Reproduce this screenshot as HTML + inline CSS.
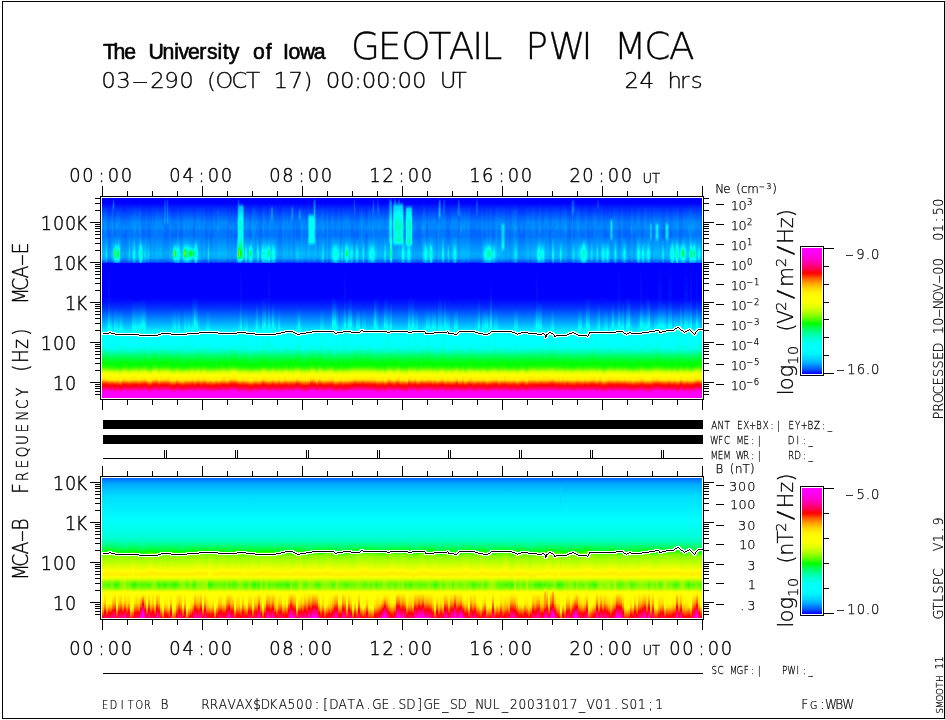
<!DOCTYPE html>
<html lang="en"><head><meta charset="utf-8"><title>GEOTAIL PWI MCA</title>
<style>html,body{margin:0;padding:0;background:#fff;overflow:hidden}#pg{position:relative;width:945px;height:720px;overflow:hidden;background:#fff}#s1a,#s1b,#s2{position:absolute;left:102px;width:600px;overflow:hidden;font-size:0;line-height:0}#s1a{top:198px;height:65px}#s1b{top:263px;height:135px}#s2{top:478px;height:140px}i{display:block;float:left;width:2px;height:100%;background:linear-gradient(var(--g))}#s1a i{width:1px}svg{position:absolute;left:0;top:0;display:block}text{fill:#000}</style>
</head><body><div id="pg">
<div id="s1a"><i style="--g:#00f,#00f 5px,#03f 11px,#08f 24px,#08f 30px,#07f 33px,#07f 38px,#0bf 56px,#0af 60px,#07f 63px,#03f"></i><i style="--g:#00f,#00f 5px,#03f 11px,#08f 24px,#08f 30px,#07f 33px,#07f 38px,#0bf 56px,#0af 60px,#07f 63px,#03f"></i><i style="--g:#00f,#00f 5px,#05f 14px,#08f 24px,#09f 30px,#08f 33px,#07f 38px,#0bf 56px,#0af 60px,#07f 63px,#04f"></i><i style="--g:#00f,#00f 5px,#03f 11px,#08f 24px,#09f 30px,#08f 33px,#07f 38px,#0cf 56px,#0bf 60px,#08f 63px,#04f"></i><i style="--g:#00f,#00f 5px,#03f 11px,#08f 24px,#08f 30px,#07f 33px,#07f 38px,#0ef 56px,#0df 60px,#09f 63px,#05f"></i><i style="--g:#00f,#00f 5px,#03f 11px,#07f 24px,#08f 30px,#07f 33px,#07f 38px,#0bf 56px,#0af 60px,#07f 63px,#03f"></i><i style="--g:#00f,#00f 5px,#01f 7px,#07f 24px,#07f 30px,#06f 33px,#06f 38px,#0af 56px,#09f 60px,#06f 63px,#03f"></i><i style="--g:#00f,#00f 5px,#01f 7px,#07f 24px,#08f 30px,#06f 33px,#06f 38px,#0af 56px,#09f 60px,#06f 63px,#03f"></i><i style="--g:#00f,#00f 5px,#01f 7px,#07f 24px,#08f 30px,#07f 33px,#06f 38px,#0af 56px,#09f 60px,#06f 63px,#03f"></i><i style="--g:#00f,#00f 5px,#03f 11px,#08f 24px,#08f 30px,#07f 33px,#07f 38px,#0bf 56px,#0af 60px,#07f 63px,#03f"></i><i style="--g:#00f,#01f 5px,#04f 9px,#08f 24px,#09f 30px,#08f 33px,#07f 38px,#0cf 56px,#0bf 60px,#08f 63px,#04f"></i><i style="--g:#00f,#05f 4px,#07f 9px,#04f 14px,#07f 24px,#08f 30px,#07f 33px,#07f 38px,#0ef 56px,#0df 60px,#09f 63px,#05f"></i><i style="--g:#00f,#03f 9px,#03f 14px,#07f 24px,#07f 30px,#06f 33px,#06f 38px,#09f 45px,#0cf 49px,#0ff 51px,#0f9 54px,#0f8 56px,#0fe 60px,#0ef 61px,#06f"></i><i style="--g:#00f,#00f 5px,#03f 11px,#07f 24px,#08f 30px,#07f 33px,#07f 38px,#0af 45px,#0ff 49px,#0fd 50px,#0fa 51px,#1f0 53px,#5f0 54px,#8f0 55px,#9f0 56px,#6f0 57px,#1f0 58px,#0f4 59px,#0fd 61px,#0ff 62px,#08f"></i><i style="--g:#00f,#00f 5px,#03f 11px,#08f 24px,#09f 30px,#07f 33px,#07f 38px,#0af 45px,#0ff 50px,#0fa 54px,#0f9 56px,#0fd 60px,#0ff 61px,#0cf 63px,#09f"></i><i style="--g:#00f,#00f 5px,#03f 11px,#08f 24px,#09f 30px,#07f 33px,#07f 38px,#0af 45px,#0ff 51px,#0fc 56px,#0fe 60px,#0ff 61px,#0cf 63px,#08f"></i><i style="--g:#00f,#00f 5px,#03f 11px,#08f 24px,#08f 30px,#07f 33px,#07f 38px,#08f 40px,#0bf 45px,#0ff 49px,#0fb 51px,#0f3 54px,#0f1 55px,#0f1 56px,#0f2 57px,#0ff 62px,#09f"></i><i style="--g:#00f,#00f 5px,#03f 11px,#08f 24px,#08f 30px,#07f 33px,#07f 38px,#0af 45px,#0ff 51px,#0fe 52px,#0fc 54px,#0fb 56px,#0fe 60px,#0bf 63px,#07f"></i><i style="--g:#00f,#00f 5px,#03f 11px,#07f 24px,#08f 30px,#07f 33px,#07f 38px,#0cf 56px,#0bf 60px,#07f 63px,#04f"></i><i style="--g:#00f,#00f 5px,#03f 11px,#07f 24px,#08f 30px,#07f 33px,#07f 38px,#0af 56px,#0af 60px,#06f 63px,#03f"></i><i style="--g:#00f,#00f 5px,#01f 7px,#07f 24px,#08f 30px,#07f 33px,#06f 38px,#0af 56px,#09f 60px,#06f 63px,#03f"></i><i style="--g:#00f,#00f 5px,#01f 7px,#07f 24px,#08f 30px,#07f 33px,#06f 38px,#0af 56px,#09f 60px,#06f 63px,#03f"></i><i style="--g:#00f,#00f 5px,#01f 7px,#07f 24px,#08f 30px,#07f 33px,#06f 38px,#0af 56px,#09f 60px,#06f 63px,#03f"></i><i style="--g:#00f,#00f 5px,#01f 7px,#07f 24px,#08f 30px,#06f 33px,#06f 38px,#0af 56px,#09f 60px,#06f 63px,#03f"></i><i style="--g:#00f,#00f 5px,#01f 7px,#07f 24px,#08f 30px,#06f 33px,#06f 38px,#0af 56px,#09f 60px,#06f 63px,#03f"></i><i style="--g:#00f,#00f 5px,#03f 11px,#07f 24px,#08f 30px,#07f 33px,#07f 38px,#0af 56px,#0af 60px,#06f 63px,#03f"></i><i style="--g:#00f,#00f 5px,#03f 11px,#07f 24px,#08f 30px,#07f 33px,#07f 38px,#0bf 56px,#0af 60px,#07f 63px,#03f"></i><i style="--g:#00f,#00f 5px,#03f 11px,#07f 24px,#08f 30px,#07f 33px,#07f 38px,#0df 56px,#0cf 60px,#09f 63px,#05f"></i><i style="--g:#00f,#00f 5px,#03f 11px,#08f 24px,#08f 30px,#07f 33px,#07f 38px,#0bf 56px,#0af 60px,#07f 63px,#03f"></i><i style="--g:#00f,#00f 5px,#03f 11px,#08f 24px,#08f 30px,#07f 33px,#07f 38px,#0bf 56px,#0af 60px,#07f 63px,#03f"></i><i style="--g:#00f,#00f 5px,#03f 11px,#08f 24px,#08f 30px,#07f 33px,#07f 38px,#0cf 56px,#0cf 60px,#08f 63px,#04f"></i><i style="--g:#00f,#00f 5px,#03f 11px,#08f 24px,#09f 30px,#07f 33px,#07f 38px,#0ff 56px,#0ef 60px,#0af 63px,#06f"></i><i style="--g:#00f,#00f 5px,#05f 14px,#08f 24px,#09f 30px,#08f 33px,#08f 38px,#0af 45px,#0ff 55px,#0ef 60px,#0af 63px,#07f"></i><i style="--g:#00f,#00f 5px,#05f 14px,#08f 24px,#09f 30px,#08f 33px,#07f 38px,#0df 56px,#0cf 60px,#09f 63px,#05f"></i><i style="--g:#00f,#00f 5px,#03f 11px,#08f 24px,#08f 30px,#07f 33px,#07f 38px,#0bf 56px,#0bf 60px,#07f 63px,#04f"></i><i style="--g:#00f,#00f 5px,#03f 11px,#08f 24px,#08f 30px,#07f 33px,#07f 38px,#0bf 56px,#0bf 60px,#07f 63px,#04f"></i><i style="--g:#00f,#00f 5px,#03f 11px,#08f 24px,#08f 30px,#07f 33px,#07f 38px,#0df 56px,#0cf 60px,#08f 63px,#05f"></i><i style="--g:#00f,#00f 5px,#05f 14px,#08f 24px,#09f 30px,#08f 33px,#07f 38px,#0af 45px,#0ff 53px,#0ff 55px,#0ef 60px,#0bf 63px,#07f"></i><i style="--g:#00f,#00f 5px,#05f 14px,#08f 24px,#09f 30px,#08f 33px,#08f 38px,#08f 40px,#0bf 45px,#0ff 49px,#0fc 53px,#0fb 56px,#0fc 60px,#0ff 62px,#0af"></i><i style="--g:#00f,#00f 5px,#03f 11px,#07f 24px,#08f 30px,#07f 33px,#07f 38px,#0af 45px,#0ff 50px,#0fd 53px,#0fc 56px,#0fd 60px,#0ff 61px,#0df 63px,#09f"></i><i style="--g:#00f,#00f 5px,#01f 7px,#07f 24px,#07f 30px,#06f 33px,#06f 38px,#09f 45px,#0df 53px,#0ef 56px,#0df 60px,#09f 63px,#06f"></i><i style="--g:#00f,#00f 5px,#01f 7px,#07f 24px,#07f 30px,#06f 33px,#06f 38px,#0cf 56px,#0bf 60px,#08f 63px,#04f"></i><i style="--g:#00f,#00f 5px,#01f 7px,#07f 24px,#07f 30px,#06f 33px,#06f 38px,#0df 56px,#0cf 60px,#08f 63px,#05f"></i><i style="--g:#00f,#00f 5px,#03f 11px,#07f 24px,#08f 30px,#07f 33px,#07f 38px,#0df 56px,#0cf 60px,#09f 63px,#05f"></i><i style="--g:#00f,#00f 5px,#03f 11px,#08f 24px,#08f 30px,#07f 33px,#07f 38px,#0bf 56px,#0bf 60px,#07f 63px,#04f"></i><i style="--g:#00f,#00f 5px,#01f 7px,#07f 24px,#07f 30px,#06f 33px,#06f 38px,#0cf 56px,#0bf 60px,#07f 63px,#04f"></i><i style="--g:#00f,#00f 5px,#01f 7px,#07f 24px,#07f 30px,#06f 33px,#06f 38px,#0df 56px,#0cf 60px,#08f 63px,#05f"></i><i style="--g:#00f,#00f 5px,#01f 7px,#07f 24px,#07f 30px,#06f 33px,#06f 38px,#0bf 56px,#0af 60px,#07f 63px,#03f"></i><i style="--g:#00f,#00f 5px,#01f 7px,#07f 24px,#07f 30px,#06f 33px,#06f 38px,#0af 56px,#09f 60px,#06f 63px,#02f"></i><i style="--g:#00f,#00f 5px,#01f 7px,#07f 24px,#08f 30px,#07f 33px,#07f 38px,#0af 56px,#0af 60px,#06f 63px,#03f"></i><i style="--g:#00f,#00f 5px,#03f 11px,#08f 24px,#08f 30px,#07f 33px,#07f 38px,#0bf 56px,#0af 60px,#06f 63px,#03f"></i><i style="--g:#00f,#00f 5px,#03f 11px,#07f 24px,#08f 30px,#07f 33px,#07f 38px,#0af 56px,#0af 60px,#06f 63px,#03f"></i><i style="--g:#00f,#00f 5px,#03f 11px,#07f 24px,#08f 30px,#07f 33px,#07f 38px,#0af 56px,#0af 60px,#06f 63px,#03f"></i><i style="--g:#00f,#00f 5px,#03f 11px,#08f 24px,#08f 30px,#07f 33px,#07f 38px,#0bf 56px,#0af 60px,#07f 63px,#04f"></i><i style="--g:#00f,#00f 5px,#05f 14px,#08f 24px,#09f 30px,#08f 33px,#07f 38px,#0bf 56px,#0af 60px,#07f 63px,#04f"></i><i style="--g:#00f,#00f 5px,#03f 11px,#08f 24px,#08f 30px,#07f 33px,#07f 38px,#0bf 56px,#0af 60px,#07f 63px,#03f"></i><i style="--g:#00f,#00f 5px,#03f 11px,#08f 24px,#08f 30px,#07f 33px,#07f 38px,#0bf 56px,#0af 60px,#07f 63px,#03f"></i><i style="--g:#00f,#00f 5px,#03f 11px,#08f 24px,#08f 30px,#07f 33px,#07f 38px,#0bf 56px,#0af 60px,#06f 63px,#03f"></i><i style="--g:#00f,#00f 5px,#03f 11px,#08f 24px,#08f 30px,#07f 33px,#07f 38px,#0bf 56px,#0af 60px,#06f 63px,#03f"></i><i style="--g:#00f,#00f 5px,#03f 11px,#08f 24px,#08f 30px,#07f 33px,#07f 38px,#0bf 56px,#0af 60px,#06f 63px,#03f"></i><i style="--g:#00f,#00f 5px,#03f 11px,#07f 24px,#08f 30px,#07f 33px,#07f 38px,#0af 56px,#0af 60px,#06f 63px,#03f"></i><i style="--g:#00f,#00f 5px,#01f 7px,#07f 24px,#08f 30px,#07f 33px,#06f 38px,#0af 56px,#09f 60px,#06f 63px,#03f"></i><i style="--g:#00f,#04f 7px,#09f 23px,#07f 28px,#06f 38px,#0af 56px,#09f 60px,#06f 63px,#03f"></i><i style="--g:#00f,#04f 7px,#09f 23px,#07f 28px,#06f 38px,#0af 56px,#09f 60px,#06f 63px,#02f"></i><i style="--g:#00f,#07f 23px,#06f 38px,#0af 56px,#09f 60px,#06f 63px,#02f"></i><i style="--g:#00f,#04f 4px,#0af 23px,#07f 28px,#06f 33px,#06f 38px,#0af 56px,#09f 60px,#06f 63px,#02f"></i><i style="--g:#00f,#01f 5px,#02f 7px,#08f 23px,#06f 38px,#0af 56px,#09f 60px,#06f 63px,#03f"></i><i style="--g:#00f,#00f 5px,#03f 11px,#08f 24px,#08f 30px,#07f 33px,#07f 38px,#0bf 56px,#0af 60px,#07f 63px,#03f"></i><i style="--g:#00f,#00f 5px,#03f 11px,#08f 24px,#08f 30px,#07f 33px,#07f 38px,#0bf 56px,#0af 60px,#07f 63px,#03f"></i><i style="--g:#00f,#00f 5px,#01f 7px,#07f 24px,#08f 30px,#07f 33px,#06f 38px,#0bf 56px,#0af 60px,#07f 63px,#03f"></i><i style="--g:#00f,#00f 5px,#01f 7px,#07f 24px,#07f 30px,#06f 33px,#06f 38px,#0cf 56px,#0bf 60px,#07f 63px,#04f"></i><i style="--g:#00f,#00f 5px,#01f 7px,#07f 24px,#08f 30px,#07f 33px,#06f 38px,#0af 48px,#0cf 50px,#0ff 52px,#0fb 54px,#0fa 56px,#0ff 59px,#0ef 60px,#05f"></i><i style="--g:#00f,#00f 5px,#01f 7px,#07f 24px,#08f 30px,#07f 33px,#06f 38px,#09f 45px,#0df 49px,#0fe 50px,#0fb 51px,#1f0 53px,#6f0 54px,#9f0 55px,#af0 56px,#6f0 57px,#1f0 58px,#0f5 59px,#0fe 61px,#0df 62px,#06f"></i><i style="--g:#00f,#00f 5px,#01f 7px,#07f 24px,#07f 30px,#06f 33px,#06f 38px,#09f 45px,#0ef 50px,#0fe 51px,#0f6 54px,#0f4 55px,#0f4 56px,#0f6 57px,#0ff 61px,#07f"></i><i style="--g:#00f,#00f 5px,#01f 7px,#07f 24px,#07f 30px,#06f 33px,#06f 38px,#09f 45px,#0ff 52px,#0fd 56px,#0ff 60px,#0bf 63px,#07f"></i><i style="--g:#00f,#00f 5px,#03f 11px,#08f 24px,#08f 30px,#07f 33px,#07f 38px,#0af 45px,#0ff 51px,#0fd 56px,#0fe 60px,#0ff 61px,#0cf 63px,#08f"></i><i style="--g:#00f,#00f 5px,#03f 11px,#08f 24px,#08f 30px,#07f 33px,#07f 38px,#0af 45px,#0ff 51px,#0ff 52px,#0fd 56px,#0ff 61px,#0cf 63px,#08f"></i><i style="--g:#00f,#00f 5px,#01f 7px,#07f 24px,#08f 30px,#07f 33px,#06f 38px,#09f 45px,#0ef 53px,#0ff 56px,#0ef 60px,#0af 63px,#06f"></i><i style="--g:#00f,#00f 5px,#01f 7px,#07f 24px,#07f 30px,#06f 33px,#06f 38px,#0df 56px,#0cf 60px,#08f 63px,#05f"></i><i style="--g:#00f,#00f 5px,#01f 7px,#07f 24px,#07f 30px,#06f 33px,#06f 38px,#0cf 56px,#0bf 60px,#08f 63px,#04f"></i><i style="--g:#00f,#00f 5px,#01f 7px,#07f 24px,#08f 30px,#07f 33px,#06f 38px,#0df 56px,#0cf 60px,#08f 63px,#04f"></i><i style="--g:#00f,#00f 5px,#03f 11px,#08f 24px,#08f 30px,#07f 33px,#07f 38px,#0bf 47px,#0ef 51px,#0fe 52px,#0fb 54px,#0fa 56px,#0ff 60px,#06f"></i><i style="--g:#00f,#00f 5px,#03f 11px,#08f 24px,#09f 30px,#08f 33px,#07f 38px,#0af 45px,#0ef 49px,#0fe 50px,#0fb 51px,#0f1 53px,#4f0 54px,#7f0 55px,#7f0 56px,#4f0 57px,#0f0 58px,#0f5 59px,#0fe 61px,#0df 62px,#07f"></i><i style="--g:#00f,#00f 5px,#03f 11px,#08f 24px,#08f 30px,#07f 33px,#07f 38px,#0af 45px,#0ef 49px,#0fd 50px,#0fa 51px,#0f0 53px,#5f0 54px,#8f0 55px,#8f0 56px,#5f0 57px,#0f0 58px,#0fd 61px,#0ef 62px,#08f"></i><i style="--g:#00f,#00f 5px,#03f 11px,#08f 24px,#08f 30px,#07f 33px,#07f 38px,#0af 45px,#0ff 50px,#0f8 54px,#0f7 56px,#0fe 61px,#0cf 63px,#08f"></i><i style="--g:#00f,#00f 5px,#03f 11px,#08f 24px,#08f 30px,#07f 33px,#07f 38px,#0af 45px,#0ff 50px,#0fe 51px,#0fc 56px,#0fd 60px,#0ff 61px,#0df 63px,#09f"></i><i style="--g:#00f,#00f 5px,#03f 11px,#08f 24px,#09f 30px,#07f 33px,#07f 38px,#0af 45px,#0ff 51px,#0fc 56px,#0fe 60px,#0ff 61px,#0cf 63px,#08f"></i><i style="--g:#00f,#00f 5px,#03f 11px,#08f 24px,#08f 30px,#07f 33px,#07f 38px,#0af 45px,#0cf 48px,#0ff 50px,#0fd 51px,#0f3 54px,#0f1 55px,#0f1 56px,#0f3 57px,#0ff 61px,#07f"></i><i style="--g:#00f,#00f 5px,#03f 11px,#08f 24px,#08f 30px,#07f 33px,#07f 38px,#0af 46px,#0bf 48px,#0ef 50px,#0fe 51px,#0f4 54px,#0f2 55px,#0f2 56px,#0f4 57px,#0fe 60px,#0df 61px,#05f"></i><i style="--g:#00f,#00f 5px,#03f 11px,#08f 24px,#08f 30px,#07f 33px,#07f 38px,#0af 47px,#0cf 49px,#0df 50px,#0fe 51px,#0f2 54px,#0f0 55px,#0f0 56px,#0f2 57px,#0fe 60px,#0df 61px,#05f"></i><i style="--g:#00f,#00f 5px,#03f 11px,#08f 24px,#08f 30px,#07f 33px,#07f 38px,#0af 48px,#0bf 50px,#0ef 52px,#0fe 53px,#0fb 55px,#0fb 56px,#0ef 59px,#04f"></i><i style="--g:#00f,#00f 5px,#01f 7px,#07f 24px,#07f 30px,#06f 33px,#06f 38px,#0af 48px,#0cf 50px,#0ff 51px,#0f3 54px,#0f0 55px,#0f0 56px,#0f2 57px,#0ff 60px,#09f 62px,#04f"></i><i style="--g:#00f,#00f 5px,#01f 7px,#07f 24px,#07f 30px,#06f 33px,#06f 38px,#09f 45px,#0ff 52px,#0fd 54px,#0fc 56px,#0ff 60px,#0af 63px,#06f"></i><i style="--g:#00f,#00f 5px,#03f 11px,#07f 24px,#08f 30px,#07f 33px,#07f 38px,#07f 40px,#0bf 45px,#0ff 48px,#0fe 49px,#0fd 52px,#0fc 56px,#0fd 60px,#0ff 62px,#0af"></i><i style="--g:#00f,#00f 5px,#03f 11px,#08f 24px,#08f 30px,#07f 33px,#07f 38px,#0af 45px,#0ef 49px,#0ff 51px,#0fd 56px,#0fe 60px,#0ff 61px,#0df 63px,#09f"></i><i style="--g:#00f,#00f 5px,#03f 11px,#08f 24px,#08f 30px,#07f 33px,#07f 38px,#09f 45px,#0ef 53px,#0ff 56px,#0ef 60px,#0af 63px,#06f"></i><i style="--g:#00f,#00f 5px,#03f 11px,#08f 24px,#08f 30px,#07f 33px,#07f 38px,#0cf 56px,#0bf 60px,#08f 63px,#04f"></i><i style="--g:#00f,#00f 5px,#03f 11px,#08f 24px,#09f 30px,#07f 33px,#07f 38px,#0bf 56px,#0bf 60px,#07f 63px,#04f"></i><i style="--g:#00f,#00f 5px,#03f 11px,#08f 24px,#08f 30px,#07f 33px,#07f 38px,#0bf 56px,#0af 60px,#07f 63px,#04f"></i><i style="--g:#00f,#00f 5px,#03f 11px,#07f 24px,#08f 30px,#07f 33px,#07f 38px,#0af 56px,#0af 60px,#06f 63px,#03f"></i><i style="--g:#00f,#00f 5px,#03f 11px,#07f 24px,#08f 30px,#07f 33px,#07f 38px,#0af 56px,#0af 60px,#06f 63px,#03f"></i><i style="--g:#00f,#00f 5px,#03f 11px,#08f 24px,#08f 30px,#07f 33px,#07f 38px,#0bf 56px,#0af 60px,#06f 63px,#03f"></i><i style="--g:#00f,#00f 5px,#03f 11px,#08f 24px,#08f 30px,#07f 33px,#07f 38px,#0bf 56px,#0af 60px,#06f 63px,#03f"></i><i style="--g:#00f,#00f 5px,#01f 7px,#07f 24px,#07f 30px,#06f 33px,#06f 38px,#0af 56px,#09f 60px,#06f 63px,#02f"></i><i style="--g:#00f,#00f 5px,#01f 7px,#07f 24px,#07f 30px,#06f 33px,#06f 38px,#0af 56px,#09f 60px,#06f 63px,#02f"></i><i style="--g:#00f,#00f 5px,#01f 7px,#07f 24px,#08f 30px,#07f 33px,#06f 38px,#0bf 56px,#0bf 60px,#07f 63px,#04f"></i><i style="--g:#00f,#00f 5px,#03f 11px,#07f 24px,#08f 30px,#07f 33px,#07f 38px,#0ef 56px,#0df 60px,#09f 63px,#06f"></i><i style="--g:#00f,#00f 5px,#01f 7px,#07f 24px,#08f 30px,#07f 33px,#06f 38px,#0bf 56px,#0af 60px,#07f 63px,#03f"></i><i style="--g:#00f,#00f 5px,#01f 7px,#07f 24px,#08f 30px,#07f 33px,#06f 38px,#0af 56px,#09f 60px,#06f 63px,#03f"></i><i style="--g:#00f,#00f 5px,#01f 7px,#07f 24px,#07f 30px,#06f 33px,#06f 38px,#0af 56px,#09f 60px,#06f 63px,#02f"></i><i style="--g:#00f,#00f 5px,#01f 7px,#07f 24px,#08f 30px,#06f 33px,#06f 38px,#0af 56px,#09f 60px,#06f 63px,#03f"></i><i style="--g:#00f,#00f 5px,#03f 11px,#08f 24px,#08f 30px,#07f 33px,#07f 38px,#0bf 56px,#0af 60px,#07f 63px,#03f"></i><i style="--g:#00f,#00f 5px,#03f 11px,#08f 24px,#08f 30px,#07f 33px,#07f 38px,#0bf 56px,#0af 60px,#07f 63px,#03f"></i><i style="--g:#00f,#00f 5px,#03f 11px,#07f 24px,#08f 30px,#07f 33px,#07f 38px,#0af 56px,#0af 60px,#06f 63px,#03f"></i><i style="--g:#00f,#00f 5px,#03f 11px,#07f 24px,#08f 30px,#07f 33px,#07f 38px,#0af 56px,#0af 60px,#06f 63px,#03f"></i><i style="--g:#00f,#00f 5px,#05f 14px,#08f 24px,#09f 30px,#08f 33px,#07f 38px,#0bf 56px,#0af 60px,#07f 63px,#04f"></i><i style="--g:#00f,#00f 5px,#05f 14px,#08f 24px,#09f 30px,#08f 33px,#07f 38px,#0bf 56px,#0af 60px,#07f 63px,#04f"></i><i style="--g:#00f,#00f 5px,#03f 11px,#08f 24px,#08f 30px,#07f 33px,#07f 38px,#0bf 56px,#0af 60px,#07f 63px,#03f"></i><i style="--g:#00f,#00f 5px,#03f 11px,#08f 24px,#08f 30px,#07f 33px,#07f 38px,#0bf 56px,#0af 60px,#07f 63px,#03f"></i><i style="--g:#00f,#00f 5px,#03f 11px,#08f 24px,#08f 30px,#07f 33px,#07f 38px,#0bf 56px,#0af 60px,#07f 63px,#03f"></i><i style="--g:#00f,#00f 5px,#03f 11px,#08f 24px,#08f 30px,#07f 33px,#07f 38px,#0bf 56px,#0af 60px,#07f 63px,#03f"></i><i style="--g:#00f,#00f 5px,#03f 11px,#08f 24px,#08f 30px,#07f 33px,#07f 38px,#0bf 56px,#0af 60px,#07f 63px,#03f"></i><i style="--g:#00f,#00f 5px,#03f 11px,#08f 24px,#08f 30px,#07f 33px,#07f 38px,#0bf 56px,#0af 60px,#07f 63px,#03f"></i><i style="--g:#00f,#00f 5px,#03f 11px,#08f 24px,#08f 30px,#07f 33px,#07f 38px,#0bf 56px,#0af 60px,#07f 63px,#03f"></i><i style="--g:#00f,#00f 5px,#03f 11px,#08f 24px,#08f 30px,#07f 33px,#07f 38px,#0bf 56px,#0af 60px,#06f 63px,#03f"></i><i style="--g:#00f,#00f 5px,#01f 7px,#07f 24px,#07f 30px,#06f 33px,#06f 38px,#0af 56px,#09f 60px,#06f 63px,#02f"></i><i style="--g:#00f,#00f 5px,#01f 7px,#07f 24px,#07f 30px,#06f 33px,#06f 38px,#0af 56px,#09f 60px,#06f 63px,#02f"></i><i style="--g:#00f,#00f 5px,#03f 11px,#07f 24px,#08f 30px,#07f 33px,#07f 38px,#0af 56px,#0af 60px,#06f 63px,#03f"></i><i style="--g:#00f,#00f 5px,#03f 11px,#07f 24px,#08f 30px,#07f 33px,#07f 38px,#0af 56px,#0af 60px,#06f 63px,#03f"></i><i style="--g:#00f,#00f 5px,#01f 7px,#07f 24px,#08f 30px,#06f 33px,#06f 38px,#0af 56px,#09f 60px,#06f 63px,#03f"></i><i style="--g:#00f,#00f 5px,#01f 7px,#07f 24px,#08f 30px,#07f 33px,#06f 38px,#0af 56px,#09f 60px,#06f 63px,#03f"></i><i style="--g:#00f,#00f 5px,#03f 11px,#07f 24px,#08f 30px,#07f 33px,#07f 38px,#0af 56px,#0af 60px,#06f 63px,#03f"></i><i style="--g:#00f,#00f 5px,#01f 7px,#07f 24px,#08f 30px,#07f 33px,#06f 38px,#0af 56px,#09f 60px,#06f 63px,#03f"></i><i style="--g:#00f,#00f 5px,#01f 7px,#07f 24px,#07f 30px,#06f 33px,#06f 38px,#0af 56px,#09f 60px,#06f 63px,#02f"></i><i style="--g:#00f,#00f 5px,#01f 7px,#07f 24px,#08f 30px,#07f 33px,#06f 38px,#0bf 56px,#0af 60px,#07f 63px,#03f"></i><i style="--g:#00f,#01f 5px,#06f 14px,#0af 24px,#0af 30px,#09f 33px,#09f 38px,#0ff 54px,#0ff 58px,#0ef 60px,#0af 63px,#06f"></i><i style="--g:#00f,#05f 4px,#07f 8px,#09f 9px,#0cf 14px,#0ff 24px,#0ef 38px,#0ff 40px,#0fd 45px,#0fa 49px,#0f7 51px,#0f1 54px,#0f0 55px,#0f1 57px,#0f4 59px,#0fe 62px,#0df 63px,#09f 64px,#07f"></i><i style="--g:#00f,#01f 5px,#03f 6px,#0bf 9px,#0ff 21px,#0fe 24px,#0fd 30px,#0ff 33px,#0ff 38px,#0fc 45px,#0f9 47px,#0f7 49px,#0f4 50px,#0f1 51px,#4f0 52px,#ef0 54px,#fc0 55px,#fc0 56px,#ff0 57px,#5f0 59px,#0f2 60px,#0f7 61px,#0fc 62px,#0ef 63px,#0af 64px,#08f"></i><i style="--g:#00f,#00f 5px,#0bf 9px,#0ff 20px,#0fe 24px,#0fd 30px,#0fe 33px,#0fe 40px,#0fb 45px,#0f7 50px,#0f1 54px,#0f0 56px,#0f3 59px,#0fd 62px,#0df 63px,#0af 64px,#08f"></i><i style="--g:#00f,#00f 5px,#0bf 9px,#0ff 19px,#0fd 24px,#0fd 30px,#0fe 33px,#0fe 38px,#0fb 45px,#0f7 53px,#0f6 56px,#0f7 59px,#0f9 60px,#0ff 62px,#08f 64px,#06f"></i><i style="--g:#00f,#00f 5px,#0bf 9px,#0ff 20px,#0fd 24px,#0fd 30px,#0fe 33px,#0fe 38px,#0f9 56px,#0f9 59px,#0fe 61px,#0df 62px,#06f 64px,#04f"></i><i style="--g:#00f,#00f 5px,#07f 9px,#0cf 24px,#0cf 30px,#0bf 33px,#0bf 38px,#0ff 53px,#0fe 56px,#0ff 59px,#0ef 60px,#03f"></i><i style="--g:#00f,#00f 5px,#03f 11px,#07f 24px,#08f 30px,#07f 33px,#07f 38px,#0cf 56px,#0bf 60px,#08f 63px,#04f"></i><i style="--g:#00f,#00f 5px,#03f 11px,#08f 24px,#09f 30px,#08f 33px,#07f 38px,#0af 45px,#0ff 53px,#0fe 56px,#0ff 60px,#0bf 63px,#07f"></i><i style="--g:#00f,#00f 5px,#03f 11px,#08f 24px,#09f 30px,#07f 33px,#07f 38px,#0af 45px,#0ff 53px,#0fe 56px,#0ff 60px,#0bf 63px,#07f"></i><i style="--g:#00f,#00f 5px,#03f 11px,#08f 24px,#08f 30px,#07f 33px,#07f 38px,#0df 56px,#0cf 60px,#09f 63px,#05f"></i><i style="--g:#00f,#00f 5px,#03f 11px,#08f 24px,#08f 30px,#07f 33px,#07f 38px,#0df 56px,#0cf 60px,#09f 63px,#05f"></i><i style="--g:#00f,#00f 5px,#01f 7px,#07f 24px,#07f 30px,#06f 33px,#06f 38px,#09f 45px,#0ff 51px,#0fe 52px,#0fb 54px,#0fa 56px,#0fe 60px,#0bf 63px,#07f"></i><i style="--g:#00f,#00f 5px,#01f 7px,#07f 24px,#08f 30px,#07f 33px,#06f 38px,#0af 45px,#0ef 49px,#0fe 50px,#0fc 51px,#0f3 54px,#0f2 55px,#0f1 56px,#0f3 57px,#0fe 61px,#0ef 62px,#08f"></i><i style="--g:#00f,#00f 5px,#03f 11px,#08f 24px,#09f 30px,#07f 33px,#07f 38px,#0af 45px,#0ff 51px,#0fc 56px,#0fe 60px,#0ef 61px,#0cf 63px,#08f"></i><i style="--g:#00f,#00f 5px,#05f 14px,#08f 24px,#09f 30px,#08f 33px,#07f 38px,#0ef 56px,#0df 60px,#09f 63px,#06f"></i><i style="--g:#00f,#00f 5px,#05f 14px,#08f 24px,#09f 30px,#08f 33px,#08f 38px,#0cf 56px,#0bf 60px,#08f 63px,#04f"></i><i style="--g:#00f,#00f 5px,#05f 14px,#08f 24px,#09f 30px,#08f 33px,#08f 38px,#0bf 56px,#0bf 60px,#07f 63px,#04f"></i><i style="--g:#00f,#00f 5px,#05f 14px,#08f 24px,#09f 30px,#08f 33px,#07f 38px,#0bf 56px,#0bf 60px,#07f 63px,#04f"></i><i style="--g:#00f,#00f 5px,#03f 11px,#08f 24px,#08f 30px,#07f 33px,#07f 38px,#0cf 56px,#0bf 60px,#08f 63px,#04f"></i><i style="--g:#00f,#00f 5px,#03f 11px,#08f 24px,#08f 30px,#07f 33px,#07f 38px,#0af 45px,#0ff 53px,#0ff 55px,#0ef 60px,#0af 63px,#07f"></i><i style="--g:#00f,#00f 5px,#03f 11px,#07f 24px,#08f 30px,#07f 33px,#07f 38px,#09f 45px,#0ef 53px,#0ff 56px,#0ef 60px,#0af 63px,#06f"></i><i style="--g:#00f,#00f 5px,#01f 7px,#07f 24px,#07f 30px,#06f 33px,#06f 38px,#0bf 56px,#0af 60px,#07f 63px,#03f"></i><i style="--g:#00f,#00f 5px,#01f 7px,#07f 24px,#07f 30px,#06f 33px,#06f 38px,#0bf 56px,#0af 60px,#07f 63px,#03f"></i><i style="--g:#00f,#00f 5px,#01f 7px,#07f 24px,#07f 30px,#06f 33px,#06f 38px,#0ef 56px,#0df 60px,#09f 63px,#05f"></i><i style="--g:#00f,#00f 5px,#03f 11px,#07f 24px,#08f 30px,#07f 33px,#07f 38px,#0af 45px,#0ff 52px,#0fe 56px,#0ff 60px,#0bf 63px,#08f"></i><i style="--g:#00f,#00f 5px,#05f 14px,#08f 24px,#09f 30px,#08f 33px,#07f 38px,#0af 45px,#0ff 52px,#0fd 56px,#0fe 60px,#0cf 63px,#08f"></i><i style="--g:#00f,#00f 5px,#03f 11px,#08f 24px,#08f 30px,#07f 33px,#07f 38px,#0af 45px,#0ff 54px,#0fe 56px,#0ff 60px,#0bf 63px,#07f"></i><i style="--g:#00f,#00f 5px,#03f 11px,#08f 24px,#08f 30px,#07f 33px,#07f 38px,#0af 45px,#0ff 52px,#0fe 56px,#0ff 60px,#0cf 63px,#08f"></i><i style="--g:#00f,#00f 5px,#03f 11px,#07f 24px,#08f 30px,#07f 33px,#07f 38px,#0af 45px,#0ff 52px,#0fd 56px,#0fe 60px,#0cf 63px,#08f"></i><i style="--g:#00f,#00f 5px,#01f 7px,#07f 24px,#07f 30px,#06f 33px,#06f 38px,#09f 45px,#0ff 52px,#0fd 56px,#0ff 60px,#0bf 63px,#07f"></i><i style="--g:#00f,#00f 5px,#03f 11px,#07f 24px,#08f 30px,#07f 33px,#07f 38px,#0af 45px,#0ef 49px,#0fe 50px,#0fd 51px,#0f6 54px,#0f4 55px,#0f4 56px,#0f6 57px,#0fe 61px,#0cf 63px,#08f"></i><i style="--g:#00f,#00f 5px,#05f 14px,#08f 24px,#09f 30px,#08f 33px,#07f 38px,#0af 45px,#0fe 51px,#0fb 54px,#0fb 56px,#0fd 60px,#0ff 61px,#08f"></i><i style="--g:#00f,#00f 5px,#03f 11px,#08f 24px,#08f 30px,#07f 33px,#07f 38px,#0ef 56px,#0df 60px,#0af 63px,#06f"></i><i style="--g:#00f,#00f 5px,#01f 7px,#07f 11px,#09f 19px,#08f 24px,#08f 30px,#07f 33px,#07f 38px,#0ef 56px,#0df 60px,#09f 63px,#06f"></i><i style="--g:#00f,#00f 5px,#01f 7px,#07f 11px,#09f 19px,#08f 24px,#08f 30px,#07f 33px,#07f 38px,#0af 45px,#0ff 53px,#0fe 56px,#0ff 60px,#0bf 63px,#07f"></i><i style="--g:#00f,#00f 5px,#03f 11px,#08f 24px,#08f 30px,#07f 33px,#07f 38px,#0af 45px,#0ff 52px,#0fd 56px,#0fe 60px,#0cf 63px,#08f"></i><i style="--g:#00f,#00f 5px,#03f 11px,#07f 24px,#08f 30px,#07f 33px,#07f 38px,#09f 45px,#0ff 54px,#0fe 56px,#0ff 60px,#0bf 63px,#07f"></i><i style="--g:#00f,#00f 5px,#03f 11px,#07f 24px,#08f 30px,#07f 33px,#07f 38px,#0df 56px,#0cf 60px,#09f 63px,#05f"></i><i style="--g:#00f,#00f 5px,#03f 11px,#07f 24px,#08f 30px,#07f 33px,#07f 38px,#0bf 56px,#0af 60px,#07f 63px,#04f"></i><i style="--g:#00f,#00f 5px,#03f 11px,#07f 24px,#08f 30px,#07f 33px,#07f 38px,#0bf 56px,#0af 60px,#06f 63px,#03f"></i><i style="--g:#00f,#00f 5px,#01f 7px,#07f 24px,#08f 30px,#07f 33px,#06f 38px,#0af 56px,#09f 60px,#06f 63px,#03f"></i><i style="--g:#00f,#00f 5px,#01f 7px,#07f 24px,#07f 30px,#06f 33px,#06f 38px,#0af 56px,#09f 60px,#06f 63px,#03f"></i><i style="--g:#00f,#00f 5px,#01f 7px,#07f 24px,#07f 30px,#06f 33px,#06f 38px,#0af 56px,#09f 60px,#06f 63px,#02f"></i><i style="--g:#00f,#00f 5px,#01f 7px,#07f 24px,#07f 30px,#06f 33px,#06f 38px,#0af 56px,#09f 60px,#06f 63px,#02f"></i><i style="--g:#00f,#00f 5px,#03f 11px,#07f 24px,#08f 30px,#07f 33px,#07f 38px,#0af 56px,#0af 60px,#06f 63px,#03f"></i><i style="--g:#00f,#00f 5px,#05f 14px,#08f 24px,#09f 30px,#08f 33px,#07f 38px,#0bf 56px,#0af 60px,#07f 63px,#04f"></i><i style="--g:#00f,#00f 5px,#03f 11px,#08f 24px,#08f 30px,#07f 33px,#07f 38px,#0bf 56px,#0af 60px,#07f 63px,#03f"></i><i style="--g:#00f,#00f 5px,#03f 11px,#07f 24px,#08f 30px,#07f 33px,#07f 38px,#0af 56px,#0af 60px,#06f 63px,#03f"></i><i style="--g:#00f,#00f 5px,#03f 11px,#08f 24px,#08f 30px,#07f 33px,#07f 38px,#0bf 56px,#0af 60px,#06f 63px,#03f"></i><i style="--g:#00f,#00f 5px,#03f 11px,#08f 24px,#08f 30px,#07f 33px,#07f 38px,#0bf 56px,#0af 60px,#06f 63px,#03f"></i><i style="--g:#00f,#00f 5px,#03f 11px,#07f 24px,#08f 30px,#07f 33px,#07f 38px,#0af 56px,#0af 60px,#06f 63px,#03f"></i><i style="--g:#00f,#00f 5px,#01f 7px,#07f 24px,#08f 30px,#07f 33px,#06f 38px,#0af 56px,#09f 60px,#06f 63px,#03f"></i><i style="--g:#00f,#00f 5px,#03f 11px,#08f 24px,#08f 30px,#07f 33px,#07f 38px,#0bf 56px,#0af 60px,#06f 63px,#03f"></i><i style="--g:#00f,#00f 5px,#05f 11px,#08f 19px,#08f 30px,#07f 33px,#07f 38px,#0bf 56px,#0af 60px,#07f 63px,#03f"></i><i style="--g:#00f,#00f 5px,#01f 7px,#07f 11px,#09f 19px,#07f 24px,#08f 30px,#07f 33px,#07f 38px,#0af 56px,#0af 60px,#06f 63px,#03f"></i><i style="--g:#00f,#00f 5px,#04f 11px,#06f 19px,#07f 30px,#06f 33px,#06f 38px,#0af 56px,#09f 60px,#06f 63px,#02f"></i><i style="--g:#00f,#00f 5px,#01f 7px,#07f 24px,#07f 30px,#06f 33px,#06f 38px,#0af 56px,#09f 60px,#06f 63px,#02f"></i><i style="--g:#00f,#00f 5px,#03f 11px,#07f 24px,#08f 30px,#07f 33px,#07f 38px,#0bf 56px,#0af 60px,#07f 63px,#03f"></i><i style="--g:#00f,#00f 5px,#01f 7px,#07f 24px,#07f 30px,#06f 33px,#06f 38px,#0cf 56px,#0bf 60px,#07f 63px,#04f"></i><i style="--g:#00f,#00f 5px,#01f 7px,#07f 24px,#07f 30px,#06f 33px,#06f 38px,#0df 56px,#0cf 60px,#08f 63px,#04f"></i><i style="--g:#00f,#00f 5px,#02f 10px,#05f 14px,#07f 19px,#07f 30px,#06f 33px,#06f 38px,#0cf 56px,#0bf 60px,#07f 63px,#04f"></i><i style="--g:#00f,#00f 5px,#02f 10px,#08f 14px,#0af 19px,#07f 24px,#07f 30px,#06f 33px,#06f 38px,#0bf 56px,#0af 60px,#06f 63px,#03f"></i><i style="--g:#00f,#00f 5px,#03f 10px,#06f 14px,#08f 19px,#08f 30px,#07f 33px,#07f 38px,#0bf 56px,#0af 60px,#07f 63px,#03f"></i><i style="--g:#00f,#00f 5px,#05f 14px,#08f 24px,#09f 30px,#08f 33px,#08f 38px,#0bf 56px,#0bf 60px,#07f 63px,#04f"></i><i style="--g:#00f,#00f 5px,#03f 11px,#08f 24px,#09f 30px,#07f 33px,#07f 38px,#0bf 56px,#0af 60px,#07f 63px,#04f"></i><i style="--g:#00f,#00f 5px,#03f 11px,#08f 24px,#08f 30px,#07f 33px,#07f 38px,#0bf 56px,#0af 60px,#07f 63px,#03f"></i><i style="--g:#00f,#00f 5px,#03f 11px,#08f 24px,#08f 30px,#07f 33px,#07f 38px,#0bf 56px,#0af 60px,#06f 63px,#03f"></i><i style="--g:#00f,#00f 5px,#03f 11px,#07f 24px,#08f 30px,#07f 33px,#07f 38px,#0af 56px,#0af 60px,#06f 63px,#03f"></i><i style="--g:#00f,#00f 5px,#03f 11px,#07f 24px,#08f 30px,#07f 33px,#07f 38px,#0af 56px,#0af 60px,#06f 63px,#03f"></i><i style="--g:#00f,#00f 5px,#03f 11px,#08f 24px,#08f 30px,#07f 33px,#07f 38px,#0bf 56px,#0af 60px,#06f 63px,#03f"></i><i style="--g:#00f,#00f 5px,#05f 15px,#0af 19px,#0cf 24px,#0cf 30px,#0bf 33px,#0bf 38px,#0df 43px,#0af 48px,#0bf 56px,#0af 60px,#07f 63px,#03f"></i><i style="--g:#00f,#00f 5px,#05f 15px,#0ff 19px,#0ff 20px,#0fe 24px,#0fd 30px,#0fe 33px,#0fe 38px,#0fd 43px,#0fe 44px,#0af 48px,#0bf 56px,#0af 60px,#07f 63px,#04f"></i><i style="--g:#00f,#00f 5px,#05f 15px,#0ef 19px,#0ff 22px,#0fe 30px,#0ff 33px,#0ff 38px,#0fd 43px,#0ff 44px,#09f 48px,#0bf 56px,#0af 60px,#07f 63px,#03f"></i><i style="--g:#00f,#00f 5px,#04f 15px,#0ef 19px,#0ff 23px,#0fe 30px,#0ff 33px,#0ff 39px,#0fe 43px,#0ff 44px,#09f 48px,#0af 56px,#09f 60px,#06f 63px,#03f"></i><i style="--g:#00f,#00f 5px,#04f 15px,#0ef 19px,#0ff 22px,#0fe 30px,#0ff 33px,#0ff 38px,#0fe 43px,#0ff 44px,#09f 48px,#0af 56px,#0af 60px,#06f 63px,#03f"></i><i style="--g:#00f,#03f 4px,#08f 16px,#09f 17px,#0ef 19px,#0ff 22px,#0fe 30px,#0ff 33px,#0ff 38px,#0fd 43px,#0ff 44px,#09f 48px,#0bf 56px,#0af 60px,#07f 63px,#03f"></i><i style="--g:#00f,#06f 4px,#0ef 24px,#0ef 30px,#0df 33px,#0df 38px,#0ef 43px,#09f 48px,#0bf 56px,#0af 60px,#07f 63px,#03f"></i><i style="--g:#00f,#03f 4px,#07f 14px,#0bf 24px,#0bf 30px,#0af 33px,#0af 38px,#0bf 43px,#0af 48px,#0bf 56px,#0af 60px,#07f 63px,#03f"></i><i style="--g:#00f,#00f 5px,#03f 11px,#08f 24px,#08f 30px,#07f 33px,#07f 38px,#0bf 56px,#0af 60px,#06f 63px,#03f"></i><i style="--g:#00f,#00f 5px,#01f 7px,#07f 24px,#08f 30px,#07f 33px,#06f 38px,#0af 56px,#09f 60px,#06f 63px,#03f"></i><i style="--g:#00f,#00f 5px,#03f 11px,#07f 24px,#08f 30px,#07f 33px,#07f 38px,#0af 56px,#0af 60px,#06f 63px,#03f"></i><i style="--g:#00f,#00f 5px,#03f 11px,#08f 24px,#08f 30px,#07f 33px,#07f 38px,#0bf 56px,#0af 60px,#06f 63px,#03f"></i><i style="--g:#00f,#00f 5px,#03f 11px,#08f 24px,#08f 30px,#07f 33px,#07f 38px,#0bf 56px,#0af 60px,#07f 63px,#03f"></i><i style="--g:#00f,#00f 5px,#03f 11px,#08f 24px,#08f 30px,#07f 33px,#07f 38px,#0bf 56px,#0bf 60px,#07f 63px,#04f"></i><i style="--g:#00f,#00f 5px,#05f 14px,#08f 24px,#09f 30px,#08f 33px,#07f 38px,#0df 56px,#0df 60px,#09f 63px,#05f"></i><i style="--g:#00f,#00f 5px,#05f 14px,#08f 24px,#09f 30px,#08f 33px,#07f 38px,#0ef 56px,#0df 60px,#09f 63px,#05f"></i><i style="--g:#00f,#00f 5px,#03f 11px,#07f 24px,#08f 30px,#07f 33px,#07f 38px,#0bf 56px,#0af 60px,#07f 63px,#03f"></i><i style="--g:#00f,#00f 5px,#01f 7px,#07f 24px,#07f 30px,#06f 33px,#06f 38px,#0af 56px,#09f 60px,#06f 63px,#02f"></i><i style="--g:#00f,#00f 5px,#03f 11px,#08f 24px,#08f 30px,#07f 33px,#07f 38px,#0bf 56px,#0af 60px,#07f 63px,#03f"></i><i style="--g:#00f,#00f 5px,#05f 14px,#08f 24px,#09f 30px,#08f 33px,#08f 38px,#0bf 56px,#0bf 60px,#07f 63px,#04f"></i><i style="--g:#00f,#00f 5px,#03f 11px,#07f 24px,#08f 30px,#07f 33px,#07f 38px,#0af 56px,#0af 60px,#06f 63px,#03f"></i><i style="--g:#00f,#00f 5px,#01f 7px,#07f 24px,#07f 30px,#06f 33px,#06f 38px,#0af 56px,#09f 60px,#06f 63px,#02f"></i><i style="--g:#00f,#00f 5px,#03f 11px,#07f 24px,#08f 30px,#07f 33px,#07f 38px,#0bf 56px,#0af 60px,#07f 63px,#03f"></i><i style="--g:#00f,#00f 5px,#03f 11px,#08f 24px,#08f 30px,#07f 33px,#07f 38px,#0df 56px,#0cf 60px,#08f 63px,#05f"></i><i style="--g:#00f,#00f 5px,#03f 11px,#08f 24px,#08f 30px,#07f 33px,#07f 38px,#0ef 56px,#0df 60px,#09f 63px,#06f"></i><i style="--g:#00f,#00f 5px,#03f 11px,#08f 24px,#08f 30px,#07f 33px,#07f 38px,#0af 45px,#0ff 53px,#0fe 56px,#0ff 60px,#0bf 63px,#07f"></i><i style="--g:#00f,#00f 5px,#03f 11px,#07f 24px,#08f 30px,#07f 33px,#07f 38px,#0af 45px,#0ef 50px,#0ff 52px,#0fd 56px,#0ff 61px,#0cf 63px,#08f"></i><i style="--g:#00f,#00f 5px,#01f 7px,#07f 24px,#07f 30px,#06f 33px,#06f 38px,#0af 45px,#0ff 50px,#0fd 56px,#0fe 60px,#0ff 61px,#0df 63px,#09f"></i><i style="--g:#00f,#00f 5px,#01f 7px,#07f 24px,#08f 30px,#07f 33px,#06f 38px,#0af 45px,#0ff 51px,#0fd 56px,#0fe 60px,#0ff 61px,#0cf 63px,#09f"></i><i style="--g:#00f,#00f 5px,#03f 11px,#07f 24px,#08f 30px,#07f 33px,#07f 38px,#09f 45px,#0ff 53px,#0fe 56px,#0ff 60px,#0bf 63px,#07f"></i><i style="--g:#00f,#00f 5px,#03f 11px,#08f 24px,#08f 30px,#07f 33px,#07f 38px,#0ff 56px,#0ef 60px,#0af 63px,#06f"></i><i style="--g:#00f,#00f 5px,#03f 11px,#08f 24px,#08f 30px,#07f 33px,#07f 38px,#0df 56px,#0cf 60px,#09f 63px,#05f"></i><i style="--g:#00f,#00f 5px,#01f 7px,#07f 24px,#08f 30px,#07f 33px,#06f 38px,#0cf 56px,#0bf 60px,#07f 63px,#04f"></i><i style="--g:#00f,#00f 5px,#01f 7px,#07f 24px,#07f 30px,#06f 33px,#06f 38px,#08f 45px,#0df 53px,#0ef 56px,#0df 60px,#09f 63px,#05f"></i><i style="--g:#00f,#00f 5px,#03f 11px,#07f 24px,#08f 30px,#07f 33px,#07f 38px,#0ef 56px,#0df 60px,#09f 63px,#06f"></i><i style="--g:#00f,#00f 5px,#03f 11px,#08f 24px,#08f 30px,#07f 33px,#07f 38px,#0cf 56px,#0bf 60px,#08f 63px,#04f"></i><i style="--g:#00f,#00f 5px,#03f 11px,#08f 24px,#08f 30px,#07f 33px,#07f 38px,#0df 56px,#0cf 60px,#08f 63px,#05f"></i><i style="--g:#00f,#00f 5px,#03f 11px,#08f 24px,#08f 30px,#07f 33px,#07f 38px,#0af 45px,#0ff 52px,#0fe 53px,#0fd 56px,#0ff 60px,#0bf 63px,#07f"></i><i style="--g:#00f,#00f 5px,#03f 11px,#08f 24px,#08f 30px,#07f 33px,#07f 38px,#0af 45px,#0ef 49px,#0fe 50px,#0fc 51px,#0f3 54px,#0f1 55px,#0f1 56px,#0f3 57px,#0fe 61px,#0ef 62px,#08f"></i><i style="--g:#00f,#00f 5px,#03f 11px,#08f 24px,#08f 30px,#07f 33px,#07f 38px,#0af 45px,#0ff 50px,#0fe 51px,#0f8 54px,#0f7 56px,#0ff 61px,#08f"></i><i style="--g:#00f,#00f 5px,#03f 11px,#08f 24px,#08f 30px,#07f 33px,#07f 38px,#0ff 56px,#0ef 60px,#0af 63px,#06f"></i><i style="--g:#00f,#00f 5px,#03f 11px,#08f 24px,#08f 30px,#07f 33px,#07f 38px,#0df 56px,#0cf 60px,#09f 63px,#05f"></i><i style="--g:#00f,#00f 5px,#03f 11px,#07f 24px,#08f 30px,#07f 33px,#07f 38px,#0ef 56px,#0df 60px,#09f 63px,#06f"></i><i style="--g:#00f,#00f 5px,#01f 7px,#07f 24px,#07f 30px,#06f 33px,#06f 38px,#09f 45px,#0ff 54px,#0fe 56px,#0ef 60px,#0bf 63px,#07f"></i><i style="--g:#00f,#00f 5px,#01f 7px,#07f 24px,#07f 30px,#06f 33px,#06f 38px,#09f 45px,#0ef 53px,#0ef 56px,#0df 60px,#0af 63px,#06f"></i><i style="--g:#00f,#07f 24px,#07f 30px,#06f 33px,#06f 38px,#0cf 56px,#0bf 60px,#07f 63px,#04f"></i><i style="--g:#00f,#03f 4px,#06f 12px,#05f 17px,#07f 24px,#08f 30px,#07f 33px,#06f 38px,#0bf 56px,#0af 60px,#07f 63px,#03f"></i><i style="--g:#00f,#01f 5px,#04f 11px,#05f 17px,#07f 24px,#08f 30px,#07f 33px,#06f 38px,#0df 56px,#0cf 60px,#08f 63px,#05f"></i><i style="--g:#00f,#00f 5px,#01f 7px,#07f 24px,#07f 30px,#06f 33px,#06f 38px,#09f 45px,#0ef 52px,#0ff 55px,#0ef 60px,#0af 63px,#06f"></i><i style="--g:#00f,#00f 5px,#01f 7px,#07f 24px,#07f 30px,#06f 33px,#06f 38px,#09f 45px,#0ef 53px,#0ff 56px,#0ef 60px,#0af 63px,#06f"></i><i style="--g:#00f,#00f 5px,#01f 7px,#07f 24px,#08f 30px,#07f 33px,#06f 38px,#0df 56px,#0cf 60px,#08f 63px,#05f"></i><i style="--g:#00f,#00f 5px,#03f 11px,#07f 24px,#08f 30px,#07f 33px,#07f 38px,#0bf 56px,#0af 60px,#07f 63px,#03f"></i><i style="--g:#00f,#00f 5px,#03f 11px,#08f 24px,#08f 30px,#07f 33px,#07f 38px,#0bf 56px,#0af 60px,#07f 63px,#04f"></i><i style="--g:#00f,#00f 5px,#05f 14px,#08f 24px,#09f 30px,#08f 33px,#08f 38px,#0bf 56px,#0bf 60px,#07f 63px,#04f"></i><i style="--g:#00f,#00f 5px,#03f 11px,#08f 24px,#08f 30px,#07f 33px,#07f 38px,#0df 56px,#0cf 60px,#08f 63px,#05f"></i><i style="--g:#00f,#00f 5px,#03f 11px,#08f 24px,#08f 30px,#07f 33px,#07f 38px,#09f 45px,#0ef 53px,#0ff 56px,#0ef 60px,#0af 63px,#06f"></i><i style="--g:#00f,#00f 5px,#03f 11px,#07f 24px,#08f 30px,#07f 33px,#07f 38px,#0cf 56px,#0bf 60px,#08f 63px,#04f"></i><i style="--g:#00f,#00f 5px,#01f 7px,#07f 24px,#08f 30px,#07f 33px,#06f 38px,#0af 56px,#0af 60px,#06f 63px,#03f"></i><i style="--g:#00f,#00f 5px,#01f 7px,#07f 24px,#08f 30px,#07f 33px,#06f 38px,#0bf 56px,#0af 60px,#06f 63px,#03f"></i><i style="--g:#00f,#00f 5px,#01f 7px,#07f 24px,#08f 30px,#07f 33px,#06f 38px,#0bf 56px,#0af 60px,#07f 63px,#03f"></i><i style="--g:#00f,#00f 5px,#03f 11px,#08f 24px,#08f 30px,#07f 33px,#07f 38px,#0df 56px,#0cf 60px,#09f 63px,#05f"></i><i style="--g:#00f,#00f 5px,#05f 14px,#08f 24px,#09f 30px,#08f 33px,#07f 38px,#0ff 56px,#0ef 60px,#0af 63px,#06f"></i><i style="--g:#00f,#00f 5px,#03f 11px,#08f 24px,#08f 30px,#07f 33px,#07f 38px,#0af 45px,#0ff 53px,#0fe 56px,#0ff 60px,#0bf 63px,#07f"></i><i style="--g:#00f,#00f 5px,#03f 11px,#07f 24px,#08f 30px,#07f 33px,#07f 38px,#0af 45px,#0ff 52px,#0fe 56px,#0ff 60px,#0bf 63px,#08f"></i><i style="--g:#00f,#01f 5px,#05f 12px,#08f 24px,#09f 30px,#08f 33px,#07f 38px,#0af 45px,#0ff 51px,#0fd 56px,#0ff 61px,#0cf 63px,#08f"></i><i style="--g:#00f,#03f 4px,#07f 12px,#06f 17px,#08f 24px,#09f 30px,#08f 33px,#08f 38px,#0af 45px,#0ff 52px,#0fe 56px,#0ff 60px,#0bf 63px,#08f"></i><i style="--g:#00f,#01f 5px,#04f 12px,#08f 24px,#08f 30px,#07f 33px,#07f 38px,#0ef 56px,#0df 60px,#0af 63px,#06f"></i><i style="--g:#00f,#00f 5px,#03f 11px,#08f 24px,#08f 30px,#07f 33px,#07f 38px,#0df 56px,#0cf 60px,#08f 63px,#05f"></i><i style="--g:#00f,#00f 5px,#03f 11px,#08f 24px,#08f 30px,#07f 33px,#07f 38px,#0cf 56px,#0bf 60px,#07f 63px,#04f"></i><i style="--g:#00f,#06f 12px,#05f 17px,#08f 24px,#08f 30px,#07f 33px,#07f 38px,#0bf 56px,#0af 60px,#07f 63px,#03f"></i><i style="--g:#00f,#06f 12px,#06f 17px,#08f 24px,#09f 30px,#07f 33px,#07f 38px,#0bf 56px,#0af 60px,#07f 63px,#04f"></i><i style="--g:#00f,#00f 5px,#05f 14px,#08f 24px,#09f 30px,#08f 33px,#07f 38px,#0bf 56px,#0af 60px,#07f 63px,#04f"></i><i style="--g:#00f,#00f 5px,#03f 11px,#08f 24px,#08f 30px,#07f 33px,#07f 38px,#0bf 56px,#0af 60px,#07f 63px,#04f"></i><i style="--g:#00f,#00f 5px,#03f 11px,#08f 24px,#08f 30px,#07f 33px,#07f 38px,#0bf 56px,#0af 60px,#07f 63px,#03f"></i><i style="--g:#00f,#00f 5px,#03f 11px,#08f 24px,#08f 30px,#07f 33px,#07f 38px,#0bf 56px,#0af 60px,#07f 63px,#03f"></i><i style="--g:#00f,#00f 5px,#03f 11px,#08f 24px,#08f 30px,#07f 33px,#07f 38px,#0bf 56px,#0bf 60px,#07f 63px,#04f"></i><i style="--g:#00f,#00f 5px,#03f 11px,#07f 24px,#08f 30px,#07f 33px,#07f 38px,#0ef 56px,#0df 60px,#09f 63px,#06f"></i><i style="--g:#00f,#00f 5px,#03f 11px,#07f 24px,#08f 30px,#07f 33px,#07f 38px,#0ef 56px,#0df 60px,#0af 63px,#06f"></i><i style="--g:#00f,#00f 5px,#03f 11px,#08f 24px,#08f 30px,#07f 33px,#07f 38px,#0cf 56px,#0bf 60px,#07f 63px,#04f"></i><i style="--g:#00f,#00f 5px,#03f 11px,#08f 24px,#09f 30px,#07f 33px,#07f 38px,#0bf 56px,#0af 60px,#07f 63px,#04f"></i><i style="--g:#00f,#01f 5px,#04f 11px,#08f 24px,#09f 30px,#08f 33px,#08f 38px,#09f 43px,#0bf 56px,#0af 60px,#06f 63px,#03f"></i><i style="--g:#00f,#05f 4px,#06f 7px,#0df 24px,#0df 30px,#0cf 33px,#0cf 38px,#0df 43px,#0af 47px,#0cf 56px,#0bf 59px,#0bf 60px,#07f 63px,#03f"></i><i style="--g:#00f,#07f 4px,#0bf 14px,#0ff 24px,#0ef 38px,#0ff 41px,#0f9 56px,#0f9 59px,#0fe 61px,#0ef 62px,#08f 64px,#06f"></i><i style="--g:#00f,#06f 4px,#0bf 14px,#0ef 24px,#0ef 30px,#0df 33px,#0df 38px,#0ff 42px,#0ff 45px,#0fa 53px,#0f9 56px,#0fa 59px,#0fd 61px,#0ff 62px,#08f"></i><i style="--g:#00f,#09f 24px,#09f 30px,#08f 33px,#08f 38px,#0af 43px,#0af 48px,#0cf 56px,#0bf 60px,#07f 63px,#04f"></i><i style="--g:#00f,#00f 4px,#02f 5px,#09f 8px,#0ef 24px,#0ef 30px,#0df 33px,#0df 38px,#0ef 43px,#09f 48px,#0af 56px,#09f 60px,#06f 63px,#02f"></i><i style="--g:#00f,#06f 4px,#07f 6px,#09f 7px,#0cf 8px,#0ff 17px,#0fd 24px,#0fc 30px,#0fd 33px,#0fd 38px,#0fc 43px,#0fe 44px,#0ef 45px,#09f 48px,#0af 56px,#0af 60px,#06f 63px,#03f"></i><i style="--g:#00f,#06f 4px,#07f 6px,#09f 7px,#0cf 8px,#0ff 17px,#0fc 24px,#0fc 30px,#0fd 33px,#0fd 38px,#0fc 43px,#0fe 44px,#0ff 45px,#09f 48px,#0af 56px,#0af 60px,#06f 63px,#03f"></i><i style="--g:#00f,#00f 4px,#03f 5px,#0cf 8px,#0ff 17px,#0fc 24px,#0fc 30px,#0fd 33px,#0fd 38px,#0fc 43px,#0fe 44px,#0ff 45px,#09f 48px,#0bf 56px,#0af 60px,#06f 63px,#03f"></i><i style="--g:#00f,#00f 4px,#03f 5px,#0cf 8px,#0ff 16px,#0fc 24px,#0fc 30px,#0fd 33px,#0fd 38px,#0fc 43px,#0ff 45px,#09f 48px,#0bf 56px,#0af 60px,#07f 63px,#03f"></i><i style="--g:#00f,#05f 4px,#06f 6px,#0cf 8px,#0ff 15px,#0fc 24px,#0fb 30px,#0fc 33px,#0fc 38px,#0fb 43px,#0ff 45px,#0af 48px,#0bf 56px,#0af 60px,#07f 63px,#04f"></i><i style="--g:#00f,#05f 4px,#06f 6px,#0cf 8px,#0ff 15px,#0fc 24px,#0fb 30px,#0fc 33px,#0fd 38px,#0fb 43px,#0ff 45px,#0af 48px,#0bf 56px,#0af 60px,#07f 63px,#04f"></i><i style="--g:#00f,#00f 4px,#03f 5px,#0cf 8px,#0ff 17px,#0fd 24px,#0fc 30px,#0fd 33px,#0fd 38px,#0fc 43px,#0fe 44px,#0ff 45px,#09f 48px,#0bf 56px,#0af 60px,#07f 63px,#03f"></i><i style="--g:#00f,#00f 4px,#0cf 8px,#0ff 17px,#0fd 24px,#0fc 30px,#0fd 33px,#0fd 38px,#0fc 43px,#0ff 45px,#0af 48px,#0df 56px,#0cf 60px,#08f 63px,#05f"></i><i style="--g:#00f,#00f 4px,#0bf 8px,#0ff 17px,#0fd 24px,#0fc 30px,#0fd 33px,#0fd 38px,#0fb 43px,#0fe 45px,#0ef 46px,#0cf 48px,#0ff 53px,#0fe 56px,#0ff 60px,#0bf 63px,#07f"></i><i style="--g:#00f,#00f 4px,#05f 8px,#0bf 24px,#0cf 30px,#0bf 33px,#0af 38px,#0cf 43px,#0cf 48px,#0ff 53px,#0fe 56px,#0ff 60px,#0bf 63px,#07f"></i><i style="--g:#00f,#00f 5px,#03f 11px,#08f 24px,#08f 30px,#07f 33px,#07f 38px,#0ef 56px,#0df 60px,#09f 63px,#05f"></i><i style="--g:#00f,#00f 5px,#05f 11px,#0af 24px,#0af 30px,#09f 33px,#09f 38px,#0bf 44px,#0af 49px,#0cf 56px,#0bf 60px,#07f 63px,#04f"></i><i style="--g:#00f,#00f 5px,#01f 7px,#0bf 11px,#0ff 22px,#0fe 30px,#0ff 33px,#0ff 38px,#0fd 44px,#0ff 45px,#0af 49px,#0cf 56px,#0bf 60px,#08f 63px,#04f"></i><i style="--g:#00f,#00f 5px,#01f 7px,#0df 11px,#0ff 17px,#0fc 24px,#0fc 30px,#0fd 33px,#0fd 38px,#0fb 44px,#0ff 47px,#0cf 49px,#0ef 56px,#0df 60px,#0af 63px,#06f"></i><i style="--g:#00f,#00f 5px,#01f 7px,#0df 11px,#0ff 17px,#0fc 24px,#0fc 30px,#0fd 33px,#0fd 38px,#0fb 44px,#0ff 47px,#0ef 48px,#0df 49px,#0ff 52px,#0fe 56px,#0ff 60px,#0bf 63px,#07f"></i><i style="--g:#00f,#00f 5px,#01f 7px,#0df 11px,#0ff 17px,#0fc 24px,#0fc 30px,#0fd 33px,#0fd 38px,#0fb 44px,#0ff 47px,#0cf 49px,#0ff 53px,#0ff 58px,#0ef 60px,#0bf 63px,#07f"></i><i style="--g:#00f,#00f 5px,#01f 7px,#0df 11px,#0ff 16px,#0fc 24px,#0fc 30px,#0fd 33px,#0fd 38px,#0fb 44px,#0ef 47px,#0bf 49px,#0df 56px,#0cf 60px,#09f 63px,#05f"></i><i style="--g:#00f,#00f 5px,#01f 6px,#01f 7px,#0bf 11px,#0ff 21px,#0fe 24px,#0fd 30px,#0ff 33px,#0ff 38px,#0fd 44px,#0fe 45px,#0af 49px,#0bf 56px,#0bf 60px,#07f 63px,#04f"></i><i style="--g:#00f,#00f 5px,#05f 11px,#09f 24px,#0af 30px,#09f 33px,#08f 38px,#0af 44px,#09f 49px,#0af 56px,#0af 60px,#06f 63px,#03f"></i><i style="--g:#00f,#00f 5px,#01f 7px,#07f 24px,#08f 30px,#07f 33px,#06f 38px,#0af 56px,#09f 60px,#06f 63px,#03f"></i><i style="--g:#00f,#00f 5px,#03f 11px,#07f 24px,#08f 30px,#07f 33px,#07f 38px,#0af 56px,#0af 60px,#06f 63px,#03f"></i><i style="--g:#00f,#00f 5px,#01f 7px,#07f 24px,#08f 30px,#07f 33px,#06f 38px,#0af 56px,#09f 60px,#06f 63px,#03f"></i><i style="--g:#00f,#00f 5px,#01f 7px,#07f 24px,#07f 30px,#06f 33px,#06f 38px,#0af 56px,#09f 60px,#06f 63px,#03f"></i><i style="--g:#00f,#00f 5px,#01f 7px,#07f 24px,#07f 30px,#06f 33px,#06f 38px,#0af 56px,#09f 60px,#06f 63px,#02f"></i><i style="--g:#00f,#00f 5px,#01f 7px,#07f 24px,#07f 30px,#06f 33px,#06f 38px,#0af 56px,#09f 60px,#06f 63px,#02f"></i><i style="--g:#00f,#00f 5px,#01f 7px,#07f 24px,#07f 30px,#06f 33px,#06f 38px,#0af 56px,#09f 60px,#06f 63px,#02f"></i><i style="--g:#00f,#00f 5px,#01f 7px,#07f 24px,#07f 30px,#06f 33px,#06f 38px,#0af 56px,#09f 60px,#06f 63px,#02f"></i><i style="--g:#00f,#00f 5px,#01f 7px,#07f 24px,#08f 30px,#07f 33px,#07f 38px,#0af 56px,#0af 60px,#06f 63px,#03f"></i><i style="--g:#00f,#00f 5px,#03f 11px,#08f 24px,#09f 30px,#08f 33px,#07f 38px,#0cf 56px,#0bf 60px,#07f 63px,#04f"></i><i style="--g:#00f,#00f 5px,#05f 14px,#08f 24px,#09f 30px,#08f 33px,#07f 38px,#0df 56px,#0cf 60px,#09f 63px,#05f"></i><i style="--g:#00f,#00f 5px,#05f 14px,#08f 24px,#09f 30px,#08f 33px,#07f 38px,#0af 45px,#0ff 55px,#0ef 60px,#0af 63px,#07f"></i><i style="--g:#00f,#00f 5px,#03f 11px,#08f 24px,#08f 30px,#07f 33px,#07f 38px,#0af 45px,#0ff 52px,#0fd 56px,#0ff 60px,#0cf 63px,#08f"></i><i style="--g:#00f,#00f 5px,#01f 7px,#07f 24px,#07f 30px,#06f 33px,#06f 38px,#09f 45px,#0ef 51px,#0ff 54px,#0fe 56px,#0ff 60px,#0bf 63px,#07f"></i><i style="--g:#00f,#00f 5px,#01f 7px,#07f 24px,#07f 30px,#06f 33px,#06f 38px,#09f 45px,#0df 53px,#0ef 56px,#0df 60px,#09f 63px,#06f"></i><i style="--g:#00f,#00f 5px,#03f 11px,#08f 24px,#08f 30px,#07f 33px,#07f 38px,#0df 56px,#0cf 60px,#08f 63px,#05f"></i><i style="--g:#00f,#00f 5px,#03f 11px,#08f 24px,#08f 30px,#07f 33px,#07f 38px,#0ef 56px,#0df 60px,#09f 63px,#06f"></i><i style="--g:#00f,#00f 5px,#03f 11px,#07f 24px,#08f 30px,#07f 33px,#07f 38px,#0af 45px,#0ff 50px,#0fe 51px,#0fc 56px,#0fd 60px,#0ff 61px,#0df 63px,#09f"></i><i style="--g:#00f,#00f 5px,#03f 11px,#08f 24px,#08f 30px,#07f 33px,#07f 38px,#0af 45px,#0ff 50px,#0fc 56px,#0fd 60px,#0ff 61px,#0df 63px,#09f"></i><i style="--g:#00f,#00f 5px,#03f 11px,#08f 24px,#08f 30px,#07f 33px,#07f 38px,#0ef 56px,#0df 60px,#09f 63px,#05f"></i><i style="--g:#00f,#00f 5px,#03f 11px,#08f 24px,#08f 30px,#07f 33px,#07f 38px,#0bf 56px,#0bf 60px,#07f 63px,#04f"></i><i style="--g:#00f,#00f 5px,#03f 11px,#08f 24px,#08f 30px,#07f 33px,#07f 38px,#0bf 56px,#0af 60px,#07f 63px,#03f"></i><i style="--g:#00f,#00f 5px,#03f 11px,#08f 24px,#08f 30px,#07f 33px,#07f 38px,#0bf 56px,#0af 60px,#06f 63px,#03f"></i><i style="--g:#00f,#00f 5px,#01f 7px,#07f 24px,#08f 30px,#07f 33px,#06f 38px,#0af 56px,#09f 60px,#06f 63px,#03f"></i><i style="--g:#00f,#00f 5px,#03f 11px,#07f 24px,#08f 30px,#07f 33px,#07f 38px,#0af 56px,#0af 60px,#06f 63px,#03f"></i><i style="--g:#00f,#02f 5px,#05f 11px,#07f 17px,#09f 30px,#08f 33px,#08f 38px,#0bf 56px,#0bf 60px,#07f 63px,#04f"></i><i style="--g:#00f,#06f 4px,#0cf 17px,#07f 22px,#09f 30px,#07f 33px,#07f 38px,#0bf 56px,#0af 60px,#07f 63px,#04f"></i><i style="--g:#00f,#04f 4px,#09f 17px,#07f 22px,#08f 30px,#07f 33px,#07f 38px,#0bf 56px,#0af 60px,#06f 63px,#03f"></i><i style="--g:#00f,#00f 5px,#03f 11px,#08f 24px,#08f 30px,#07f 33px,#07f 38px,#0bf 56px,#0af 60px,#07f 63px,#04f"></i><i style="--g:#00f,#00f 5px,#03f 11px,#08f 24px,#08f 30px,#07f 33px,#07f 38px,#0ff 56px,#0ef 60px,#0af 63px,#06f"></i><i style="--g:#00f,#03f 4px,#06f 13px,#06f 18px,#08f 24px,#08f 30px,#07f 33px,#07f 38px,#0ff 56px,#0ef 60px,#0af 63px,#06f"></i><i style="--g:#00f,#03f 4px,#06f 13px,#06f 18px,#08f 24px,#08f 30px,#07f 33px,#07f 38px,#0bf 56px,#0bf 60px,#07f 63px,#04f"></i><i style="--g:#00f,#00f 5px,#03f 11px,#08f 24px,#08f 30px,#07f 33px,#07f 38px,#0bf 56px,#0af 60px,#06f 63px,#03f"></i><i style="--g:#00f,#00f 5px,#01f 7px,#07f 24px,#07f 30px,#06f 33px,#06f 38px,#0af 56px,#09f 60px,#06f 63px,#03f"></i><i style="--g:#00f,#00f 5px,#01f 7px,#07f 24px,#07f 30px,#06f 33px,#06f 38px,#0cf 56px,#0bf 60px,#07f 63px,#04f"></i><i style="--g:#00f,#00f 5px,#01f 7px,#07f 24px,#07f 30px,#06f 33px,#06f 38px,#08f 45px,#0df 53px,#0ef 56px,#0df 60px,#09f 63px,#05f"></i><i style="--g:#00f,#00f 5px,#01f 7px,#07f 24px,#07f 30px,#06f 33px,#06f 38px,#0bf 56px,#0bf 60px,#07f 63px,#03f"></i><i style="--g:#00f,#00f 5px,#03f 11px,#07f 24px,#08f 30px,#07f 33px,#07f 38px,#0af 56px,#0af 60px,#06f 63px,#03f"></i><i style="--g:#00f,#00f 5px,#03f 11px,#08f 24px,#08f 30px,#07f 33px,#07f 38px,#0bf 56px,#0af 60px,#06f 63px,#03f"></i><i style="--g:#00f,#00f 5px,#03f 11px,#08f 24px,#08f 30px,#07f 33px,#07f 38px,#0cf 56px,#0bf 60px,#07f 63px,#04f"></i><i style="--g:#00f,#00f 5px,#03f 11px,#08f 24px,#08f 30px,#07f 33px,#07f 38px,#0ef 56px,#0df 60px,#09f 63px,#06f"></i><i style="--g:#00f,#00f 5px,#03f 11px,#08f 24px,#09f 30px,#07f 33px,#07f 38px,#0af 45px,#0ff 53px,#0fe 56px,#0ff 60px,#0bf 63px,#07f"></i><i style="--g:#00f,#00f 5px,#03f 11px,#08f 24px,#08f 30px,#07f 33px,#07f 38px,#0af 45px,#0ff 54px,#0ef 60px,#0bf 63px,#07f"></i><i style="--g:#00f,#00f 5px,#03f 11px,#08f 24px,#08f 30px,#07f 33px,#07f 38px,#0df 56px,#0cf 60px,#08f 63px,#05f"></i><i style="--g:#00f,#01f 5px,#06f 15px,#08f 24px,#08f 30px,#07f 33px,#07f 38px,#0bf 56px,#0af 60px,#07f 63px,#03f"></i><i style="--g:#00f,#04f 4px,#08f 15px,#05f 20px,#07f 24px,#07f 30px,#06f 33px,#06f 38px,#0af 56px,#09f 60px,#06f 63px,#02f"></i><i style="--g:#00f,#02f 4px,#07f 15px,#06f 20px,#07f 24px,#08f 30px,#07f 33px,#07f 38px,#0af 56px,#0af 60px,#06f 63px,#03f"></i><i style="--g:#00f,#00f 5px,#05f 14px,#08f 24px,#09f 30px,#08f 33px,#07f 38px,#0bf 56px,#0af 60px,#07f 63px,#04f"></i><i style="--g:#00f,#00f 5px,#05f 14px,#08f 24px,#09f 30px,#08f 33px,#07f 38px,#0bf 56px,#0af 60px,#07f 63px,#04f"></i><i style="--g:#00f,#00f 5px,#03f 11px,#08f 24px,#08f 30px,#07f 33px,#07f 38px,#0bf 56px,#0af 60px,#07f 63px,#04f"></i><i style="--g:#00f,#00f 5px,#03f 11px,#08f 24px,#09f 30px,#07f 33px,#07f 38px,#0bf 56px,#0af 60px,#07f 63px,#04f"></i><i style="--g:#00f,#00f 5px,#05f 14px,#08f 24px,#09f 30px,#08f 33px,#07f 38px,#0bf 56px,#0af 60px,#07f 63px,#04f"></i><i style="--g:#00f,#00f 5px,#03f 11px,#08f 24px,#08f 30px,#07f 33px,#07f 38px,#0bf 56px,#0af 60px,#07f 63px,#03f"></i><i style="--g:#00f,#00f 5px,#03f 11px,#08f 24px,#08f 30px,#07f 33px,#07f 38px,#0bf 56px,#0af 60px,#06f 63px,#03f"></i><i style="--g:#00f,#00f 5px,#03f 11px,#08f 24px,#08f 30px,#07f 33px,#07f 38px,#0bf 56px,#0af 60px,#07f 63px,#03f"></i><i style="--g:#00f,#00f 5px,#05f 14px,#08f 24px,#09f 30px,#08f 33px,#07f 38px,#0bf 56px,#0af 60px,#07f 63px,#04f"></i><i style="--g:#00f,#00f 5px,#03f 11px,#08f 24px,#08f 30px,#07f 33px,#07f 38px,#0bf 56px,#0af 60px,#07f 63px,#03f"></i><i style="--g:#00f,#00f 5px,#01f 7px,#07f 24px,#07f 30px,#06f 33px,#06f 38px,#0af 56px,#09f 60px,#06f 63px,#02f"></i><i style="--g:#00f,#00f 5px,#01f 7px,#07f 24px,#07f 30px,#06f 33px,#06f 38px,#0af 56px,#09f 60px,#06f 63px,#02f"></i><i style="--g:#00f,#00f 5px,#01f 7px,#07f 24px,#07f 30px,#06f 33px,#06f 38px,#0af 56px,#09f 60px,#06f 63px,#02f"></i><i style="--g:#00f,#00f 5px,#01f 7px,#07f 24px,#07f 30px,#06f 33px,#06f 38px,#0af 56px,#09f 60px,#06f 63px,#02f"></i><i style="--g:#00f,#00f 5px,#01f 7px,#07f 24px,#07f 30px,#06f 33px,#06f 38px,#0af 56px,#09f 60px,#06f 63px,#02f"></i><i style="--g:#00f,#00f 5px,#01f 7px,#07f 24px,#07f 30px,#06f 33px,#06f 38px,#0af 56px,#09f 60px,#06f 63px,#02f"></i><i style="--g:#00f,#03f 4px,#06f 13px,#05f 18px,#07f 24px,#08f 30px,#06f 33px,#06f 38px,#0af 56px,#09f 60px,#06f 63px,#03f"></i><i style="--g:#00f,#03f 4px,#06f 13px,#05f 18px,#07f 24px,#08f 30px,#06f 33px,#06f 38px,#0af 56px,#09f 60px,#06f 63px,#03f"></i><i style="--g:#00f,#00f 5px,#01f 7px,#07f 24px,#07f 30px,#06f 33px,#06f 38px,#0af 56px,#09f 60px,#06f 63px,#03f"></i><i style="--g:#00f,#00f 5px,#01f 7px,#07f 24px,#07f 30px,#06f 33px,#06f 38px,#0af 56px,#09f 60px,#06f 63px,#03f"></i><i style="--g:#00f,#00f 5px,#01f 7px,#07f 24px,#07f 30px,#06f 33px,#06f 38px,#0af 56px,#09f 60px,#06f 63px,#02f"></i><i style="--g:#00f,#00f 5px,#01f 7px,#07f 24px,#08f 30px,#07f 33px,#06f 38px,#0af 56px,#0af 60px,#06f 63px,#03f"></i><i style="--g:#00f,#00f 5px,#03f 11px,#08f 24px,#08f 30px,#07f 33px,#07f 38px,#0bf 56px,#0af 60px,#07f 63px,#04f"></i><i style="--g:#00f,#00f 5px,#01f 7px,#07f 24px,#08f 30px,#07f 33px,#06f 38px,#0df 56px,#0cf 60px,#08f 63px,#05f"></i><i style="--g:#00f,#00f 5px,#01f 7px,#07f 24px,#07f 30px,#06f 33px,#06f 38px,#09f 45px,#0ef 53px,#0ff 56px,#0ef 60px,#0af 63px,#06f"></i><i style="--g:#00f,#00f 5px,#01f 7px,#07f 24px,#08f 30px,#07f 33px,#06f 38px,#09f 45px,#0ff 53px,#0fe 56px,#0ff 60px,#0bf 63px,#07f"></i><i style="--g:#00f,#00f 5px,#03f 11px,#08f 24px,#08f 30px,#07f 33px,#07f 38px,#0af 45px,#0ff 52px,#0fe 56px,#0ff 60px,#0bf 63px,#08f"></i><i style="--g:#00f,#00f 5px,#03f 11px,#07f 24px,#08f 30px,#07f 33px,#07f 38px,#0af 45px,#0ff 52px,#0fc 56px,#0fe 60px,#0bf 63px,#08f"></i><i style="--g:#00f,#00f 5px,#01f 7px,#07f 24px,#07f 30px,#06f 33px,#06f 38px,#09f 45px,#0ff 50px,#0fe 51px,#0f8 54px,#0f7 56px,#0f8 57px,#0ff 61px,#08f"></i><i style="--g:#00f,#00f 5px,#03f 11px,#07f 24px,#08f 30px,#07f 33px,#07f 38px,#0af 45px,#0ff 50px,#0f8 54px,#0f6 56px,#0f7 57px,#0ff 61px,#08f"></i><i style="--g:#00f,#00f 5px,#03f 11px,#08f 24px,#08f 30px,#07f 33px,#07f 38px,#0af 45px,#0ff 51px,#0fc 56px,#0fe 60px,#0ef 61px,#0cf 63px,#08f"></i><i style="--g:#00f,#00f 5px,#03f 11px,#07f 24px,#08f 30px,#07f 33px,#07f 38px,#09f 45px,#0ef 53px,#0ff 56px,#0ef 60px,#0af 63px,#06f"></i><i style="--g:#00f,#00f 5px,#01f 7px,#07f 24px,#07f 30px,#06f 33px,#06f 38px,#08f 45px,#0df 53px,#0ef 56px,#0df 60px,#09f 63px,#05f"></i><i style="--g:#00f,#00f 5px,#01f 7px,#07f 24px,#07f 30px,#06f 33px,#06f 38px,#09f 45px,#0ef 53px,#0ff 56px,#0ef 60px,#0af 63px,#06f"></i><i style="--g:#00f,#00f 5px,#01f 7px,#07f 24px,#08f 30px,#07f 33px,#06f 38px,#09f 45px,#0ef 53px,#0ff 56px,#0ef 60px,#0af 63px,#06f"></i><i style="--g:#00f,#00f 5px,#03f 11px,#08f 24px,#08f 30px,#07f 33px,#07f 38px,#0df 56px,#0cf 60px,#08f 63px,#05f"></i><i style="--g:#00f,#00f 5px,#05f 14px,#08f 24px,#09f 30px,#08f 33px,#08f 38px,#0cf 56px,#0bf 60px,#08f 63px,#04f"></i><i style="--g:#00f,#00f 5px,#03f 11px,#08f 24px,#08f 30px,#07f 33px,#07f 38px,#0bf 56px,#0af 60px,#07f 63px,#03f"></i><i style="--g:#00f,#00f 5px,#03f 11px,#08f 24px,#08f 30px,#07f 33px,#07f 38px,#0bf 56px,#0af 60px,#06f 63px,#03f"></i><i style="--g:#00f,#00f 5px,#03f 11px,#08f 24px,#08f 30px,#07f 33px,#07f 38px,#0bf 56px,#0af 60px,#07f 63px,#03f"></i><i style="--g:#00f,#00f 5px,#03f 11px,#08f 24px,#09f 30px,#07f 33px,#07f 38px,#0bf 56px,#0af 60px,#07f 63px,#04f"></i><i style="--g:#00f,#00f 5px,#03f 11px,#08f 24px,#0bf 28px,#0af 38px,#0cf 49px,#0bf 54px,#0af 60px,#07f 63px,#03f"></i><i style="--g:#00f,#00f 5px,#03f 11px,#08f 24px,#0df 28px,#0cf 38px,#0ff 49px,#0af 54px,#0af 60px,#07f 63px,#03f"></i><i style="--g:#00f,#00f 5px,#03f 11px,#08f 24px,#0df 28px,#0cf 38px,#0ff 49px,#0af 54px,#0af 60px,#07f 63px,#03f"></i><i style="--g:#00f,#00f 5px,#03f 11px,#08f 24px,#0bf 28px,#0af 38px,#0cf 49px,#0af 54px,#0af 60px,#07f 63px,#03f"></i><i style="--g:#00f,#00f 5px,#03f 11px,#07f 24px,#08f 30px,#07f 33px,#07f 38px,#0af 56px,#0af 60px,#06f 63px,#03f"></i><i style="--g:#00f,#00f 5px,#01f 7px,#07f 24px,#07f 30px,#06f 33px,#06f 38px,#0af 56px,#09f 60px,#06f 63px,#02f"></i><i style="--g:#00f,#00f 5px,#03f 11px,#07f 24px,#08f 30px,#07f 33px,#07f 38px,#0af 56px,#0af 60px,#06f 63px,#03f"></i><i style="--g:#00f,#00f 5px,#03f 11px,#08f 24px,#08f 30px,#07f 33px,#07f 38px,#0bf 56px,#0af 60px,#07f 63px,#03f"></i><i style="--g:#00f,#00f 5px,#01f 7px,#07f 24px,#08f 30px,#07f 33px,#06f 38px,#0af 56px,#09f 60px,#06f 63px,#03f"></i><i style="--g:#00f,#00f 5px,#01f 7px,#07f 24px,#07f 30px,#06f 33px,#06f 38px,#0af 56px,#09f 60px,#06f 63px,#02f"></i><i style="--g:#00f,#00f 5px,#03f 11px,#07f 24px,#08f 30px,#07f 33px,#07f 38px,#0af 56px,#0af 60px,#06f 63px,#03f"></i><i style="--g:#00f,#00f 5px,#03f 11px,#08f 24px,#08f 30px,#07f 33px,#07f 38px,#0bf 56px,#0af 60px,#07f 63px,#04f"></i><i style="--g:#00f,#00f 5px,#05f 14px,#08f 24px,#09f 30px,#08f 33px,#07f 38px,#0bf 56px,#0bf 60px,#07f 63px,#04f"></i><i style="--g:#00f,#00f 5px,#05f 14px,#08f 24px,#09f 30px,#08f 33px,#08f 38px,#0df 56px,#0cf 60px,#08f 63px,#05f"></i><i style="--g:#00f,#00f 5px,#05f 14px,#08f 24px,#09f 30px,#08f 33px,#07f 38px,#0ef 56px,#0df 60px,#09f 63px,#06f"></i><i style="--g:#00f,#00f 5px,#05f 14px,#08f 24px,#09f 30px,#08f 33px,#07f 38px,#0ef 56px,#0df 60px,#09f 63px,#06f"></i><i style="--g:#00f,#00f 5px,#03f 11px,#07f 24px,#08f 30px,#07f 33px,#07f 38px,#0cf 56px,#0bf 60px,#07f 63px,#04f"></i><i style="--g:#00f,#00f 5px,#01f 7px,#07f 24px,#07f 30px,#06f 33px,#06f 38px,#0af 56px,#09f 60px,#06f 63px,#02f"></i><i style="--g:#00f,#00f 5px,#01f 7px,#07f 24px,#07f 30px,#06f 33px,#06f 38px,#0af 56px,#09f 60px,#06f 63px,#03f"></i><i style="--g:#00f,#00f 5px,#01f 7px,#07f 24px,#08f 30px,#07f 33px,#06f 38px,#0af 56px,#09f 60px,#06f 63px,#03f"></i><i style="--g:#00f,#00f 5px,#01f 7px,#07f 24px,#08f 30px,#07f 33px,#06f 38px,#0af 56px,#09f 60px,#06f 63px,#03f"></i><i style="--g:#00f,#00f 5px,#01f 7px,#07f 24px,#08f 30px,#07f 33px,#06f 38px,#0af 56px,#09f 60px,#06f 63px,#03f"></i><i style="--g:#00f,#00f 5px,#01f 7px,#07f 24px,#07f 30px,#06f 33px,#06f 38px,#0af 56px,#09f 60px,#06f 63px,#02f"></i><i style="--g:#00f,#00f 5px,#01f 7px,#07f 24px,#07f 30px,#06f 33px,#06f 38px,#0af 56px,#09f 60px,#06f 63px,#02f"></i><i style="--g:#00f,#00f 5px,#03f 11px,#07f 24px,#08f 30px,#07f 33px,#07f 38px,#0af 56px,#0af 60px,#06f 63px,#03f"></i><i style="--g:#00f,#00f 5px,#03f 11px,#08f 24px,#08f 30px,#07f 33px,#07f 38px,#0bf 56px,#0af 60px,#07f 63px,#03f"></i><i style="--g:#00f,#00f 5px,#03f 11px,#08f 24px,#08f 30px,#07f 33px,#07f 38px,#0bf 56px,#0af 60px,#07f 63px,#03f"></i><i style="--g:#00f,#00f 5px,#03f 11px,#08f 24px,#08f 30px,#07f 33px,#07f 38px,#0bf 56px,#0af 60px,#07f 63px,#04f"></i><i style="--g:#00f,#00f 5px,#03f 11px,#08f 24px,#08f 30px,#07f 33px,#07f 38px,#0bf 56px,#0af 60px,#06f 63px,#03f"></i><i style="--g:#00f,#00f 5px,#01f 7px,#07f 24px,#08f 30px,#07f 33px,#06f 38px,#0af 56px,#09f 60px,#06f 63px,#03f"></i><i style="--g:#00f,#00f 5px,#03f 11px,#08f 24px,#08f 30px,#07f 33px,#07f 38px,#0bf 56px,#0af 60px,#07f 63px,#03f"></i><i style="--g:#00f,#00f 5px,#05f 14px,#08f 24px,#09f 30px,#08f 33px,#07f 38px,#0bf 56px,#0af 60px,#07f 63px,#04f"></i><i style="--g:#00f,#00f 5px,#03f 11px,#08f 24px,#09f 30px,#07f 33px,#07f 38px,#0bf 56px,#0af 60px,#07f 63px,#04f"></i><i style="--g:#00f,#00f 5px,#03f 11px,#08f 24px,#08f 30px,#07f 33px,#07f 38px,#0bf 56px,#0af 60px,#07f 63px,#04f"></i><i style="--g:#00f,#00f 5px,#03f 11px,#07f 24px,#08f 30px,#07f 33px,#07f 38px,#0bf 56px,#0af 60px,#07f 63px,#03f"></i><i style="--g:#00f,#00f 5px,#01f 7px,#07f 24px,#07f 30px,#06f 33px,#06f 38px,#0cf 56px,#0bf 60px,#07f 63px,#04f"></i><i style="--g:#00f,#00f 5px,#03f 11px,#08f 24px,#08f 30px,#07f 33px,#07f 38px,#09f 45px,#0ef 53px,#0ff 56px,#0ef 60px,#0af 63px,#06f"></i><i style="--g:#00f,#00f 5px,#03f 11px,#08f 24px,#08f 30px,#07f 33px,#07f 38px,#0af 45px,#0ff 52px,#0fd 56px,#0fe 60px,#0cf 63px,#08f"></i><i style="--g:#00f,#00f 5px,#03f 11px,#08f 24px,#09f 30px,#08f 33px,#07f 38px,#0af 45px,#0ff 52px,#0fd 56px,#0ff 61px,#0cf 63px,#08f"></i><i style="--g:#00f,#00f 5px,#05f 14px,#08f 24px,#09f 30px,#08f 33px,#07f 38px,#0af 45px,#0ff 54px,#0fe 56px,#0ff 60px,#0bf 63px,#07f"></i><i style="--g:#00f,#00f 5px,#03f 11px,#07f 24px,#08f 30px,#07f 33px,#07f 38px,#09f 45px,#0ef 53px,#0ff 56px,#0ef 60px,#0af 63px,#06f"></i><i style="--g:#00f,#00f 5px,#01f 7px,#07f 24px,#07f 30px,#06f 33px,#06f 38px,#09f 45px,#0ff 54px,#0ef 60px,#0bf 63px,#07f"></i><i style="--g:#00f,#00f 5px,#03f 11px,#07f 24px,#08f 30px,#07f 33px,#07f 38px,#09f 45px,#0ff 54px,#0fe 56px,#0ff 60px,#0bf 63px,#07f"></i><i style="--g:#00f,#00f 5px,#03f 11px,#08f 24px,#08f 30px,#07f 33px,#07f 38px,#0df 56px,#0cf 60px,#09f 63px,#05f"></i><i style="--g:#00f,#00f 5px,#03f 11px,#08f 24px,#08f 30px,#07f 33px,#07f 38px,#0bf 56px,#0af 60px,#07f 63px,#04f"></i><i style="--g:#00f,#00f 5px,#03f 11px,#08f 24px,#08f 30px,#07f 33px,#07f 38px,#0bf 56px,#0af 60px,#07f 63px,#03f"></i><i style="--g:#00f,#00f 5px,#03f 11px,#08f 24px,#08f 30px,#07f 33px,#07f 38px,#0bf 56px,#0af 60px,#07f 63px,#03f"></i><i style="--g:#00f,#00f 5px,#03f 11px,#08f 24px,#08f 30px,#07f 33px,#07f 38px,#0bf 56px,#0af 60px,#07f 63px,#03f"></i><i style="--g:#00f,#00f 5px,#01f 7px,#07f 24px,#08f 30px,#06f 33px,#06f 38px,#0af 56px,#09f 60px,#06f 63px,#03f"></i><i style="--g:#00f,#00f 5px,#01f 7px,#07f 24px,#07f 30px,#06f 33px,#06f 38px,#0af 56px,#09f 60px,#06f 63px,#02f"></i><i style="--g:#00f,#00f 5px,#03f 11px,#07f 24px,#08f 30px,#07f 33px,#07f 38px,#0bf 56px,#0af 60px,#07f 63px,#03f"></i><i style="--g:#00f,#00f 5px,#03f 11px,#08f 24px,#08f 30px,#07f 33px,#07f 38px,#0ff 56px,#0ef 60px,#0af 63px,#06f"></i><i style="--g:#00f,#00f 5px,#03f 11px,#08f 24px,#08f 30px,#07f 33px,#07f 38px,#0ff 56px,#0ef 60px,#0af 63px,#06f"></i><i style="--g:#00f,#00f 5px,#03f 11px,#08f 24px,#08f 30px,#07f 33px,#07f 38px,#0bf 56px,#0bf 60px,#07f 63px,#04f"></i><i style="--g:#00f,#00f 5px,#03f 11px,#08f 24px,#08f 30px,#07f 33px,#07f 38px,#0bf 56px,#0af 60px,#07f 63px,#03f"></i><i style="--g:#00f,#00f 5px,#03f 11px,#08f 24px,#09f 30px,#07f 33px,#07f 38px,#0bf 56px,#0af 60px,#07f 63px,#04f"></i><i style="--g:#00f,#00f 5px,#03f 11px,#08f 24px,#09f 30px,#07f 33px,#07f 38px,#0bf 56px,#0af 60px,#07f 63px,#04f"></i><i style="--g:#00f,#00f 5px,#03f 11px,#08f 24px,#08f 30px,#07f 33px,#07f 38px,#0bf 56px,#0af 60px,#07f 63px,#04f"></i><i style="--g:#00f,#00f 5px,#03f 11px,#07f 24px,#08f 30px,#07f 33px,#07f 38px,#0cf 56px,#0bf 60px,#07f 63px,#04f"></i><i style="--g:#00f,#00f 5px,#01f 7px,#07f 24px,#08f 30px,#07f 33px,#06f 38px,#09f 45px,#0ef 53px,#0ff 56px,#0ef 60px,#0af 63px,#06f"></i><i style="--g:#00f,#00f 5px,#03f 11px,#08f 24px,#08f 30px,#07f 33px,#07f 38px,#0ef 56px,#0df 60px,#09f 63px,#05f"></i><i style="--g:#00f,#00f 5px,#03f 11px,#08f 24px,#08f 30px,#07f 33px,#07f 38px,#0bf 56px,#0af 60px,#07f 63px,#04f"></i><i style="--g:#00f,#00f 5px,#03f 11px,#08f 24px,#09f 30px,#07f 33px,#07f 38px,#0bf 56px,#0af 60px,#07f 63px,#04f"></i><i style="--g:#00f,#00f 5px,#05f 14px,#08f 24px,#09f 30px,#08f 33px,#07f 38px,#0bf 56px,#0af 60px,#07f 63px,#04f"></i><i style="--g:#00f,#00f 5px,#05f 14px,#08f 24px,#09f 30px,#08f 33px,#07f 38px,#0bf 56px,#0af 60px,#07f 63px,#04f"></i><i style="--g:#00f,#00f 5px,#03f 11px,#08f 24px,#09f 30px,#08f 33px,#07f 38px,#0bf 56px,#0af 60px,#07f 63px,#04f"></i><i style="--g:#00f,#00f 5px,#01f 7px,#07f 24px,#08f 30px,#07f 33px,#06f 38px,#0af 56px,#09f 60px,#06f 63px,#03f"></i><i style="--g:#00f,#00f 5px,#01f 7px,#07f 24px,#07f 30px,#06f 33px,#06f 38px,#0af 56px,#09f 60px,#06f 63px,#02f"></i><i style="--g:#00f,#00f 5px,#01f 7px,#07f 24px,#07f 30px,#06f 33px,#06f 38px,#0af 56px,#09f 60px,#06f 63px,#02f"></i><i style="--g:#00f,#00f 5px,#01f 7px,#07f 24px,#07f 30px,#06f 33px,#06f 38px,#0af 56px,#09f 60px,#06f 63px,#02f"></i><i style="--g:#00f,#05f 13px,#05f 18px,#07f 24px,#08f 30px,#07f 33px,#07f 38px,#0bf 56px,#0af 60px,#06f 63px,#03f"></i><i style="--g:#00f,#04f 4px,#08f 13px,#06f 18px,#08f 24px,#08f 30px,#07f 33px,#07f 38px,#0cf 56px,#0bf 60px,#07f 63px,#04f"></i><i style="--g:#00f,#04f 4px,#08f 13px,#05f 18px,#07f 24px,#08f 30px,#07f 33px,#06f 38px,#0ef 56px,#0df 60px,#09f 63px,#05f"></i><i style="--g:#00f,#04f 11px,#05f 18px,#07f 24px,#07f 30px,#06f 33px,#06f 38px,#0df 56px,#0cf 60px,#08f 63px,#05f"></i><i style="--g:#00f,#00f 5px,#03f 11px,#07f 24px,#08f 30px,#07f 33px,#07f 38px,#0bf 56px,#0af 60px,#07f 63px,#03f"></i><i style="--g:#00f,#00f 5px,#03f 11px,#08f 24px,#08f 30px,#07f 33px,#07f 38px,#0bf 56px,#0af 60px,#07f 63px,#03f"></i><i style="--g:#00f,#00f 5px,#05f 14px,#08f 24px,#09f 30px,#08f 33px,#07f 38px,#0cf 56px,#0bf 60px,#08f 63px,#04f"></i><i style="--g:#00f,#00f 5px,#05f 14px,#08f 24px,#09f 30px,#08f 33px,#07f 38px,#0df 56px,#0cf 60px,#08f 63px,#05f"></i><i style="--g:#00f,#00f 5px,#03f 11px,#08f 24px,#08f 30px,#07f 33px,#07f 38px,#0df 56px,#0cf 60px,#08f 63px,#05f"></i><i style="--g:#00f,#00f 5px,#03f 11px,#07f 24px,#08f 30px,#07f 33px,#07f 38px,#09f 45px,#0ef 53px,#0ef 56px,#0df 60px,#0af 63px,#06f"></i><i style="--g:#00f,#00f 5px,#01f 7px,#07f 24px,#08f 30px,#07f 33px,#06f 38px,#09f 45px,#0ff 53px,#0fe 56px,#0ff 60px,#0bf 63px,#07f"></i><i style="--g:#00f,#00f 5px,#01f 7px,#07f 24px,#08f 30px,#06f 33px,#06f 38px,#0af 45px,#0ff 50px,#0fc 56px,#0fd 60px,#0ff 61px,#0df 63px,#09f"></i><i style="--g:#00f,#00f 5px,#03f 11px,#07f 24px,#08f 30px,#07f 33px,#07f 38px,#07f 40px,#0bf 45px,#0ff 48px,#0fd 51px,#0fc 56px,#0fc 60px,#0ff 62px,#0af"></i><i style="--g:#00f,#00f 5px,#03f 11px,#07f 24px,#08f 30px,#07f 33px,#07f 38px,#07f 40px,#0bf 45px,#0ff 49px,#0fd 52px,#0fc 56px,#0fd 60px,#0ff 62px,#0af"></i><i style="--g:#00f,#00f 5px,#03f 11px,#08f 24px,#08f 30px,#07f 33px,#07f 38px,#0af 45px,#0ef 50px,#0fe 52px,#0fd 56px,#0ff 61px,#0cf 63px,#08f"></i><i style="--g:#00f,#00f 5px,#03f 11px,#08f 24px,#08f 30px,#07f 33px,#07f 38px,#0af 45px,#0ef 53px,#0ff 56px,#0ef 60px,#0af 63px,#06f"></i><i style="--g:#00f,#00f 5px,#01f 7px,#07f 24px,#07f 30px,#06f 33px,#06f 38px,#0df 56px,#0cf 60px,#08f 63px,#05f"></i><i style="--g:#00f,#00f 5px,#01f 7px,#07f 24px,#07f 30px,#06f 33px,#06f 38px,#0bf 56px,#0bf 60px,#07f 63px,#03f"></i><i style="--g:#00f,#00f 5px,#01f 7px,#07f 24px,#08f 30px,#07f 33px,#06f 38px,#0bf 56px,#0af 60px,#07f 63px,#03f"></i><i style="--g:#00f,#00f 5px,#01f 7px,#07f 24px,#08f 30px,#07f 33px,#06f 38px,#0cf 56px,#0bf 60px,#07f 63px,#04f"></i><i style="--g:#00f,#00f 5px,#01f 7px,#07f 24px,#07f 30px,#06f 33px,#06f 38px,#0ef 56px,#0df 60px,#09f 63px,#05f"></i><i style="--g:#00f,#00f 5px,#01f 7px,#07f 24px,#07f 30px,#06f 33px,#06f 38px,#0df 56px,#0cf 60px,#08f 63px,#04f"></i><i style="--g:#00f,#00f 5px,#03f 11px,#08f 24px,#08f 30px,#07f 33px,#07f 38px,#0bf 56px,#0af 60px,#07f 63px,#03f"></i><i style="--g:#00f,#00f 5px,#03f 11px,#08f 24px,#08f 30px,#07f 33px,#07f 38px,#0bf 56px,#0af 60px,#07f 63px,#03f"></i><i style="--g:#00f,#00f 5px,#03f 11px,#08f 24px,#08f 30px,#07f 33px,#07f 38px,#0bf 56px,#0af 60px,#07f 63px,#04f"></i><i style="--g:#00f,#00f 5px,#03f 11px,#08f 24px,#08f 30px,#07f 33px,#07f 38px,#0cf 56px,#0cf 60px,#08f 63px,#05f"></i><i style="--g:#00f,#04f 7px,#03f 12px,#07f 24px,#08f 30px,#07f 33px,#07f 38px,#09f 45px,#0ef 53px,#0ef 56px,#0df 60px,#0af 63px,#06f"></i><i style="--g:#00f,#04f 7px,#03f 12px,#07f 24px,#08f 30px,#07f 33px,#07f 38px,#0cf 56px,#0bf 60px,#08f 63px,#04f"></i><i style="--g:#00f,#00f 5px,#03f 11px,#07f 24px,#08f 30px,#07f 33px,#07f 38px,#0af 56px,#0af 60px,#06f 63px,#03f"></i><i style="--g:#00f,#00f 5px,#03f 11px,#07f 24px,#08f 30px,#07f 33px,#07f 38px,#0bf 56px,#0af 60px,#06f 63px,#03f"></i><i style="--g:#00f,#00f 5px,#03f 11px,#08f 24px,#08f 30px,#07f 33px,#07f 38px,#0df 56px,#0cf 60px,#08f 63px,#04f"></i><i style="--g:#00f,#00f 5px,#03f 11px,#07f 24px,#08f 30px,#07f 33px,#07f 38px,#09f 45px,#0ff 54px,#0ef 60px,#0bf 63px,#07f"></i><i style="--g:#00f,#00f 5px,#01f 7px,#07f 24px,#08f 30px,#06f 33px,#06f 38px,#09f 45px,#0ff 53px,#0fe 56px,#0ff 60px,#0bf 63px,#07f"></i><i style="--g:#00f,#00f 5px,#01f 7px,#07f 24px,#07f 30px,#06f 33px,#06f 38px,#09f 45px,#0df 53px,#0ef 56px,#0df 60px,#09f 63px,#06f"></i><i style="--g:#00f,#00f 5px,#01f 7px,#07f 24px,#07f 30px,#06f 33px,#06f 38px,#0df 56px,#0cf 60px,#08f 63px,#05f"></i><i style="--g:#00f,#00f 5px,#01f 7px,#07f 24px,#08f 30px,#06f 33px,#06f 38px,#09f 45px,#0ef 53px,#0ff 56px,#0ef 60px,#0af 63px,#06f"></i><i style="--g:#00f,#00f 5px,#01f 7px,#07f 24px,#08f 30px,#07f 33px,#06f 38px,#09f 45px,#0ff 53px,#0fe 56px,#0ff 60px,#0bf 63px,#07f"></i><i style="--g:#00f,#00f 5px,#01f 7px,#07f 24px,#08f 30px,#07f 33px,#06f 38px,#09f 45px,#0ef 53px,#0ef 56px,#0df 60px,#0af 63px,#06f"></i><i style="--g:#00f,#00f 5px,#03f 11px,#07f 24px,#08f 30px,#07f 33px,#07f 38px,#0cf 56px,#0bf 60px,#07f 63px,#04f"></i><i style="--g:#00f,#00f 5px,#01f 7px,#06f 20px,#0bf 24px,#0bf 30px,#0af 33px,#0af 39px,#08f 44px,#0af 56px,#0af 60px,#06f 63px,#03f"></i><i style="--g:#00f,#00f 5px,#01f 7px,#05f 20px,#0ef 24px,#0ef 30px,#0df 33px,#0df 39px,#08f 44px,#0af 56px,#09f 60px,#06f 63px,#02f"></i><i style="--g:#00f,#00f 5px,#01f 7px,#06f 20px,#0af 24px,#0bf 30px,#0af 33px,#0af 39px,#08f 44px,#0af 56px,#09f 60px,#06f 63px,#02f"></i><i style="--g:#00f,#00f 5px,#03f 11px,#08f 24px,#08f 30px,#07f 33px,#07f 38px,#0bf 56px,#0af 60px,#07f 63px,#03f"></i><i style="--g:#00f,#00f 5px,#03f 11px,#08f 24px,#08f 30px,#07f 33px,#07f 38px,#0df 56px,#0cf 60px,#08f 63px,#05f"></i><i style="--g:#00f,#00f 5px,#03f 11px,#08f 24px,#08f 30px,#07f 33px,#07f 38px,#0af 45px,#0ef 53px,#0ff 55px,#0ef 60px,#0af 63px,#07f"></i><i style="--g:#00f,#00f 5px,#03f 11px,#08f 24px,#08f 30px,#07f 33px,#07f 38px,#0df 56px,#0cf 60px,#08f 63px,#05f"></i><i style="--g:#00f,#00f 5px,#01f 7px,#07f 24px,#08f 30px,#07f 33px,#06f 38px,#0af 56px,#0af 60px,#06f 63px,#03f"></i><i style="--g:#00f,#00f 5px,#01f 7px,#07f 24px,#08f 30px,#06f 33px,#06f 38px,#0af 56px,#09f 60px,#06f 63px,#03f"></i><i style="--g:#00f,#00f 5px,#01f 7px,#07f 24px,#07f 30px,#06f 33px,#06f 38px,#0af 56px,#09f 60px,#06f 63px,#02f"></i><i style="--g:#00f,#00f 5px,#01f 7px,#07f 24px,#07f 30px,#06f 33px,#06f 38px,#0af 56px,#09f 60px,#06f 63px,#03f"></i><i style="--g:#00f,#00f 5px,#03f 11px,#08f 24px,#08f 30px,#07f 33px,#07f 38px,#0bf 56px,#0af 60px,#07f 63px,#03f"></i><i style="--g:#00f,#00f 5px,#03f 11px,#08f 24px,#08f 30px,#07f 33px,#07f 38px,#0cf 56px,#0bf 60px,#08f 63px,#04f"></i><i style="--g:#00f,#00f 5px,#01f 7px,#07f 24px,#07f 30px,#06f 33px,#06f 38px,#0ef 56px,#0df 60px,#09f 63px,#05f"></i><i style="--g:#00f,#00f 5px,#01f 7px,#07f 24px,#07f 30px,#06f 33px,#06f 38px,#09f 45px,#0ef 52px,#0ff 55px,#0ef 60px,#0af 63px,#07f"></i><i style="--g:#00f,#00f 5px,#01f 7px,#07f 24px,#07f 30px,#06f 33px,#06f 38px,#09f 45px,#0df 53px,#0ef 56px,#0df 60px,#09f 63px,#06f"></i><i style="--g:#00f,#00f 5px,#01f 7px,#07f 24px,#07f 30px,#06f 33px,#06f 38px,#0bf 56px,#0bf 60px,#07f 63px,#03f"></i><i style="--g:#00f,#00f 5px,#01f 7px,#07f 24px,#07f 30px,#06f 33px,#06f 38px,#0af 56px,#09f 60px,#06f 63px,#03f"></i><i style="--g:#00f,#00f 5px,#01f 7px,#07f 24px,#07f 30px,#06f 33px,#06f 38px,#0af 56px,#09f 60px,#06f 63px,#02f"></i><i style="--g:#00f,#00f 5px,#01f 7px,#07f 24px,#07f 30px,#06f 33px,#06f 38px,#0af 56px,#09f 60px,#06f 63px,#02f"></i><i style="--g:#00f,#00f 5px,#01f 7px,#07f 24px,#08f 30px,#07f 33px,#06f 38px,#0af 56px,#09f 60px,#06f 63px,#03f"></i><i style="--g:#00f,#00f 5px,#03f 11px,#08f 24px,#09f 30px,#08f 33px,#07f 38px,#0bf 56px,#0af 60px,#07f 63px,#04f"></i><i style="--g:#00f,#00f 5px,#03f 11px,#08f 24px,#08f 30px,#07f 33px,#07f 38px,#0bf 56px,#0af 60px,#07f 63px,#03f"></i><i style="--g:#00f,#00f 5px,#01f 7px,#07f 24px,#08f 30px,#07f 33px,#06f 38px,#0af 56px,#09f 60px,#06f 63px,#03f"></i><i style="--g:#00f,#00f 5px,#01f 7px,#07f 24px,#08f 30px,#07f 33px,#06f 38px,#0af 56px,#09f 60px,#06f 63px,#03f"></i><i style="--g:#00f,#00f 5px,#01f 7px,#07f 24px,#08f 30px,#07f 33px,#06f 38px,#0af 56px,#0af 60px,#06f 63px,#03f"></i><i style="--g:#00f,#00f 5px,#03f 11px,#07f 24px,#08f 30px,#07f 33px,#07f 38px,#0cf 56px,#0bf 60px,#07f 63px,#04f"></i><i style="--g:#00f,#00f 5px,#03f 11px,#08f 24px,#08f 30px,#07f 33px,#07f 38px,#0ff 56px,#0ef 60px,#0af 63px,#06f"></i><i style="--g:#00f,#00f 5px,#03f 11px,#08f 24px,#08f 30px,#07f 33px,#07f 38px,#0af 45px,#0ff 52px,#0fd 56px,#0ff 60px,#0cf 63px,#08f"></i><i style="--g:#00f,#00f 5px,#03f 11px,#08f 24px,#08f 30px,#07f 33px,#07f 38px,#0af 45px,#0ff 55px,#0ef 60px,#0af 63px,#07f"></i><i style="--g:#00f,#00f 5px,#03f 11px,#07f 24px,#08f 30px,#07f 33px,#07f 38px,#0df 56px,#0cf 60px,#08f 63px,#05f"></i><i style="--g:#00f,#00f 5px,#01f 7px,#07f 24px,#07f 30px,#06f 33px,#06f 38px,#0df 56px,#0cf 60px,#08f 63px,#05f"></i><i style="--g:#00f,#00f 5px,#01f 7px,#07f 24px,#08f 30px,#06f 33px,#06f 38px,#09f 45px,#0ef 52px,#0ff 55px,#0ef 60px,#0af 63px,#07f"></i><i style="--g:#00f,#00f 5px,#03f 11px,#07f 24px,#08f 30px,#07f 33px,#07f 38px,#09f 45px,#0ff 54px,#0fe 56px,#0ef 60px,#0bf 63px,#07f"></i><i style="--g:#00f,#00f 5px,#03f 11px,#08f 24px,#08f 30px,#07f 33px,#07f 38px,#0df 56px,#0cf 60px,#09f 63px,#05f"></i><i style="--g:#00f,#00f 5px,#05f 14px,#08f 24px,#09f 30px,#08f 33px,#07f 38px,#0cf 56px,#0bf 60px,#08f 63px,#04f"></i><i style="--g:#00f,#00f 5px,#03f 11px,#08f 24px,#08f 30px,#07f 33px,#07f 38px,#0df 56px,#0cf 60px,#08f 63px,#05f"></i><i style="--g:#00f,#00f 5px,#03f 11px,#07f 24px,#08f 30px,#07f 33px,#07f 38px,#09f 45px,#0ef 53px,#0ff 56px,#0ef 60px,#0af 63px,#06f"></i><i style="--g:#00f,#00f 5px,#03f 11px,#07f 24px,#08f 30px,#07f 33px,#07f 38px,#0af 45px,#0ff 53px,#0fe 56px,#0ff 60px,#0bf 63px,#07f"></i><i style="--g:#00f,#00f 5px,#03f 11px,#09f 28px,#08f 38px,#09f 44px,#0ef 53px,#0ff 56px,#0ef 60px,#0af 63px,#06f"></i><i style="--g:#00f,#00f 5px,#03f 11px,#08f 24px,#0cf 28px,#0cf 30px,#0bf 33px,#0bf 39px,#09f 44px,#0cf 56px,#0bf 60px,#07f 63px,#04f"></i><i style="--g:#00f,#00f 5px,#01f 7px,#07f 24px,#0bf 28px,#0cf 30px,#0af 33px,#0bf 39px,#08f 44px,#0af 56px,#09f 60px,#06f 63px,#02f"></i><i style="--g:#00f,#00f 5px,#03f 11px,#08f 28px,#07f 38px,#0af 56px,#09f 60px,#06f 63px,#03f"></i><i style="--g:#00f,#00f 5px,#03f 11px,#08f 24px,#08f 30px,#07f 33px,#07f 38px,#0bf 56px,#0af 60px,#07f 63px,#03f"></i><i style="--g:#00f,#00f 5px,#03f 11px,#08f 24px,#08f 30px,#07f 33px,#07f 38px,#0bf 56px,#0af 60px,#07f 63px,#03f"></i><i style="--g:#00f,#00f 5px,#03f 11px,#08f 24px,#0bf 28px,#0bf 30px,#0af 33px,#0bf 39px,#09f 44px,#0bf 56px,#0af 60px,#07f 63px,#03f"></i><i style="--g:#00f,#00f 5px,#03f 11px,#08f 24px,#0ef 28px,#0ef 30px,#0df 33px,#0ef 39px,#09f 44px,#0bf 56px,#0af 60px,#07f 63px,#04f"></i><i style="--g:#00f,#00f 5px,#03f 11px,#08f 24px,#0ef 28px,#0ff 30px,#0df 33px,#0ef 39px,#09f 44px,#0bf 56px,#0af 60px,#07f 63px,#04f"></i><i style="--g:#00f,#00f 5px,#03f 11px,#08f 24px,#0bf 28px,#0bf 30px,#0af 33px,#0bf 39px,#09f 44px,#0bf 56px,#0af 60px,#07f 63px,#03f"></i><i style="--g:#00f,#00f 5px,#03f 11px,#08f 24px,#08f 30px,#07f 33px,#07f 38px,#0bf 56px,#0af 60px,#07f 63px,#03f"></i><i style="--g:#00f,#00f 5px,#03f 11px,#08f 24px,#08f 30px,#07f 33px,#07f 38px,#0bf 56px,#0af 60px,#07f 63px,#03f"></i><i style="--g:#00f,#00f 5px,#03f 11px,#07f 24px,#08f 30px,#07f 33px,#07f 38px,#0bf 56px,#0af 60px,#07f 63px,#03f"></i><i style="--g:#00f,#00f 5px,#01f 7px,#07f 24px,#08f 30px,#06f 33px,#06f 38px,#0ef 56px,#0df 60px,#09f 63px,#05f"></i><i style="--g:#00f,#00f 5px,#01f 7px,#07f 24px,#07f 30px,#06f 33px,#06f 38px,#0ef 56px,#0df 60px,#09f 63px,#05f"></i><i style="--g:#00f,#00f 5px,#01f 7px,#07f 24px,#07f 30px,#06f 33px,#06f 38px,#0bf 56px,#0af 60px,#06f 63px,#03f"></i><i style="--g:#00f,#00f 5px,#03f 11px,#08f 24px,#0bf 28px,#0bf 30px,#0af 33px,#0af 39px,#08f 44px,#0bf 56px,#0af 60px,#06f 63px,#03f"></i><i style="--g:#00f,#00f 5px,#03f 11px,#08f 24px,#0ef 28px,#0ef 30px,#0df 33px,#0df 39px,#09f 44px,#0bf 56px,#0af 60px,#07f 63px,#03f"></i><i style="--g:#00f,#00f 5px,#03f 11px,#08f 24px,#0ef 28px,#0ef 30px,#0df 33px,#0ef 39px,#09f 44px,#0bf 56px,#0af 60px,#07f 63px,#04f"></i><i style="--g:#00f,#00f 5px,#03f 11px,#08f 24px,#0bf 28px,#0bf 30px,#0af 33px,#0af 39px,#09f 44px,#0bf 56px,#0af 60px,#07f 63px,#03f"></i><i style="--g:#00f,#00f 5px,#01f 7px,#07f 24px,#07f 30px,#06f 33px,#06f 38px,#0cf 56px,#0bf 60px,#08f 63px,#04f"></i><i style="--g:#00f,#00f 5px,#01f 7px,#07f 24px,#07f 30px,#06f 33px,#06f 38px,#09f 45px,#0ef 53px,#0ff 56px,#0ef 60px,#0af 63px,#06f"></i><i style="--g:#00f,#00f 5px,#01f 7px,#07f 24px,#08f 30px,#06f 33px,#06f 38px,#0af 45px,#0ff 51px,#0fd 56px,#0fe 60px,#0ff 61px,#0cf 63px,#08f"></i><i style="--g:#00f,#00f 5px,#03f 11px,#07f 24px,#08f 30px,#07f 33px,#07f 38px,#07f 40px,#0bf 45px,#0ef 48px,#0ff 49px,#0fd 52px,#0fc 56px,#0fd 60px,#0ff 62px,#0af"></i><i style="--g:#00f,#00f 5px,#03f 11px,#08f 24px,#08f 30px,#07f 33px,#07f 38px,#0af 45px,#0ef 51px,#0ff 53px,#0fe 56px,#0ff 60px,#0bf 63px,#07f"></i><i style="--g:#00f,#00f 5px,#03f 11px,#08f 24px,#08f 30px,#07f 33px,#07f 38px,#0ef 56px,#0df 60px,#09f 63px,#05f"></i><i style="--g:#00f,#00f 5px,#03f 11px,#08f 24px,#08f 30px,#07f 33px,#07f 38px,#0ff 56px,#0ef 60px,#0af 63px,#06f"></i><i style="--g:#00f,#00f 5px,#03f 11px,#08f 24px,#09f 30px,#07f 33px,#07f 38px,#08f 40px,#0bf 45px,#0ff 49px,#0fc 53px,#0fb 56px,#0fc 60px,#0ff 62px,#0ef 63px,#0af"></i><i style="--g:#00f,#00f 5px,#05f 14px,#08f 24px,#09f 30px,#08f 33px,#07f 38px,#08f 40px,#0bf 45px,#0ff 48px,#0fe 49px,#0fc 53px,#0fb 56px,#0fc 60px,#0ff 62px,#0ef 63px,#0af"></i><i style="--g:#00f,#00f 5px,#03f 11px,#08f 24px,#08f 30px,#07f 33px,#07f 38px,#0af 45px,#0ef 52px,#0ff 55px,#0ef 60px,#0af 63px,#07f"></i><i style="--g:#00f,#00f 5px,#01f 7px,#07f 24px,#07f 30px,#06f 33px,#06f 38px,#0df 56px,#0cf 60px,#09f 63px,#05f"></i><i style="--g:#00f,#00f 5px,#01f 7px,#07f 24px,#07f 30px,#06f 33px,#06f 38px,#09f 45px,#0ef 53px,#0ff 56px,#0ef 60px,#0af 63px,#06f"></i><i style="--g:#00f,#00f 5px,#01f 7px,#07f 24px,#07f 30px,#06f 33px,#06f 38px,#09f 45px,#0ff 51px,#0fb 54px,#0fa 56px,#0fe 60px,#0ef 61px,#0bf 63px,#07f"></i><i style="--g:#00f,#00f 5px,#03f 11px,#07f 24px,#08f 30px,#07f 33px,#07f 38px,#0af 45px,#0ef 49px,#0fe 50px,#0fc 51px,#0f5 54px,#0f3 55px,#0f3 56px,#0f5 57px,#0fe 61px,#0ef 62px,#08f"></i><i style="--g:#00f,#00f 5px,#03f 11px,#08f 24px,#08f 30px,#07f 33px,#07f 38px,#08f 40px,#0bf 45px,#0ff 49px,#0fc 51px,#0f5 54px,#0f4 55px,#0f4 56px,#0f5 57px,#0ff 62px,#09f"></i><i style="--g:#00f,#00f 5px,#03f 11px,#08f 24px,#08f 30px,#07f 33px,#07f 38px,#0af 45px,#0ff 51px,#0fb 54px,#0fb 56px,#0fe 60px,#0ff 61px,#08f"></i><i style="--g:#00f,#00f 5px,#03f 11px,#08f 24px,#08f 30px,#07f 33px,#07f 38px,#0af 45px,#0ff 53px,#0ff 55px,#0ef 60px,#0af 63px,#07f"></i><i style="--g:#00f,#00f 5px,#03f 11px,#08f 24px,#08f 30px,#07f 33px,#07f 38px,#0df 56px,#0cf 60px,#09f 63px,#05f"></i><i style="--g:#00f,#00f 5px,#03f 11px,#08f 24px,#08f 30px,#07f 33px,#07f 38px,#0cf 56px,#0bf 60px,#08f 63px,#04f"></i><i style="--g:#00f,#00f 5px,#05f 14px,#08f 24px,#09f 30px,#08f 33px,#07f 38px,#0cf 56px,#0bf 60px,#08f 63px,#04f"></i><i style="--g:#00f,#00f 5px,#05f 14px,#08f 24px,#09f 30px,#08f 33px,#08f 38px,#0af 45px,#0ff 55px,#0ef 60px,#0af 63px,#06f"></i><i style="--g:#00f,#00f 5px,#05f 14px,#08f 24px,#09f 30px,#08f 33px,#08f 38px,#0bf 45px,#0ef 49px,#0fe 50px,#0f8 54px,#0f6 56px,#0fe 61px,#0ef 62px,#09f"></i><i style="--g:#00f,#00f 5px,#05f 14px,#08f 24px,#09f 30px,#08f 33px,#08f 38px,#0bf 45px,#0ff 49px,#0fd 51px,#0f8 54px,#0f6 56px,#0ef 62px,#09f"></i><i style="--g:#00f,#00f 5px,#05f 14px,#08f 24px,#09f 30px,#08f 33px,#07f 38px,#0af 45px,#0ff 52px,#0fd 56px,#0ff 60px,#0cf 63px,#08f"></i><i style="--g:#00f,#00f 5px,#03f 11px,#08f 24px,#09f 30px,#08f 33px,#07f 38px,#0af 45px,#0ff 50px,#0fe 51px,#0fb 54px,#0fa 56px,#0fd 60px,#0ff 61px,#0cf 63px,#08f"></i><i style="--g:#00f,#00f 5px,#03f 11px,#08f 24px,#09f 30px,#07f 33px,#07f 38px,#0af 45px,#0ff 49px,#0fc 51px,#0f6 54px,#0f4 55px,#0f4 56px,#0ff 62px,#09f"></i><i style="--g:#00f,#00f 5px,#03f 11px,#08f 24px,#08f 30px,#07f 33px,#07f 38px,#0af 45px,#0fe 53px,#0fd 56px,#0ff 60px,#0bf 63px,#07f"></i><i style="--g:#00f,#00f 5px,#03f 11px,#08f 24px,#08f 30px,#07f 33px,#07f 38px,#0df 56px,#0cf 60px,#09f 63px,#05f"></i><i style="--g:#00f,#00f 5px,#03f 11px,#07f 24px,#08f 30px,#07f 33px,#07f 38px,#0df 56px,#0cf 60px,#09f 63px,#05f"></i><i style="--g:#00f,#00f 5px,#03f 11px,#08f 24px,#08f 30px,#07f 33px,#07f 38px,#09f 45px,#0ef 53px,#0ff 56px,#0ef 60px,#0af 63px,#06f"></i><i style="--g:#00f,#00f 5px,#03f 11px,#08f 24px,#08f 30px,#07f 33px,#07f 38px,#0af 45px,#0ff 55px,#0ef 60px,#0af 63px,#07f"></i><i style="--g:#00f,#00f 5px,#03f 11px,#07f 24px,#08f 30px,#07f 33px,#07f 38px,#0df 56px,#0cf 60px,#09f 63px,#05f"></i><i style="--g:#00f,#00f 5px,#01f 7px,#07f 24px,#07f 30px,#06f 33px,#06f 38px,#0bf 56px,#0af 60px,#07f 63px,#03f"></i></div><div id="s1b"><i style="--g:#00f,#00f 34px,#01f 39px,#03f 45px,#0ef 68px,#0ff 73px,#0ff 82px,#0fd 86px,#0f3 95px,#0f0 100px,#1f0 102px,#2f0 104px,#df0 109px,#ff0 111px,#fe0 116px,#fc0 117px,#f40 120px,#f00 122px,#f04 124px,#f0e 128px,#f0f 129px,#f0f"></i><i style="--g:#00f,#00f 34px,#01f 39px,#03f 45px,#0ef 68px,#0ff 73px,#0ff 83px,#0fd 86px,#0f4 95px,#0f0 100px,#1f0 102px,#2f0 104px,#df0 109px,#ff0 112px,#fe0 116px,#fd0 117px,#f40 120px,#f00 122px,#f03 124px,#f0b 127px,#f0f 129px,#f0f"></i><i style="--g:#00f,#00f 34px,#01f 39px,#03f 45px,#0ff 68px,#0ff 70px,#0ff 83px,#0fc 87px,#0f4 95px,#0f0 101px,#2f0 104px,#df0 109px,#ff0 112px,#fe0 116px,#fd0 117px,#f40 120px,#f00 122px,#f03 124px,#f0b 127px,#f0f 129px,#f0f"></i><i style="--g:#00f,#01f 37px,#04f 45px,#0ff 63px,#0fe 66px,#0fe 72px,#0ff 73px,#0ff 83px,#0fd 87px,#0f4 95px,#0f0 101px,#2f0 104px,#8f0 107px,#df0 109px,#ff0 112px,#fe0 116px,#fe0 117px,#f20 121px,#f10 122px,#f01 123px,#f05 125px,#f0b 127px,#f0f 129px,#f0f"></i><i style="--g:#00f,#00f 34px,#01f 39px,#03f 45px,#0ff 66px,#0fe 72px,#0ff 73px,#0ff 83px,#0fd 87px,#0f4 95px,#0f0 101px,#2f0 104px,#8f0 107px,#df0 109px,#ff0 112px,#fe0 116px,#fe0 117px,#f20 121px,#f10 122px,#f01 123px,#f05 125px,#f0b 127px,#f0f 129px,#f0f"></i><i style="--g:#00f,#00f 34px,#01f 39px,#03f 45px,#0ef 68px,#0ff 73px,#0ff 83px,#0fd 87px,#0f4 95px,#0f0 100px,#1f0 102px,#2f0 104px,#7f0 107px,#df0 109px,#ff0 112px,#fe0 117px,#f20 121px,#f01 123px,#f05 125px,#f0a 127px,#f0f 129px,#f0f"></i><i style="--g:#00f,#00f 34px,#01f 39px,#03f 45px,#0ef 63px,#0ff 67px,#0fe 84px,#0fd 87px,#0f4 95px,#0f0 101px,#1f0 104px,#7f0 107px,#cf0 109px,#df0 110px,#ff0 112px,#fe0 117px,#fc0 118px,#f30 121px,#f10 122px,#f00 123px,#f04 125px,#f0e 129px,#f0f 130px,#f0f"></i><i style="--g:#00f,#00f 34px,#01f 39px,#03f 45px,#0ff 66px,#0fe 72px,#0ff 73px,#0ff 83px,#0fd 87px,#0f4 95px,#0f0 101px,#2f0 104px,#8f0 107px,#df0 109px,#ff0 112px,#fe0 116px,#fe0 117px,#f20 121px,#f10 122px,#f01 123px,#f05 125px,#f0b 127px,#f0f 129px,#f0f"></i><i style="--g:#00f,#00f 34px,#01f 39px,#03f 45px,#0ff 67px,#0fe 72px,#0ff 73px,#0fe 84px,#0fc 88px,#0f4 95px,#0f0 101px,#1f0 104px,#3f0 105px,#df0 110px,#ff0 113px,#fe0 117px,#fc0 118px,#f10 122px,#f00 123px,#f04 125px,#f0e 129px,#f0f 130px,#f0f"></i><i style="--g:#00f,#00f 34px,#01f 39px,#03f 45px,#0ff 65px,#0fe 67px,#0fe 72px,#0ff 73px,#0fe 84px,#0fc 88px,#0f3 96px,#0f0 102px,#2f0 105px,#df0 110px,#ff0 113px,#fe0 117px,#fd0 118px,#f40 121px,#f00 123px,#f03 125px,#f0b 128px,#f0f 130px,#f0f"></i><i style="--g:#00f,#00f 34px,#01f 39px,#03f 45px,#0ff 68px,#0ff 70px,#0ff 82px,#0fd 86px,#0f4 95px,#0f0 101px,#2f0 104px,#df0 109px,#ff0 112px,#fe0 116px,#fd0 117px,#f40 120px,#f00 122px,#f03 124px,#f0b 127px,#f0f 129px,#f0f"></i><i style="--g:#00f,#00f 34px,#01f 39px,#03f 45px,#0ef 68px,#0ff 73px,#0ff 83px,#0fd 86px,#0f4 95px,#0f0 100px,#1f0 102px,#2f0 104px,#df0 109px,#ff0 112px,#fe0 116px,#fd0 117px,#f20 121px,#f00 122px,#f03 124px,#f0b 127px,#f0f 129px,#f0f"></i><i style="--g:#00f,#00f 34px,#01f 39px,#03f 45px,#0ef 68px,#0ff 73px,#0ff 83px,#0fd 87px,#0f4 95px,#0f0 100px,#1f0 102px,#2f0 104px,#8f0 107px,#df0 109px,#ff0 112px,#fe0 117px,#f20 121px,#f01 123px,#f05 125px,#f0b 127px,#f0f 129px,#f0f"></i><i style="--g:#00f,#00f 34px,#01f 39px,#03f 45px,#0ef 68px,#0ff 73px,#0ff 83px,#0fd 87px,#0f4 95px,#0f1 100px,#0f0 102px,#1f0 104px,#7f0 107px,#cf0 109px,#ff0 112px,#fe0 117px,#f30 121px,#f00 123px,#f04 125px,#f0a 127px,#f0e 129px,#f0f"></i><i style="--g:#00f,#00f 34px,#01f 39px,#03f 45px,#0ef 68px,#0ff 72px,#0ff 83px,#0fd 87px,#0f4 95px,#0f0 101px,#1f0 104px,#7f0 107px,#df0 109px,#ff0 112px,#fe0 117px,#f20 121px,#f10 122px,#f01 123px,#f04 125px,#f0a 127px,#f0f 129px,#f0f"></i><i style="--g:#00f,#00f 36px,#04f 45px,#0ff 64px,#0fe 68px,#0fe 72px,#0ff 73px,#0ff 83px,#0fd 87px,#0f4 95px,#0f0 101px,#2f0 104px,#df0 109px,#ff0 112px,#fe0 116px,#fd0 117px,#f20 121px,#f00 122px,#f01 123px,#f05 125px,#f0b 127px,#f0f 129px,#f0f"></i><i style="--g:#00f,#00f 36px,#04f 45px,#0ff 64px,#0fe 68px,#0fe 72px,#0ff 73px,#0ff 83px,#0fd 87px,#0f4 95px,#0f0 101px,#2f0 104px,#df0 109px,#ff0 112px,#fe0 116px,#fd0 117px,#f20 121px,#f00 122px,#f01 123px,#f05 125px,#f0b 127px,#f0f 129px,#f0f"></i><i style="--g:#00f,#00f 36px,#04f 45px,#0ff 65px,#0fe 72px,#0ff 73px,#0ff 83px,#0fc 87px,#0f4 95px,#0f0 101px,#2f0 104px,#df0 109px,#ff0 112px,#fe0 116px,#fd0 117px,#f20 121px,#f00 122px,#f01 123px,#f05 125px,#f0b 127px,#f0f 129px,#f0f"></i><i style="--g:#00f,#00f 36px,#04f 45px,#0ff 65px,#0fe 71px,#0fe 72px,#0ff 73px,#0fe 84px,#0fd 87px,#0f4 95px,#0f0 101px,#1f0 104px,#7f0 107px,#cf0 109px,#df0 110px,#ff0 112px,#fe0 117px,#f30 121px,#f10 122px,#f00 123px,#f04 125px,#f0a 127px,#f0f 129px,#f0f"></i><i style="--g:#00f,#00f 35px,#04f 45px,#0ff 63px,#0fe 67px,#0fe 72px,#0ff 73px,#0ff 83px,#0fc 87px,#0f4 95px,#0f0 101px,#2f0 104px,#df0 109px,#ff0 112px,#fe0 116px,#fd0 117px,#f20 121px,#f00 122px,#f03 124px,#f0b 127px,#f0f 129px,#f0f"></i><i style="--g:#00f,#00f 35px,#04f 45px,#0ff 61px,#0fe 63px,#0fe 72px,#0ff 73px,#0ff 83px,#0fc 87px,#0f4 95px,#0f0 101px,#2f0 104px,#df0 109px,#ff0 112px,#fe0 116px,#fd0 117px,#f40 120px,#f00 122px,#f03 124px,#f0b 127px,#f0f 129px,#f0f"></i><i style="--g:#00f,#00f 35px,#04f 45px,#0ef 61px,#0ff 64px,#0fe 68px,#0fe 72px,#0ff 73px,#0fe 83px,#0fc 87px,#0f4 94px,#0f0 100px,#1f0 103px,#3f0 104px,#df0 109px,#ff0 112px,#fe0 116px,#fc0 117px,#f10 121px,#f00 122px,#f04 124px,#f0c 127px,#f0e 128px,#f0f 129px,#f0f"></i><i style="--g:#00f,#00f 34px,#01f 39px,#03f 45px,#0ef 68px,#0ff 73px,#0ff 83px,#0fd 87px,#0f4 95px,#0f0 100px,#1f0 102px,#2f0 104px,#8f0 107px,#df0 109px,#ff0 112px,#fe0 117px,#f20 121px,#f01 123px,#f05 125px,#f0b 127px,#f0f 129px,#f0f"></i><i style="--g:#00f,#00f 34px,#01f 39px,#03f 45px,#0ef 68px,#0ff 73px,#0ff 83px,#0fd 87px,#0f3 96px,#0f0 102px,#2f0 105px,#df0 110px,#ff0 113px,#fe0 117px,#fd0 118px,#f40 121px,#f00 123px,#f03 125px,#f0b 128px,#f0f 130px,#f0f"></i><i style="--g:#00f,#00f 34px,#01f 39px,#03f 45px,#0ef 68px,#0ff 73px,#0ff 83px,#0fd 87px,#0f3 96px,#0f0 102px,#2f0 105px,#df0 110px,#ff0 112px,#fe0 117px,#fd0 118px,#f40 121px,#f00 123px,#f04 125px,#f0e 129px,#f0f 130px,#f0f"></i><i style="--g:#00f,#00f 34px,#01f 39px,#03f 45px,#0ef 68px,#0ff 73px,#0ff 82px,#0fd 86px,#0f3 95px,#0f0 100px,#1f0 102px,#2f0 104px,#df0 109px,#ff0 111px,#fe0 116px,#fd0 117px,#f40 120px,#f00 122px,#f03 124px,#f0e 128px,#f0f 129px,#f0f"></i><i style="--g:#00f,#00f 34px,#01f 39px,#03f 45px,#0ef 68px,#0ff 73px,#0ff 82px,#0fd 86px,#0f3 95px,#0f0 100px,#1f0 102px,#3f0 104px,#cf0 108px,#ff0 111px,#fe0 116px,#fc0 117px,#f30 120px,#f00 122px,#f04 124px,#f0e 128px,#f0f 129px,#f0f"></i><i style="--g:#00f,#00f 34px,#01f 39px,#03f 45px,#0ef 68px,#0ff 73px,#0ff 82px,#0fd 86px,#0f3 95px,#0f0 100px,#1f0 102px,#3f0 104px,#cf0 108px,#ff0 111px,#fe0 116px,#fc0 117px,#f30 120px,#f00 122px,#f04 124px,#f0e 128px,#f0f 129px,#f0f"></i><i style="--g:#00f,#00f 34px,#01f 39px,#03f 45px,#0ef 68px,#0ff 73px,#0ff 83px,#0fd 87px,#0f4 95px,#0f1 100px,#0f0 102px,#1f0 104px,#7f0 107px,#cf0 109px,#ff0 112px,#fe0 117px,#fc0 118px,#f30 121px,#f00 123px,#f04 125px,#f0e 129px,#f0f 130px,#f0f"></i><i style="--g:#00f,#00f 34px,#01f 39px,#03f 45px,#0ef 68px,#0ff 73px,#0ff 83px,#0fd 86px,#0f4 95px,#0f0 100px,#1f0 102px,#2f0 104px,#df0 109px,#ff0 112px,#fd0 117px,#f20 121px,#f00 122px,#f01 123px,#f05 125px,#f0b 127px,#f0f 129px,#f0f"></i><i style="--g:#00f,#00f 34px,#01f 39px,#03f 45px,#0ef 68px,#0ff 73px,#0ff 82px,#0fd 86px,#0f3 95px,#0f0 100px,#1f0 102px,#2f0 104px,#df0 109px,#ff0 112px,#fe0 116px,#fd0 117px,#f40 120px,#f00 122px,#f03 124px,#f0b 127px,#f0f 129px,#f0f"></i><i style="--g:#00f,#00f 34px,#01f 39px,#03f 45px,#0ef 68px,#0ff 73px,#0ff 83px,#0fd 86px,#0f4 95px,#0f0 100px,#1f0 102px,#2f0 104px,#df0 109px,#ff0 112px,#fe0 116px,#fd0 117px,#f40 120px,#f00 122px,#f03 124px,#f0b 127px,#f0f 129px,#f0f"></i><i style="--g:#00f,#00f 34px,#01f 39px,#03f 45px,#0ef 68px,#0ff 73px,#0ff 82px,#0fd 86px,#0f3 95px,#0f0 100px,#1f0 102px,#3f0 104px,#df0 109px,#ff0 111px,#fe0 116px,#fc0 117px,#f40 120px,#f00 122px,#f04 124px,#f0e 128px,#f0f 129px,#f0f"></i><i style="--g:#00f,#00f 34px,#01f 39px,#03f 45px,#0ef 68px,#0ff 73px,#0ff 83px,#0fd 86px,#0f4 95px,#0f0 100px,#1f0 102px,#2f0 104px,#df0 109px,#ff0 112px,#fd0 117px,#f20 121px,#f10 122px,#f03 124px,#f0b 127px,#f0f 129px,#f0f"></i><i style="--g:#00f,#00f 34px,#01f 39px,#03f 45px,#0ef 68px,#0ff 73px,#0ff 83px,#0fd 87px,#0f3 96px,#0f0 102px,#2f0 105px,#df0 110px,#ff0 112px,#fe0 117px,#fd0 118px,#f40 121px,#f00 123px,#f03 125px,#f0b 128px,#f0f 130px,#f0f"></i><i style="--g:#00f,#00f 34px,#01f 39px,#03f 45px,#0df 63px,#0ff 69px,#0ff 83px,#0fd 87px,#0f3 96px,#0f0 102px,#2f0 105px,#df0 110px,#ff0 113px,#fe0 117px,#fd0 118px,#f40 121px,#f00 123px,#f03 125px,#f0b 128px,#f0f 130px,#f0f"></i><i style="--g:#00f,#00f 34px,#01f 39px,#03f 45px,#0ff 65px,#0fe 68px,#0fe 72px,#0ff 73px,#0fe 84px,#0fc 88px,#0f4 95px,#0f0 101px,#1f0 104px,#3f0 105px,#df0 110px,#ff0 113px,#fe0 117px,#fc0 118px,#f10 122px,#f00 123px,#f04 125px,#f0e 129px,#f0f 130px,#f0f"></i><i style="--g:#00f,#00f 34px,#01f 39px,#03f 45px,#0ff 68px,#0ff 83px,#0fc 87px,#0f3 95px,#0f0 101px,#2f0 104px,#df0 109px,#ff0 112px,#fe0 116px,#fd0 117px,#f40 120px,#f00 122px,#f03 124px,#f0b 127px,#f0f 129px,#f0f"></i><i style="--g:#00f,#00f 34px,#01f 39px,#03f 45px,#0ff 65px,#0fe 68px,#0fe 72px,#0ff 73px,#0fe 84px,#0fd 87px,#0f4 95px,#0f0 101px,#1f0 104px,#7f0 107px,#cf0 109px,#df0 110px,#ff0 112px,#fe0 117px,#f30 121px,#f10 122px,#f00 123px,#f04 125px,#f0a 127px,#f0f 129px,#f0f"></i><i style="--g:#00f,#00f 34px,#01f 39px,#03f 45px,#0ef 68px,#0ff 73px,#0ff 83px,#0fd 87px,#0f3 96px,#0f0 102px,#2f0 105px,#df0 110px,#ff0 112px,#fe0 117px,#fd0 118px,#f40 121px,#f00 123px,#f03 125px,#f0e 129px,#f0f 130px,#f0f"></i><i style="--g:#00f,#00f 34px,#01f 39px,#03f 45px,#0ef 68px,#0ff 73px,#0ff 83px,#0fd 87px,#0f4 96px,#0f0 102px,#2f0 105px,#df0 110px,#ff0 113px,#fe0 117px,#fd0 118px,#f20 122px,#f00 123px,#f03 125px,#f0b 128px,#f0f 130px,#f0f"></i><i style="--g:#00f,#00f 34px,#01f 39px,#03f 45px,#0ff 65px,#0fe 71px,#0fe 72px,#0ff 73px,#0fe 84px,#0fd 87px,#0f4 95px,#0f0 101px,#1f0 104px,#7f0 107px,#cf0 109px,#df0 110px,#ff0 112px,#fe0 117px,#f30 121px,#f10 122px,#f00 123px,#f04 125px,#f0a 127px,#f0e 129px,#f0f"></i><i style="--g:#00f,#00f 34px,#01f 39px,#03f 45px,#0ff 67px,#0fe 84px,#0fd 87px,#0f4 95px,#0f0 101px,#1f0 104px,#7f0 107px,#cf0 109px,#df0 110px,#ff0 112px,#fe0 116px,#fe0 117px,#f30 121px,#f10 122px,#f01 123px,#f04 125px,#f0a 127px,#f0f 129px,#f0f"></i><i style="--g:#00f,#00f 34px,#01f 39px,#03f 45px,#0ff 65px,#0fe 72px,#0ff 73px,#0fe 84px,#0fd 87px,#0f4 95px,#0f0 101px,#1f0 104px,#7f0 107px,#cf0 109px,#df0 110px,#ff0 112px,#fe0 117px,#f30 121px,#f10 122px,#f01 123px,#f04 125px,#f0a 127px,#f0f 129px,#f0f"></i><i style="--g:#00f,#00f 34px,#01f 39px,#03f 45px,#0ff 67px,#0fe 72px,#0ff 73px,#0ff 83px,#0fd 87px,#0f4 95px,#0f0 101px,#2f0 104px,#8f0 107px,#df0 109px,#ff0 112px,#fe0 116px,#fe0 117px,#f20 121px,#f10 122px,#f01 123px,#f05 125px,#f0b 127px,#f0f 129px,#f0f"></i><i style="--g:#00f,#00f 34px,#04f 45px,#0ff 65px,#0fe 70px,#0fe 72px,#0ff 73px,#0ff 83px,#0fd 87px,#0f4 95px,#0f0 101px,#2f0 104px,#8f0 107px,#df0 109px,#ff0 112px,#fe0 116px,#fd0 117px,#f20 121px,#f10 122px,#f01 123px,#f05 125px,#f0b 127px,#f0f 129px,#f0f"></i><i style="--g:#00f,#00f 34px,#02f 39px,#05f 45px,#0ff 59px,#0fe 61px,#0fe 72px,#0ff 73px,#0fe 84px,#0fc 88px,#0f4 95px,#0f0 101px,#1f0 104px,#3f0 105px,#df0 110px,#ff0 113px,#fe0 117px,#fc0 118px,#f40 121px,#f00 123px,#f04 125px,#f0e 129px,#f0f 130px,#f0f"></i><i style="--g:#00f,#00f 34px,#04f 45px,#0ff 63px,#0fe 67px,#0fe 72px,#0ff 73px,#0ff 83px,#0fc 87px,#0f3 95px,#0f0 101px,#2f0 104px,#df0 109px,#ff0 112px,#fe0 116px,#fd0 117px,#f40 120px,#f00 122px,#f03 124px,#f0b 127px,#f0f 129px,#f0f"></i><i style="--g:#00f,#00f 34px,#01f 39px,#03f 45px,#0ff 68px,#0ff 71px,#0ff 83px,#0fd 86px,#0f4 95px,#0f0 101px,#2f0 104px,#df0 109px,#ff0 112px,#fe0 116px,#fd0 117px,#f20 121px,#f00 122px,#f01 123px,#f05 125px,#f0b 127px,#f0f 129px,#f0f"></i><i style="--g:#00f,#00f 34px,#01f 39px,#03f 45px,#0ef 68px,#0ff 73px,#0ff 83px,#0fd 87px,#0f4 95px,#0f1 100px,#0f0 102px,#1f0 104px,#7f0 107px,#cf0 109px,#ff0 112px,#fe0 117px,#f30 121px,#f00 123px,#f04 125px,#f0a 127px,#f0f 129px,#f0f"></i><i style="--g:#00f,#00f 34px,#01f 39px,#03f 45px,#0ef 68px,#0ff 73px,#0ff 83px,#0fd 86px,#0f4 95px,#0f0 100px,#1f0 102px,#2f0 104px,#df0 109px,#ff0 112px,#fd0 117px,#f20 121px,#f10 122px,#f03 124px,#f0b 127px,#f0f 129px,#f0f"></i><i style="--g:#00f,#00f 34px,#01f 39px,#03f 45px,#0ef 68px,#0ff 73px,#0ff 83px,#0fd 86px,#0f4 95px,#0f0 100px,#1f0 102px,#2f0 104px,#df0 109px,#ff0 112px,#fe0 116px,#fd0 117px,#f40 120px,#f00 122px,#f03 124px,#f0b 127px,#f0f 129px,#f0f"></i><i style="--g:#00f,#00f 34px,#01f 39px,#03f 45px,#0ff 67px,#0fe 84px,#0fc 88px,#0f4 95px,#0f0 101px,#1f0 104px,#3f0 105px,#df0 110px,#ff0 113px,#fe0 117px,#fc0 118px,#f10 122px,#f00 123px,#f04 125px,#f0e 129px,#f0f 130px,#f0f"></i><i style="--g:#00f,#00f 34px,#01f 39px,#03f 45px,#0ff 67px,#0fe 84px,#0fd 87px,#0f4 95px,#0f0 101px,#1f0 104px,#7f0 107px,#cf0 109px,#df0 110px,#ff0 113px,#fe0 117px,#fc0 118px,#f30 121px,#f10 122px,#f00 123px,#f04 125px,#f0e 129px,#f0f 130px,#f0f"></i><i style="--g:#00f,#00f 34px,#01f 39px,#03f 45px,#0ef 68px,#0ff 73px,#0ff 83px,#0fd 87px,#0f4 95px,#0f1 100px,#0f0 102px,#1f0 104px,#7f0 107px,#cf0 109px,#ff0 112px,#fe0 117px,#f30 121px,#f00 123px,#f04 125px,#f0a 127px,#f0f 129px,#f0f"></i><i style="--g:#00f,#00f 34px,#01f 39px,#03f 45px,#0ef 68px,#0ff 73px,#0ff 83px,#0fd 87px,#0f3 96px,#0f0 102px,#2f0 105px,#bf0 109px,#df0 110px,#ff0 112px,#fe0 117px,#fd0 118px,#f40 121px,#f00 123px,#f04 125px,#f0e 129px,#f0f 130px,#f0f"></i><i style="--g:#00f,#00f 34px,#01f 39px,#03f 45px,#0ef 68px,#0ff 73px,#0ff 83px,#0fd 87px,#0f4 95px,#0f1 100px,#0f0 102px,#1f0 104px,#3f0 105px,#cf0 109px,#ff0 112px,#fe0 117px,#fc0 118px,#f30 121px,#f00 123px,#f04 125px,#f0e 129px,#f0f 130px,#f0f"></i><i style="--g:#00f,#00f 34px,#01f 39px,#03f 45px,#0ef 68px,#0ff 73px,#0ff 83px,#0fd 87px,#0f4 95px,#0f0 100px,#1f0 102px,#2f0 104px,#8f0 107px,#df0 109px,#ff0 112px,#fe0 117px,#f20 121px,#f01 123px,#f05 125px,#f0b 127px,#f0f 129px,#f0f"></i><i style="--g:#00f,#00f 34px,#01f 39px,#03f 45px,#0ef 68px,#0ff 73px,#0ff 83px,#0fd 87px,#0f4 95px,#0f1 100px,#0f0 102px,#1f0 104px,#3f0 105px,#cf0 109px,#ff0 112px,#fe0 117px,#fc0 118px,#f30 121px,#f00 123px,#f04 125px,#f0e 129px,#f0f 130px,#f0f"></i><i style="--g:#00f,#00f 34px,#01f 39px,#03f 45px,#0ef 68px,#0ff 73px,#0ff 83px,#0fd 87px,#0f4 95px,#0f0 100px,#1f0 102px,#2f0 104px,#8f0 107px,#df0 109px,#ff0 112px,#fe0 117px,#f20 121px,#f01 123px,#f05 125px,#f0a 127px,#f0f 129px,#f0f"></i><i style="--g:#00f,#00f 34px,#01f 39px,#03f 45px,#0ef 68px,#0ff 73px,#0ff 83px,#0fd 86px,#0f4 95px,#0f0 100px,#1f0 102px,#2f0 104px,#df0 109px,#ff0 112px,#fd0 117px,#f20 121px,#f00 122px,#f01 123px,#f05 125px,#f0b 127px,#f0f 129px,#f0f"></i><i style="--g:#00f,#00f 34px,#01f 39px,#03f 45px,#0ef 68px,#0ff 73px,#0ff 83px,#0fd 86px,#0f4 95px,#0f0 100px,#1f0 102px,#2f0 104px,#df0 109px,#ff0 112px,#fd0 117px,#f20 121px,#f00 122px,#f01 123px,#f05 125px,#f0b 127px,#f0f 129px,#f0f"></i><i style="--g:#00f,#00f 34px,#01f 39px,#03f 45px,#0ef 68px,#0ff 73px,#0ff 83px,#0fd 87px,#0f4 95px,#0f1 100px,#0f0 102px,#1f0 104px,#7f0 107px,#cf0 109px,#ff0 112px,#fe0 117px,#fc0 118px,#f30 121px,#f00 123px,#f04 125px,#f0e 129px,#f0f 130px,#f0f"></i><i style="--g:#00f,#00f 34px,#01f 39px,#03f 45px,#0ef 68px,#0ff 73px,#0ff 83px,#0fd 86px,#0f4 95px,#0f0 100px,#1f0 102px,#2f0 104px,#df0 109px,#ff0 112px,#fd0 117px,#f20 121px,#f01 123px,#f05 125px,#f0b 127px,#f0f 129px,#f0f"></i><i style="--g:#00f,#00f 34px,#01f 39px,#03f 45px,#0ef 68px,#0ff 73px,#0ff 82px,#0fd 86px,#0f4 94px,#0f0 100px,#1f0 103px,#7f0 106px,#cf0 108px,#ff0 111px,#fe0 116px,#f30 120px,#f00 122px,#f04 124px,#f0a 126px,#f0f 128px,#f0f"></i><i style="--g:#00f,#00f 34px,#01f 39px,#03f 45px,#0ef 68px,#0ff 73px,#0ff 82px,#0fd 86px,#0f4 94px,#0f0 100px,#1f0 102px,#1f0 103px,#3f0 104px,#7f0 106px,#cf0 108px,#ff0 111px,#fe0 116px,#fc0 117px,#f30 120px,#f00 122px,#f04 124px,#f0e 128px,#f0f"></i><i style="--g:#00f,#00f 34px,#01f 39px,#03f 45px,#0ef 68px,#0ff 73px,#0ff 82px,#0fd 86px,#0f4 94px,#0f0 100px,#1f0 102px,#1f0 103px,#3f0 104px,#7f0 106px,#cf0 108px,#ff0 111px,#fe0 116px,#fc0 117px,#f30 120px,#f00 122px,#f04 124px,#f0e 128px,#f0f"></i><i style="--g:#00f,#00f 34px,#01f 39px,#03f 45px,#0ef 68px,#0ff 73px,#0ff 82px,#0fd 86px,#0f3 95px,#0f0 100px,#1f0 102px,#2f0 104px,#df0 109px,#ff0 111px,#fe0 116px,#fd0 117px,#f40 120px,#f00 122px,#f03 124px,#f0b 127px,#f0f 129px,#f0f"></i><i style="--g:#00f,#00f 34px,#01f 39px,#03f 45px,#0ff 68px,#0fe 84px,#0fd 87px,#0f4 95px,#0f0 101px,#1f0 104px,#3f0 105px,#cf0 109px,#df0 110px,#ff0 113px,#fe0 117px,#fc0 118px,#f30 121px,#f10 122px,#f00 123px,#f04 125px,#f0e 129px,#f0f 130px,#f0f"></i><i style="--g:#00f,#01f 37px,#04f 45px,#0ff 64px,#0fe 68px,#0fe 72px,#0ff 73px,#0fe 84px,#0fd 87px,#0f4 95px,#0f0 101px,#1f0 104px,#7f0 107px,#cf0 109px,#df0 110px,#ff0 112px,#fe0 117px,#fc0 118px,#f30 121px,#f10 122px,#f00 123px,#f04 125px,#f0e 129px,#f0f"></i><i style="--g:#00f,#00f 34px,#01f 39px,#03f 45px,#0ef 68px,#0ff 73px,#0ff 83px,#0fd 87px,#0f4 95px,#0f0 100px,#1f0 102px,#1f0 104px,#7f0 107px,#df0 109px,#ff0 112px,#fe0 117px,#f20 121px,#f01 123px,#f04 125px,#f0a 127px,#f0f 129px,#f0f"></i><i style="--g:#00f,#00f 34px,#01f 39px,#03f 45px,#0ff 67px,#0fe 84px,#0fd 87px,#0f4 95px,#0f0 101px,#1f0 104px,#7f0 107px,#cf0 109px,#df0 110px,#ff0 112px,#fe0 117px,#fc0 118px,#f30 121px,#f10 122px,#f00 123px,#f04 125px,#f0e 129px,#f0f 130px,#f0f"></i><i style="--g:#00f,#00f 34px,#01f 39px,#03f 45px,#0ff 67px,#0fe 84px,#0fd 87px,#0f4 95px,#0f0 101px,#1f0 104px,#7f0 107px,#cf0 109px,#df0 110px,#ff0 112px,#fe0 117px,#fc0 118px,#f30 121px,#f10 122px,#f00 123px,#f04 125px,#f0e 129px,#f0f"></i><i style="--g:#00f,#00f 34px,#01f 39px,#03f 45px,#0ef 68px,#0ff 73px,#0ff 83px,#0fd 87px,#0f4 96px,#0f0 102px,#2f0 105px,#df0 110px,#ff0 113px,#fe0 117px,#fd0 118px,#f40 121px,#f00 123px,#f03 125px,#f0b 128px,#f0f 130px,#f0f"></i><i style="--g:#00f,#00f 34px,#01f 39px,#03f 45px,#0ef 68px,#0ff 73px,#0ff 83px,#0fd 88px,#0f4 96px,#0f0 102px,#2f0 105px,#8f0 108px,#df0 110px,#ff0 113px,#fe0 118px,#f20 122px,#f01 124px,#f05 126px,#f0b 128px,#f0f 130px,#f0f"></i><i style="--g:#00f,#00f 34px,#01f 39px,#03f 45px,#0ef 68px,#0ff 73px,#0ff 83px,#0fd 87px,#0f3 96px,#0f0 102px,#2f0 105px,#df0 110px,#ff0 112px,#fe0 117px,#fd0 118px,#f40 121px,#f00 123px,#f03 125px,#f0b 128px,#f0f 130px,#f0f"></i><i style="--g:#00f,#00f 34px,#01f 39px,#03f 45px,#0ff 68px,#0ff 71px,#0ff 83px,#0fd 87px,#0f4 95px,#0f0 101px,#1f0 104px,#7f0 107px,#cf0 109px,#df0 110px,#ff0 112px,#fe0 117px,#f30 121px,#f10 122px,#f00 123px,#f04 125px,#f0a 127px,#f0f 129px,#f0f"></i><i style="--g:#00f,#00f 34px,#01f 39px,#04f 45px,#0ff 64px,#0fe 66px,#0fe 72px,#0ff 73px,#0fe 84px,#0fd 87px,#0f4 95px,#0f0 101px,#1f0 104px,#3f0 105px,#cf0 109px,#df0 110px,#ff0 113px,#fe0 117px,#fc0 118px,#f30 121px,#f10 122px,#f00 123px,#f04 125px,#f0e 129px,#f0f 130px,#f0f"></i><i style="--g:#00f,#00f 34px,#01f 39px,#03f 45px,#0ff 68px,#0ff 71px,#0ff 83px,#0fd 87px,#0f3 96px,#0f0 102px,#2f0 105px,#df0 110px,#ff0 113px,#fe0 117px,#fd0 118px,#f40 121px,#f00 123px,#f04 125px,#f0e 129px,#f0f 130px,#f0f"></i><i style="--g:#00f,#00f 34px,#01f 39px,#03f 45px,#0ef 68px,#0ff 72px,#0ff 83px,#0fd 87px,#0f4 95px,#0f0 101px,#1f0 104px,#7f0 107px,#cf0 109px,#df0 110px,#ff0 112px,#fe0 117px,#f30 121px,#f10 122px,#f01 123px,#f04 125px,#f0a 127px,#f0f 129px,#f0f"></i><i style="--g:#00f,#00f 34px,#04f 45px,#0ff 64px,#0fe 69px,#0fe 72px,#0ff 73px,#0fe 83px,#0fd 86px,#0f4 94px,#0f0 100px,#1f0 103px,#3f0 104px,#cf0 108px,#df0 109px,#ff0 112px,#fe0 116px,#fc0 117px,#f30 120px,#f10 121px,#f00 122px,#f04 124px,#f0e 128px,#f0f 129px,#f0f"></i><i style="--g:#00f,#00f 34px,#04f 45px,#0ff 62px,#0fe 65px,#0fe 72px,#0ff 73px,#0ff 83px,#0fc 87px,#0f4 95px,#0f0 101px,#2f0 104px,#df0 109px,#ff0 112px,#fe0 116px,#fd0 117px,#f20 121px,#f00 122px,#f03 124px,#f0b 127px,#f0f 129px,#f0f"></i><i style="--g:#00f,#00f 34px,#01f 39px,#03f 45px,#0ff 68px,#0fe 84px,#0fd 87px,#0f4 95px,#0f0 101px,#1f0 104px,#7f0 107px,#cf0 109px,#df0 110px,#ff0 112px,#fe0 117px,#fc0 118px,#f30 121px,#f10 122px,#f00 123px,#f04 125px,#f0e 129px,#f0f 130px,#f0f"></i><i style="--g:#00f,#01f 37px,#04f 45px,#0ff 63px,#0fe 65px,#0fe 72px,#0ff 73px,#0fe 84px,#0fd 87px,#0f4 95px,#0f0 101px,#1f0 104px,#3f0 105px,#cf0 109px,#df0 110px,#ff0 113px,#fe0 117px,#fc0 118px,#f30 121px,#f10 122px,#f00 123px,#f04 125px,#f0e 129px,#f0f 130px,#f0f"></i><i style="--g:#00f,#00f 34px,#01f 39px,#03f 45px,#0ff 67px,#0fe 72px,#0ff 73px,#0fe 84px,#0fd 87px,#0f4 95px,#0f0 101px,#1f0 104px,#7f0 107px,#cf0 109px,#df0 110px,#ff0 112px,#fe0 117px,#fc0 118px,#f30 121px,#f10 122px,#f00 123px,#f04 125px,#f0e 129px,#f0f 130px,#f0f"></i><i style="--g:#00f,#00f 34px,#01f 39px,#04f 45px,#0ff 62px,#0fe 64px,#0fe 72px,#0ff 73px,#0ff 83px,#0fc 87px,#0f4 95px,#0f0 101px,#2f0 104px,#df0 109px,#ff0 112px,#fe0 116px,#fd0 117px,#f40 120px,#f00 122px,#f03 124px,#f0b 127px,#f0f 129px,#f0f"></i><i style="--g:#00f,#00f 34px,#01f 39px,#03f 45px,#0ff 67px,#0fe 84px,#0fd 87px,#0f4 95px,#0f0 101px,#1f0 104px,#7f0 107px,#cf0 109px,#df0 110px,#ff0 112px,#fe0 117px,#fc0 118px,#f30 121px,#f10 122px,#f00 123px,#f04 125px,#f0e 129px,#f0f 130px,#f0f"></i><i style="--g:#00f,#00f 34px,#01f 39px,#03f 45px,#0ef 68px,#0ff 73px,#0ff 83px,#0fd 87px,#0f4 95px,#0f1 100px,#0f0 102px,#1f0 104px,#7f0 107px,#cf0 109px,#ff0 112px,#fe0 117px,#fc0 118px,#f30 121px,#f00 123px,#f04 125px,#f0e 129px,#f0f 130px,#f0f"></i><i style="--g:#00f,#00f 34px,#01f 39px,#03f 45px,#0ff 65px,#0fe 69px,#0fe 72px,#0ff 73px,#0ff 83px,#0fd 87px,#0f4 95px,#0f0 101px,#2f0 104px,#8f0 107px,#df0 109px,#ff0 112px,#fe0 116px,#fd0 117px,#f20 121px,#f10 122px,#f01 123px,#f05 125px,#f0b 127px,#f0f 129px,#f0f"></i><i style="--g:#00f,#00f 34px,#01f 39px,#03f 45px,#0ff 69px,#0ff 83px,#0fd 87px,#0f4 95px,#0f0 101px,#1f0 104px,#7f0 107px,#cf0 109px,#df0 110px,#ff0 112px,#fe0 117px,#fc0 118px,#f30 121px,#f10 122px,#f00 123px,#f04 125px,#f0e 129px,#f0f 130px,#f0f"></i><i style="--g:#00f,#00f 34px,#01f 39px,#03f 45px,#0ef 68px,#0ff 73px,#0ff 83px,#0fd 87px,#0f4 95px,#0f1 100px,#0f0 102px,#1f0 104px,#7f0 107px,#cf0 109px,#ff0 112px,#fe0 117px,#fc0 118px,#f30 121px,#f00 123px,#f04 125px,#f0e 129px,#f0f"></i><i style="--g:#00f,#00f 34px,#01f 39px,#03f 45px,#0ef 68px,#0ff 73px,#0ff 83px,#0fd 86px,#0f4 95px,#0f0 100px,#1f0 102px,#2f0 104px,#8f0 107px,#df0 109px,#ff0 112px,#fd0 117px,#f20 121px,#f10 122px,#f01 123px,#f05 125px,#f0b 127px,#f0f 129px,#f0f"></i><i style="--g:#00f,#00f 34px,#01f 39px,#03f 45px,#0ef 68px,#0ff 73px,#0ff 83px,#0fd 86px,#0f4 95px,#0f0 100px,#1f0 102px,#2f0 104px,#8f0 107px,#df0 109px,#ff0 112px,#fe0 117px,#f20 121px,#f01 123px,#f05 125px,#f0b 127px,#f0f 129px,#f0f"></i><i style="--g:#00f,#00f 34px,#01f 39px,#03f 45px,#0ef 68px,#0ff 73px,#0ff 83px,#0fd 87px,#0f4 95px,#0f0 100px,#0f0 102px,#1f0 104px,#7f0 107px,#cf0 109px,#ff0 112px,#fe0 117px,#f30 121px,#f01 123px,#f04 125px,#f0a 127px,#f0f 129px,#f0f"></i><i style="--g:#00f,#00f 34px,#01f 39px,#03f 45px,#0ef 68px,#0ff 73px,#0ff 83px,#0fd 86px,#0f4 95px,#0f0 100px,#1f0 102px,#2f0 104px,#8f0 107px,#df0 109px,#ff0 112px,#fe0 117px,#f20 121px,#f10 122px,#f01 123px,#f05 125px,#f0b 127px,#f0f 129px,#f0f"></i><i style="--g:#00f,#00f 34px,#01f 39px,#03f 45px,#0ef 68px,#0ff 73px,#0ff 83px,#0fd 87px,#0f4 95px,#0f0 100px,#0f0 102px,#1f0 104px,#7f0 107px,#cf0 109px,#ff0 112px,#fe0 117px,#f30 121px,#f01 123px,#f04 125px,#f0a 127px,#f0f 129px,#f0f"></i><i style="--g:#00f,#00f 34px,#01f 39px,#03f 45px,#0ef 68px,#0ff 73px,#0ff 83px,#0fd 86px,#0f4 95px,#0f0 100px,#1f0 102px,#2f0 104px,#8f0 107px,#df0 109px,#ff0 112px,#fe0 117px,#f20 121px,#f01 123px,#f05 125px,#f0b 127px,#f0f 129px,#f0f"></i><i style="--g:#00f,#00f 34px,#01f 39px,#03f 45px,#0ff 68px,#0fe 83px,#0fd 86px,#0f4 94px,#0f0 100px,#1f0 103px,#3f0 104px,#cf0 108px,#df0 109px,#ff0 112px,#fe0 116px,#fc0 117px,#f30 120px,#f10 121px,#f00 122px,#f04 124px,#f0e 128px,#f0f 129px,#f0f"></i><i style="--g:#00f,#00f 34px,#01f 39px,#03f 45px,#0ff 63px,#0fe 64px,#0fe 72px,#0ff 73px,#0fe 83px,#0fc 87px,#0f4 94px,#0f0 100px,#1f0 103px,#2f0 104px,#df0 109px,#ff0 112px,#fe0 116px,#fd0 117px,#f40 120px,#f00 122px,#f04 124px,#f0e 128px,#f0f 129px,#f0f"></i><i style="--g:#00f,#00f 34px,#01f 39px,#03f 45px,#0ff 68px,#0fe 84px,#0fd 87px,#0f4 95px,#0f0 101px,#2f0 104px,#7f0 107px,#cf0 109px,#ff0 112px,#fe0 116px,#fe0 117px,#f30 121px,#f10 122px,#f01 123px,#f04 125px,#f0a 127px,#f0f 129px,#f0f"></i><i style="--g:#00f,#00f 34px,#01f 39px,#03f 45px,#0ef 68px,#0ff 73px,#0ff 83px,#0fd 87px,#0f3 96px,#0f0 102px,#1f0 104px,#3f0 105px,#cf0 109px,#df0 110px,#ff0 112px,#fe0 117px,#fc0 118px,#f40 121px,#f00 123px,#f04 125px,#f0e 129px,#f0f 130px,#f0f"></i><i style="--g:#00f,#00f 34px,#01f 39px,#03f 45px,#0ef 68px,#0ff 73px,#0ff 83px,#0fd 87px,#0f3 96px,#0f0 102px,#3f0 105px,#bf0 109px,#df0 110px,#ff0 112px,#fe0 117px,#fc0 118px,#f40 121px,#f00 123px,#f04 125px,#f0e 129px,#f0f 130px,#f0f"></i><i style="--g:#00f,#00f 34px,#01f 39px,#03f 45px,#0ef 68px,#0ff 73px,#0ff 83px,#0fd 87px,#0f3 96px,#0f0 102px,#1f0 104px,#3f0 105px,#cf0 109px,#df0 110px,#ff0 112px,#fe0 117px,#fc0 118px,#f40 121px,#f00 123px,#f04 125px,#f0e 129px,#f0f 130px,#f0f"></i><i style="--g:#00f,#00f 34px,#01f 39px,#03f 45px,#0ef 68px,#0ff 73px,#0ff 83px,#0fd 87px,#0f4 95px,#0f0 100px,#0f0 102px,#2f0 104px,#7f0 107px,#cf0 109px,#ff0 112px,#fe0 117px,#f30 121px,#f01 123px,#f04 125px,#f0a 127px,#f0f 129px,#f0f"></i><i style="--g:#00f,#00f 34px,#01f 39px,#03f 45px,#0ef 68px,#0ff 73px,#0ff 82px,#0fd 86px,#0f3 95px,#0f0 100px,#1f0 102px,#3f0 104px,#cf0 108px,#ff0 111px,#fe0 116px,#fc0 117px,#f30 120px,#f00 122px,#f04 124px,#f0e 128px,#f0f 129px,#f0f"></i><i style="--g:#00f,#00f 34px,#01f 39px,#03f 45px,#0ef 68px,#0ff 73px,#0ff 82px,#0fd 86px,#0f4 94px,#0f0 100px,#1f0 102px,#1f0 103px,#3f0 104px,#7f0 106px,#cf0 108px,#ff0 111px,#fe0 116px,#f30 120px,#f00 122px,#f04 124px,#f0a 126px,#f0f 128px,#f0f"></i><i style="--g:#00f,#00f 34px,#01f 39px,#03f 45px,#0ef 68px,#0ff 73px,#0ff 82px,#0fd 86px,#0f3 95px,#0f0 100px,#1f0 102px,#2f0 104px,#df0 109px,#ff0 111px,#fe0 116px,#fd0 117px,#f40 120px,#f00 122px,#f03 124px,#f0e 128px,#f0f 129px,#f0f"></i><i style="--g:#00f,#00f 34px,#01f 39px,#03f 45px,#0ef 68px,#0ff 73px,#0ff 83px,#0fd 87px,#0f3 96px,#0f0 102px,#2f0 105px,#df0 110px,#ff0 112px,#fe0 117px,#fd0 118px,#f40 121px,#f00 123px,#f03 125px,#f0e 129px,#f0f 130px,#f0f"></i><i style="--g:#00f,#00f 34px,#01f 39px,#03f 45px,#0ef 68px,#0ff 73px,#0ff 82px,#0fd 86px,#0f3 95px,#0f0 100px,#1f0 102px,#3f0 104px,#cf0 108px,#df0 109px,#ff0 111px,#fe0 116px,#fc0 117px,#f40 120px,#f00 122px,#f04 124px,#f0e 128px,#f0f 129px,#f0f"></i><i style="--g:#00f,#00f 34px,#01f 39px,#03f 45px,#0df 63px,#0ff 67px,#0fe 83px,#0fc 87px,#0f3 95px,#0f0 101px,#2f0 104px,#df0 109px,#ff0 112px,#fe0 116px,#fd0 117px,#f40 120px,#f00 122px,#f03 124px,#f0b 127px,#f0f 129px,#f0f"></i><i style="--g:#00f,#00f 34px,#01f 39px,#03f 45px,#0df 63px,#0ff 67px,#0fe 84px,#0fd 87px,#0f4 95px,#0f0 101px,#1f0 104px,#3f0 105px,#cf0 109px,#df0 110px,#ff0 113px,#fe0 117px,#fc0 118px,#f30 121px,#f10 122px,#f00 123px,#f04 125px,#f0e 129px,#f0f 130px,#f0f"></i><i style="--g:#00f,#00f 34px,#01f 39px,#03f 45px,#0ef 68px,#0ff 73px,#0ff 83px,#0fd 87px,#0f4 95px,#0f1 100px,#0f0 102px,#1f0 104px,#7f0 107px,#cf0 109px,#ff0 112px,#fe0 117px,#f30 121px,#f00 123px,#f04 125px,#f0a 127px,#f0f 129px,#f0f"></i><i style="--g:#00f,#00f 34px,#01f 39px,#03f 45px,#0ef 68px,#0ff 73px,#0ff 83px,#0fd 86px,#0f4 95px,#0f0 100px,#1f0 102px,#2f0 104px,#8f0 107px,#df0 109px,#ff0 112px,#fe0 117px,#f20 121px,#f10 122px,#f01 123px,#f05 125px,#f0b 127px,#f0f 129px,#f0f"></i><i style="--g:#00f,#00f 34px,#01f 39px,#03f 45px,#0ef 68px,#0ff 73px,#0ff 83px,#0fd 86px,#0f4 95px,#0f0 100px,#1f0 102px,#2f0 104px,#8f0 107px,#df0 109px,#ff0 112px,#fe0 117px,#f20 121px,#f10 122px,#f01 123px,#f05 125px,#f0b 127px,#f0f 129px,#f0f"></i><i style="--g:#00f,#00f 34px,#01f 39px,#03f 45px,#0ff 68px,#0ff 83px,#0fc 87px,#0f4 95px,#0f0 101px,#2f0 104px,#df0 109px,#ff0 112px,#fe0 116px,#fd0 117px,#f20 121px,#f00 122px,#f03 124px,#f0b 127px,#f0f 129px,#f0f"></i><i style="--g:#00f,#00f 34px,#05f 45px,#0ff 60px,#0fe 63px,#0fe 72px,#0ff 73px,#0ff 83px,#0fd 87px,#0f4 95px,#0f0 101px,#2f0 104px,#8f0 107px,#cf0 109px,#ef0 110px,#ff0 112px,#fe0 116px,#fd0 117px,#f20 121px,#f10 122px,#f01 123px,#f05 125px,#f0a 127px,#f0f 129px,#f0f"></i><i style="--g:#00f,#00f 34px,#02f 39px,#05f 45px,#0ff 60px,#0fe 62px,#0fe 72px,#0ff 73px,#0fe 84px,#0fd 88px,#0f4 96px,#0f0 102px,#2f0 105px,#8f0 108px,#df0 110px,#ff0 113px,#fe0 117px,#fd0 118px,#f20 122px,#f10 123px,#f01 124px,#f05 126px,#f0b 128px,#f0f 130px,#f0f"></i><i style="--g:#00f,#00f 36px,#04f 45px,#0ef 63px,#0ff 67px,#0fe 84px,#0fc 88px,#0f4 95px,#0f0 101px,#1f0 104px,#2f0 105px,#df0 110px,#ff0 113px,#fe0 117px,#fd0 118px,#f40 121px,#f00 123px,#f03 125px,#f0e 129px,#f0f 130px,#f0f"></i><i style="--g:#00f,#00f 34px,#01f 39px,#03f 45px,#0ef 68px,#0ff 73px,#0ff 83px,#0fd 87px,#0f4 95px,#0f1 100px,#0f0 102px,#1f0 104px,#3f0 105px,#cf0 109px,#ff0 112px,#fe0 117px,#fc0 118px,#f30 121px,#f00 123px,#f04 125px,#f0e 129px,#f0f 130px,#f0f"></i><i style="--g:#00f,#00f 34px,#01f 39px,#03f 45px,#0ef 68px,#0ff 73px,#0ff 83px,#0fd 87px,#0f4 95px,#0f0 100px,#1f0 102px,#2f0 104px,#7f0 107px,#df0 109px,#ff0 112px,#fe0 117px,#f20 121px,#f01 123px,#f04 125px,#f0a 127px,#f0f 129px,#f0f"></i><i style="--g:#00f,#00f 34px,#01f 39px,#03f 45px,#0ff 67px,#0fe 84px,#0fc 88px,#0f3 96px,#0f0 102px,#2f0 105px,#df0 110px,#ff0 113px,#fe0 117px,#fd0 118px,#f40 121px,#f00 123px,#f03 125px,#f0b 128px,#f0f 130px,#f0f"></i><i style="--g:#00f,#01f 37px,#04f 45px,#0ff 62px,#0fe 64px,#0fe 72px,#0ff 73px,#0fe 84px,#0fd 87px,#0f4 95px,#0f0 101px,#1f0 104px,#7f0 107px,#cf0 109px,#df0 110px,#ff0 112px,#fe0 117px,#fc0 118px,#f30 121px,#f10 122px,#f00 123px,#f04 125px,#f0e 129px,#f0f 130px,#f0f"></i><i style="--g:#00f,#00f 34px,#01f 39px,#03f 45px,#0ff 67px,#0fe 72px,#0ff 73px,#0fe 84px,#0fd 87px,#0f4 95px,#0f0 101px,#1f0 104px,#3f0 105px,#cf0 109px,#df0 110px,#ff0 113px,#fe0 117px,#fc0 118px,#f30 121px,#f10 122px,#f00 123px,#f04 125px,#f0e 129px,#f0f 130px,#f0f"></i><i style="--g:#00f,#00f 34px,#04f 45px,#0ff 61px,#0ff 63px,#0fe 67px,#0fe 72px,#0ff 73px,#0ff 83px,#0fd 87px,#0f4 95px,#0f0 101px,#1f0 104px,#7f0 107px,#cf0 109px,#df0 110px,#ff0 112px,#fe0 117px,#f30 121px,#f10 122px,#f01 123px,#f04 125px,#f0a 127px,#f0f 129px,#f0f"></i><i style="--g:#00f,#00f 34px,#04f 45px,#0ff 61px,#0ff 63px,#0fe 67px,#0fe 72px,#0ff 73px,#0ff 83px,#0fd 87px,#0f4 95px,#0f0 101px,#2f0 104px,#8f0 107px,#df0 109px,#ff0 112px,#fe0 116px,#fe0 117px,#f20 121px,#f10 122px,#f01 123px,#f05 125px,#f0b 127px,#f0f 129px,#f0f"></i><i style="--g:#00f,#00f 34px,#01f 39px,#03f 45px,#0ff 68px,#0ff 71px,#0ff 83px,#0fd 86px,#0f4 95px,#0f0 101px,#2f0 104px,#df0 109px,#ff0 112px,#fe0 116px,#fd0 117px,#f20 121px,#f00 122px,#f03 124px,#f0b 127px,#f0f 129px,#f0f"></i><i style="--g:#00f,#00f 34px,#01f 39px,#03f 45px,#0ef 68px,#0ff 72px,#0ff 82px,#0fd 86px,#0f4 94px,#0f0 100px,#1f0 103px,#3f0 104px,#cf0 108px,#df0 109px,#ff0 112px,#fe0 116px,#fc0 117px,#f30 120px,#f10 121px,#f00 122px,#f04 124px,#f0e 128px,#f0f 129px,#f0f"></i><i style="--g:#00f,#00f 34px,#01f 39px,#03f 45px,#0ff 64px,#0fe 68px,#0fe 72px,#0ff 73px,#0fe 83px,#0fc 87px,#0f4 94px,#0f0 100px,#1f0 103px,#2f0 104px,#df0 109px,#ff0 112px,#fe0 116px,#fc0 117px,#f40 120px,#f00 122px,#f04 124px,#f0e 128px,#f0f 129px,#f0f"></i><i style="--g:#00f,#00f 34px,#01f 39px,#03f 45px,#0ff 64px,#0fe 68px,#0fe 72px,#0ff 73px,#0ff 83px,#0fc 87px,#0f4 95px,#0f0 101px,#2f0 104px,#df0 109px,#ff0 112px,#fe0 116px,#fd0 117px,#f40 120px,#f00 122px,#f03 124px,#f0b 127px,#f0f 129px,#f0f"></i><i style="--g:#00f,#00f 34px,#01f 39px,#03f 45px,#0ef 68px,#0ff 72px,#0ff 82px,#0fd 86px,#0f3 95px,#0f0 101px,#2f0 104px,#df0 109px,#ff0 112px,#fe0 116px,#fd0 117px,#f40 120px,#f00 122px,#f04 124px,#f0e 128px,#f0f 129px,#f0f"></i><i style="--g:#00f,#00f 34px,#01f 39px,#03f 45px,#0ff 67px,#0fe 83px,#0fd 86px,#0f4 94px,#0f0 100px,#1f0 103px,#3f0 104px,#cf0 108px,#df0 109px,#ff0 112px,#fe0 116px,#fc0 117px,#f30 120px,#f10 121px,#f00 122px,#f04 124px,#f0e 128px,#f0f 129px,#f0f"></i><i style="--g:#00f,#00f 34px,#01f 39px,#03f 45px,#0ff 67px,#0ff 83px,#0fd 87px,#0f4 95px,#0f0 101px,#2f0 104px,#df0 109px,#ff0 112px,#fe0 116px,#fd0 117px,#f20 121px,#f00 122px,#f01 123px,#f05 125px,#f0b 127px,#f0f 129px,#f0f"></i><i style="--g:#00f,#00f 34px,#01f 39px,#03f 45px,#0ef 68px,#0ff 73px,#0ff 82px,#0fd 86px,#0f3 95px,#0f0 100px,#1f0 102px,#2f0 104px,#df0 109px,#ff0 111px,#fe0 116px,#fd0 117px,#f40 120px,#f00 122px,#f03 124px,#f0e 128px,#f0f 129px,#f0f"></i><i style="--g:#00f,#00f 34px,#01f 39px,#03f 45px,#0ef 68px,#0ff 73px,#0ff 82px,#0fd 86px,#0f3 95px,#0f0 100px,#1f0 102px,#2f0 104px,#df0 109px,#ff0 111px,#fe0 116px,#fd0 117px,#f40 120px,#f00 122px,#f03 124px,#f0e 128px,#f0f 129px,#f0f"></i><i style="--g:#00f,#00f 34px,#01f 39px,#03f 45px,#0ef 68px,#0ff 73px,#0ff 83px,#0fd 86px,#0f4 95px,#0f0 100px,#1f0 102px,#2f0 104px,#8f0 107px,#df0 109px,#ff0 112px,#fd0 117px,#f20 121px,#f10 122px,#f01 123px,#f05 125px,#f0b 127px,#f0f 129px,#f0f"></i><i style="--g:#00f,#00f 34px,#01f 39px,#03f 45px,#0ff 68px,#0ff 83px,#0fc 87px,#0f4 95px,#0f0 101px,#2f0 104px,#df0 109px,#ff0 112px,#fe0 116px,#fd0 117px,#f20 121px,#f00 122px,#f01 123px,#f05 125px,#f0b 127px,#f0f 129px,#f0f"></i><i style="--g:#00f,#00f 34px,#02f 39px,#05f 45px,#0ff 60px,#0fe 61px,#0fe 72px,#0ff 73px,#0ff 83px,#0fd 87px,#0f4 95px,#0f0 101px,#2f0 104px,#df0 109px,#ff0 112px,#fe0 116px,#fd0 117px,#f20 121px,#f00 122px,#f01 123px,#f05 125px,#f0b 127px,#f0f 129px,#f0f"></i><i style="--g:#00f,#00f 34px,#04f 45px,#0ff 65px,#0fe 72px,#0ff 73px,#0fe 84px,#0fd 87px,#0f4 95px,#0f0 101px,#1f0 104px,#7f0 107px,#cf0 109px,#df0 110px,#ff0 112px,#fe0 117px,#fc0 118px,#f30 121px,#f10 122px,#f00 123px,#f04 125px,#f0e 129px,#f0f 130px,#f0f"></i><i style="--g:#00f,#00f 34px,#01f 39px,#03f 45px,#0ef 68px,#0ff 73px,#0ff 83px,#0fd 87px,#0f4 95px,#0f1 100px,#0f0 102px,#1f0 104px,#7f0 107px,#cf0 109px,#ff0 112px,#fe0 117px,#fc0 118px,#f30 121px,#f00 123px,#f04 125px,#f0a 127px,#f0e 129px,#f0f"></i><i style="--g:#00f,#00f 34px,#01f 39px,#03f 45px,#0ef 68px,#0ff 73px,#0ff 83px,#0fd 87px,#0f4 95px,#0f1 100px,#0f0 102px,#1f0 104px,#7f0 107px,#cf0 109px,#ff0 112px,#fe0 117px,#fc0 118px,#f30 121px,#f00 123px,#f04 125px,#f0e 129px,#f0f 130px,#f0f"></i><i style="--g:#00f,#00f 34px,#01f 39px,#03f 45px,#0ff 68px,#0ff 70px,#0ff 83px,#0fd 86px,#0f4 95px,#0f0 101px,#2f0 104px,#8f0 107px,#df0 109px,#ff0 112px,#fe0 116px,#fe0 117px,#f20 121px,#f10 122px,#f01 123px,#f05 125px,#f0b 127px,#f0f 129px,#f0f"></i><i style="--g:#00f,#00f 34px,#04f 45px,#0ff 62px,#0fe 65px,#0fe 72px,#0ff 73px,#0fe 84px,#0fc 88px,#0f3 96px,#0f0 101px,#2f0 105px,#df0 110px,#ff0 113px,#fe0 117px,#fd0 118px,#f40 121px,#f00 123px,#f03 125px,#f0b 128px,#f0f 130px,#f0f"></i><i style="--g:#00f,#00f 34px,#04f 45px,#0ff 64px,#0fe 69px,#0fe 72px,#0ff 73px,#0fe 84px,#0fd 87px,#0f4 95px,#0f0 101px,#2f0 104px,#7f0 107px,#cf0 109px,#df0 110px,#ff0 112px,#fe0 116px,#fe0 117px,#fb0 118px,#f30 121px,#f10 122px,#f01 123px,#f04 125px,#f0a 127px,#f0e 129px,#f0f"></i><i style="--g:#00f,#00f 34px,#01f 39px,#03f 45px,#0df 63px,#0ff 68px,#0fe 83px,#0fd 86px,#0f4 94px,#0f0 100px,#1f0 103px,#7f0 106px,#cf0 108px,#df0 109px,#ff0 111px,#fe0 116px,#f30 120px,#f10 121px,#f00 122px,#f04 124px,#f0a 126px,#f0f 128px,#f0f"></i><i style="--g:#00f,#00f 34px,#01f 39px,#04f 45px,#0ff 64px,#0fe 68px,#0fe 72px,#0ff 73px,#0ff 83px,#0fc 87px,#0f4 95px,#0f0 101px,#2f0 104px,#df0 109px,#ff0 112px,#fe0 116px,#fd0 117px,#f20 121px,#f00 122px,#f03 124px,#f0b 127px,#f0f 129px,#f0f"></i><i style="--g:#00f,#00f 34px,#01f 39px,#03f 45px,#0ef 68px,#0ff 73px,#0ff 83px,#0fd 87px,#0f4 95px,#0f0 100px,#1f0 102px,#2f0 104px,#7f0 107px,#cf0 109px,#ff0 112px,#fe0 117px,#f30 121px,#f01 123px,#f04 125px,#f0a 127px,#f0f 129px,#f0f"></i><i style="--g:#00f,#00f 34px,#01f 39px,#03f 45px,#0ef 68px,#0ff 73px,#0ff 83px,#0fd 87px,#0f4 95px,#0f0 100px,#0f0 102px,#1f0 104px,#7f0 107px,#cf0 109px,#ff0 112px,#fe0 117px,#f30 121px,#f01 123px,#f04 125px,#f0a 127px,#f0f 129px,#f0f"></i><i style="--g:#00f,#00f 34px,#01f 39px,#03f 45px,#0ef 68px,#0ff 73px,#0ff 82px,#0fd 86px,#0f3 95px,#0f0 100px,#1f0 102px,#3f0 104px,#cf0 108px,#ff0 111px,#fe0 116px,#fc0 117px,#f30 120px,#f00 122px,#f04 124px,#f0e 128px,#f0f 129px,#f0f"></i><i style="--g:#00f,#00f 34px,#01f 39px,#03f 45px,#0ef 68px,#0ff 73px,#0ff 83px,#0fd 86px,#0f4 95px,#0f0 100px,#1f0 102px,#2f0 104px,#df0 109px,#ff0 112px,#fd0 117px,#f20 121px,#f00 122px,#f01 123px,#f05 125px,#f0b 127px,#f0f 129px,#f0f"></i><i style="--g:#00f,#00f 34px,#01f 39px,#03f 45px,#0ef 68px,#0ff 73px,#0ff 83px,#0fd 87px,#0f4 95px,#0f1 100px,#0f0 102px,#1f0 104px,#7f0 107px,#cf0 109px,#ff0 112px,#fe0 117px,#fc0 118px,#f30 121px,#f00 123px,#f04 125px,#f0e 129px,#f0f 130px,#f0f"></i><i style="--g:#00f,#00f 34px,#01f 39px,#03f 45px,#0ef 68px,#0ff 73px,#0ff 83px,#0fd 87px,#0f4 95px,#0f1 100px,#0f0 102px,#1f0 104px,#7f0 107px,#cf0 109px,#ff0 112px,#fe0 117px,#f30 121px,#f00 123px,#f04 125px,#f0a 127px,#f0f 129px,#f0f"></i><i style="--g:#00f,#00f 34px,#01f 39px,#03f 45px,#0ef 68px,#0ff 73px,#0ff 83px,#0fd 87px,#0f4 95px,#0f1 100px,#0f0 102px,#1f0 104px,#7f0 107px,#cf0 109px,#ff0 112px,#fe0 117px,#fc0 118px,#f30 121px,#f00 123px,#f04 125px,#f0e 129px,#f0f"></i><i style="--g:#00f,#00f 34px,#01f 39px,#03f 45px,#0ef 68px,#0ff 73px,#0ff 83px,#0fd 87px,#0f3 96px,#0f0 102px,#2f0 105px,#df0 110px,#ff0 113px,#fe0 117px,#fd0 118px,#f40 121px,#f00 123px,#f03 125px,#f0b 128px,#f0f 130px,#f0f"></i><i style="--g:#00f,#00f 34px,#04f 45px,#0ff 63px,#0fe 68px,#0fe 72px,#0ff 73px,#0fe 83px,#0fd 86px,#0f4 94px,#0f0 100px,#1f0 103px,#3f0 104px,#cf0 108px,#df0 109px,#ff0 112px,#fe0 116px,#fc0 117px,#f30 120px,#f10 121px,#f00 122px,#f04 124px,#f0e 128px,#f0f 129px,#f0f"></i><i style="--g:#00f,#00f 33px,#01f 38px,#04f 45px,#0ff 66px,#0fe 69px,#0fe 72px,#0ff 73px,#0ff 83px,#0fc 87px,#0f4 95px,#0f0 101px,#2f0 104px,#df0 109px,#ff0 112px,#fe0 116px,#fd0 117px,#f40 120px,#f00 122px,#f03 124px,#f0b 127px,#f0f 129px,#f0f"></i><i style="--g:#00f,#00f 34px,#04f 45px,#0ff 62px,#0ff 63px,#0fe 66px,#0fe 72px,#0ff 73px,#0ff 83px,#0fd 87px,#0f4 95px,#0f0 101px,#2f0 104px,#8f0 107px,#df0 109px,#ff0 112px,#fe0 116px,#fe0 117px,#f20 121px,#f10 122px,#f01 123px,#f05 125px,#f0b 127px,#f0f 129px,#f0f"></i><i style="--g:#00f,#00f 34px,#01f 39px,#03f 45px,#0ff 66px,#0fe 72px,#0ff 73px,#0fe 83px,#0fc 87px,#0f4 94px,#0f0 100px,#1f0 103px,#3f0 104px,#df0 109px,#ff0 112px,#fe0 116px,#fc0 117px,#f10 121px,#f00 122px,#f04 124px,#f0c 127px,#f0e 128px,#f0f 129px,#f0f"></i><i style="--g:#00f,#00f 34px,#01f 39px,#03f 45px,#0ef 63px,#0ff 67px,#0fe 84px,#0fd 87px,#0f4 95px,#0f0 101px,#2f0 104px,#7f0 107px,#cf0 109px,#df0 110px,#ff0 112px,#fe0 116px,#fe0 117px,#f30 121px,#f10 122px,#f01 123px,#f04 125px,#f0a 127px,#f0f 129px,#f0f"></i><i style="--g:#00f,#00f 34px,#01f 39px,#03f 45px,#0ef 68px,#0ff 73px,#0ff 83px,#0fd 87px,#0f4 95px,#0f1 100px,#0f0 102px,#1f0 104px,#7f0 107px,#cf0 109px,#ff0 112px,#fe0 117px,#fc0 118px,#f30 121px,#f00 123px,#f04 125px,#f0e 129px,#f0f 130px,#f0f"></i><i style="--g:#00f,#00f 34px,#01f 39px,#03f 45px,#0ef 68px,#0ff 73px,#0ff 82px,#0fd 86px,#0f3 95px,#0f0 100px,#1f0 102px,#2f0 104px,#df0 109px,#ff0 112px,#fe0 116px,#fd0 117px,#f40 120px,#f00 122px,#f03 124px,#f0b 127px,#f0f 129px,#f0f"></i><i style="--g:#00f,#00f 34px,#01f 39px,#03f 45px,#0ef 68px,#0ff 72px,#0ff 82px,#0fd 86px,#0f3 95px,#0f0 101px,#2f0 104px,#df0 109px,#ff0 112px,#fe0 116px,#fd0 117px,#f40 120px,#f00 122px,#f03 124px,#f0e 128px,#f0f 129px,#f0f"></i><i style="--g:#00f,#00f 34px,#01f 39px,#03f 45px,#0ff 68px,#0ff 83px,#0fd 87px,#0f4 95px,#0f0 101px,#2f0 104px,#8f0 107px,#df0 109px,#ff0 112px,#fe0 116px,#fe0 117px,#f20 121px,#f10 122px,#f01 123px,#f05 125px,#f0b 127px,#f0f 129px,#f0f"></i><i style="--g:#00f,#00f 34px,#01f 39px,#03f 45px,#0ff 64px,#0fe 67px,#0fe 72px,#0ff 73px,#0fe 83px,#0fc 87px,#0f4 94px,#0f0 100px,#1f0 103px,#2f0 104px,#df0 109px,#ff0 112px,#fe0 116px,#fd0 117px,#f40 120px,#f00 122px,#f04 124px,#f0e 128px,#f0f 129px,#f0f"></i><i style="--g:#00f,#00f 34px,#01f 39px,#03f 45px,#0ff 64px,#0fe 67px,#0fe 72px,#0ff 73px,#0fe 83px,#0fc 87px,#0f4 94px,#0f0 100px,#1f0 103px,#2f0 104px,#df0 109px,#ff0 112px,#fe0 116px,#fd0 117px,#f40 120px,#f00 122px,#f03 124px,#f0e 128px,#f0f 129px,#f0f"></i><i style="--g:#00f,#00f 34px,#01f 39px,#03f 45px,#0ff 67px,#0fe 72px,#0ff 73px,#0ff 83px,#0fc 87px,#0f4 95px,#0f0 101px,#2f0 104px,#df0 109px,#ff0 112px,#fe0 116px,#fd0 117px,#f40 120px,#f00 122px,#f03 124px,#f0b 127px,#f0f 129px,#f0f"></i><i style="--g:#00f,#00f 34px,#01f 39px,#03f 45px,#0ff 64px,#0fe 68px,#0fe 72px,#0ff 73px,#0ff 83px,#0fd 87px,#0f4 95px,#0f0 101px,#1f0 104px,#7f0 107px,#cf0 109px,#df0 110px,#ff0 112px,#fe0 117px,#f30 121px,#f10 122px,#f01 123px,#f04 125px,#f0a 127px,#f0f 129px,#f0f"></i><i style="--g:#00f,#00f 34px,#01f 39px,#03f 45px,#0ff 64px,#0fe 68px,#0fe 72px,#0ff 73px,#0ff 83px,#0fd 87px,#0f4 95px,#0f0 101px,#2f0 104px,#df0 109px,#ff0 112px,#fe0 116px,#fd0 117px,#f20 121px,#f00 122px,#f01 123px,#f05 125px,#f0b 127px,#f0f 129px,#f0f"></i><i style="--g:#00f,#00f 34px,#01f 39px,#03f 45px,#0ef 68px,#0ff 72px,#0ff 83px,#0fd 87px,#0f4 95px,#0f0 101px,#1f0 104px,#7f0 107px,#cf0 109px,#df0 110px,#ff0 112px,#fe0 117px,#fc0 118px,#f30 121px,#f10 122px,#f00 123px,#f04 125px,#f0e 129px,#f0f"></i><i style="--g:#00f,#00f 34px,#04f 45px,#0ef 63px,#0ff 66px,#0fe 72px,#0ff 73px,#0ff 83px,#0fd 87px,#0f4 95px,#0f0 101px,#2f0 104px,#8f0 107px,#df0 109px,#ff0 112px,#fe0 116px,#fe0 117px,#f20 121px,#f10 122px,#f01 123px,#f05 125px,#f0b 127px,#f0f 129px,#f0f"></i><i style="--g:#00f,#00f 34px,#04f 45px,#0ef 63px,#0ff 66px,#0fe 72px,#0ff 73px,#0ff 83px,#0fc 87px,#0f4 95px,#0f0 101px,#2f0 104px,#df0 109px,#ff0 112px,#fe0 116px,#fd0 117px,#f40 120px,#f00 122px,#f03 124px,#f0b 127px,#f0f 129px,#f0f"></i><i style="--g:#00f,#00f 34px,#01f 39px,#03f 45px,#0ff 67px,#0fe 83px,#0fc 87px,#0f4 94px,#0f0 100px,#1f0 103px,#3f0 104px,#df0 109px,#ff0 112px,#fe0 116px,#fc0 117px,#f40 120px,#f10 121px,#f00 122px,#f04 124px,#f0e 128px,#f0f 129px,#f0f"></i><i style="--g:#00f,#00f 34px,#04f 45px,#0ef 61px,#0ff 64px,#0fe 68px,#0fe 72px,#0ff 73px,#0fe 84px,#0fc 88px,#0f4 95px,#0f0 101px,#1f0 104px,#3f0 105px,#df0 110px,#ff0 113px,#fe0 117px,#fc0 118px,#f10 122px,#f00 123px,#f04 125px,#f0e 129px,#f0f 130px,#f0f"></i><i style="--g:#00f,#00f 34px,#01f 38px,#03f 45px,#0ef 63px,#0ff 66px,#0fe 72px,#0ff 73px,#0ff 83px,#0fd 87px,#0f4 95px,#0f0 101px,#2f0 104px,#7f0 107px,#cf0 109px,#ff0 112px,#fe0 116px,#fe0 117px,#f20 121px,#f10 122px,#f01 123px,#f05 125px,#f0a 127px,#f0f 129px,#f0f"></i><i style="--g:#00f,#00f 34px,#01f 38px,#03f 45px,#0ff 66px,#0fe 72px,#0ff 73px,#0ff 83px,#0fd 87px,#0f4 95px,#0f0 101px,#2f0 104px,#8f0 107px,#df0 109px,#ff0 112px,#fe0 116px,#fe0 117px,#f20 121px,#f10 122px,#f01 123px,#f05 125px,#f0b 127px,#f0f 129px,#f0f"></i><i style="--g:#00f,#00f 34px,#01f 39px,#03f 45px,#0ef 68px,#0ff 73px,#0ff 83px,#0fd 87px,#0f4 95px,#0f1 100px,#0f0 102px,#1f0 104px,#7f0 107px,#cf0 109px,#ff0 112px,#fe0 117px,#fc0 118px,#f30 121px,#f00 123px,#f04 125px,#f0e 129px,#f0f"></i><i style="--g:#00f,#00f 34px,#01f 39px,#03f 45px,#0ef 68px,#0ff 73px,#0ff 83px,#0fd 87px,#0f4 95px,#0f1 100px,#0f0 102px,#1f0 104px,#7f0 107px,#cf0 109px,#ff0 112px,#fe0 117px,#fc0 118px,#f30 121px,#f00 123px,#f04 125px,#f0e 129px,#f0f"></i><i style="--g:#00f,#00f 34px,#01f 39px,#03f 45px,#0ff 64px,#0ff 66px,#0fe 72px,#0ff 73px,#0ff 83px,#0fd 87px,#0f4 95px,#0f0 101px,#2f0 104px,#8f0 107px,#df0 109px,#ff0 112px,#fe0 116px,#fe0 117px,#f20 121px,#f10 122px,#f01 123px,#f05 125px,#f0b 127px,#f0f 129px,#f0f"></i><i style="--g:#00f,#00f 34px,#01f 39px,#03f 45px,#0ff 64px,#0ff 66px,#0fe 72px,#0ff 73px,#0fe 83px,#0fd 86px,#0f4 94px,#0f0 100px,#1f0 103px,#3f0 104px,#cf0 108px,#df0 109px,#ff0 112px,#fe0 116px,#fc0 117px,#f30 120px,#f10 121px,#f00 122px,#f04 124px,#f0e 128px,#f0f 129px,#f0f"></i><i style="--g:#00f,#00f 34px,#01f 39px,#03f 45px,#0ef 68px,#0ff 73px,#0ff 83px,#0fd 87px,#0f4 95px,#0f1 100px,#0f0 102px,#1f0 104px,#3f0 105px,#cf0 109px,#ff0 112px,#fe0 117px,#fc0 118px,#f30 121px,#f00 123px,#f04 125px,#f0e 129px,#f0f 130px,#f0f"></i><i style="--g:#00f,#00f 34px,#01f 39px,#03f 45px,#0ef 68px,#0ff 73px,#0ff 83px,#0fd 87px,#0f4 95px,#0f1 100px,#0f0 102px,#1f0 104px,#7f0 107px,#cf0 109px,#ff0 112px,#fe0 117px,#fc0 118px,#f30 121px,#f00 123px,#f04 125px,#f0e 129px,#f0f 130px,#f0f"></i><i style="--g:#00f,#00f 34px,#01f 39px,#03f 45px,#0ef 68px,#0ff 73px,#0ff 83px,#0fd 86px,#0f4 95px,#0f0 100px,#1f0 102px,#2f0 104px,#df0 109px,#ff0 112px,#fd0 117px,#f20 121px,#f00 122px,#f03 124px,#f0b 127px,#f0f 129px,#f0f"></i><i style="--g:#00f,#00f 34px,#01f 39px,#03f 45px,#0ef 68px,#0ff 73px,#0ff 83px,#0fd 87px,#0f3 96px,#0f0 102px,#2f0 105px,#df0 110px,#ff0 112px,#fe0 117px,#fd0 118px,#f40 121px,#f00 123px,#f04 125px,#f0e 129px,#f0f 130px,#f0f"></i><i style="--g:#00f,#00f 34px,#01f 39px,#03f 45px,#0ef 68px,#0ff 73px,#0ff 83px,#0fd 87px,#0f4 95px,#0f1 100px,#0f0 102px,#1f0 104px,#7f0 107px,#cf0 109px,#ff0 112px,#fe0 117px,#fc0 118px,#f30 121px,#f00 123px,#f04 125px,#f0a 127px,#f0e 129px,#f0f"></i><i style="--g:#00f,#00f 34px,#01f 39px,#03f 45px,#0ef 68px,#0ff 73px,#0ff 82px,#0fd 86px,#0f3 95px,#0f0 100px,#1f0 102px,#2f0 104px,#df0 109px,#ff0 112px,#fe0 116px,#fd0 117px,#f40 120px,#f00 122px,#f03 124px,#f0b 127px,#f0f 129px,#f0f"></i><i style="--g:#00f,#00f 34px,#01f 39px,#03f 45px,#0ef 68px,#0ff 73px,#0ff 83px,#0fd 86px,#0f4 95px,#0f0 100px,#1f0 102px,#2f0 104px,#df0 109px,#ff0 112px,#fd0 117px,#f20 121px,#f00 122px,#f01 123px,#f05 125px,#f0b 127px,#f0f 129px,#f0f"></i><i style="--g:#00f,#00f 34px,#01f 39px,#03f 45px,#0ef 68px,#0ff 73px,#0ff 83px,#0fd 87px,#0f4 95px,#0f0 100px,#1f0 102px,#1f0 104px,#7f0 107px,#df0 109px,#ff0 112px,#fe0 117px,#f30 121px,#f01 123px,#f04 125px,#f0a 127px,#f0f 129px,#f0f"></i><i style="--g:#00f,#00f 34px,#01f 39px,#03f 45px,#0ef 68px,#0ff 73px,#0ff 83px,#0fd 87px,#0f4 95px,#0f1 100px,#0f0 102px,#1f0 104px,#7f0 107px,#cf0 109px,#ff0 112px,#fe0 117px,#fc0 118px,#f30 121px,#f00 123px,#f04 125px,#f0e 129px,#f0f 130px,#f0f"></i><i style="--g:#00f,#00f 34px,#01f 39px,#03f 45px,#0ff 68px,#0ff 83px,#0fd 87px,#0f4 95px,#0f0 101px,#2f0 104px,#8f0 107px,#df0 109px,#ff0 112px,#fe0 116px,#fe0 117px,#f20 121px,#f10 122px,#f01 123px,#f05 125px,#f0a 127px,#f0f 129px,#f0f"></i><i style="--g:#00f,#00f 34px,#04f 45px,#0ff 63px,#0fe 67px,#0fe 72px,#0ff 73px,#0ff 83px,#0fd 87px,#0f4 95px,#0f0 101px,#1f0 104px,#7f0 107px,#df0 109px,#ff0 112px,#fe0 117px,#f20 121px,#f10 122px,#f01 123px,#f04 125px,#f0a 127px,#f0f 129px,#f0f"></i><i style="--g:#00f,#00f 34px,#01f 39px,#03f 45px,#0ef 68px,#0ff 73px,#0ff 83px,#0fd 87px,#0f4 95px,#0f0 100px,#0f0 102px,#1f0 104px,#7f0 107px,#cf0 109px,#ff0 112px,#fe0 117px,#f30 121px,#f00 123px,#f04 125px,#f0a 127px,#f0f 129px,#f0f"></i><i style="--g:#00f,#00f 34px,#01f 39px,#03f 45px,#0ef 63px,#0ff 67px,#0ff 83px,#0fd 87px,#0f4 95px,#0f0 101px,#2f0 104px,#8f0 107px,#df0 109px,#ff0 112px,#fe0 116px,#fd0 117px,#f20 121px,#f10 122px,#f01 123px,#f05 125px,#f0b 127px,#f0f 129px,#f0f"></i><i style="--g:#00f,#00f 34px,#01f 39px,#03f 45px,#0ff 64px,#0fe 67px,#0fe 72px,#0ff 73px,#0ff 83px,#0fd 87px,#0f4 95px,#0f0 101px,#2f0 104px,#8f0 107px,#df0 109px,#ff0 112px,#fe0 116px,#fe0 117px,#f20 121px,#f10 122px,#f01 123px,#f05 125px,#f0a 127px,#f0f 129px,#f0f"></i><i style="--g:#00f,#00f 34px,#01f 39px,#03f 45px,#0ff 63px,#0fe 65px,#0fe 72px,#0ff 73px,#0fe 84px,#0fc 88px,#0f3 96px,#0f0 101px,#2f0 105px,#df0 110px,#ff0 113px,#fe0 117px,#fd0 118px,#f40 121px,#f00 123px,#f03 125px,#f0b 128px,#f0f 130px,#f0f"></i><i style="--g:#00f,#00f 34px,#01f 39px,#03f 45px,#0df 63px,#0ff 68px,#0fe 84px,#0fd 87px,#0f4 95px,#0f0 101px,#1f0 104px,#3f0 105px,#cf0 109px,#df0 110px,#ff0 113px,#fe0 117px,#fc0 118px,#f30 121px,#f10 122px,#f00 123px,#f04 125px,#f0e 129px,#f0f 130px,#f0f"></i><i style="--g:#00f,#00f 14px,#01f 34px,#05f 45px,#0ef 59px,#0ff 63px,#0fe 67px,#0fe 72px,#0ff 73px,#0ff 83px,#0fd 87px,#0f4 95px,#0f0 101px,#2f0 104px,#8f0 107px,#df0 109px,#ff0 112px,#fe0 116px,#fe0 117px,#f20 121px,#f10 122px,#f01 123px,#f05 125px,#f0a 127px,#f0f 129px,#f0f"></i><i style="--g:#00f,#00f 34px,#01f 39px,#03f 45px,#0ff 69px,#0ff 83px,#0fd 87px,#0f4 95px,#0f0 101px,#2f0 104px,#8f0 107px,#df0 109px,#ff0 112px,#fe0 116px,#fd0 117px,#f20 121px,#f10 122px,#f01 123px,#f05 125px,#f0b 127px,#f0f 129px,#f0f"></i><i style="--g:#00f,#00f 34px,#01f 39px,#03f 45px,#0ff 66px,#0fe 72px,#0ff 73px,#0fe 83px,#0fc 87px,#0f3 95px,#0f0 101px,#2f0 104px,#df0 109px,#ff0 112px,#fe0 116px,#fd0 117px,#f40 120px,#f00 122px,#f03 124px,#f0b 127px,#f0f 129px,#f0f"></i><i style="--g:#00f,#00f 34px,#01f 39px,#03f 45px,#0ff 66px,#0fe 72px,#0ff 73px,#0ff 83px,#0fc 87px,#0f4 95px,#0f0 101px,#2f0 104px,#df0 109px,#ff0 112px,#fe0 116px,#fd0 117px,#f40 120px,#f00 122px,#f03 124px,#f0b 127px,#f0f 129px,#f0f"></i><i style="--g:#00f,#00f 34px,#01f 39px,#03f 45px,#0ef 68px,#0ff 73px,#0ff 83px,#0fd 87px,#0f3 96px,#0f0 102px,#2f0 105px,#bf0 109px,#df0 110px,#ff0 112px,#fe0 117px,#fd0 118px,#f40 121px,#f00 123px,#f04 125px,#f0e 129px,#f0f 130px,#f0f"></i><i style="--g:#00f,#00f 34px,#01f 39px,#03f 45px,#0ef 68px,#0ff 73px,#0ff 83px,#0fd 86px,#0f4 95px,#0f0 100px,#1f0 102px,#2f0 104px,#8f0 107px,#df0 109px,#ff0 112px,#fe0 117px,#f20 121px,#f10 122px,#f01 123px,#f05 125px,#f0b 127px,#f0f 129px,#f0f"></i><i style="--g:#00f,#00f 34px,#01f 39px,#03f 45px,#0ef 68px,#0ff 73px,#0ff 83px,#0fd 87px,#0f4 95px,#0f0 100px,#1f0 102px,#2f0 104px,#7f0 107px,#df0 109px,#ff0 112px,#fe0 117px,#f20 121px,#f01 123px,#f05 125px,#f0a 127px,#f0f 129px,#f0f"></i><i style="--g:#00f,#00f 34px,#01f 39px,#03f 45px,#0ef 68px,#0ff 73px,#0ff 83px,#0fd 86px,#0f4 95px,#0f0 100px,#1f0 102px,#2f0 104px,#df0 109px,#ff0 112px,#fd0 117px,#f20 121px,#f00 122px,#f01 123px,#f05 125px,#f0b 127px,#f0f 129px,#f0f"></i><i style="--g:#00f,#00f 34px,#01f 39px,#03f 45px,#0ef 68px,#0ff 73px,#0ff 83px,#0fd 87px,#0f4 95px,#0f0 100px,#0f0 102px,#1f0 104px,#7f0 107px,#cf0 109px,#ff0 112px,#fe0 117px,#f30 121px,#f01 123px,#f04 125px,#f0a 127px,#f0f 129px,#f0f"></i><i style="--g:#00f,#00f 34px,#01f 39px,#03f 45px,#0ef 68px,#0ff 73px,#0ff 83px,#0fd 87px,#0f4 95px,#0f1 100px,#0f0 102px,#1f0 104px,#7f0 107px,#cf0 109px,#ff0 112px,#fe0 117px,#f30 121px,#f00 123px,#f04 125px,#f0a 127px,#f0f 129px,#f0f"></i><i style="--g:#00f,#00f 34px,#01f 39px,#03f 45px,#0ef 68px,#0ff 73px,#0ff 83px,#0fd 87px,#0f4 95px,#0f1 100px,#0f0 102px,#1f0 104px,#7f0 107px,#cf0 109px,#ff0 112px,#fe0 117px,#fc0 118px,#f30 121px,#f00 123px,#f04 125px,#f0e 129px,#f0f 130px,#f0f"></i><i style="--g:#00f,#00f 34px,#01f 39px,#03f 45px,#0ef 68px,#0ff 73px,#0ff 83px,#0fd 87px,#0f4 95px,#0f0 100px,#1f0 102px,#1f0 104px,#7f0 107px,#cf0 109px,#ff0 112px,#fe0 117px,#f30 121px,#f01 123px,#f04 125px,#f0a 127px,#f0f 129px,#f0f"></i><i style="--g:#00f,#00f 34px,#01f 39px,#03f 45px,#0ef 63px,#0ff 67px,#0ff 83px,#0fd 87px,#0f4 95px,#0f0 101px,#2f0 104px,#8f0 107px,#df0 109px,#ff0 112px,#fe0 116px,#fe0 117px,#f20 121px,#f10 122px,#f01 123px,#f05 125px,#f0a 127px,#f0f 129px,#f0f"></i><i style="--g:#00f,#00f 34px,#01f 39px,#03f 45px,#0ef 63px,#0ff 67px,#0fe 84px,#0fc 88px,#0f4 95px,#0f0 101px,#1f0 104px,#2f0 105px,#df0 110px,#ff0 113px,#fe0 117px,#fd0 118px,#f40 121px,#f00 123px,#f03 125px,#f0e 129px,#f0f 130px,#f0f"></i><i style="--g:#00f,#00f 34px,#01f 39px,#03f 45px,#0ef 68px,#0ff 73px,#0ff 83px,#0fd 87px,#0f4 95px,#0f1 100px,#0f0 102px,#1f0 104px,#7f0 107px,#cf0 109px,#ff0 112px,#fe0 117px,#fc0 118px,#f30 121px,#f00 123px,#f04 125px,#f0e 129px,#f0f"></i><i style="--g:#00f,#00f 34px,#01f 39px,#03f 45px,#0ef 68px,#0ff 73px,#0ff 83px,#0fd 87px,#0f4 95px,#0f0 100px,#1f0 102px,#2f0 104px,#8f0 107px,#df0 109px,#ff0 112px,#fe0 117px,#f20 121px,#f01 123px,#f05 125px,#f0a 127px,#f0f 129px,#f0f"></i><i style="--g:#00f,#00f 34px,#01f 39px,#03f 45px,#0ef 68px,#0ff 73px,#0ff 82px,#0fd 86px,#0f3 95px,#0f0 100px,#1f0 102px,#2f0 104px,#df0 109px,#ff0 111px,#fe0 116px,#fd0 117px,#f40 120px,#f00 122px,#f04 124px,#f0e 128px,#f0f 129px,#f0f"></i><i style="--g:#00f,#00f 34px,#01f 39px,#03f 45px,#0ef 68px,#0ff 73px,#0ff 83px,#0fd 87px,#0f4 95px,#0f1 100px,#0f0 102px,#1f0 104px,#3f0 105px,#cf0 109px,#ff0 112px,#fe0 117px,#fc0 118px,#f30 121px,#f00 123px,#f04 125px,#f0e 129px,#f0f 130px,#f0f"></i><i style="--g:#00f,#00f 34px,#01f 39px,#03f 45px,#0ef 68px,#0ff 73px,#0ff 83px,#0fd 87px,#0f3 96px,#0f0 102px,#2f0 105px,#df0 110px,#ff0 112px,#fe0 117px,#fd0 118px,#f40 121px,#f00 123px,#f03 125px,#f0e 129px,#f0f 130px,#f0f"></i><i style="--g:#00f,#00f 34px,#01f 39px,#03f 45px,#0ef 68px,#0ff 73px,#0ff 83px,#0fd 86px,#0f4 95px,#0f0 100px,#1f0 102px,#2f0 104px,#8f0 107px,#df0 109px,#ff0 112px,#fd0 117px,#f20 121px,#f10 122px,#f01 123px,#f05 125px,#f0b 127px,#f0f 129px,#f0f"></i><i style="--g:#00f,#00f 34px,#01f 39px,#03f 45px,#0ef 68px,#0ff 73px,#0ff 83px,#0fd 86px,#0f4 95px,#0f0 100px,#1f0 102px,#2f0 104px,#8f0 107px,#df0 109px,#ff0 112px,#fd0 117px,#f20 121px,#f10 122px,#f01 123px,#f05 125px,#f0b 127px,#f0f 129px,#f0f"></i><i style="--g:#00f,#00f 34px,#01f 39px,#03f 45px,#0ef 68px,#0ff 73px,#0ff 82px,#0fd 86px,#0f3 95px,#0f0 100px,#1f0 102px,#3f0 104px,#cf0 108px,#df0 109px,#ff0 111px,#fe0 116px,#fc0 117px,#f40 120px,#f00 122px,#f04 124px,#f0e 128px,#f0f 129px,#f0f"></i><i style="--g:#00f,#00f 34px,#01f 39px,#03f 45px,#0df 63px,#0ff 69px,#0ff 83px,#0fd 87px,#0f4 95px,#0f0 101px,#2f0 104px,#df0 109px,#ff0 112px,#fe0 116px,#fd0 117px,#f20 121px,#f10 122px,#f01 123px,#f05 125px,#f0b 127px,#f0f 129px,#f0f"></i><i style="--g:#00f,#01f 37px,#04f 45px,#0ff 62px,#0fe 72px,#0ff 73px,#0ff 83px,#0fd 87px,#0f4 95px,#0f0 101px,#2f0 104px,#8f0 107px,#df0 109px,#ff0 112px,#fe0 116px,#fe0 117px,#f20 121px,#f10 122px,#f01 123px,#f05 125px,#f0b 127px,#f0f 129px,#f0f"></i><i style="--g:#00f,#00f 34px,#01f 39px,#04f 45px,#0ff 63px,#0fe 66px,#0fe 72px,#0ff 73px,#0ff 83px,#0fc 87px,#0f4 95px,#0f0 101px,#2f0 104px,#df0 109px,#ff0 112px,#fe0 116px,#fd0 117px,#f20 121px,#f00 122px,#f03 124px,#f0b 127px,#f0f 129px,#f0f"></i><i style="--g:#00f,#00f 34px,#01f 39px,#04f 45px,#0ff 64px,#0fe 68px,#0fe 72px,#0ff 73px,#0fe 83px,#0fc 87px,#0f4 94px,#0f0 100px,#1f0 103px,#3f0 104px,#df0 109px,#ff0 112px,#fe0 116px,#fc0 117px,#f10 121px,#f00 122px,#f02 123px,#f04 124px,#f0e 128px,#f0f 129px,#f0f"></i><i style="--g:#00f,#00f 34px,#01f 39px,#03f 45px,#0ef 68px,#0ff 73px,#0ff 83px,#0fd 86px,#0f4 95px,#0f0 100px,#1f0 102px,#2f0 104px,#df0 109px,#ff0 112px,#fd0 117px,#f20 121px,#f00 122px,#f01 123px,#f05 125px,#f0b 127px,#f0f 129px,#f0f"></i><i style="--g:#00f,#00f 34px,#01f 39px,#03f 45px,#0ef 68px,#0ff 73px,#0ff 83px,#0fd 86px,#0f4 95px,#0f0 100px,#1f0 102px,#2f0 104px,#df0 109px,#ff0 112px,#fd0 117px,#f20 121px,#f00 122px,#f01 123px,#f05 125px,#f0b 127px,#f0f 129px,#f0f"></i><i style="--g:#00f,#00f 34px,#01f 39px,#03f 45px,#0ef 68px,#0ff 73px,#0ff 83px,#0fd 86px,#0f4 95px,#0f0 100px,#1f0 102px,#2f0 104px,#df0 109px,#ff0 112px,#fd0 117px,#f20 121px,#f00 122px,#f01 123px,#f05 125px,#f0b 127px,#f0f 129px,#f0f"></i><i style="--g:#00f,#00f 34px,#01f 39px,#03f 45px,#0ef 68px,#0ff 73px,#0ff 82px,#0fd 86px,#0f3 95px,#0f0 100px,#1f0 102px,#2f0 104px,#df0 109px,#ff0 111px,#fe0 116px,#fd0 117px,#f40 120px,#f00 122px,#f03 124px,#f0e 128px,#f0f 129px,#f0f"></i><i style="--g:#00f,#00f 34px,#01f 39px,#03f 45px,#0ff 68px,#0fe 83px,#0fd 86px,#0f4 94px,#0f0 100px,#1f0 103px,#3f0 104px,#cf0 108px,#df0 109px,#ff0 112px,#fe0 116px,#fc0 117px,#f30 120px,#f10 121px,#f00 122px,#f04 124px,#f0e 128px,#f0f 129px,#f0f"></i><i style="--g:#00f,#00f 34px,#01f 39px,#03f 45px,#0ef 63px,#0ff 66px,#0fe 71px,#0fe 72px,#0ff 73px,#0fe 83px,#0fd 86px,#0f4 94px,#0f0 100px,#1f0 103px,#3f0 104px,#cf0 108px,#df0 109px,#ff0 112px,#fe0 116px,#fc0 117px,#f30 120px,#f10 121px,#f00 122px,#f04 124px,#f0e 128px,#f0f 129px,#f0f"></i><i style="--g:#00f,#00f 34px,#01f 39px,#03f 45px,#0ef 68px,#0ff 73px,#0ff 83px,#0fd 86px,#0f4 95px,#0f0 100px,#1f0 102px,#2f0 104px,#8f0 107px,#df0 109px,#ff0 112px,#fd0 117px,#f20 121px,#f10 122px,#f01 123px,#f05 125px,#f0b 127px,#f0f 129px,#f0f"></i><i style="--g:#00f,#00f 34px,#01f 39px,#03f 45px,#0ef 68px,#0ff 73px,#0ff 83px,#0fd 86px,#0f4 95px,#0f0 100px,#1f0 102px,#2f0 104px,#8f0 107px,#df0 109px,#ff0 112px,#fe0 117px,#f20 121px,#f10 122px,#f01 123px,#f05 125px,#f0b 127px,#f0f 129px,#f0f"></i><i style="--g:#00f,#00f 34px,#01f 39px,#03f 45px,#0ef 68px,#0ff 73px,#0ff 83px,#0fd 86px,#0f4 95px,#0f0 100px,#1f0 102px,#2f0 104px,#df0 109px,#ff0 112px,#fd0 117px,#f20 121px,#f00 122px,#f01 123px,#f05 125px,#f0b 127px,#f0f 129px,#f0f"></i><i style="--g:#00f,#00f 34px,#01f 39px,#03f 45px,#0ef 68px,#0ff 73px,#0ff 83px,#0fd 86px,#0fd 87px,#0f4 95px,#0f0 100px,#1f0 102px,#2f0 104px,#8f0 107px,#df0 109px,#ff0 112px,#fe0 117px,#f20 121px,#f10 122px,#f01 123px,#f05 125px,#f0b 127px,#f0f 129px,#f0f"></i><i style="--g:#00f,#00f 34px,#01f 39px,#03f 45px,#0ef 68px,#0ff 73px,#0ff 83px,#0fd 86px,#0f4 95px,#0f0 100px,#1f0 102px,#2f0 104px,#df0 109px,#ff0 112px,#fd0 117px,#f20 121px,#f10 122px,#f01 123px,#f05 125px,#f0b 127px,#f0f 129px,#f0f"></i><i style="--g:#00f,#00f 34px,#01f 39px,#03f 45px,#0ef 68px,#0ff 73px,#0ff 83px,#0fd 87px,#0f4 95px,#0f0 100px,#0f0 102px,#1f0 104px,#7f0 107px,#cf0 109px,#ff0 112px,#fe0 117px,#f30 121px,#f01 123px,#f04 125px,#f0a 127px,#f0f 129px,#f0f"></i><i style="--g:#00f,#00f 34px,#01f 39px,#03f 45px,#0ef 68px,#0ff 73px,#0ff 82px,#0fd 86px,#0f3 95px,#0f0 100px,#1f0 102px,#2f0 104px,#df0 109px,#ff0 112px,#fe0 116px,#fd0 117px,#f40 120px,#f00 122px,#f03 124px,#f0b 127px,#f0f 129px,#f0f"></i><i style="--g:#00f,#00f 34px,#01f 39px,#03f 45px,#0ef 68px,#0ff 73px,#0ff 83px,#0fd 86px,#0f4 95px,#0f0 100px,#1f0 102px,#2f0 104px,#8f0 107px,#df0 109px,#ff0 112px,#fe0 117px,#f20 121px,#f01 123px,#f05 125px,#f0b 127px,#f0f 129px,#f0f"></i><i style="--g:#00f,#00f 34px,#01f 39px,#03f 45px,#0ef 68px,#0ff 73px,#0ff 83px,#0fd 87px,#0f4 95px,#0f1 100px,#0f0 102px,#1f0 104px,#7f0 107px,#cf0 109px,#ff0 112px,#fe0 117px,#f30 121px,#f00 123px,#f04 125px,#f0a 127px,#f0f 129px,#f0f"></i><i style="--g:#00f,#00f 34px,#01f 39px,#03f 45px,#0ef 68px,#0ff 73px,#0ff 83px,#0fd 87px,#0f4 95px,#0f0 100px,#0f0 102px,#1f0 104px,#7f0 107px,#cf0 109px,#ff0 112px,#fe0 117px,#f30 121px,#f01 123px,#f04 125px,#f0a 127px,#f0f 129px,#f0f"></i><i style="--g:#00f,#00f 34px,#01f 39px,#03f 45px,#0ef 68px,#0ff 73px,#0ff 83px,#0fd 87px,#0f4 95px,#0f0 100px,#1f0 102px,#1f0 104px,#7f0 107px,#df0 109px,#ff0 112px,#fe0 117px,#f30 121px,#f01 123px,#f04 125px,#f0a 127px,#f0f 129px,#f0f"></i><i style="--g:#00f,#00f 34px,#01f 39px,#03f 45px,#0ef 68px,#0ff 72px,#0ff 83px,#0fd 86px,#0f4 95px,#0f0 101px,#2f0 104px,#df0 109px,#ff0 112px,#fe0 116px,#fd0 117px,#f40 120px,#f00 122px,#f03 124px,#f0b 127px,#f0f 129px,#f0f"></i><i style="--g:#00f,#00f 34px,#01f 39px,#03f 45px,#0ff 64px,#0fe 68px,#0fe 72px,#0ff 73px,#0ff 83px,#0fd 87px,#0f4 95px,#0f0 101px,#2f0 104px,#8f0 107px,#df0 109px,#ff0 112px,#fe0 116px,#fe0 117px,#f20 121px,#f10 122px,#f01 123px,#f05 125px,#f0b 127px,#f0f 129px,#f0f"></i><i style="--g:#00f,#00f 34px,#01f 39px,#03f 45px,#0ff 64px,#0fe 68px,#0fe 72px,#0ff 73px,#0ff 83px,#0fd 87px,#0f4 95px,#0f0 101px,#2f0 104px,#8f0 107px,#df0 109px,#ff0 112px,#fe0 116px,#fe0 117px,#f20 121px,#f10 122px,#f01 123px,#f05 125px,#f0b 127px,#f0f 129px,#f0f"></i><i style="--g:#00f,#00f 34px,#01f 39px,#03f 45px,#0ef 68px,#0ff 72px,#0ff 83px,#0fd 87px,#0f4 95px,#0f0 101px,#1f0 104px,#7f0 107px,#cf0 109px,#df0 110px,#ff0 112px,#fe0 117px,#f30 121px,#f10 122px,#f01 123px,#f04 125px,#f0a 127px,#f0f 129px,#f0f"></i><i style="--g:#00f,#00f 34px,#01f 39px,#03f 45px,#0ff 68px,#0ff 70px,#0ff 83px,#0fd 86px,#0f4 95px,#0f0 101px,#2f0 104px,#df0 109px,#ff0 112px,#fe0 116px,#fd0 117px,#f20 121px,#f00 122px,#f01 123px,#f05 125px,#f0b 127px,#f0f 129px,#f0f"></i><i style="--g:#00f,#00f 34px,#04f 45px,#0ff 62px,#0fe 66px,#0fe 72px,#0ff 73px,#0ff 83px,#0fd 87px,#0f4 95px,#0f0 101px,#2f0 104px,#7f0 107px,#cf0 109px,#ff0 112px,#fe0 116px,#fe0 117px,#f30 121px,#f10 122px,#f01 123px,#f04 125px,#f0a 127px,#f0f 129px,#f0f"></i><i style="--g:#00f,#00f 34px,#04f 45px,#0ff 64px,#0fe 69px,#0fe 72px,#0ff 73px,#0ff 83px,#0fd 87px,#0f4 95px,#0f0 101px,#2f0 104px,#8f0 107px,#df0 109px,#ff0 112px,#fe0 116px,#fe0 117px,#f20 121px,#f10 122px,#f01 123px,#f05 125px,#f0a 127px,#f0f 129px,#f0f"></i><i style="--g:#00f,#00f 34px,#01f 39px,#03f 45px,#0ef 68px,#0ff 72px,#0ff 82px,#0fd 86px,#0f3 95px,#0f0 101px,#2f0 104px,#df0 109px,#ff0 112px,#fe0 116px,#fd0 117px,#f40 120px,#f00 122px,#f03 124px,#f0b 127px,#f0f 129px,#f0f"></i><i style="--g:#00f,#00f 34px,#01f 39px,#03f 45px,#0ef 68px,#0ff 73px,#0ff 82px,#0fd 86px,#0f3 95px,#0f0 100px,#1f0 102px,#2f0 104px,#df0 109px,#ff0 112px,#fe0 116px,#fd0 117px,#f40 120px,#f00 122px,#f03 124px,#f0b 127px,#f0f 129px,#f0f"></i><i style="--g:#00f,#00f 34px,#01f 39px,#03f 45px,#0ef 68px,#0ff 73px,#0ff 83px,#0fd 86px,#0f4 95px,#0f0 100px,#1f0 102px,#2f0 104px,#df0 109px,#ff0 112px,#fd0 117px,#f20 121px,#f00 122px,#f01 123px,#f05 125px,#f0b 127px,#f0f 129px,#f0f"></i><i style="--g:#00f,#00f 34px,#01f 39px,#03f 45px,#0ff 68px,#0fe 84px,#0fd 87px,#0f4 95px,#0f0 101px,#1f0 104px,#7f0 107px,#cf0 109px,#df0 110px,#ff0 112px,#fe0 117px,#fc0 118px,#f30 121px,#f10 122px,#f00 123px,#f04 125px,#f0e 129px,#f0f"></i><i style="--g:#00f,#00f 34px,#01f 39px,#04f 45px,#0ff 64px,#0fe 68px,#0fe 72px,#0ff 73px,#0ff 83px,#0fc 87px,#0f4 95px,#0f0 101px,#2f0 104px,#df0 109px,#ff0 112px,#fe0 116px,#fd0 117px,#f40 120px,#f00 122px,#f03 124px,#f0b 127px,#f0f 129px,#f0f"></i><i style="--g:#00f,#00f 34px,#01f 39px,#03f 45px,#0ef 68px,#0ff 73px,#0ff 83px,#0fd 86px,#0f4 95px,#0f0 100px,#1f0 102px,#2f0 104px,#8f0 107px,#df0 109px,#ff0 112px,#fd0 117px,#f20 121px,#f01 123px,#f05 125px,#f0b 127px,#f0f 129px,#f0f"></i><i style="--g:#00f,#00f 34px,#01f 39px,#03f 45px,#0ef 68px,#0ff 73px,#0ff 83px,#0fd 87px,#0f3 96px,#0f0 102px,#2f0 105px,#df0 110px,#ff0 113px,#fe0 117px,#fd0 118px,#f40 121px,#f00 123px,#f03 125px,#f0b 128px,#f0f 130px,#f0f"></i><i style="--g:#00f,#00f 34px,#01f 38px,#03f 45px,#0ff 66px,#0fe 72px,#0ff 73px,#0fe 84px,#0fc 88px,#0f3 96px,#0f0 101px,#1f0 104px,#2f0 105px,#df0 110px,#ff0 113px,#fe0 117px,#fd0 118px,#f40 121px,#f00 123px,#f03 125px,#f0e 129px,#f0f 130px,#f0f"></i><i style="--g:#00f,#00f 34px,#01f 38px,#03f 45px,#0ff 66px,#0fe 72px,#0ff 73px,#0ff 83px,#0fd 87px,#0f4 95px,#0f0 101px,#2f0 104px,#8f0 107px,#df0 109px,#ff0 112px,#fe0 116px,#fe0 117px,#f20 121px,#f10 122px,#f01 123px,#f05 125px,#f0a 127px,#f0f 129px,#f0f"></i><i style="--g:#00f,#00f 34px,#01f 39px,#03f 45px,#0ef 68px,#0ff 73px,#0ff 83px,#0fd 86px,#0f4 95px,#0f0 100px,#1f0 102px,#2f0 104px,#df0 109px,#ff0 112px,#fe0 116px,#fd0 117px,#f40 120px,#f00 122px,#f03 124px,#f0b 127px,#f0f 129px,#f0f"></i><i style="--g:#00f,#00f 34px,#01f 39px,#03f 45px,#0ff 67px,#0ff 83px,#0fc 87px,#0f4 95px,#0f0 101px,#2f0 104px,#df0 109px,#ff0 112px,#fe0 116px,#fd0 117px,#f20 121px,#f00 122px,#f01 123px,#f05 125px,#f0b 127px,#f0f 129px,#f0f"></i><i style="--g:#00f,#00f 34px,#01f 39px,#04f 45px,#0ff 62px,#0fe 64px,#0fe 72px,#0ff 73px,#0ff 83px,#0fd 87px,#0f4 95px,#0f0 101px,#2f0 104px,#df0 109px,#ff0 112px,#fe0 116px,#fd0 117px,#f20 121px,#f00 122px,#f01 123px,#f05 125px,#f0b 127px,#f0f 129px,#f0f"></i><i style="--g:#00f,#00f 34px,#01f 39px,#03f 45px,#0ff 67px,#0fe 72px,#0ff 73px,#0ff 83px,#0fd 87px,#0f4 95px,#0f0 101px,#1f0 104px,#7f0 107px,#df0 109px,#ff0 112px,#fe0 117px,#f20 121px,#f10 122px,#f01 123px,#f04 125px,#f0a 127px,#f0f 129px,#f0f"></i><i style="--g:#00f,#00f 34px,#01f 39px,#03f 45px,#0ff 67px,#0fe 72px,#0ff 73px,#0ff 83px,#0fd 87px,#0f4 95px,#0f0 101px,#2f0 104px,#8f0 107px,#df0 109px,#ff0 112px,#fe0 116px,#fd0 117px,#f20 121px,#f10 122px,#f01 123px,#f05 125px,#f0b 127px,#f0f 129px,#f0f"></i><i style="--g:#00f,#01f 37px,#04f 45px,#0ff 62px,#0fe 64px,#0fe 72px,#0ff 73px,#0ff 83px,#0fc 87px,#0f3 95px,#0f0 101px,#2f0 104px,#df0 109px,#ff0 112px,#fe0 116px,#fd0 117px,#f40 120px,#f00 122px,#f03 124px,#f0b 127px,#f0f 129px,#f0f"></i><i style="--g:#00f,#00f 34px,#01f 39px,#03f 45px,#0ff 65px,#0fe 67px,#0fe 72px,#0ff 73px,#0ff 83px,#0fd 87px,#0f4 95px,#0f0 101px,#2f0 104px,#8f0 107px,#df0 109px,#ff0 112px,#fe0 116px,#fe0 117px,#f20 121px,#f10 122px,#f01 123px,#f05 125px,#f0b 127px,#f0f 129px,#f0f"></i><i style="--g:#00f,#00f 34px,#01f 39px,#04f 45px,#0ff 64px,#0fe 68px,#0fe 72px,#0ff 73px,#0ff 83px,#0fd 87px,#0f4 95px,#0f0 101px,#1f0 104px,#7f0 107px,#df0 109px,#ff0 112px,#fe0 117px,#f20 121px,#f10 122px,#f01 123px,#f04 125px,#f0a 127px,#f0f 129px,#f0f"></i><i style="--g:#00f,#00f 34px,#01f 39px,#03f 45px,#0ef 68px,#0ff 72px,#0ff 83px,#0fd 86px,#0f4 95px,#0f0 101px,#2f0 104px,#df0 109px,#ff0 112px,#fe0 116px,#fd0 117px,#f20 121px,#f00 122px,#f03 124px,#f0b 127px,#f0f 129px,#f0f"></i><i style="--g:#00f,#00f 34px,#04f 45px,#0ff 63px,#0ff 65px,#0fe 70px,#0fe 72px,#0ff 73px,#0fe 84px,#0fd 87px,#0f4 95px,#0f0 101px,#1f0 104px,#7f0 107px,#cf0 109px,#df0 110px,#ff0 112px,#fe0 117px,#f30 121px,#f10 122px,#f00 123px,#f04 125px,#f0a 127px,#f0f 129px,#f0f"></i><i style="--g:#00f,#00f 34px,#02f 39px,#05f 45px,#0ff 61px,#0fe 64px,#0fe 72px,#0ff 73px,#0ff 83px,#0fd 87px,#0f4 95px,#0f0 101px,#1f0 104px,#7f0 107px,#cf0 109px,#df0 110px,#ff0 112px,#fe0 117px,#f30 121px,#f10 122px,#f01 123px,#f04 125px,#f0a 127px,#f0f 129px,#f0f"></i><i style="--g:#00f,#00f 34px,#01f 39px,#03f 45px,#0ff 68px,#0fe 84px,#0fd 87px,#0f4 95px,#0f0 101px,#1f0 104px,#7f0 107px,#cf0 109px,#ff0 112px,#fe0 117px,#f30 121px,#f10 122px,#f01 123px,#f04 125px,#f0a 127px,#f0f 129px,#f0f"></i><i style="--g:#00f,#00f 34px,#01f 39px,#03f 45px,#0ef 68px,#0ff 73px,#0ff 83px,#0fd 87px,#0f3 96px,#0f0 102px,#2f0 105px,#df0 110px,#ff0 112px,#fe0 117px,#fd0 118px,#f40 121px,#f00 123px,#f04 125px,#f0e 129px,#f0f 130px,#f0f"></i><i style="--g:#00f,#00f 34px,#01f 39px,#03f 45px,#0ef 68px,#0ff 73px,#0ff 83px,#0fd 87px,#0f4 95px,#0f1 100px,#0f0 102px,#1f0 104px,#7f0 107px,#cf0 109px,#ff0 112px,#fe0 117px,#fc0 118px,#f30 121px,#f00 123px,#f04 125px,#f0e 129px,#f0f"></i><i style="--g:#00f,#00f 34px,#01f 39px,#03f 45px,#0ef 68px,#0ff 73px,#0ff 83px,#0fd 87px,#0f4 95px,#0f0 100px,#1f0 102px,#1f0 104px,#7f0 107px,#cf0 109px,#ff0 112px,#fe0 117px,#f30 121px,#f01 123px,#f04 125px,#f0a 127px,#f0f 129px,#f0f"></i><i style="--g:#00f,#00f 34px,#01f 39px,#03f 45px,#0ff 67px,#0fe 84px,#0fd 87px,#0f4 95px,#0f0 101px,#1f0 104px,#7f0 107px,#cf0 109px,#df0 110px,#ff0 112px,#fe0 117px,#f30 121px,#f10 122px,#f00 123px,#f04 125px,#f0a 127px,#f0f 129px,#f0f"></i><i style="--g:#00f,#01f 37px,#04f 45px,#0ff 61px,#0fe 63px,#0fe 72px,#0ff 73px,#0ff 83px,#0fc 87px,#0f4 95px,#0f0 101px,#2f0 104px,#df0 109px,#ff0 112px,#fe0 116px,#fd0 117px,#f20 121px,#f00 122px,#f03 124px,#f0b 127px,#f0f 129px,#f0f"></i><i style="--g:#00f,#00f 34px,#01f 39px,#04f 45px,#0ff 63px,#0fe 66px,#0fe 72px,#0ff 73px,#0ff 83px,#0fd 87px,#0f4 95px,#0f0 101px,#2f0 104px,#8f0 107px,#df0 109px,#ff0 112px,#fe0 116px,#fd0 117px,#f20 121px,#f10 122px,#f01 123px,#f05 125px,#f0b 127px,#f0f 129px,#f0f"></i><i style="--g:#00f,#00f 34px,#01f 39px,#03f 45px,#0ef 63px,#0ff 66px,#0fe 72px,#0ff 73px,#0fe 84px,#0fd 87px,#0f4 95px,#0f0 101px,#1f0 104px,#7f0 107px,#cf0 109px,#df0 110px,#ff0 112px,#fe0 117px,#fc0 118px,#f30 121px,#f10 122px,#f00 123px,#f04 125px,#f0e 129px,#f0f"></i><i style="--g:#00f,#00f 34px,#04f 45px,#0ff 63px,#0ff 65px,#0fe 70px,#0fe 72px,#0ff 73px,#0fe 84px,#0fd 87px,#0f4 95px,#0f0 101px,#1f0 104px,#3f0 105px,#cf0 109px,#df0 110px,#ff0 113px,#fe0 117px,#fc0 118px,#f30 121px,#f10 122px,#f00 123px,#f04 125px,#f0e 129px,#f0f 130px,#f0f"></i><i style="--g:#00f,#00f 34px,#02f 39px,#05f 45px,#0ff 61px,#0fe 64px,#0fe 72px,#0ff 73px,#0ff 83px,#0fd 87px,#0f4 95px,#0f0 101px,#1f0 104px,#7f0 107px,#cf0 109px,#df0 110px,#ff0 112px,#fe0 117px,#fc0 118px,#f30 121px,#f10 122px,#f00 123px,#f04 125px,#f0e 129px,#f0f"></i><i style="--g:#00f,#00f 34px,#01f 39px,#03f 45px,#0ff 68px,#0fe 84px,#0fc 88px,#0f4 95px,#0f0 101px,#1f0 104px,#3f0 105px,#df0 110px,#ff0 113px,#fe0 117px,#fc0 118px,#f10 122px,#f00 123px,#f04 125px,#f0e 129px,#f0f 130px,#f0f"></i><i style="--g:#00f,#00f 34px,#01f 39px,#03f 45px,#0ef 68px,#0ff 73px,#0ff 83px,#0fd 86px,#0f4 95px,#0f0 100px,#1f0 102px,#2f0 104px,#df0 109px,#ff0 112px,#fd0 117px,#f20 121px,#f01 123px,#f05 125px,#f0b 127px,#f0f 129px,#f0f"></i><i style="--g:#00f,#00f 34px,#01f 39px,#03f 45px,#0ff 66px,#0fe 72px,#0ff 73px,#0ff 83px,#0fc 87px,#0f4 95px,#0f0 101px,#2f0 104px,#df0 109px,#ff0 112px,#fe0 116px,#fd0 117px,#f40 120px,#f00 122px,#f03 124px,#f0b 127px,#f0f 129px,#f0f"></i><i style="--g:#00f,#00f 34px,#01f 39px,#03f 45px,#0ff 65px,#0fe 72px,#0ff 73px,#0fe 83px,#0fc 87px,#0f4 94px,#0f0 100px,#1f0 103px,#3f0 104px,#df0 109px,#ff0 112px,#fe0 116px,#fc0 117px,#f40 120px,#f10 121px,#f00 122px,#f04 124px,#f0e 128px,#f0f 129px,#f0f"></i><i style="--g:#00f,#01f 37px,#04f 45px,#0ff 63px,#0ff 64px,#0fe 68px,#0fe 72px,#0ff 73px,#0fe 83px,#0fc 87px,#0f4 94px,#0f0 100px,#1f0 103px,#2f0 104px,#df0 109px,#ff0 112px,#fe0 116px,#fd0 117px,#f40 120px,#f00 122px,#f03 124px,#f0e 128px,#f0f 129px,#f0f"></i><i style="--g:#00f,#01f 37px,#04f 45px,#0ff 63px,#0fe 67px,#0fe 72px,#0ff 73px,#0ff 83px,#0fd 87px,#0f4 95px,#0f0 101px,#2f0 104px,#8f0 107px,#df0 109px,#ff0 112px,#fe0 116px,#fe0 117px,#f20 121px,#f10 122px,#f01 123px,#f05 125px,#f0b 127px,#f0f 129px,#f0f"></i><i style="--g:#00f,#00f 34px,#01f 39px,#04f 45px,#0ff 63px,#0fe 67px,#0fe 72px,#0ff 73px,#0ff 83px,#0fd 87px,#0f4 95px,#0f0 101px,#2f0 104px,#8f0 107px,#df0 109px,#ff0 112px,#fe0 116px,#fe0 117px,#f20 121px,#f10 122px,#f01 123px,#f05 125px,#f0b 127px,#f0f 129px,#f0f"></i><i style="--g:#00f,#00f 34px,#01f 39px,#04f 45px,#0ff 64px,#0fe 68px,#0fe 72px,#0ff 73px,#0ff 83px,#0fd 87px,#0f4 95px,#0f0 101px,#1f0 104px,#7f0 107px,#cf0 109px,#df0 110px,#ff0 112px,#fe0 117px,#f30 121px,#f10 122px,#f01 123px,#f04 125px,#f0a 127px,#f0f 129px,#f0f"></i><i style="--g:#00f,#00f 34px,#01f 39px,#03f 45px,#0ff 68px,#0ff 70px,#0ff 83px,#0fd 87px,#0f4 95px,#0f0 101px,#1f0 104px,#7f0 107px,#cf0 109px,#df0 110px,#ff0 112px,#fe0 117px,#f30 121px,#f10 122px,#f00 123px,#f04 125px,#f0a 127px,#f0f 129px,#f0f"></i><i style="--g:#00f,#01f 37px,#04f 45px,#0ff 63px,#0ff 64px,#0fe 68px,#0fe 72px,#0ff 73px,#0ff 83px,#0fc 87px,#0f4 95px,#0f0 101px,#2f0 104px,#df0 109px,#ff0 112px,#fe0 116px,#fd0 117px,#f40 120px,#f00 122px,#f03 124px,#f0b 127px,#f0f 129px,#f0f"></i><i style="--g:#00f,#01f 37px,#04f 45px,#0ff 63px,#0ff 64px,#0fe 68px,#0fe 72px,#0ff 73px,#0ff 83px,#0fd 87px,#0f4 95px,#0f0 101px,#1f0 104px,#7f0 107px,#cf0 109px,#df0 110px,#ff0 112px,#fe0 117px,#f30 121px,#f10 122px,#f00 123px,#f04 125px,#f0a 127px,#f0f 129px,#f0f"></i><i style="--g:#00f,#00f 34px,#01f 39px,#03f 45px,#0ff 68px,#0ff 72px,#0ff 83px,#0fd 87px,#0f4 95px,#0f0 101px,#1f0 104px,#7f0 107px,#cf0 109px,#df0 110px,#ff0 112px,#fe0 117px,#f30 121px,#f10 122px,#f00 123px,#f04 125px,#f0a 127px,#f0f 129px,#f0f"></i><i style="--g:#00f,#00f 34px,#01f 39px,#03f 45px,#0ff 66px,#0fe 72px,#0ff 73px,#0ff 83px,#0fd 87px,#0f4 95px,#0f0 101px,#2f0 104px,#8f0 107px,#df0 109px,#ff0 112px,#fe0 116px,#fe0 117px,#f20 121px,#f10 122px,#f01 123px,#f05 125px,#f0b 127px,#f0f 129px,#f0f"></i><i style="--g:#00f,#00f 34px,#01f 39px,#03f 45px,#0ff 66px,#0fe 72px,#0ff 73px,#0fe 84px,#0fc 88px,#0f3 96px,#0f0 102px,#2f0 105px,#df0 110px,#ff0 113px,#fe0 117px,#fd0 118px,#f40 121px,#f00 123px,#f03 125px,#f0b 128px,#f0f 130px,#f0f"></i><i style="--g:#00f,#00f 34px,#01f 39px,#03f 45px,#0df 63px,#0ff 68px,#0fe 84px,#0fd 87px,#0f4 95px,#0f0 101px,#1f0 104px,#7f0 107px,#cf0 109px,#df0 110px,#ff0 112px,#fe0 117px,#fc0 118px,#f30 121px,#f10 122px,#f00 123px,#f04 125px,#f0e 129px,#f0f 130px,#f0f"></i><i style="--g:#00f,#00f 34px,#01f 39px,#04f 45px,#0ff 63px,#0fe 64px,#0fe 72px,#0ff 73px,#0fe 83px,#0fd 86px,#0f4 94px,#0f0 100px,#1f0 103px,#3f0 104px,#cf0 108px,#df0 109px,#ff0 112px,#fe0 116px,#fc0 117px,#f30 120px,#f10 121px,#f00 122px,#f04 124px,#f0e 128px,#f0f 129px,#f0f"></i><i style="--g:#00f,#00f 34px,#01f 39px,#03f 45px,#0ff 67px,#0fe 72px,#0ff 73px,#0fe 84px,#0fd 87px,#0f4 95px,#0f0 101px,#1f0 104px,#7f0 107px,#cf0 109px,#df0 110px,#ff0 112px,#fe0 117px,#fc0 118px,#f30 121px,#f10 122px,#f00 123px,#f04 125px,#f0e 129px,#f0f"></i><i style="--g:#00f,#01f 37px,#04f 45px,#0ff 63px,#0ff 64px,#0fe 68px,#0fe 72px,#0ff 73px,#0fe 84px,#0fd 87px,#0f4 95px,#0f0 101px,#1f0 104px,#3f0 105px,#cf0 109px,#df0 110px,#ff0 113px,#fe0 117px,#fc0 118px,#f30 121px,#f10 122px,#f00 123px,#f04 125px,#f0e 129px,#f0f 130px,#f0f"></i><i style="--g:#00f,#01f 37px,#04f 45px,#0ff 63px,#0fe 67px,#0fe 72px,#0ff 73px,#0ff 83px,#0fd 87px,#0f4 95px,#0f0 101px,#2f0 104px,#8f0 107px,#df0 109px,#ff0 112px,#fe0 116px,#fe0 117px,#f20 121px,#f10 122px,#f01 123px,#f05 125px,#f0b 127px,#f0f 129px,#f0f"></i><i style="--g:#00f,#00f 34px,#01f 38px,#04f 45px,#0ff 65px,#0fe 69px,#0fe 72px,#0ff 73px,#0fe 84px,#0fd 87px,#0f4 95px,#0f0 101px,#1f0 104px,#7f0 107px,#cf0 109px,#df0 110px,#ff0 112px,#fe0 117px,#fc0 118px,#f30 121px,#f10 122px,#f00 123px,#f04 125px,#f0e 129px,#f0f 130px,#f0f"></i><i style="--g:#00f,#01f 37px,#04f 45px,#0ff 62px,#0fe 65px,#0fe 72px,#0ff 73px,#0ff 83px,#0fd 87px,#0f4 95px,#0f0 101px,#1f0 104px,#7f0 107px,#cf0 109px,#df0 110px,#ff0 112px,#fe0 117px,#fc0 118px,#f30 121px,#f10 122px,#f00 123px,#f04 125px,#f0e 129px,#f0f"></i><i style="--g:#00f,#00f 34px,#01f 39px,#03f 45px,#0ff 69px,#0ff 83px,#0fd 87px,#0f4 95px,#0f0 101px,#1f0 104px,#7f0 107px,#cf0 109px,#df0 110px,#ff0 112px,#fe0 117px,#fc0 118px,#f30 121px,#f10 122px,#f00 123px,#f04 125px,#f0e 129px,#f0f 130px,#f0f"></i><i style="--g:#00f,#00f 34px,#01f 39px,#03f 45px,#0df 63px,#0ff 68px,#0ff 83px,#0fc 87px,#0f4 95px,#0f0 101px,#2f0 104px,#df0 109px,#ff0 112px,#fe0 116px,#fd0 117px,#f40 120px,#f00 122px,#f03 124px,#f0b 127px,#f0f 129px,#f0f"></i><i style="--g:#00f,#01f 37px,#04f 45px,#0ff 62px,#0fe 63px,#0fe 72px,#0ff 73px,#0fe 83px,#0fd 86px,#0f4 94px,#0f0 100px,#1f0 103px,#7f0 106px,#cf0 108px,#df0 109px,#ff0 111px,#fe0 116px,#fc0 117px,#f30 120px,#f10 121px,#f00 122px,#f04 124px,#f0e 128px,#f0f"></i><i style="--g:#00f,#00f 34px,#01f 39px,#03f 45px,#0df 63px,#0ff 68px,#0fe 83px,#0fd 86px,#0f4 94px,#0f0 100px,#1f0 103px,#3f0 104px,#cf0 108px,#df0 109px,#ff0 112px,#fe0 116px,#fc0 117px,#f30 120px,#f10 121px,#f00 122px,#f04 124px,#f0e 128px,#f0f 129px,#f0f"></i><i style="--g:#00f,#00f 34px,#01f 39px,#03f 45px,#0ef 68px,#0ff 73px,#0ff 83px,#0fd 86px,#0f4 95px,#0f0 100px,#1f0 102px,#2f0 104px,#8f0 107px,#df0 109px,#ff0 112px,#fe0 117px,#f20 121px,#f10 122px,#f01 123px,#f05 125px,#f0b 127px,#f0f 129px,#f0f"></i></div>
<div id="s2"><i style="--g:#06f,#0af 6px,#0df 18px,#0ff 42px,#0fd 58px,#0fb 63px,#0f8 67px,#0f4 71px,#0f0 74px,#7f0 77px,#8f0 78px,#ff0 93px,#fe0 96px,#ff0 99px,#df0 101px,#8f0 104px,#6f0 107px,#8f0 110px,#ff0 114px,#ff0 120px,#fe0 125px,#fc0 129px,#fa0 132px,#f40 136px,#f00 139px,#f01"></i><i style="--g:#06f,#0af 6px,#0df 18px,#0ff 42px,#0fd 58px,#0fb 63px,#0f8 67px,#0f2 73px,#1f0 74px,#7f0 77px,#ff0 93px,#fe0 96px,#ff0 99px,#df0 101px,#8f0 104px,#6f0 107px,#8f0 110px,#ff0 114px,#ff0 116px,#fc0 125px,#f80 129px,#f00 134px,#f08"></i><i style="--g:#06f,#0af 6px,#0df 18px,#0ff 42px,#0fd 58px,#0fb 63px,#0f8 67px,#0f1 73px,#1f0 74px,#8f0 77px,#ff0 93px,#fe0 96px,#ff0 99px,#df0 101px,#8f0 104px,#6f0 107px,#8f0 110px,#ff0 114px,#ff0 126px,#fd0 130px,#f10 137px,#f01 138px,#f03"></i><i style="--g:#06f,#0af 6px,#0df 18px,#0ff 42px,#0fd 58px,#0fb 63px,#0f8 67px,#0f1 73px,#1f0 74px,#8f0 77px,#ff0 93px,#fe0 96px,#ff0 99px,#df0 101px,#7f0 104px,#4f0 107px,#7f0 110px,#ff0 114px,#ff0 125px,#fb0 129px,#f00 135px,#f08"></i><i style="--g:#06f,#0af 6px,#0df 18px,#0ff 42px,#0fd 58px,#0fb 63px,#0f8 67px,#0f2 73px,#0f0 74px,#7f0 77px,#8f0 78px,#ff0 93px,#fe0 96px,#ff0 99px,#df0 101px,#8f0 104px,#6f0 107px,#8f0 110px,#ff0 114px,#ff0 124px,#ff0 125px,#fb0 129px,#f00 135px,#f07"></i><i style="--g:#06f,#0af 6px,#0df 18px,#0ff 42px,#0fd 58px,#0fb 63px,#0f8 67px,#0f2 73px,#1f0 74px,#7f0 77px,#ff0 93px,#fe0 96px,#ff0 99px,#df0 101px,#8f0 104px,#6f0 107px,#8f0 110px,#ff0 114px,#ff0 115px,#fe0 120px,#fb0 125px,#f70 129px,#f00 133px,#f09"></i><i style="--g:#06f,#0af 6px,#0df 18px,#0ff 42px,#0fd 58px,#0fb 63px,#0f8 67px,#0f1 73px,#1f0 74px,#7f0 77px,#ff0 93px,#fe0 96px,#ff0 99px,#df0 101px,#6f0 104px,#3f0 107px,#6f0 110px,#ff0 114px,#ff0 115px,#fd0 120px,#fa0 125px,#f00 132px,#f06 136px,#f0a"></i><i style="--g:#06f,#0af 6px,#0df 18px,#0ff 42px,#0fd 58px,#0fb 63px,#0f8 67px,#0f5 71px,#0f0 74px,#6f0 77px,#8f0 78px,#df0 88px,#ff0 94px,#fe0 96px,#ff0 99px,#ef0 100px,#df0 101px,#6f0 104px,#2f0 107px,#6f0 110px,#ff0 114px,#ff0 129px,#f50 136px,#f00"></i><i style="--g:#06f,#0af 6px,#0df 18px,#0ff 42px,#0fd 58px,#0fb 63px,#0f8 67px,#0f5 71px,#0f0 74px,#8f0 78px,#ff0 93px,#fe0 96px,#ff0 99px,#df0 101px,#7f0 104px,#5f0 107px,#7f0 110px,#ff0 114px,#ff0 115px,#fe0 120px,#fc0 125px,#f70 129px,#f00 134px,#f08"></i><i style="--g:#06f,#0af 6px,#0df 18px,#0ff 42px,#0fd 58px,#0fb 63px,#0f8 67px,#0f5 71px,#0f0 74px,#6f0 77px,#8f0 78px,#ff0 93px,#fe0 96px,#ff0 99px,#df0 101px,#9f0 104px,#8f0 107px,#9f0 110px,#ff0 114px,#ff0 115px,#fd0 120px,#fb0 125px,#f10 132px,#f00 133px,#f05 136px,#f09"></i><i style="--g:#06f,#0af 6px,#0df 18px,#0ff 42px,#0fd 58px,#0fb 63px,#0f9 67px,#0f5 71px,#0f1 74px,#1f0 75px,#8f0 78px,#ff0 93px,#fe0 97px,#ff0 99px,#df0 101px,#9f0 104px,#8f0 107px,#9f0 110px,#ff0 114px,#ff0 118px,#ff0 122px,#fd0 126px,#fa0 129px,#f10 134px,#f01 135px,#f08"></i><i style="--g:#06f,#0af 6px,#0df 18px,#0ff 42px,#0fd 58px,#0fb 63px,#0f9 67px,#0f5 71px,#0f1 74px,#1f0 75px,#8f0 78px,#ff0 93px,#fe0 97px,#ff0 99px,#ef0 101px,#af0 104px,#af0 107px,#af0 110px,#ff0 114px,#ff0 116px,#fd0 122px,#fb0 125px,#f60 129px,#f00 132px,#f07 136px,#f0c"></i><i style="--g:#06f,#0af 6px,#0df 18px,#0ff 42px,#0fd 58px,#0fb 63px,#0f9 67px,#0f5 71px,#0f1 74px,#1f0 75px,#8f0 78px,#ff0 93px,#fe0 97px,#ff0 99px,#df0 101px,#8f0 104px,#6f0 107px,#8f0 110px,#ff0 114px,#ff0 116px,#fd0 125px,#fc0 127px,#fa0 129px,#f10 135px,#f01 136px,#f05"></i><i style="--g:#06f,#0af 6px,#0df 18px,#0ff 42px,#0fd 58px,#0fb 63px,#0f8 67px,#0f2 73px,#0f0 74px,#7f0 77px,#8f0 78px,#ff0 93px,#fe0 96px,#ff0 99px,#df0 101px,#8f0 104px,#7f0 107px,#8f0 110px,#ff0 114px,#ff0 115px,#fe0 120px,#fc0 125px,#f70 129px,#f10 133px,#f00 134px,#f08"></i><i style="--g:#06f,#0af 6px,#0df 18px,#0ff 42px,#0fd 58px,#0fb 63px,#0f8 67px,#0f1 73px,#1f0 74px,#8f0 77px,#df0 88px,#ff0 93px,#fe0 96px,#ff0 99px,#df0 101px,#8f0 104px,#5f0 107px,#8f0 110px,#ff0 114px,#ff0 130px,#fd0 133px,#f80 136px,#f40"></i><i style="--g:#06f,#0af 6px,#0df 18px,#0ff 42px,#0fd 58px,#0fb 63px,#0f8 67px,#0f1 73px,#8f0 77px,#df0 87px,#ff0 93px,#ff0 98px,#ef0 100px,#df0 101px,#6f0 104px,#2f0 107px,#6f0 110px,#ff0 114px,#ff0 126px,#fe0 129px,#fd0 131px,#f50 136px,#f10"></i><i style="--g:#06f,#0af 6px,#0df 18px,#0ff 42px,#0fd 58px,#0fb 63px,#0f8 67px,#0f1 73px,#1f0 74px,#8f0 77px,#ff0 93px,#fe0 96px,#ff0 98px,#ef0 100px,#df0 101px,#6f0 104px,#2f0 107px,#6f0 110px,#ff0 114px,#ff0 116px,#fd0 125px,#f90 129px,#f00 135px,#f06"></i><i style="--g:#06f,#0af 6px,#0df 18px,#0ff 42px,#0fd 58px,#0fb 63px,#0f8 67px,#0f4 71px,#0f0 74px,#7f0 77px,#8f0 78px,#ff0 93px,#fe0 96px,#ff0 99px,#df0 101px,#7f0 104px,#5f0 107px,#7f0 110px,#ff0 114px,#ff0 116px,#fc0 125px,#f80 129px,#f10 134px,#f01 135px,#f07"></i><i style="--g:#06f,#0af 6px,#0df 18px,#0ff 42px,#0fd 58px,#0fb 63px,#0f8 67px,#0f5 71px,#0f1 74px,#8f0 78px,#ff0 93px,#fe0 97px,#ff0 99px,#df0 101px,#8f0 104px,#5f0 107px,#8f0 110px,#ff0 114px,#ff0 118px,#fd0 125px,#fa0 129px,#f00 135px,#f06"></i><i style="--g:#06f,#0af 6px,#0df 18px,#0ff 42px,#0fd 58px,#0fb 63px,#0f9 67px,#0f5 71px,#0f1 74px,#1f0 75px,#8f0 78px,#ff0 94px,#fe0 97px,#ef0 100px,#df0 101px,#7f0 104px,#5f0 107px,#7f0 110px,#ff0 114px,#ff0 118px,#f90 125px,#f40 129px,#f00 131px,#f09 136px,#f0e"></i><i style="--g:#06f,#0af 6px,#0df 18px,#0ff 42px,#0fd 58px,#0fb 63px,#0f9 67px,#0f5 71px,#0f1 74px,#1f0 75px,#8f0 78px,#df0 89px,#ff0 94px,#fe0 97px,#ff0 99px,#ef0 100px,#df0 101px,#7f0 104px,#4f0 107px,#7f0 110px,#ff0 114px,#ff0 115px,#fd0 118px,#f00 126px,#f0e 133px,#f0f 134px,#f0f"></i><i style="--g:#06f,#0af 6px,#0df 18px,#0ff 42px,#0fd 58px,#0fb 63px,#0f8 67px,#0f5 71px,#0f0 74px,#8f0 78px,#df0 88px,#ff0 94px,#fe0 97px,#ff0 99px,#ef0 100px,#df0 101px,#7f0 104px,#4f0 107px,#7f0 110px,#ff0 114px,#ff0 115px,#fe0 118px,#fa0 125px,#f50 129px,#f00 132px,#f06 136px,#f0b"></i><i style="--g:#06f,#0af 6px,#0df 18px,#0ff 42px,#0fd 58px,#0fb 63px,#0f8 67px,#0f2 73px,#0f0 74px,#7f0 77px,#8f0 78px,#ff0 93px,#fe0 96px,#ff0 99px,#df0 101px,#8f0 104px,#5f0 107px,#8f0 110px,#ff0 114px,#ff0 125px,#fd0 129px,#f20 136px,#f00 138px,#f02"></i><i style="--g:#06f,#0af 6px,#0df 18px,#0ff 42px,#0fd 58px,#0fb 63px,#0f9 66px,#0f5 70px,#0f0 73px,#6f0 76px,#8f0 77px,#df0 87px,#ff0 93px,#fe0 96px,#ff0 99px,#df0 101px,#7f0 104px,#3f0 107px,#7f0 110px,#ff0 114px,#ff0 115px,#fd0 120px,#fa0 125px,#f00 132px,#f06 136px,#f0b"></i><i style="--g:#06f,#0af 6px,#0df 18px,#0ff 42px,#0fd 58px,#0fb 63px,#0f9 66px,#0f5 70px,#0f0 73px,#7f0 76px,#8f0 77px,#ff0 92px,#fe0 95px,#ff0 99px,#df0 101px,#8f0 104px,#5f0 107px,#8f0 110px,#ff0 114px,#ff0 117px,#fe0 125px,#fa0 129px,#f10 135px,#f01 136px,#f05"></i><i style="--g:#06f,#0af 6px,#0df 18px,#0ff 42px,#0fd 58px,#0fb 63px,#0f8 67px,#0f1 73px,#1f0 74px,#8f0 77px,#ff0 92px,#fe0 96px,#ff0 99px,#df0 101px,#9f0 104px,#7f0 107px,#9f0 110px,#ff0 114px,#ff0 115px,#fc0 125px,#f80 129px,#f00 134px,#f07"></i><i style="--g:#06f,#0af 6px,#0df 18px,#0ff 42px,#0fd 58px,#0fb 63px,#0f8 67px,#0f2 73px,#1f0 74px,#7f0 77px,#ff0 93px,#fe0 96px,#ff0 99px,#df0 101px,#9f0 104px,#8f0 107px,#9f0 110px,#ff0 114px,#ff0 121px,#ff0 125px,#fc0 129px,#f00 137px,#f03"></i><i style="--g:#06f,#0af 6px,#0df 18px,#0ff 42px,#0fd 58px,#0fb 63px,#0f8 67px,#0f2 73px,#0f0 74px,#7f0 77px,#8f0 78px,#ff0 93px,#fe0 96px,#ff0 99px,#df0 101px,#7f0 104px,#5f0 107px,#7f0 110px,#ff0 114px,#ff0 115px,#fc0 120px,#f90 125px,#f00 131px,#f07 136px,#f0c"></i><i style="--g:#06f,#0af 6px,#0df 18px,#0ff 42px,#0fd 58px,#0fb 63px,#0f8 67px,#0f4 71px,#0f0 74px,#7f0 77px,#8f0 78px,#df0 88px,#ff0 94px,#fe0 96px,#ff0 99px,#ef0 100px,#df0 101px,#6f0 104px,#3f0 107px,#6f0 110px,#ff0 114px,#ff0 115px,#fd0 120px,#fb0 125px,#f60 129px,#f00 133px,#f05 136px,#f09"></i><i style="--g:#06f,#0af 6px,#0df 18px,#0ff 42px,#0fd 58px,#0fb 63px,#0f8 67px,#0f2 73px,#0f0 74px,#7f0 77px,#8f0 78px,#df0 88px,#ff0 94px,#fe0 96px,#ff0 99px,#df0 101px,#7f0 104px,#4f0 107px,#7f0 110px,#ff0 114px,#ff0 123px,#ff0 125px,#fc0 130px,#f40 136px,#f01"></i><i style="--g:#06f,#0af 6px,#0df 18px,#0ff 42px,#0fd 58px,#0fb 63px,#0f8 67px,#0f2 73px,#0f0 74px,#7f0 77px,#ff0 93px,#fe0 96px,#ff0 99px,#df0 101px,#7f0 104px,#4f0 107px,#7f0 110px,#ff0 114px,#ff0 130px,#fd0 133px,#f90 136px,#f40"></i><i style="--g:#06f,#0af 6px,#0df 18px,#0ff 42px,#0fd 58px,#0fb 63px,#0f8 67px,#0f1 73px,#1f0 74px,#8f0 77px,#ff0 93px,#fe0 96px,#ff0 99px,#df0 101px,#6f0 104px,#2f0 107px,#6f0 110px,#ff0 114px,#ff0 118px,#fe0 125px,#fb0 129px,#f00 136px,#f04"></i><i style="--g:#06f,#0af 6px,#0df 18px,#0ff 42px,#0fd 58px,#0fb 63px,#0f8 67px,#0f2 73px,#1f0 74px,#7f0 77px,#ff0 93px,#fe0 96px,#ff0 99px,#df0 101px,#7f0 104px,#4f0 107px,#7f0 110px,#ff0 114px,#ff0 117px,#fe0 125px,#fc0 129px,#fa0 131px,#f20 136px,#f00 138px,#f02"></i><i style="--g:#06f,#0af 6px,#0df 18px,#0ff 42px,#0fd 58px,#0fb 63px,#0f8 67px,#0f2 73px,#1f0 74px,#7f0 77px,#ff0 93px,#fe0 96px,#ff0 99px,#df0 101px,#8f0 104px,#5f0 107px,#8f0 110px,#ff0 114px,#ff0 128px,#ff0 129px,#f40 136px,#f00"></i><i style="--g:#06f,#0af 6px,#0df 18px,#0ff 42px,#0fd 58px,#0fb 63px,#0f8 67px,#0f1 73px,#1f0 74px,#8f0 77px,#ff0 93px,#fe0 96px,#ff0 99px,#df0 101px,#7f0 104px,#4f0 107px,#7f0 110px,#ff0 114px,#ff0 115px,#fe0 120px,#fc0 125px,#f70 129px,#f10 133px,#f00 134px,#f08"></i><i style="--g:#06f,#0af 6px,#0df 18px,#0ff 42px,#0fd 58px,#0fb 63px,#0f8 67px,#0f1 73px,#1f0 74px,#8f0 77px,#ff0 93px,#fe0 96px,#ff0 99px,#df0 101px,#6f0 104px,#3f0 107px,#6f0 110px,#ff0 114px,#ff0 132px,#ff0 133px,#fa0 136px,#f60"></i><i style="--g:#06f,#0af 6px,#0df 18px,#0ff 42px,#0fd 58px,#0fb 63px,#0f8 67px,#0f1 73px,#1f0 74px,#7f0 77px,#ff0 93px,#fe0 96px,#ff0 99px,#df0 101px,#6f0 104px,#2f0 107px,#6f0 110px,#ff0 114px,#ff0 129px,#fd0 132px,#f80 136px,#f30"></i><i style="--g:#06f,#0af 6px,#0df 18px,#0ff 42px,#0fd 58px,#0fb 63px,#0f8 67px,#0f4 71px,#0f0 74px,#7f0 77px,#8f0 78px,#ff0 93px,#fe0 96px,#ff0 99px,#df0 101px,#7f0 104px,#4f0 107px,#7f0 110px,#ff0 114px,#ff0 116px,#fd0 125px,#fa0 129px,#f80 131px,#f10 136px,#f00 137px,#f04"></i><i style="--g:#06f,#0af 6px,#0df 18px,#0ff 42px,#0fd 58px,#0fb 63px,#0f8 67px,#0f5 71px,#0f0 74px,#8f0 78px,#ff0 93px,#fe0 96px,#ff0 99px,#df0 101px,#8f0 104px,#5f0 107px,#8f0 110px,#ff0 114px,#ff0 115px,#fd0 120px,#fb0 125px,#f00 133px,#f05 136px,#f09"></i><i style="--g:#06f,#0af 6px,#0df 18px,#0ff 42px,#0fd 58px,#0fb 63px,#0f8 67px,#0f5 71px,#0f0 74px,#8f0 78px,#ff0 93px,#fe0 96px,#ff0 99px,#df0 101px,#9f0 104px,#7f0 107px,#9f0 110px,#ff0 114px,#ff0 115px,#fc0 125px,#f80 129px,#f10 134px,#f07"></i><i style="--g:#06f,#0af 6px,#0df 18px,#0ff 42px,#0fd 58px,#0fb 63px,#0f8 67px,#0f5 71px,#0f1 74px,#8f0 78px,#ff0 93px,#fe0 96px,#ff0 99px,#df0 101px,#9f0 104px,#8f0 107px,#9f0 110px,#ff0 114px,#ff0 129px,#f50 136px,#f00"></i><i style="--g:#06f,#0af 6px,#0df 18px,#0ff 42px,#0fd 58px,#0fb 63px,#0f8 67px,#0f4 71px,#0f0 74px,#7f0 77px,#8f0 78px,#ff0 93px,#fe0 96px,#ff0 99px,#df0 101px,#9f0 104px,#7f0 107px,#9f0 110px,#ff0 114px,#ff0 116px,#fc0 125px,#f80 129px,#f00 134px,#f07"></i><i style="--g:#06f,#0af 6px,#0df 18px,#0ff 42px,#0fd 58px,#0fb 63px,#0f8 67px,#0f2 73px,#0f0 74px,#7f0 77px,#8f0 78px,#ff0 93px,#fe0 96px,#ff0 99px,#df0 101px,#7f0 104px,#4f0 107px,#7f0 110px,#ff0 114px,#ff0 131px,#fd0 134px,#f60"></i><i style="--g:#06f,#0af 6px,#0df 18px,#0ff 42px,#0fd 58px,#0fb 63px,#0f8 67px,#0f2 73px,#0f0 74px,#7f0 77px,#8f0 78px,#ff0 93px,#fe0 96px,#ff0 99px,#df0 101px,#8f0 104px,#6f0 107px,#8f0 110px,#ff0 114px,#ff0 127px,#fe0 130px,#f50 136px,#f00"></i><i style="--g:#06f,#0af 6px,#0df 18px,#0ff 42px,#0fd 58px,#0fb 63px,#0f8 67px,#0f1 73px,#1f0 74px,#8f0 77px,#ff0 93px,#fe0 96px,#ff0 99px,#df0 101px,#9f0 104px,#7f0 107px,#9f0 110px,#ff0 114px,#ff0 120px,#fe0 125px,#fd0 129px,#f30 136px,#f00 138px,#f02"></i><i style="--g:#06f,#0af 6px,#0df 18px,#0ff 42px,#0fd 58px,#0fb 63px,#0f8 67px,#0f1 73px,#1f0 74px,#8f0 77px,#ff0 93px,#fe0 96px,#ff0 99px,#df0 101px,#7f0 104px,#4f0 107px,#7f0 110px,#ff0 114px,#ff0 117px,#fe0 125px,#fa0 129px,#f10 135px,#f01 136px,#f05"></i><i style="--g:#06f,#0af 6px,#0df 18px,#0ff 42px,#0fd 58px,#0fb 63px,#0f8 67px,#0f1 73px,#8f0 77px,#df0 87px,#ff0 93px,#fe0 96px,#ff0 99px,#df0 101px,#6f0 104px,#3f0 107px,#6f0 110px,#ff0 114px,#ff0 115px,#fc0 120px,#f90 125px,#f00 131px,#f08 136px,#f0c"></i><i style="--g:#06f,#0af 6px,#0df 18px,#0ff 42px,#0fd 58px,#0fb 63px,#0f9 66px,#0f5 70px,#0f0 73px,#7f0 76px,#8f0 77px,#ff0 92px,#fe0 95px,#ff0 99px,#df0 101px,#9f0 104px,#8f0 107px,#9f0 110px,#ff0 114px,#ff0 115px,#fd0 120px,#fb0 125px,#f00 133px,#f05 136px,#f09"></i><i style="--g:#06f,#0af 6px,#0df 18px,#0ff 42px,#0fd 58px,#0fb 63px,#0f9 66px,#0f5 70px,#0f0 73px,#7f0 76px,#8f0 77px,#ff0 92px,#fe0 95px,#ff0 99px,#df0 101px,#9f0 104px,#8f0 107px,#9f0 110px,#ff0 114px,#ff0 115px,#fe0 120px,#fb0 125px,#f70 129px,#f10 133px,#f08"></i><i style="--g:#06f,#0af 6px,#0df 18px,#0ff 42px,#0fd 58px,#0fb 63px,#0f8 67px,#0f5 70px,#0f1 73px,#8f0 77px,#ff0 92px,#fe0 96px,#ff0 99px,#df0 101px,#9f0 104px,#7f0 107px,#9f0 110px,#ff0 114px,#ff0 115px,#fc0 120px,#f90 125px,#f00 131px,#f07 136px,#f0c"></i><i style="--g:#06f,#0af 6px,#0df 18px,#0ff 42px,#0fd 58px,#0fb 63px,#0f8 67px,#0f1 73px,#1f0 74px,#8f0 77px,#ff0 93px,#fe0 96px,#ff0 99px,#df0 101px,#9f0 104px,#9f0 107px,#9f0 110px,#ff0 114px,#ff0 126px,#fe0 129px,#f40 136px,#f00 139px,#f01"></i><i style="--g:#06f,#0af 6px,#0df 18px,#0ff 42px,#0fd 58px,#0fb 63px,#0f8 67px,#0f1 73px,#1f0 74px,#8f0 77px,#ff0 92px,#fe0 96px,#ff0 99px,#df0 101px,#9f0 104px,#8f0 107px,#9f0 110px,#ff0 114px,#ff0 115px,#fd0 120px,#fa0 125px,#f00 132px,#f06 136px,#f0a"></i><i style="--g:#06f,#0af 6px,#0df 18px,#0ff 42px,#0fd 58px,#0fb 63px,#0f8 67px,#0f1 73px,#1f0 74px,#7f0 77px,#ff0 93px,#fe0 96px,#ff0 99px,#af0 104px,#9f0 107px,#af0 110px,#ff0 114px,#ff0 116px,#fd0 125px,#fa0 129px,#fa0 130px,#f10 136px,#f04"></i><i style="--g:#06f,#0af 6px,#0df 18px,#0ff 42px,#0fd 58px,#0fb 63px,#0f9 66px,#0f5 70px,#0f0 73px,#7f0 76px,#8f0 77px,#df0 87px,#ff0 93px,#ff0 98px,#ef0 100px,#df0 101px,#6f0 104px,#2f0 107px,#6f0 110px,#ff0 114px,#ff0 120px,#fd0 127px,#fc0 129px,#f00 137px,#f03"></i><i style="--g:#06f,#0af 6px,#0df 18px,#0ff 42px,#0fd 58px,#0fb 63px,#0f9 66px,#0f5 70px,#0f0 73px,#7f0 76px,#8f0 77px,#df0 87px,#ff0 93px,#ff0 98px,#ef0 100px,#df0 101px,#6f0 104px,#2f0 107px,#6f0 110px,#ff0 114px,#ff0 123px,#fe0 126px,#fd0 129px,#f20 136px,#f00 138px,#f02"></i><i style="--g:#06f,#0af 6px,#0df 18px,#0ff 42px,#0fd 58px,#0fb 63px,#0f8 67px,#0f1 73px,#1f0 74px,#8f0 77px,#df0 88px,#ff0 93px,#fe0 96px,#ff0 99px,#df0 101px,#7f0 104px,#4f0 107px,#7f0 110px,#ff0 114px,#ff0 117px,#fe0 125px,#fc0 128px,#fb0 129px,#f10 136px,#f00 137px,#f04"></i><i style="--g:#06f,#0af 6px,#0df 18px,#0ff 42px,#0fd 58px,#0fb 63px,#0f8 67px,#0f2 73px,#1f0 74px,#7f0 77px,#ff0 93px,#fe0 96px,#ff0 99px,#df0 101px,#8f0 104px,#5f0 107px,#8f0 110px,#ff0 114px,#ff0 130px,#fd0 133px,#f80 136px,#f40"></i><i style="--g:#06f,#0af 6px,#0df 18px,#0ff 42px,#0fd 58px,#0fb 63px,#0f8 67px,#0f1 73px,#1f0 74px,#7f0 77px,#ff0 93px,#fe0 96px,#ff0 99px,#df0 101px,#8f0 104px,#6f0 107px,#8f0 110px,#ff0 114px,#ff0 121px,#ff0 125px,#fd0 129px,#f20 136px,#f00 138px,#f02"></i><i style="--g:#06f,#0af 6px,#0df 18px,#0ff 42px,#0fd 58px,#0fb 63px,#0f9 66px,#0f5 70px,#0f0 73px,#6f0 76px,#8f0 77px,#ff0 92px,#fe0 95px,#ff0 99px,#df0 101px,#8f0 104px,#6f0 107px,#8f0 110px,#ff0 114px,#ff0 116px,#fc0 125px,#f80 129px,#f10 134px,#f01 135px,#f07"></i><i style="--g:#06f,#0af 6px,#0df 18px,#0ff 42px,#0fd 58px,#0fb 63px,#0f8 67px,#0f5 70px,#0f0 73px,#8f0 77px,#ff0 92px,#fe0 96px,#ff0 99px,#df0 101px,#8f0 104px,#6f0 107px,#8f0 110px,#ff0 114px,#ff0 116px,#fc0 125px,#f80 129px,#f00 134px,#f07"></i><i style="--g:#06f,#0af 6px,#0df 18px,#0ff 42px,#0fd 58px,#0fb 63px,#0f8 67px,#0f1 73px,#2f0 74px,#8f0 77px,#ff0 92px,#fe0 96px,#ff0 99px,#df0 101px,#8f0 104px,#5f0 107px,#8f0 110px,#ff0 114px,#ff0 116px,#fe0 125px,#fa0 129px,#f10 135px,#f01 136px,#f05"></i><i style="--g:#06f,#0af 6px,#0df 18px,#0ff 42px,#0fd 58px,#0fb 63px,#0f8 67px,#0f1 73px,#1f0 74px,#8f0 77px,#ff0 93px,#fe0 96px,#ff0 99px,#df0 101px,#7f0 104px,#5f0 107px,#7f0 110px,#ff0 114px,#ff0 119px,#fe0 125px,#fb0 129px,#f00 136px,#f04"></i><i style="--g:#06f,#0af 6px,#0df 18px,#0ff 42px,#0fd 58px,#0fb 63px,#0f8 67px,#0f2 73px,#0f0 74px,#7f0 77px,#8f0 78px,#ff0 93px,#fe0 96px,#ff0 99px,#df0 101px,#9f0 104px,#8f0 107px,#9f0 110px,#ff0 114px,#ff0 115px,#fd0 120px,#fa0 125px,#f10 132px,#f00 133px,#f05 136px,#f09"></i><i style="--g:#06f,#0af 6px,#0df 18px,#0ff 42px,#0fd 58px,#0fb 63px,#0f8 67px,#0f5 70px,#0f0 74px,#7f0 77px,#ff0 93px,#fe0 96px,#ff0 99px,#df0 101px,#7f0 104px,#4f0 107px,#7f0 110px,#ff0 114px,#ff0 115px,#fc0 120px,#f80 125px,#f00 130px,#f09 136px,#f0d"></i><i style="--g:#06f,#0af 6px,#0df 18px,#0ff 42px,#0fd 58px,#0fb 63px,#0f8 67px,#0f1 73px,#1f0 74px,#8f0 77px,#ff0 92px,#fe0 96px,#ff0 99px,#df0 101px,#8f0 104px,#5f0 107px,#8f0 110px,#ff0 114px,#ff0 115px,#fb0 125px,#f70 129px,#f10 133px,#f01 134px,#f08"></i><i style="--g:#06f,#0af 6px,#0df 18px,#0ff 42px,#0fd 58px,#0fb 63px,#0f8 67px,#0f1 73px,#1f0 74px,#8f0 77px,#df0 88px,#ff0 93px,#fe0 96px,#ff0 99px,#df0 101px,#7f0 104px,#4f0 107px,#7f0 110px,#ff0 114px,#ff0 115px,#fe0 120px,#fb0 125px,#f70 129px,#f10 133px,#f01 134px,#f08"></i><i style="--g:#06f,#0af 6px,#0df 18px,#0ff 42px,#0fd 58px,#0fb 63px,#0f8 67px,#0f1 73px,#1f0 74px,#8f0 77px,#ff0 93px,#fe0 96px,#ff0 99px,#df0 101px,#7f0 104px,#4f0 107px,#7f0 110px,#ff0 114px,#ff0 129px,#ff0 130px,#f60 136px,#f10"></i><i style="--g:#06f,#0af 6px,#0df 18px,#0ff 42px,#0fd 58px,#0fb 63px,#0f8 67px,#0f2 73px,#0f0 74px,#7f0 77px,#8f0 78px,#ff0 93px,#fe0 96px,#ff0 99px,#df0 101px,#8f0 104px,#5f0 107px,#8f0 110px,#ff0 114px,#ff0 116px,#fd0 125px,#fb0 129px,#f00 137px,#f03"></i><i style="--g:#06f,#0af 6px,#0df 18px,#0ff 42px,#0fd 58px,#0fb 63px,#0f8 67px,#0f1 73px,#1f0 74px,#8f0 77px,#ff0 92px,#fe0 96px,#ff0 99px,#df0 101px,#9f0 104px,#7f0 107px,#9f0 110px,#ff0 114px,#ff0 116px,#fd0 125px,#fb0 129px,#f00 137px,#f03"></i><i style="--g:#06f,#0af 6px,#0df 18px,#0ff 42px,#0fd 58px,#0fb 63px,#0f8 67px,#0f2 73px,#1f0 74px,#7f0 77px,#ff0 93px,#fe0 96px,#ff0 99px,#df0 101px,#9f0 104px,#7f0 107px,#9f0 110px,#ff0 114px,#ff0 126px,#fe0 129px,#f30 136px,#f00 139px,#f01"></i><i style="--g:#06f,#0af 6px,#0df 18px,#0ff 42px,#0fd 58px,#0fb 63px,#0f8 67px,#0f4 71px,#0f0 74px,#7f0 77px,#8f0 78px,#ff0 93px,#fe0 96px,#ff0 99px,#df0 101px,#8f0 104px,#6f0 107px,#8f0 110px,#ff0 114px,#ff0 115px,#fe0 120px,#fc0 125px,#f80 129px,#f00 134px,#f07"></i><i style="--g:#06f,#0af 6px,#0df 18px,#0ff 42px,#0fd 58px,#0fb 63px,#0f8 67px,#0f5 71px,#0f0 74px,#6f0 77px,#8f0 78px,#df0 88px,#ff0 94px,#ff0 99px,#ef0 100px,#df0 101px,#7f0 104px,#4f0 107px,#7f0 110px,#ff0 114px,#ff0 121px,#ff0 125px,#fc0 129px,#f10 137px,#f03"></i><i style="--g:#06f,#0af 6px,#0df 18px,#0ff 42px,#0fd 58px,#0fb 63px,#0f8 67px,#0f4 71px,#0f0 74px,#7f0 77px,#8f0 78px,#ff0 93px,#fe0 96px,#ff0 99px,#df0 101px,#7f0 104px,#5f0 107px,#7f0 110px,#ff0 114px,#ff0 125px,#fe0 129px,#f30 136px,#f00 139px,#f01"></i><i style="--g:#06f,#0af 6px,#0df 18px,#0ff 42px,#0fd 58px,#0fb 63px,#0f8 67px,#0f2 73px,#1f0 74px,#7f0 77px,#ff0 93px,#fe0 96px,#ff0 99px,#df0 101px,#9f0 104px,#7f0 107px,#9f0 110px,#ff0 114px,#ff0 115px,#fe0 120px,#fc0 125px,#f70 129px,#f10 133px,#f00 134px,#f08"></i><i style="--g:#06f,#0af 6px,#0df 18px,#0ff 42px,#0fd 58px,#0fb 63px,#0f8 67px,#0f1 73px,#1f0 74px,#8f0 77px,#ff0 92px,#fe0 96px,#ff0 99px,#df0 101px,#8f0 104px,#5f0 107px,#8f0 110px,#ff0 114px,#ff0 115px,#fc0 125px,#f80 129px,#f00 134px,#f07"></i><i style="--g:#06f,#0af 6px,#0df 18px,#0ff 42px,#0fd 58px,#0fb 63px,#0f8 67px,#0f2 73px,#0f0 74px,#7f0 77px,#8f0 78px,#df0 88px,#ff0 94px,#fe0 96px,#ff0 99px,#df0 101px,#6f0 104px,#3f0 107px,#6f0 110px,#ff0 114px,#ff0 129px,#fe0 130px,#f50 136px,#f10"></i><i style="--g:#06f,#0af 6px,#0df 18px,#0ff 42px,#0fd 58px,#0fb 63px,#0f8 67px,#0f4 71px,#0f0 74px,#7f0 77px,#8f0 78px,#df0 88px,#ff0 94px,#fe0 96px,#ff0 99px,#ef0 100px,#df0 101px,#6f0 104px,#2f0 107px,#6f0 110px,#ff0 114px,#ff0 116px,#fc0 125px,#f80 129px,#f10 134px,#f07"></i><i style="--g:#06f,#0af 6px,#0df 18px,#0ff 42px,#0fd 58px,#0fb 63px,#0f8 67px,#0f4 71px,#0f0 74px,#7f0 77px,#8f0 78px,#ff0 93px,#fe0 96px,#ff0 99px,#df0 101px,#7f0 104px,#5f0 107px,#7f0 110px,#ff0 114px,#ff0 116px,#fc0 125px,#f80 129px,#f00 134px,#f07"></i><i style="--g:#06f,#0af 6px,#0df 18px,#0ff 42px,#0fd 58px,#0fb 63px,#0f8 67px,#0f2 73px,#1f0 74px,#7f0 77px,#ff0 93px,#fe0 96px,#ff0 99px,#df0 101px,#6f0 104px,#3f0 107px,#6f0 110px,#ff0 114px,#ff0 115px,#fc0 120px,#f70 125px,#f10 129px,#f01 130px,#f0a 136px,#f0e"></i><i style="--g:#06f,#0af 6px,#0df 18px,#0ff 42px,#0fd 58px,#0fb 63px,#0f8 67px,#0f1 73px,#2f0 74px,#8f0 77px,#ff0 92px,#fe0 96px,#ff0 99px,#df0 101px,#9f0 104px,#8f0 107px,#9f0 110px,#ff0 114px,#ff0 115px,#fd0 125px,#f90 130px,#f00 136px,#f04"></i><i style="--g:#06f,#0af 6px,#0df 18px,#0ff 42px,#0fd 58px,#0fb 63px,#0f8 67px,#0f1 73px,#1f0 74px,#8f0 77px,#ff0 92px,#fe0 96px,#ff0 99px,#df0 101px,#7f0 104px,#5f0 107px,#7f0 110px,#ff0 114px,#ff0 129px,#fd0 132px,#f70 136px,#f30"></i><i style="--g:#06f,#0af 6px,#0df 18px,#0ff 42px,#0fd 58px,#0fb 63px,#0f8 67px,#0f5 70px,#0f0 73px,#8f0 77px,#ff0 92px,#fe0 96px,#ff0 99px,#df0 101px,#8f0 104px,#5f0 107px,#8f0 110px,#ff0 114px,#ff0 119px,#fe0 125px,#fa0 129px,#f00 136px,#f05"></i><i style="--g:#06f,#0af 6px,#0df 18px,#0ff 42px,#0fd 58px,#0fb 63px,#0f9 66px,#0f5 70px,#0f0 73px,#7f0 76px,#8f0 77px,#ff0 92px,#fe0 95px,#ff0 99px,#df0 101px,#9f0 104px,#8f0 107px,#9f0 110px,#ff0 114px,#ff0 115px,#fc0 120px,#f80 125px,#f00 131px,#f08 136px,#f0c"></i><i style="--g:#06f,#0af 6px,#0df 18px,#0ff 42px,#0fd 58px,#0fb 63px,#0f8 67px,#0f5 70px,#0f0 73px,#8f0 77px,#df0 87px,#ff0 93px,#fe0 96px,#ff0 99px,#df0 101px,#7f0 104px,#4f0 107px,#7f0 110px,#ff0 114px,#ff0 115px,#fc0 120px,#f90 125px,#f00 131px,#f07 136px,#f0c"></i><i style="--g:#06f,#0af 6px,#0df 18px,#0ff 42px,#0fd 58px,#0fb 63px,#0f8 67px,#0f1 73px,#1f0 74px,#8f0 77px,#ff0 92px,#fe0 96px,#ff0 99px,#df0 101px,#8f0 104px,#5f0 107px,#8f0 110px,#ff0 114px,#ff0 115px,#fd0 120px,#fb0 125px,#f00 133px,#f05 136px,#f09"></i><i style="--g:#06f,#0af 6px,#0df 18px,#0ff 42px,#0fd 58px,#0fb 63px,#0f8 67px,#0f2 73px,#0f0 74px,#7f0 77px,#8f0 78px,#ff0 93px,#fe0 96px,#ff0 99px,#df0 101px,#8f0 104px,#5f0 107px,#8f0 110px,#ff0 114px,#ff0 115px,#fc0 120px,#f80 125px,#f10 130px,#f01 131px,#f08 136px,#f0d"></i><i style="--g:#06f,#0af 6px,#0df 18px,#0ff 42px,#0fd 58px,#0fb 63px,#0f9 67px,#0f5 71px,#0f1 74px,#1f0 75px,#8f0 78px,#ff0 93px,#fe0 97px,#ff0 99px,#df0 101px,#8f0 104px,#6f0 107px,#8f0 110px,#ff0 114px,#ff0 115px,#fc0 125px,#fa0 129px,#f10 135px,#f00 136px,#f05"></i><i style="--g:#06f,#0af 6px,#0df 18px,#0ff 42px,#0fd 58px,#0fb 63px,#0f8 67px,#0f4 71px,#0f0 74px,#7f0 77px,#8f0 78px,#df0 88px,#ff0 94px,#fe0 96px,#ff0 99px,#ef0 100px,#df0 101px,#7f0 104px,#3f0 107px,#7f0 110px,#ff0 114px,#ff0 120px,#fe0 125px,#fc0 129px,#fc0 130px,#f30 136px,#f00 138px,#f02"></i><i style="--g:#06f,#0af 6px,#0df 18px,#0ff 42px,#0fd 58px,#0fb 63px,#0f8 67px,#0f1 73px,#1f0 74px,#8f0 77px,#ff0 93px,#fe0 96px,#ff0 99px,#df0 101px,#7f0 104px,#4f0 107px,#7f0 110px,#ff0 114px,#ff0 116px,#fc0 125px,#f80 129px,#f10 134px,#f07"></i><i style="--g:#06f,#0af 6px,#0df 18px,#0ff 42px,#0fd 58px,#0fb 63px,#0f8 67px,#0f2 73px,#1f0 74px,#7f0 77px,#df0 88px,#ff0 94px,#fe0 96px,#ff0 99px,#df0 101px,#7f0 104px,#3f0 107px,#7f0 110px,#ff0 114px,#ff0 115px,#fe0 120px,#fc0 125px,#f70 129px,#f00 134px,#f08"></i><i style="--g:#06f,#0af 6px,#0df 18px,#0ff 42px,#0fd 58px,#0fb 63px,#0f8 67px,#0f2 73px,#0f0 74px,#7f0 77px,#8f0 78px,#ff0 93px,#fe0 96px,#ff0 99px,#df0 101px,#7f0 104px,#5f0 107px,#7f0 110px,#ff0 114px,#ff0 122px,#ff0 125px,#fd0 129px,#f20 136px,#f00 138px,#f02"></i><i style="--g:#06f,#0af 6px,#0df 18px,#0ff 42px,#0fd 58px,#0fb 63px,#0f8 67px,#0f2 73px,#0f0 74px,#7f0 77px,#8f0 78px,#df0 88px,#ff0 94px,#fe0 96px,#ff0 99px,#df0 101px,#7f0 104px,#4f0 107px,#7f0 110px,#ff0 114px,#ff0 116px,#fe0 125px,#fc0 128px,#fb0 129px,#f10 136px,#f04"></i><i style="--g:#06f,#0af 6px,#0df 18px,#0ff 42px,#0fd 58px,#0fb 63px,#0f8 67px,#0f2 73px,#0f0 74px,#7f0 77px,#8f0 78px,#df0 88px,#ff0 94px,#fe0 96px,#ff0 99px,#ef0 100px,#df0 101px,#6f0 104px,#2f0 107px,#6f0 110px,#ff0 114px,#ff0 124px,#ff0 125px,#fc0 129px,#f00 137px,#f03"></i><i style="--g:#06f,#0af 6px,#0df 18px,#0ff 42px,#0fd 58px,#0fb 63px,#0f8 67px,#0f4 71px,#0f0 74px,#7f0 77px,#8f0 78px,#df0 88px,#ff0 94px,#fe0 96px,#ff0 99px,#ef0 100px,#df0 101px,#6f0 104px,#3f0 107px,#6f0 110px,#ff0 114px,#ff0 115px,#fd0 120px,#fa0 125px,#f00 132px,#f06 136px,#f0b"></i><i style="--g:#06f,#0af 6px,#0df 18px,#0ff 42px,#0fd 58px,#0fb 63px,#0f8 67px,#0f5 71px,#0f1 74px,#2f0 75px,#8f0 78px,#ff0 93px,#fe0 97px,#ff0 99px,#df0 101px,#9f0 104px,#8f0 107px,#9f0 110px,#ff0 114px,#ff0 115px,#fb0 120px,#f50 125px,#f00 128px,#f0c 136px,#f0e 138px,#f0f"></i><i style="--g:#06f,#0af 6px,#0df 18px,#0ff 42px,#0fd 58px,#0fb 63px,#0f9 67px,#0f5 71px,#0f1 74px,#1f0 75px,#8f0 78px,#ff0 93px,#fe0 97px,#ff0 99px,#df0 101px,#8f0 104px,#5f0 107px,#8f0 110px,#ff0 114px,#ff0 115px,#fc0 120px,#f80 125px,#f10 130px,#f01 131px,#f08 136px,#f0d"></i><i style="--g:#06f,#0af 6px,#0df 18px,#0ff 42px,#0fd 58px,#0fb 63px,#0f8 67px,#0f1 73px,#1f0 74px,#7f0 77px,#ff0 92px,#fe0 96px,#ff0 99px,#df0 101px,#7f0 104px,#5f0 107px,#7f0 110px,#ff0 114px,#ff0 115px,#fd0 120px,#fa0 125px,#f00 132px,#f06 136px,#f0a"></i><i style="--g:#06f,#0af 6px,#0df 18px,#0ff 42px,#0fd 58px,#0fb 63px,#0f9 66px,#0f5 70px,#0f0 73px,#7f0 76px,#8f0 77px,#ff0 92px,#fe0 95px,#ff0 99px,#df0 101px,#7f0 104px,#5f0 107px,#7f0 110px,#ff0 114px,#ff0 129px,#fd0 131px,#f50 136px,#f01"></i><i style="--g:#06f,#0af 6px,#0df 18px,#0ff 42px,#0fd 58px,#0fb 63px,#0f8 67px,#0f1 73px,#1f0 74px,#8f0 77px,#ff0 92px,#fe0 96px,#ff0 99px,#df0 101px,#9f0 104px,#8f0 107px,#9f0 110px,#ff0 114px,#ff0 120px,#fd0 125px,#fa0 129px,#f00 134px,#f0a"></i><i style="--g:#06f,#0af 6px,#0df 18px,#0ff 42px,#0fd 58px,#0fb 63px,#0f8 67px,#0f1 73px,#1f0 74px,#8f0 77px,#ff0 92px,#fe0 96px,#ff0 99px,#df0 101px,#af0 104px,#9f0 107px,#af0 110px,#ff0 114px,#ff0 116px,#fe0 120px,#fc0 125px,#f80 129px,#f10 133px,#f01 134px,#f09"></i><i style="--g:#06f,#0af 6px,#0df 18px,#0ff 42px,#0fd 58px,#0fb 63px,#0f8 67px,#0f2 73px,#0f0 74px,#7f0 77px,#ff0 93px,#fe0 96px,#ff0 99px,#df0 101px,#8f0 104px,#7f0 107px,#8f0 110px,#ff0 114px,#ff0 116px,#fd0 125px,#f80 129px,#f10 134px,#f01 135px,#f07"></i><i style="--g:#06f,#0af 6px,#0df 18px,#0ff 42px,#0fd 58px,#0fb 63px,#0f8 67px,#0f2 73px,#0f0 74px,#7f0 77px,#ff0 93px,#fe0 96px,#ff0 99px,#df0 101px,#7f0 104px,#5f0 107px,#7f0 110px,#ff0 114px,#ff0 115px,#fd0 120px,#fa0 125px,#f00 132px,#f0a"></i><i style="--g:#06f,#0af 6px,#0df 18px,#0ff 42px,#0fd 58px,#0fb 63px,#0f8 67px,#0f5 71px,#0f1 74px,#8f0 78px,#ff0 93px,#fe0 96px,#ff0 99px,#df0 101px,#8f0 104px,#5f0 107px,#8f0 110px,#ff0 114px,#ff0 115px,#fe0 120px,#fb0 125px,#f70 129px,#f10 133px,#f01 134px,#f08"></i><i style="--g:#06f,#0af 6px,#0df 18px,#0ff 42px,#0fd 58px,#0fb 63px,#0f9 67px,#0f5 71px,#0f1 74px,#1f0 75px,#8f0 78px,#ff0 93px,#fe0 97px,#ff0 99px,#ef0 101px,#9f0 104px,#9f0 107px,#9f0 110px,#ff0 114px,#ff0 115px,#fc0 120px,#f80 125px,#f00 130px,#f09 136px,#f0d"></i><i style="--g:#06f,#0af 6px,#0df 18px,#0ff 42px,#0fd 58px,#0fb 63px,#0f9 67px,#0f5 71px,#0f1 74px,#1f0 75px,#8f0 78px,#ff0 93px,#fe0 97px,#ff0 99px,#df0 101px,#9f0 104px,#8f0 107px,#9f0 110px,#ff0 114px,#ff0 115px,#fd0 120px,#f90 125px,#f00 132px,#f06 136px,#f0b"></i><i style="--g:#06f,#0af 6px,#0df 18px,#0ff 42px,#0fd 58px,#0fb 63px,#0f8 67px,#0f5 70px,#1f0 74px,#7f0 77px,#8f0 78px,#ff0 93px,#fe0 96px,#ff0 99px,#df0 101px,#9f0 104px,#7f0 107px,#9f0 110px,#ff0 114px,#ff0 115px,#fb0 120px,#f60 125px,#f00 129px,#f0a 136px,#f0f"></i><i style="--g:#06f,#0af 6px,#0df 18px,#0ff 42px,#0fd 58px,#0fb 63px,#0f9 66px,#0f5 70px,#0f1 73px,#2f0 74px,#8f0 77px,#ff0 92px,#fe0 96px,#ff0 99px,#df0 101px,#8f0 104px,#5f0 107px,#8f0 110px,#ff0 114px,#ff0 115px,#fb0 120px,#f60 125px,#f10 128px,#f01 129px,#f0b 136px,#f0f 139px,#f0f"></i><i style="--g:#06f,#0af 6px,#0df 18px,#0ff 42px,#0fd 58px,#0fb 63px,#0f9 66px,#0f5 70px,#0f1 73px,#2f0 74px,#8f0 77px,#df0 87px,#ff0 93px,#fe0 96px,#ff0 99px,#df0 101px,#7f0 104px,#4f0 107px,#7f0 110px,#ff0 114px,#ff0 115px,#fc0 120px,#f70 125px,#f10 129px,#f01 130px,#f0a 136px,#f0e"></i><i style="--g:#06f,#0af 6px,#0df 18px,#0ff 42px,#0fd 58px,#0fb 63px,#0f8 67px,#0f1 73px,#1f0 74px,#7f0 77px,#ff0 93px,#fe0 96px,#ff0 99px,#df0 101px,#7f0 104px,#3f0 107px,#7f0 110px,#ff0 114px,#ff0 116px,#fd0 125px,#f90 129px,#f00 135px,#f06"></i><i style="--g:#06f,#0af 6px,#0df 18px,#0ff 42px,#0fd 58px,#0fb 63px,#0f8 67px,#0f2 73px,#0f0 74px,#7f0 77px,#8f0 78px,#ff0 93px,#fe0 96px,#ff0 99px,#df0 101px,#8f0 104px,#6f0 107px,#8f0 110px,#ff0 114px,#ff0 122px,#ff0 125px,#fd0 129px,#f30 136px,#f10 138px,#f02"></i><i style="--g:#06f,#0af 6px,#0df 18px,#0ff 42px,#0fd 58px,#0fb 63px,#0f8 67px,#0f2 73px,#1f0 74px,#7f0 77px,#ff0 93px,#fe0 96px,#ff0 99px,#df0 101px,#9f0 104px,#8f0 107px,#9f0 110px,#ff0 114px,#ff0 115px,#fd0 125px,#fb0 128px,#f10 135px,#f01 136px,#f05"></i><i style="--g:#06f,#0af 6px,#0df 18px,#0ff 42px,#0fd 58px,#0fb 63px,#0f8 67px,#0f1 73px,#2f0 74px,#8f0 77px,#ff0 92px,#fe0 96px,#ff0 99px,#df0 101px,#9f0 104px,#7f0 107px,#9f0 110px,#ff0 114px,#ff0 129px,#fe0 130px,#f50 136px,#f10"></i><i style="--g:#06f,#0af 6px,#0df 18px,#0ff 42px,#0fd 58px,#0fb 63px,#0f9 66px,#0f5 70px,#0f0 73px,#7f0 76px,#8f0 77px,#ff0 92px,#fe0 95px,#ff0 99px,#df0 101px,#9f0 104px,#8f0 107px,#9f0 110px,#ff0 114px,#ff0 125px,#fd0 129px,#f20 136px,#f00 138px,#f02"></i><i style="--g:#06f,#0af 6px,#0df 18px,#0ff 42px,#0fd 58px,#0fb 63px,#0f8 67px,#0f1 73px,#8f0 77px,#ff0 92px,#fe0 96px,#ff0 99px,#df0 101px,#9f0 104px,#7f0 107px,#9f0 110px,#ff0 114px,#ff0 118px,#fe0 125px,#fb0 129px,#f00 136px,#f04"></i><i style="--g:#06f,#0af 6px,#0df 18px,#0ff 42px,#0fd 58px,#0fb 63px,#0f8 67px,#0f1 73px,#1f0 74px,#8f0 77px,#ff0 92px,#fe0 96px,#ff0 99px,#df0 101px,#8f0 104px,#6f0 107px,#8f0 110px,#ff0 114px,#ff0 116px,#fd0 125px,#fb0 129px,#f10 136px,#f00 137px,#f04"></i><i style="--g:#06f,#0af 6px,#0df 18px,#0ff 42px,#0fd 58px,#0fb 63px,#0f8 67px,#0f4 71px,#0f0 74px,#7f0 77px,#8f0 78px,#df0 88px,#ff0 94px,#fe0 96px,#ff0 99px,#ef0 100px,#df0 101px,#7f0 104px,#3f0 107px,#7f0 110px,#ff0 114px,#ff0 115px,#fe0 120px,#fc0 125px,#f80 129px,#f00 134px,#f07"></i><i style="--g:#06f,#0af 6px,#0df 18px,#0ff 42px,#0fd 58px,#0fb 63px,#0f8 67px,#0f5 71px,#0f1 74px,#8f0 78px,#ff0 93px,#fe0 97px,#ff0 99px,#df0 101px,#8f0 104px,#6f0 107px,#8f0 110px,#ff0 114px,#ff0 115px,#fc0 120px,#f90 125px,#f00 131px,#f07 136px,#f0c"></i><i style="--g:#06f,#0af 6px,#0df 18px,#0ff 42px,#0fd 58px,#0fb 63px,#0f8 67px,#0f5 71px,#0f0 74px,#6f0 77px,#8f0 78px,#ff0 93px,#fe0 96px,#ff0 99px,#df0 101px,#af0 104px,#9f0 107px,#af0 110px,#ff0 114px,#ff0 115px,#fc0 120px,#f80 125px,#f10 130px,#f01 131px,#f08 136px,#f0d"></i><i style="--g:#06f,#0af 6px,#0df 18px,#0ff 42px,#0fd 58px,#0fb 63px,#0f8 67px,#0f5 71px,#0f1 74px,#8f0 78px,#ff0 93px,#fe0 97px,#ff0 99px,#df0 101px,#8f0 104px,#7f0 107px,#8f0 110px,#ff0 114px,#ff0 121px,#ff0 125px,#fb0 129px,#f10 136px,#f00 137px,#f04"></i><i style="--g:#06f,#0af 6px,#0df 18px,#0ff 42px,#0fd 58px,#0fb 63px,#0f9 67px,#0f5 71px,#0f1 74px,#1f0 75px,#8f0 78px,#ff0 93px,#fe0 97px,#ff0 99px,#df0 101px,#8f0 104px,#6f0 107px,#8f0 110px,#ff0 114px,#ff0 122px,#ff0 125px,#fb0 129px,#f10 136px,#f00 137px,#f04"></i><i style="--g:#06f,#0af 6px,#0df 18px,#0ff 42px,#0fd 58px,#0fb 63px,#0f9 67px,#0f5 71px,#0f1 74px,#1f0 75px,#8f0 78px,#ff0 93px,#fe0 97px,#ff0 99px,#df0 101px,#8f0 104px,#6f0 107px,#8f0 110px,#ff0 114px,#ff0 115px,#fc0 120px,#f90 125px,#f00 131px,#f07 136px,#f0c"></i><i style="--g:#06f,#0af 6px,#0df 18px,#0ff 42px,#0fd 58px,#0fb 63px,#0f8 67px,#0f5 71px,#0f1 74px,#8f0 78px,#df0 88px,#ff0 94px,#fe0 97px,#ff0 99px,#ef0 100px,#df0 101px,#7f0 104px,#4f0 107px,#7f0 110px,#ff0 114px,#ff0 115px,#fd0 120px,#fa0 125px,#f10 132px,#f0a"></i><i style="--g:#06f,#0af 6px,#0df 18px,#0ff 42px,#0fd 58px,#0fb 63px,#0f8 67px,#0f2 73px,#0f0 74px,#7f0 77px,#8f0 78px,#df0 88px,#ff0 94px,#fe0 96px,#ff0 99px,#df0 101px,#7f0 104px,#4f0 107px,#7f0 110px,#ff0 114px,#ff0 125px,#fc0 131px,#f50 136px,#f00"></i><i style="--g:#06f,#0af 6px,#0df 18px,#0ff 42px,#0fd 58px,#0fb 63px,#0f8 67px,#0f2 73px,#0f0 74px,#7f0 77px,#8f0 78px,#ff0 93px,#fe0 96px,#ff0 99px,#df0 101px,#8f0 104px,#5f0 107px,#8f0 110px,#ff0 114px,#ff0 115px,#fd0 120px,#fa0 125px,#f00 132px,#f06 136px,#f0b"></i><i style="--g:#06f,#0af 6px,#0df 18px,#0ff 42px,#0fd 58px,#0fb 63px,#0f8 67px,#0f2 73px,#1f0 74px,#7f0 77px,#ff0 93px,#fe0 96px,#ff0 99px,#df0 101px,#8f0 104px,#6f0 107px,#8f0 110px,#ff0 114px,#ff0 117px,#fd0 125px,#f90 129px,#f00 135px,#f06"></i><i style="--g:#06f,#0af 6px,#0df 18px,#0ff 42px,#0fd 58px,#0fb 63px,#0f8 67px,#0f2 73px,#1f0 74px,#7f0 77px,#ff0 93px,#fe0 96px,#ff0 99px,#df0 101px,#8f0 104px,#6f0 107px,#8f0 110px,#ff0 114px,#ff0 130px,#fe0 132px,#f80 136px,#f30"></i><i style="--g:#06f,#0af 6px,#0df 18px,#0ff 42px,#0fd 58px,#0fb 63px,#0f8 67px,#0f2 73px,#1f0 74px,#7f0 77px,#ff0 93px,#fe0 96px,#ff0 99px,#df0 101px,#8f0 104px,#6f0 107px,#8f0 110px,#ff0 114px,#ff0 120px,#fe0 125px,#fb0 129px,#f00 136px,#f04"></i><i style="--g:#06f,#0af 6px,#0df 18px,#0ff 42px,#0fd 58px,#0fb 63px,#0f8 67px,#0f1 73px,#1f0 74px,#8f0 77px,#ff0 93px,#fe0 96px,#ff0 99px,#df0 101px,#9f0 104px,#7f0 107px,#9f0 110px,#ff0 114px,#ff0 128px,#fe0 130px,#f50 136px,#f10"></i><i style="--g:#06f,#0af 6px,#0df 18px,#0ff 42px,#0fd 58px,#0fb 63px,#0f8 67px,#0f1 73px,#1f0 74px,#8f0 77px,#ff0 92px,#fe0 96px,#ff0 99px,#df0 101px,#9f0 104px,#8f0 107px,#9f0 110px,#ff0 114px,#ff0 115px,#fd0 120px,#fa0 125px,#f10 132px,#f01 133px,#f05 136px,#f0a"></i><i style="--g:#06f,#0af 6px,#0df 18px,#0ff 42px,#0fd 58px,#0fb 63px,#0f8 67px,#0f1 73px,#8f0 77px,#ff0 92px,#fe0 96px,#ff0 99px,#df0 101px,#8f0 104px,#7f0 107px,#8f0 110px,#ff0 114px,#ff0 127px,#fe0 129px,#f30 136px,#f00 139px,#f01"></i><i style="--g:#06f,#0af 6px,#0df 18px,#0ff 42px,#0fd 58px,#0fb 63px,#0f9 66px,#0f5 70px,#0f0 73px,#7f0 76px,#8f0 77px,#ff0 92px,#fe0 95px,#ff0 99px,#df0 101px,#8f0 104px,#5f0 107px,#8f0 110px,#ff0 114px,#ff0 129px,#ff0 130px,#f60 136px,#f10"></i><i style="--g:#06f,#0af 6px,#0df 18px,#0ff 42px,#0fd 58px,#0fb 63px,#0f9 66px,#0f5 70px,#0f0 73px,#7f0 76px,#8f0 77px,#ff0 92px,#fe0 95px,#ff0 99px,#df0 101px,#7f0 104px,#5f0 107px,#7f0 110px,#ff0 114px,#ff0 127px,#fe0 129px,#f40 136px,#f00"></i><i style="--g:#06f,#0af 6px,#0df 18px,#0ff 42px,#0fd 58px,#0fb 63px,#0f8 67px,#0f1 73px,#1f0 74px,#8f0 77px,#ff0 92px,#fe0 96px,#ff0 99px,#df0 101px,#8f0 104px,#6f0 107px,#8f0 110px,#ff0 114px,#ff0 116px,#fd0 125px,#f90 129px,#f00 135px,#f06"></i><i style="--g:#06f,#0af 6px,#0df 18px,#0ff 42px,#0fd 58px,#0fb 63px,#0f8 67px,#0f1 73px,#1f0 74px,#8f0 77px,#ff0 93px,#fe0 96px,#ff0 99px,#df0 101px,#9f0 104px,#7f0 107px,#9f0 110px,#ff0 114px,#ff0 128px,#ff0 129px,#fc0 132px,#f60 136px,#f20"></i><i style="--g:#06f,#0af 6px,#0df 18px,#0ff 42px,#0fd 58px,#0fb 63px,#0f8 67px,#0f1 73px,#1f0 74px,#8f0 77px,#ff0 93px,#fe0 96px,#ff0 99px,#df0 101px,#7f0 104px,#4f0 107px,#7f0 110px,#ff0 114px,#ff0 130px,#fe0 131px,#f70 136px,#f20"></i><i style="--g:#06f,#0af 6px,#0df 18px,#0ff 42px,#0fd 58px,#0fb 63px,#0f8 67px,#0f1 73px,#1f0 74px,#8f0 77px,#ff0 93px,#fe0 96px,#ff0 99px,#df0 101px,#9f0 104px,#7f0 107px,#9f0 110px,#ff0 114px,#ff0 130px,#fe0 132px,#f80 136px,#f30"></i><i style="--g:#06f,#0af 6px,#0df 18px,#0ff 42px,#0fd 58px,#0fb 63px,#0f8 67px,#0f2 73px,#1f0 74px,#7f0 77px,#ff0 93px,#fe0 96px,#ff0 99px,#df0 101px,#8f0 104px,#5f0 107px,#8f0 110px,#ff0 114px,#ff0 120px,#fe0 125px,#fd0 128px,#fc0 129px,#f00 137px,#f03"></i><i style="--g:#06f,#0af 6px,#0df 18px,#0ff 42px,#0fd 58px,#0fb 63px,#0f8 67px,#0f2 73px,#0f0 74px,#7f0 77px,#8f0 78px,#df0 88px,#ff0 94px,#fe0 96px,#ff0 99px,#df0 101px,#7f0 104px,#3f0 107px,#7f0 110px,#ff0 114px,#ff0 116px,#fd0 125px,#fb0 129px,#f00 137px,#f03"></i><i style="--g:#06f,#0af 6px,#0df 18px,#0ff 42px,#0fd 58px,#0fb 63px,#0f8 67px,#0f4 71px,#0f0 74px,#7f0 77px,#8f0 78px,#ff0 93px,#fe0 96px,#ff0 99px,#df0 101px,#8f0 104px,#6f0 107px,#8f0 110px,#ff0 114px,#ff0 117px,#fd0 125px,#fa0 129px,#f10 135px,#f01 136px,#f05"></i><i style="--g:#06f,#0af 6px,#0df 18px,#0ff 42px,#0fd 58px,#0fb 63px,#0f8 67px,#0f5 71px,#0f1 74px,#8f0 78px,#ff0 93px,#fe0 97px,#ff0 99px,#df0 101px,#8f0 104px,#5f0 107px,#8f0 110px,#ff0 114px,#ff0 117px,#ff0 120px,#fd0 125px,#f80 129px,#f00 134px,#f08"></i><i style="--g:#06f,#0af 6px,#0df 18px,#0ff 42px,#0fd 58px,#0fb 63px,#0f9 67px,#0f5 71px,#0f1 74px,#1f0 75px,#8f0 78px,#ff0 93px,#fe0 97px,#ff0 99px,#df0 101px,#9f0 104px,#8f0 107px,#9f0 110px,#ff0 114px,#fe0 120px,#fa0 125px,#f40 129px,#f00 131px,#f09 136px,#f0f"></i><i style="--g:#06f,#0af 6px,#0df 18px,#0ff 42px,#0fd 58px,#0fb 63px,#0f8 67px,#0f4 71px,#0f0 74px,#2f0 75px,#7f0 77px,#8f0 78px,#ff0 93px,#fe0 96px,#ff0 99px,#df0 101px,#9f0 104px,#8f0 107px,#9f0 110px,#ff0 114px,#ff0 115px,#fd0 120px,#f60 125px,#f10 128px,#f01 129px,#f0e 136px,#f0f 137px,#f0f"></i><i style="--g:#06f,#0af 6px,#0df 18px,#0ff 42px,#0fd 58px,#0fb 63px,#0f8 67px,#0f5 71px,#0f0 74px,#8f0 78px,#ff0 93px,#fe0 96px,#ff0 99px,#df0 101px,#9f0 104px,#7f0 107px,#9f0 110px,#ff0 114px,#ff0 115px,#fd0 120px,#fa0 125px,#f50 129px,#f00 132px,#f06 136px,#f0b"></i><i style="--g:#06f,#0af 6px,#0df 18px,#0ff 42px,#0fd 58px,#0fb 63px,#0f8 67px,#0f5 71px,#0f0 74px,#6f0 77px,#8f0 78px,#ff0 93px,#fe0 96px,#ff0 99px,#df0 101px,#7f0 104px,#5f0 107px,#7f0 110px,#ff0 114px,#ff0 117px,#fd0 125px,#f90 129px,#f00 135px,#f06"></i><i style="--g:#06f,#0af 6px,#0df 18px,#0ff 42px,#0fd 58px,#0fb 63px,#0f9 66px,#0f5 70px,#0f0 73px,#7f0 76px,#8f0 77px,#ff0 92px,#fe0 95px,#ff0 99px,#df0 101px,#8f0 104px,#7f0 107px,#8f0 110px,#ff0 114px,#ff0 120px,#fe0 125px,#fd0 127px,#fc0 129px,#f00 137px,#f03"></i><i style="--g:#06f,#0af 6px,#0df 18px,#0ff 42px,#0fd 58px,#0fb 63px,#0f9 66px,#0f2 72px,#0f0 73px,#7f0 76px,#ff0 92px,#fe0 95px,#ff0 99px,#df0 101px,#9f0 104px,#7f0 107px,#9f0 110px,#ff0 114px,#ff0 121px,#ff0 125px,#fc0 129px,#f10 137px,#f03"></i><i style="--g:#06f,#0af 6px,#0df 18px,#0ff 42px,#0fd 58px,#0fb 63px,#0f8 67px,#0f5 70px,#0f0 73px,#8f0 77px,#df0 87px,#ff0 93px,#fe0 96px,#ff0 99px,#df0 101px,#7f0 104px,#4f0 107px,#7f0 110px,#ff0 114px,#ff0 118px,#fe0 125px,#fa0 129px,#f10 135px,#f01 136px,#f05"></i><i style="--g:#06f,#0af 6px,#0df 18px,#0ff 42px,#0fd 58px,#0fb 63px,#0f8 67px,#0f5 70px,#0f0 74px,#7f0 77px,#ff0 93px,#fe0 96px,#ff0 99px,#df0 101px,#8f0 104px,#6f0 107px,#8f0 110px,#ff0 114px,#ff0 115px,#fb0 120px,#f60 125px,#f10 128px,#f01 129px,#f0b 136px,#f0f"></i><i style="--g:#06f,#0af 6px,#0df 18px,#0ff 42px,#0fd 58px,#0fb 63px,#0f8 67px,#0f5 70px,#0f0 74px,#7f0 77px,#8f0 78px,#ff0 93px,#fe0 96px,#ff0 99px,#df0 101px,#9f0 104px,#7f0 107px,#9f0 110px,#ff0 114px,#ff0 115px,#fb0 120px,#f60 125px,#f10 128px,#f00 129px,#f0b 136px,#f0f"></i><i style="--g:#06f,#0af 6px,#0df 18px,#0ff 42px,#0fd 58px,#0fb 63px,#0f8 67px,#0f1 73px,#1f0 74px,#8f0 77px,#ff0 92px,#fe0 96px,#ff0 99px,#df0 101px,#8f0 104px,#6f0 107px,#8f0 110px,#ff0 114px,#ff0 115px,#fd0 120px,#fa0 125px,#f00 132px,#f06 136px,#f0b"></i><i style="--g:#06f,#0af 6px,#0df 18px,#0ff 42px,#0fd 58px,#0fb 63px,#0f8 67px,#0f1 73px,#1f0 74px,#8f0 77px,#ff0 92px,#fe0 96px,#ff0 99px,#df0 101px,#9f0 104px,#9f0 107px,#9f0 110px,#ff0 114px,#ff0 115px,#fc0 120px,#f80 125px,#f10 130px,#f01 131px,#f08 136px,#f0d"></i><i style="--g:#06f,#0af 6px,#0df 18px,#0ff 42px,#0fd 58px,#0fb 63px,#0f8 67px,#0f1 73px,#1f0 74px,#8f0 77px,#ff0 93px,#fe0 96px,#ff0 99px,#df0 101px,#7f0 104px,#4f0 107px,#7f0 110px,#ff0 114px,#ff0 115px,#fd0 120px,#fa0 125px,#f00 132px,#f06 136px,#f0a"></i><i style="--g:#06f,#0af 6px,#0df 18px,#0ff 42px,#0fd 58px,#0fb 63px,#0f8 67px,#0f1 73px,#1f0 74px,#7f0 77px,#ff0 93px,#fe0 96px,#ff0 99px,#df0 101px,#8f0 104px,#5f0 107px,#8f0 110px,#ff0 114px,#ff0 120px,#fe0 125px,#fd0 128px,#fc0 129px,#f00 137px,#f03"></i><i style="--g:#06f,#0af 6px,#0df 18px,#0ff 42px,#0fd 58px,#0fb 63px,#0f8 67px,#0f2 73px,#0f0 74px,#7f0 77px,#8f0 78px,#ff0 93px,#fe0 96px,#ff0 99px,#df0 101px,#7f0 104px,#4f0 107px,#7f0 110px,#ff0 114px,#ff0 116px,#fd0 125px,#f90 129px,#f00 135px,#f06"></i><i style="--g:#06f,#0af 6px,#0df 18px,#0ff 42px,#0fd 58px,#0fb 63px,#0f9 67px,#0f5 71px,#0f1 74px,#1f0 75px,#8f0 78px,#ff0 94px,#fe0 97px,#ff0 99px,#ef0 100px,#df0 101px,#7f0 104px,#3f0 107px,#7f0 110px,#ff0 114px,#ff0 116px,#fc0 126px,#f90 129px,#f00 135px,#f06"></i><i style="--g:#06f,#0af 6px,#0df 18px,#0ff 42px,#0fd 58px,#0fb 63px,#0f9 67px,#0f5 71px,#0f1 74px,#1f0 75px,#8f0 78px,#ff0 94px,#fe0 97px,#ef0 100px,#df0 101px,#8f0 104px,#6f0 107px,#8f0 110px,#ff0 114px,#ff0 116px,#fd0 126px,#fb0 129px,#f00 136px,#f04"></i><i style="--g:#06f,#0af 6px,#0df 18px,#0ff 42px,#0fd 58px,#0fb 63px,#0f9 67px,#0f5 71px,#0f1 74px,#1f0 75px,#8f0 78px,#ff0 93px,#fe0 97px,#ff0 99px,#df0 101px,#8f0 104px,#6f0 107px,#8f0 110px,#ff0 114px,#ff0 115px,#fc0 120px,#f80 125px,#f00 130px,#f09 136px,#f0d"></i><i style="--g:#06f,#0af 6px,#0df 18px,#0ff 42px,#0fd 58px,#0fb 63px,#0f9 67px,#0f5 71px,#0f1 74px,#1f0 75px,#8f0 78px,#ff0 93px,#fe0 97px,#ff0 99px,#df0 101px,#8f0 104px,#6f0 107px,#8f0 110px,#ff0 114px,#ff0 115px,#fc0 120px,#f90 125px,#f00 131px,#f07 136px,#f0c"></i><i style="--g:#06f,#0af 6px,#0df 18px,#0ff 42px,#0fd 58px,#0fb 63px,#0f8 67px,#0f4 71px,#0f0 74px,#2f0 75px,#7f0 77px,#8f0 78px,#df0 88px,#ff0 94px,#fe0 96px,#ff0 99px,#df0 101px,#7f0 104px,#5f0 107px,#7f0 110px,#ff0 114px,#ff0 115px,#fb0 120px,#f60 125px,#f10 128px,#f00 129px,#f0b 136px,#f0f"></i><i style="--g:#06f,#0af 6px,#0df 18px,#0ff 42px,#0fd 58px,#0fb 63px,#0f8 67px,#0f1 73px,#1f0 74px,#8f0 77px,#ff0 93px,#fe0 96px,#ff0 99px,#df0 101px,#7f0 104px,#5f0 107px,#7f0 110px,#ff0 114px,#ff0 115px,#fc0 120px,#f80 125px,#f00 130px,#f09 136px,#f0d"></i><i style="--g:#06f,#0af 6px,#0df 18px,#0ff 42px,#0fd 58px,#0fb 63px,#0f9 66px,#0f5 70px,#0f0 73px,#2f0 74px,#6f0 76px,#8f0 77px,#ff0 92px,#fe0 95px,#ff0 99px,#df0 101px,#8f0 104px,#5f0 107px,#8f0 110px,#ff0 114px,#ff0 115px,#fb0 120px,#f50 125px,#f00 128px,#f0c 136px,#f0f 138px,#f0f"></i><i style="--g:#06f,#0af 6px,#0df 18px,#0ff 42px,#0fd 58px,#0fb 63px,#0f8 67px,#0f1 73px,#8f0 77px,#ff0 92px,#fe0 96px,#ff0 99px,#df0 101px,#8f0 104px,#5f0 107px,#8f0 110px,#ff0 114px,#ff0 115px,#fd0 120px,#fa0 125px,#f00 132px,#f06 136px,#f0a"></i><i style="--g:#06f,#0af 6px,#0df 18px,#0ff 42px,#0fd 58px,#0fb 63px,#0f8 67px,#0f2 73px,#1f0 74px,#7f0 77px,#ff0 93px,#fe0 96px,#ff0 99px,#df0 101px,#8f0 104px,#6f0 107px,#8f0 110px,#ff0 114px,#ff0 115px,#fd0 120px,#f90 125px,#f10 131px,#f01 132px,#f07 136px,#f0b"></i><i style="--g:#06f,#0af 6px,#0df 18px,#0ff 42px,#0fd 58px,#0fb 63px,#0f8 67px,#0f1 73px,#1f0 74px,#7f0 77px,#ff0 93px,#fe0 96px,#ff0 99px,#df0 101px,#9f0 104px,#8f0 107px,#9f0 110px,#ff0 114px,#ff0 115px,#fd0 120px,#fa0 125px,#f00 132px,#f06 136px,#f0a"></i><i style="--g:#06f,#0af 6px,#0df 18px,#0ff 42px,#0fd 58px,#0fb 63px,#0f8 67px,#0f1 73px,#1f0 74px,#8f0 77px,#ff0 93px,#fe0 96px,#ff0 99px,#df0 101px,#8f0 104px,#6f0 107px,#8f0 110px,#ff0 114px,#ff0 115px,#fb0 125px,#f60 129px,#f00 133px,#f09"></i><i style="--g:#06f,#0af 6px,#0df 18px,#0ff 42px,#0fd 58px,#0fb 63px,#0f8 67px,#0f1 73px,#1f0 74px,#8f0 77px,#ff0 93px,#fe0 96px,#ff0 99px,#df0 101px,#8f0 104px,#5f0 107px,#8f0 110px,#ff0 114px,#ff0 115px,#fd0 125px,#fa0 129px,#f10 135px,#f01 136px,#f05"></i><i style="--g:#06f,#0af 6px,#0df 18px,#0ff 42px,#0fd 58px,#0fb 63px,#0f8 67px,#0f4 71px,#0f0 74px,#7f0 77px,#8f0 78px,#df0 88px,#ff0 94px,#fe0 96px,#ff0 99px,#ef0 100px,#df0 101px,#6f0 104px,#3f0 107px,#6f0 110px,#ff0 114px,#ff0 130px,#ff0 131px,#f70 136px,#f30"></i><i style="--g:#06f,#0af 6px,#0df 18px,#0ff 42px,#0fd 58px,#0fb 63px,#0f8 67px,#0f5 71px,#0f1 74px,#8f0 78px,#df0 88px,#ff0 94px,#fe0 97px,#ff0 99px,#ef0 100px,#df0 101px,#7f0 104px,#3f0 107px,#7f0 110px,#ff0 114px,#ff0 115px,#fe0 120px,#fc0 125px,#f70 129px,#f00 134px,#f08"></i><i style="--g:#06f,#0af 6px,#0df 18px,#0ff 42px,#0fd 58px,#0fb 63px,#0f9 67px,#0f5 71px,#0f1 74px,#1f0 75px,#8f0 78px,#ff0 93px,#fe0 97px,#ff0 99px,#df0 101px,#8f0 104px,#6f0 107px,#8f0 110px,#ff0 114px,#ff0 117px,#fe0 125px,#fc0 129px,#fb0 130px,#f10 137px,#f00 138px,#f02"></i><i style="--g:#06f,#0af 6px,#0df 18px,#0ff 42px,#0fd 58px,#0fb 63px,#0f9 67px,#0f5 71px,#0f1 74px,#1f0 75px,#8f0 78px,#ff0 93px,#fe0 97px,#ff0 99px,#df0 101px,#9f0 104px,#8f0 107px,#9f0 110px,#ff0 114px,#ff0 117px,#fd0 125px,#fa0 129px,#f10 135px,#f05"></i><i style="--g:#06f,#0af 6px,#0df 18px,#0ff 42px,#0fd 58px,#0fb 63px,#0f9 67px,#0f5 71px,#0f1 74px,#1f0 75px,#8f0 78px,#df0 89px,#ff0 94px,#fe0 97px,#ff0 99px,#ef0 100px,#df0 101px,#7f0 104px,#4f0 107px,#7f0 110px,#ff0 114px,#ff0 117px,#fe0 125px,#fc0 129px,#f10 137px,#f03"></i><i style="--g:#06f,#0af 6px,#0df 18px,#0ff 42px,#0fd 58px,#0fb 63px,#0f8 67px,#0f5 71px,#0f1 74px,#8f0 78px,#ff0 93px,#fe0 97px,#ff0 99px,#df0 101px,#9f0 104px,#7f0 107px,#9f0 110px,#ff0 114px,#ff0 115px,#fc0 120px,#f80 125px,#f10 130px,#f01 131px,#f08 136px,#f0d"></i><i style="--g:#06f,#0af 6px,#0df 18px,#0ff 42px,#0fd 58px,#0fb 63px,#0f8 67px,#0f4 71px,#0f0 74px,#7f0 77px,#8f0 78px,#ff0 93px,#fe0 96px,#ff0 99px,#df0 101px,#9f0 104px,#8f0 107px,#9f0 110px,#ff0 114px,#ff0 115px,#fd0 120px,#f90 125px,#f10 131px,#f01 132px,#f07 136px,#f0b"></i><i style="--g:#06f,#0af 6px,#0df 18px,#0ff 42px,#0fd 58px,#0fb 63px,#0f8 67px,#0f4 71px,#0f0 74px,#7f0 77px,#8f0 78px,#ff0 93px,#fe0 96px,#ff0 99px,#df0 101px,#9f0 104px,#7f0 107px,#9f0 110px,#ff0 114px,#ff0 116px,#fd0 126px,#fa0 129px,#f10 135px,#f01 136px,#f05"></i><i style="--g:#06f,#0af 6px,#0df 18px,#0ff 42px,#0fd 58px,#0fb 63px,#0f9 67px,#0f5 71px,#0f1 74px,#1f0 75px,#8f0 78px,#ff0 93px,#fe0 97px,#ff0 99px,#df0 101px,#9f0 104px,#8f0 107px,#9f0 110px,#ff0 114px,#ff0 115px,#fd0 120px,#f90 125px,#f10 131px,#f01 132px,#f07 136px,#f0b"></i><i style="--g:#06f,#0af 6px,#0df 18px,#0ff 42px,#0fd 58px,#0fb 63px,#0f8 67px,#0f4 71px,#0f0 74px,#7f0 77px,#8f0 78px,#df0 88px,#ff0 94px,#fe0 96px,#ff0 99px,#ef0 100px,#df0 101px,#7f0 104px,#4f0 107px,#7f0 110px,#ff0 114px,#ff0 115px,#fd0 120px,#f90 125px,#f10 131px,#f01 132px,#f07 136px,#f0b"></i><i style="--g:#06f,#0af 6px,#0df 18px,#0ff 42px,#0fd 58px,#0fb 63px,#0f8 67px,#0f4 71px,#0f0 74px,#7f0 77px,#8f0 78px,#ff0 93px,#fe0 96px,#ff0 99px,#df0 101px,#9f0 104px,#8f0 107px,#9f0 110px,#ff0 114px,#ff0 115px,#fa0 120px,#f40 125px,#f10 127px,#f01 128px,#f0d 136px,#f0f 138px,#f0f"></i><i style="--g:#06f,#0af 6px,#0df 18px,#0ff 42px,#0fd 58px,#0fb 63px,#0f9 67px,#0f5 71px,#0f1 74px,#1f0 75px,#8f0 78px,#ff0 93px,#fe0 97px,#ff0 99px,#df0 101px,#9f0 104px,#8f0 107px,#9f0 110px,#ff0 114px,#ff0 115px,#fa0 125px,#f10 132px,#f01 133px,#f05 136px,#f0a"></i><i style="--g:#06f,#0af 6px,#0df 18px,#0ff 42px,#0fd 58px,#0fb 63px,#0f9 67px,#0f5 71px,#0f1 74px,#1f0 75px,#8f0 78px,#ff0 93px,#fe0 97px,#ff0 99px,#df0 101px,#8f0 104px,#6f0 107px,#8f0 110px,#ff0 114px,#ff0 115px,#fd0 120px,#f90 125px,#f00 131px,#f08 136px,#f0c"></i><i style="--g:#06f,#0af 6px,#0df 18px,#0ff 42px,#0fd 58px,#0fb 63px,#0f8 67px,#0f5 71px,#0f0 74px,#2f0 75px,#6f0 77px,#8f0 78px,#ff0 93px,#fe0 96px,#ff0 99px,#df0 101px,#8f0 104px,#6f0 107px,#8f0 110px,#ff0 114px,#ff0 115px,#fb0 122px,#f80 125px,#f10 129px,#f01 130px,#f0c 136px,#f0f 138px,#f0f"></i><i style="--g:#06f,#0af 6px,#0df 18px,#0ff 42px,#0fd 58px,#0fb 63px,#0f8 67px,#0f1 73px,#1f0 74px,#8f0 77px,#ff0 92px,#fe0 96px,#ff0 99px,#df0 101px,#9f0 104px,#7f0 107px,#9f0 110px,#ff0 114px,#ff0 116px,#fe0 122px,#fc0 125px,#f70 129px,#f10 132px,#f01 133px,#f06 136px,#f0b"></i><i style="--g:#06f,#0af 6px,#0df 18px,#0ff 42px,#0fd 58px,#0fb 63px,#0f8 67px,#0f1 73px,#1f0 74px,#8f0 77px,#ff0 92px,#fe0 96px,#ff0 99px,#df0 101px,#9f0 104px,#8f0 107px,#9f0 110px,#ff0 114px,#ff0 120px,#fe0 125px,#fa0 129px,#f10 135px,#f01 136px,#f05"></i><i style="--g:#06f,#0af 6px,#0df 18px,#0ff 42px,#0fd 58px,#0fb 63px,#0f8 67px,#0f1 73px,#1f0 74px,#8f0 77px,#ff0 92px,#fe0 96px,#ff0 99px,#df0 101px,#8f0 104px,#6f0 107px,#8f0 110px,#ff0 114px,#ff0 116px,#fd0 126px,#fa0 129px,#f10 135px,#f01 136px,#f05"></i><i style="--g:#06f,#0af 6px,#0df 18px,#0ff 42px,#0fd 58px,#0fb 63px,#0f8 67px,#0f1 73px,#1f0 74px,#8f0 77px,#ff0 93px,#fe0 96px,#ff0 99px,#df0 101px,#8f0 104px,#7f0 107px,#8f0 110px,#ff0 114px,#ff0 128px,#ff0 129px,#f40 136px,#f00"></i><i style="--g:#06f,#0af 6px,#0df 18px,#0ff 42px,#0fd 58px,#0fb 63px,#0f8 67px,#0f1 73px,#1f0 74px,#7f0 77px,#ff0 93px,#fe0 96px,#ff0 99px,#df0 101px,#8f0 104px,#5f0 107px,#8f0 110px,#ff0 114px,#ff0 115px,#fd0 120px,#fa0 125px,#f10 132px,#f0a"></i><i style="--g:#06f,#0af 6px,#0df 18px,#0ff 42px,#0fd 58px,#0fb 63px,#0f8 67px,#0f4 71px,#0f0 74px,#7f0 77px,#8f0 78px,#df0 88px,#ff0 94px,#fe0 96px,#ff0 99px,#ef0 100px,#df0 101px,#7f0 104px,#3f0 107px,#7f0 110px,#ff0 114px,#ff0 116px,#fc0 125px,#f80 129px,#f00 134px,#f07"></i><i style="--g:#06f,#0af 6px,#0df 18px,#0ff 42px,#0fd 58px,#0fb 63px,#0f9 67px,#0f5 71px,#0f1 74px,#1f0 75px,#8f0 78px,#df0 89px,#ff0 94px,#fe0 97px,#ff0 99px,#ef0 100px,#df0 101px,#7f0 104px,#3f0 107px,#7f0 110px,#ff0 114px,#ff0 115px,#fd0 120px,#fb0 125px,#f60 129px,#f00 133px,#f05 136px,#f09"></i><i style="--g:#06f,#0af 6px,#0df 18px,#0ff 42px,#0fd 58px,#0fb 63px,#0f9 67px,#0f5 71px,#0f1 74px,#1f0 75px,#8f0 78px,#ff0 93px,#fe0 97px,#ff0 99px,#df0 101px,#8f0 104px,#6f0 107px,#8f0 110px,#ff0 114px,#ff0 121px,#fe0 125px,#fb0 129px,#f10 136px,#f04"></i><i style="--g:#06f,#0af 6px,#0df 18px,#0ff 42px,#0fd 58px,#0fb 63px,#0f8 67px,#0f2 73px,#0f0 74px,#7f0 77px,#8f0 78px,#ff0 93px,#fe0 96px,#ff0 99px,#df0 101px,#8f0 104px,#5f0 107px,#8f0 110px,#ff0 114px,#ff0 125px,#fd0 129px,#f30 136px,#f10 138px,#f02"></i><i style="--g:#06f,#0af 6px,#0df 18px,#0ff 42px,#0fd 58px,#0fb 63px,#0f9 66px,#0f5 70px,#0f0 73px,#7f0 76px,#8f0 77px,#ff0 92px,#fe0 95px,#ff0 99px,#df0 101px,#8f0 104px,#6f0 107px,#8f0 110px,#ff0 114px,#ff0 128px,#fe0 130px,#f50 136px,#f00"></i><i style="--g:#06f,#0af 6px,#0df 18px,#0ff 42px,#0fd 58px,#0fb 63px,#0f9 66px,#0f5 70px,#0f0 73px,#6f0 76px,#8f0 77px,#ff0 92px,#fe0 95px,#ff0 99px,#df0 101px,#9f0 104px,#8f0 107px,#9f0 110px,#ff0 114px,#ff0 121px,#fe0 125px,#fb0 129px,#f00 136px,#f04"></i><i style="--g:#06f,#0af 6px,#0df 18px,#0ff 42px,#0fd 58px,#0fb 63px,#0f8 67px,#0f1 73px,#1f0 74px,#7f0 77px,#ff0 93px,#fe0 96px,#ff0 99px,#df0 101px,#7f0 104px,#4f0 107px,#7f0 110px,#ff0 114px,#ff0 115px,#fe0 120px,#fc0 125px,#f70 129px,#f10 133px,#f00 134px,#f08"></i><i style="--g:#06f,#0af 6px,#0df 18px,#0ff 42px,#0fd 58px,#0fb 63px,#0f8 67px,#0f5 71px,#0f0 74px,#6f0 77px,#8f0 78px,#ff0 93px,#fe0 96px,#ff0 99px,#df0 101px,#8f0 104px,#6f0 107px,#8f0 110px,#ff0 114px,#ff0 127px,#fd0 131px,#f60 136px,#f10"></i><i style="--g:#06f,#0af 6px,#0df 18px,#0ff 42px,#0fd 58px,#0fb 63px,#0f8 67px,#0f5 71px,#0f1 74px,#8f0 78px,#ff0 93px,#fe0 96px,#ff0 99px,#df0 101px,#9f0 104px,#8f0 107px,#9f0 110px,#ff0 114px,#ff0 128px,#fe0 130px,#f50 136px,#f00"></i><i style="--g:#06f,#0af 6px,#0df 18px,#0ff 42px,#0fd 58px,#0fb 63px,#0f8 67px,#0f5 71px,#0f1 74px,#8f0 78px,#ff0 93px,#fe0 97px,#ff0 99px,#ef0 101px,#af0 104px,#9f0 107px,#af0 110px,#ff0 114px,#ff0 127px,#ff0 129px,#fe0 130px,#f50 136px,#f00"></i><i style="--g:#06f,#0af 6px,#0df 18px,#0ff 42px,#0fd 58px,#0fb 63px,#0f8 67px,#0f5 71px,#0f0 74px,#6f0 77px,#8f0 78px,#ff0 93px,#fe0 96px,#ff0 99px,#ef0 101px,#af0 104px,#9f0 107px,#af0 110px,#ff0 114px,#ff0 115px,#fd0 120px,#f90 125px,#f10 131px,#f01 132px,#f07 136px,#f0b"></i><i style="--g:#06f,#0af 6px,#0df 18px,#0ff 42px,#0fd 58px,#0fb 63px,#0f8 67px,#0f4 71px,#0f0 74px,#7f0 77px,#8f0 78px,#ff0 93px,#fe0 96px,#ff0 99px,#df0 101px,#9f0 104px,#8f0 107px,#9f0 110px,#ff0 114px,#ff0 127px,#ff0 129px,#f40 136px,#f00"></i><i style="--g:#06f,#0af 6px,#0df 18px,#0ff 42px,#0fd 58px,#0fb 63px,#0f8 67px,#0f2 73px,#0f0 74px,#7f0 77px,#ff0 93px,#fe0 96px,#ff0 99px,#df0 101px,#8f0 104px,#6f0 107px,#8f0 110px,#ff0 114px,#ff0 121px,#ff0 125px,#fc0 129px,#f10 137px,#f03"></i><i style="--g:#06f,#0af 6px,#0df 18px,#0ff 42px,#0fd 58px,#0fb 63px,#0f8 67px,#0f2 73px,#0f0 74px,#7f0 77px,#8f0 78px,#ff0 93px,#fe0 96px,#ff0 99px,#df0 101px,#7f0 104px,#4f0 107px,#7f0 110px,#ff0 114px,#ff0 126px,#fd0 129px,#f30 136px,#f10 138px,#f02"></i><i style="--g:#06f,#0af 6px,#0df 18px,#0ff 42px,#0fd 58px,#0fb 63px,#0f8 67px,#0f2 73px,#1f0 74px,#7f0 77px,#ff0 93px,#fe0 96px,#ff0 99px,#df0 101px,#7f0 104px,#5f0 107px,#7f0 110px,#ff0 114px,#ff0 116px,#fd0 125px,#f90 129px,#f00 135px,#f06"></i><i style="--g:#06f,#0af 6px,#0df 18px,#0ff 42px,#0fd 58px,#0fb 63px,#0f8 67px,#0f1 73px,#1f0 74px,#8f0 77px,#ff0 92px,#fe0 96px,#ff0 99px,#df0 101px,#7f0 104px,#5f0 107px,#7f0 110px,#ff0 114px,#ff0 117px,#fe0 125px,#fc0 129px,#f90 132px,#f10 138px,#f01"></i><i style="--g:#06f,#0af 6px,#0df 18px,#0ff 42px,#0fd 58px,#0fb 63px,#0f8 67px,#0f5 70px,#0f0 73px,#6f0 76px,#8f0 77px,#df0 87px,#ff0 93px,#fe0 96px,#ff0 99px,#df0 101px,#7f0 104px,#4f0 107px,#7f0 110px,#ff0 114px,#ff0 116px,#fd0 125px,#fa0 129px,#f90 131px,#f00 137px,#f03"></i><i style="--g:#06f,#0af 6px,#0df 18px,#0ff 42px,#0fd 58px,#0fb 63px,#0f8 67px,#0f5 70px,#0f0 73px,#8f0 77px,#df0 87px,#ff0 93px,#fe0 96px,#ff0 99px,#df0 101px,#7f0 104px,#3f0 107px,#7f0 110px,#ff0 114px,#ff0 117px,#fd0 125px,#fa0 129px,#f10 135px,#f05"></i><i style="--g:#06f,#0af 6px,#0df 18px,#0ff 42px,#0fd 58px,#0fb 63px,#0f8 67px,#0f4 71px,#0f0 74px,#7f0 77px,#8f0 78px,#df0 88px,#ff0 94px,#fe0 96px,#ff0 99px,#df0 101px,#7f0 104px,#4f0 107px,#7f0 110px,#ff0 114px,#ff0 116px,#fd0 125px,#fb0 129px,#f90 131px,#f00 137px,#f03"></i><i style="--g:#06f,#0af 6px,#0df 18px,#0ff 42px,#0fd 58px,#0fb 63px,#0f9 67px,#0f5 71px,#0f1 74px,#1f0 75px,#7f0 78px,#ff0 94px,#fe0 97px,#ef0 100px,#df0 101px,#6f0 104px,#3f0 107px,#6f0 110px,#ff0 114px,#ff0 115px,#fd0 120px,#f90 125px,#f10 131px,#f07 136px,#f0b"></i><i style="--g:#06f,#0af 6px,#0df 18px,#0ff 42px,#0fd 58px,#0fb 63px,#0f9 67px,#0f5 71px,#0f1 74px,#1f0 75px,#7f0 78px,#ff0 94px,#fe0 97px,#ef0 100px,#df0 101px,#7f0 104px,#3f0 107px,#7f0 110px,#ff0 114px,#ff0 115px,#fd0 120px,#f90 125px,#f10 131px,#f01 132px,#f07 136px,#f0b"></i><i style="--g:#06f,#0af 6px,#0df 18px,#0ff 42px,#0fd 58px,#0fb 63px,#0f8 67px,#0f4 71px,#0f0 74px,#7f0 77px,#8f0 78px,#ff0 93px,#fe0 96px,#ff0 99px,#af0 104px,#af0 107px,#af0 110px,#ff0 114px,#ff0 115px,#fd0 120px,#fa0 125px,#f10 132px,#f00 133px,#f05 136px,#f09"></i><i style="--g:#06f,#0af 6px,#0df 18px,#0ff 42px,#0fd 58px,#0fb 63px,#0f8 67px,#0f1 73px,#1f0 74px,#8f0 77px,#ff0 92px,#fe0 96px,#ff0 99px,#df0 101px,#8f0 104px,#5f0 107px,#8f0 110px,#ff0 114px,#ff0 116px,#fd0 125px,#f90 129px,#f00 135px,#f06"></i><i style="--g:#06f,#0af 6px,#0df 18px,#0ff 42px,#0fd 58px,#0fb 63px,#0f8 67px,#0f1 73px,#1f0 74px,#8f0 77px,#ff0 93px,#fe0 96px,#ff0 99px,#df0 101px,#8f0 104px,#6f0 107px,#8f0 110px,#ff0 114px,#ff0 125px,#fd0 129px,#f20 136px,#f00 138px,#f02"></i><i style="--g:#06f,#0af 6px,#0df 18px,#0ff 42px,#0fd 58px,#0fb 63px,#0f8 67px,#0f2 73px,#1f0 74px,#7f0 77px,#ff0 93px,#fe0 96px,#ff0 99px,#df0 101px,#9f0 104px,#8f0 107px,#9f0 110px,#ff0 114px,#ff0 125px,#fd0 129px,#f20 136px,#f00 138px,#f02"></i><i style="--g:#06f,#0af 6px,#0df 18px,#0ff 42px,#0fd 58px,#0fb 63px,#0f8 67px,#0f2 73px,#0f0 74px,#7f0 77px,#8f0 78px,#ff0 93px,#fe0 96px,#ff0 99px,#df0 101px,#8f0 104px,#5f0 107px,#8f0 110px,#ff0 114px,#ff0 126px,#fe0 129px,#f30 136px,#f00 139px,#f01"></i><i style="--g:#06f,#0af 6px,#0df 18px,#0ff 42px,#0fd 58px,#0fb 63px,#0f8 67px,#0f4 71px,#0f0 74px,#7f0 77px,#8f0 78px,#ff0 93px,#fe0 96px,#ff0 99px,#df0 101px,#8f0 104px,#6f0 107px,#8f0 110px,#ff0 114px,#ff0 118px,#fe0 125px,#fa0 129px,#f10 135px,#f00 136px,#f05"></i><i style="--g:#06f,#0af 6px,#0df 18px,#0ff 42px,#0fd 58px,#0fb 63px,#0f9 67px,#0f5 71px,#0f1 74px,#1f0 75px,#8f0 78px,#ff0 93px,#fe0 97px,#ff0 99px,#ef0 101px,#af0 104px,#9f0 107px,#af0 110px,#ff0 114px,#ff0 120px,#fe0 125px,#fd0 127px,#fc0 129px,#f00 137px,#f03"></i><i style="--g:#06f,#0af 6px,#0df 18px,#0ff 42px,#0fd 58px,#0fb 63px,#0f9 67px,#0f5 71px,#0f2 74px,#1f0 75px,#7f0 78px,#ff0 94px,#fe0 97px,#ef0 100px,#8f0 104px,#6f0 107px,#8f0 110px,#ff0 114px,#ff0 125px,#fc0 131px,#f50 136px,#f00"></i><i style="--g:#06f,#0af 6px,#0df 18px,#0ff 42px,#0fd 58px,#0fb 63px,#0f9 67px,#0f5 71px,#0f2 74px,#1f0 75px,#7f0 78px,#ff0 94px,#fe0 97px,#ef0 100px,#8f0 104px,#6f0 107px,#8f0 110px,#ff0 114px,#ff0 122px,#ff0 125px,#fd0 129px,#f20 136px,#f00 138px,#f02"></i><i style="--g:#06f,#0af 6px,#0df 18px,#0ff 42px,#0fd 58px,#0fb 63px,#0f9 67px,#0f5 71px,#0f1 74px,#1f0 75px,#8f0 78px,#ff0 93px,#fe0 97px,#ef0 100px,#df0 101px,#8f0 104px,#6f0 107px,#8f0 110px,#ff0 114px,#ff0 115px,#fd0 120px,#fb0 125px,#f60 129px,#f00 133px,#f05 136px,#f09"></i><i style="--g:#06f,#0af 6px,#0df 18px,#0ff 42px,#0fd 58px,#0fb 63px,#0f9 67px,#0f5 71px,#0f1 74px,#1f0 75px,#8f0 78px,#ff0 94px,#fe0 97px,#ef0 100px,#df0 101px,#7f0 104px,#3f0 107px,#7f0 110px,#ff0 114px,#ff0 115px,#fc0 125px,#f80 129px,#f00 134px,#f07"></i><i style="--g:#06f,#0af 6px,#0df 18px,#0ff 42px,#0fd 58px,#0fb 63px,#0f8 67px,#0f4 71px,#0f0 74px,#7f0 77px,#8f0 78px,#df0 88px,#ff0 94px,#fe0 96px,#ff0 99px,#ef0 100px,#df0 101px,#7f0 104px,#3f0 107px,#7f0 110px,#ff0 114px,#ff0 115px,#fd0 120px,#fa0 125px,#f10 132px,#f01 133px,#f05 136px,#f0a"></i><i style="--g:#06f,#0af 6px,#0df 18px,#0ff 42px,#0fd 58px,#0fb 63px,#0f8 67px,#0f2 73px,#0f0 74px,#7f0 77px,#8f0 78px,#df0 88px,#ff0 94px,#fe0 96px,#ff0 99px,#ef0 100px,#df0 101px,#6f0 104px,#2f0 107px,#6f0 110px,#ff0 114px,#ff0 115px,#fd0 120px,#f90 125px,#f10 131px,#f07 136px,#f0b"></i><i style="--g:#06f,#0af 6px,#0df 18px,#0ff 42px,#0fd 58px,#0fb 63px,#0f8 67px,#0f2 73px,#1f0 74px,#7f0 77px,#ff0 93px,#fe0 96px,#ff0 99px,#df0 101px,#7f0 104px,#3f0 107px,#7f0 110px,#ff0 114px,#ff0 116px,#fd0 125px,#fc0 127px,#fa0 129px,#f00 136px,#f05"></i><i style="--g:#06f,#0af 6px,#0df 18px,#0ff 42px,#0fd 58px,#0fb 63px,#0f8 67px,#0f2 73px,#0f0 74px,#7f0 77px,#8f0 78px,#df0 88px,#ff0 94px,#fe0 96px,#ff0 99px,#df0 101px,#7f0 104px,#4f0 107px,#7f0 110px,#ff0 114px,#ff0 116px,#fd0 125px,#fa0 129px,#f10 135px,#f00 136px,#f05"></i><i style="--g:#06f,#0af 6px,#0df 18px,#0ff 42px,#0fd 58px,#0fb 63px,#0f8 67px,#0f1 73px,#1f0 74px,#8f0 77px,#ff0 93px,#fe0 96px,#ff0 99px,#df0 101px,#7f0 104px,#4f0 107px,#5f0 108px,#9f0 110px,#ef0 112px,#fe0 113px,#fb0 116px,#f90 125px,#f60 129px,#f00 132px,#f07 136px,#f0d"></i><i style="--g:#06f,#0af 6px,#0df 18px,#0ff 42px,#0fd 58px,#0fb 63px,#0f9 66px,#0f5 70px,#0f0 73px,#2f0 74px,#7f0 76px,#8f0 77px,#df0 87px,#ff0 93px,#fe0 95px,#ff0 99px,#df0 101px,#8f0 104px,#5f0 107px,#8f0 110px,#ef0 113px,#f80 125px,#f00 131px,#f08 136px,#f0e"></i><i style="--g:#06f,#0af 6px,#0df 18px,#0ff 42px,#0fd 58px,#0fb 63px,#0f9 66px,#0f5 70px,#0f0 73px,#7f0 76px,#8f0 77px,#df0 87px,#ff0 93px,#fe0 95px,#ff0 99px,#df0 101px,#7f0 104px,#4f0 107px,#7f0 110px,#ff0 114px,#ff0 119px,#fe0 126px,#fb0 129px,#f10 136px,#f00 137px,#f04"></i><i style="--g:#06f,#0af 6px,#0df 18px,#0ff 42px,#0fd 58px,#0fb 63px,#0f8 67px,#0f1 73px,#1f0 74px,#8f0 77px,#ff0 93px,#fe0 96px,#ff0 99px,#df0 101px,#8f0 104px,#5f0 107px,#8f0 110px,#ef0 113px,#ff0 114px,#f70 125px,#f00 130px,#f0a 136px,#f0f"></i><i style="--g:#06f,#0af 6px,#0df 18px,#0ff 42px,#0fd 58px,#0fb 63px,#0f8 67px,#0f2 73px,#1f0 74px,#7f0 77px,#ff0 93px,#fe0 96px,#ff0 99px,#df0 101px,#8f0 104px,#6f0 107px,#8f0 110px,#df0 112px,#fe0 113px,#fa0 116px,#f40 125px,#f00 128px,#f01 129px,#f0f 136px,#f0f"></i><i style="--g:#06f,#0af 6px,#0df 18px,#0ff 42px,#0fd 58px,#0fb 63px,#0f8 67px,#0f1 73px,#1f0 74px,#8f0 77px,#ff0 92px,#fe0 96px,#ff0 99px,#df0 101px,#9f0 104px,#8f0 107px,#9f0 110px,#ff0 114px,#ff0 115px,#fb0 125px,#f60 129px,#f00 133px,#f05 136px,#f09"></i><i style="--g:#06f,#0af 6px,#0df 18px,#0ff 42px,#0fd 58px,#0fb 63px,#0f8 67px,#0f5 70px,#0f1 73px,#8f0 77px,#df0 87px,#ff0 93px,#fe0 96px,#ff0 99px,#df0 101px,#7f0 104px,#3f0 107px,#7f0 110px,#ff0 114px,#ff0 116px,#fe0 125px,#fc0 128px,#fb0 129px,#f10 136px,#f00 137px,#f04"></i><i style="--g:#06f,#0af 6px,#0df 18px,#0ff 42px,#0fd 58px,#0fb 63px,#0f8 67px,#0f5 70px,#0f1 73px,#8f0 77px,#df0 87px,#ff0 93px,#ff0 98px,#ef0 100px,#df0 101px,#6f0 104px,#2f0 107px,#6f0 110px,#ff0 114px,#ff0 116px,#fe0 125px,#fb0 129px,#f80 133px,#f40 136px,#f00 139px,#f01"></i><i style="--g:#06f,#0af 6px,#0cf 12px,#0ff 43px,#0fd 58px,#0fb 63px,#0f6 69px,#0f1 73px,#1f0 74px,#7f0 77px,#ff0 93px,#fe0 96px,#ff0 99px,#df0 101px,#6f0 104px,#3f0 107px,#6f0 110px,#ff0 114px,#ff0 133px,#f60"></i><i style="--g:#06f,#0af 6px,#0df 18px,#0ff 42px,#0fd 58px,#0fb 63px,#0f8 67px,#0f2 73px,#0f0 74px,#7f0 77px,#8f0 78px,#df0 88px,#ff0 94px,#fe0 96px,#ff0 99px,#df0 101px,#7f0 104px,#4f0 107px,#7f0 110px,#ff0 114px,#ff0 121px,#ff0 125px,#fc0 129px,#f00 137px,#f03"></i><i style="--g:#06f,#0af 6px,#0df 18px,#0ff 42px,#0fd 58px,#0fb 63px,#0f8 67px,#0f4 71px,#0f0 74px,#7f0 77px,#8f0 78px,#ff0 93px,#fe0 96px,#ff0 99px,#df0 101px,#9f0 104px,#7f0 107px,#9f0 110px,#ff0 114px,#ff0 126px,#fe0 129px,#fd0 131px,#f50 136px,#f10"></i><i style="--g:#06f,#0af 6px,#0df 18px,#0ff 42px,#0fd 58px,#0fb 63px,#0f9 67px,#0f5 71px,#0f1 74px,#1f0 75px,#8f0 78px,#ff0 93px,#fe0 97px,#ff0 99px,#df0 101px,#8f0 104px,#6f0 107px,#8f0 110px,#ff0 114px,#ff0 115px,#fe0 120px,#fb0 125px,#f70 129px,#f10 133px,#f01 134px,#f08"></i><i style="--g:#06f,#0af 6px,#0df 18px,#0ff 42px,#0fd 58px,#0fb 63px,#0f8 67px,#0f4 71px,#0f0 74px,#7f0 77px,#8f0 78px,#ff0 93px,#fe0 96px,#ff0 99px,#df0 101px,#9f0 104px,#7f0 107px,#9f0 110px,#ff0 114px,#ff0 115px,#fe0 120px,#fb0 125px,#f70 129px,#f10 133px,#f08"></i><i style="--g:#06f,#0af 6px,#0df 18px,#0ff 42px,#0fd 58px,#0fb 63px,#0f8 67px,#0f2 73px,#0f0 74px,#7f0 77px,#8f0 78px,#ff0 93px,#fe0 96px,#ff0 99px,#df0 101px,#9f0 104px,#8f0 107px,#9f0 110px,#ff0 114px,#ff0 122px,#fe0 125px,#fb0 129px,#f10 136px,#f04"></i><i style="--g:#06f,#0af 6px,#0df 18px,#0ff 42px,#0fd 58px,#0fb 63px,#0f8 67px,#0f2 73px,#1f0 74px,#7f0 77px,#ff0 93px,#fe0 96px,#ff0 99px,#df0 101px,#9f0 104px,#7f0 107px,#9f0 110px,#ff0 114px,#ff0 116px,#ff0 120px,#fb0 125px,#f60 129px,#f10 132px,#f01 133px,#f06 136px,#f0b"></i><i style="--g:#06f,#0af 6px,#0df 18px,#0ff 42px,#0fd 58px,#0fb 63px,#0f8 67px,#0f5 70px,#1f0 74px,#7f0 77px,#ff0 93px,#fe0 96px,#ff0 99px,#df0 101px,#7f0 104px,#4f0 107px,#7f0 110px,#ff0 114px,#ff0 115px,#fd0 120px,#f70 125px,#f10 129px,#f01 130px,#f0c 136px,#f0e 138px,#f0f"></i><i style="--g:#06f,#0af 6px,#0df 18px,#0ff 42px,#0fd 58px,#0fb 63px,#0f8 67px,#0f5 70px,#1f0 74px,#7f0 77px,#ff0 93px,#fe0 96px,#ff0 99px,#df0 101px,#9f0 104px,#8f0 107px,#9f0 110px,#ff0 114px,#ff0 115px,#fb0 120px,#f70 125px,#f00 129px,#f0b 136px,#f0f"></i><i style="--g:#06f,#0af 6px,#0df 18px,#0ff 42px,#0fd 58px,#0fb 63px,#0f8 67px,#0f2 73px,#1f0 74px,#7f0 77px,#ff0 93px,#fe0 96px,#ff0 99px,#df0 101px,#8f0 104px,#5f0 107px,#8f0 110px,#ff0 114px,#ff0 116px,#fc0 125px,#f80 129px,#f10 134px,#f07"></i><i style="--g:#06f,#0af 6px,#0df 18px,#0ff 42px,#0fd 58px,#0fb 63px,#0f8 67px,#0f1 73px,#1f0 74px,#8f0 77px,#ff0 92px,#fe0 96px,#ff0 99px,#df0 101px,#8f0 104px,#6f0 107px,#8f0 110px,#ff0 114px,#ff0 117px,#fd0 125px,#fa0 129px,#f10 135px,#f01 136px,#f05"></i><i style="--g:#06f,#0af 6px,#0df 18px,#0ff 42px,#0fd 58px,#0fb 63px,#0f9 66px,#0f5 70px,#0f0 73px,#7f0 76px,#8f0 77px,#ff0 92px,#fe0 95px,#ff0 99px,#df0 101px,#8f0 104px,#5f0 107px,#8f0 110px,#ff0 114px,#ff0 118px,#fe0 125px,#fb0 129px,#f00 136px,#f04"></i><i style="--g:#06f,#0af 6px,#0df 18px,#0ff 42px,#0fd 58px,#0fb 63px,#0f9 66px,#0f1 72px,#1f0 73px,#7f0 76px,#ff0 92px,#fe0 95px,#ff0 99px,#df0 101px,#9f0 104px,#7f0 107px,#9f0 110px,#ff0 114px,#ff0 116px,#fd0 125px,#f90 129px,#f00 135px,#f06"></i><i style="--g:#06f,#0af 6px,#0df 18px,#0ff 42px,#0fd 58px,#0fb 63px,#0f9 66px,#0f1 72px,#1f0 73px,#8f0 76px,#ff0 92px,#fe0 95px,#ff0 99px,#df0 101px,#9f0 104px,#8f0 107px,#9f0 110px,#ff0 114px,#ff0 115px,#fd0 120px,#f90 125px,#f10 131px,#f01 132px,#f07 136px,#f0b"></i><i style="--g:#06f,#0af 6px,#0df 18px,#0ff 42px,#0fd 58px,#0fb 63px,#0f9 66px,#0f1 72px,#1f0 73px,#7f0 76px,#ff0 92px,#fe0 95px,#ff0 99px,#df0 101px,#7f0 104px,#5f0 107px,#7f0 110px,#ff0 114px,#ff0 129px,#fd0 132px,#f80 136px,#f30"></i><i style="--g:#06f,#0af 6px,#0df 18px,#0ff 42px,#0fd 58px,#0fb 63px,#0f9 66px,#0f2 72px,#0f0 73px,#7f0 76px,#8f0 77px,#ff0 92px,#fe0 95px,#ff0 99px,#df0 101px,#8f0 104px,#5f0 107px,#8f0 110px,#ff0 114px,#ff0 126px,#fe0 129px,#fd0 131px,#f50 136px,#f10"></i><i style="--g:#06f,#0af 6px,#0df 18px,#0ff 42px,#0fd 58px,#0fb 63px,#0f8 67px,#0f1 73px,#1f0 74px,#8f0 77px,#ff0 93px,#fe0 96px,#ff0 99px,#df0 101px,#7f0 104px,#4f0 107px,#7f0 110px,#ff0 114px,#ff0 125px,#fd0 129px,#f30 136px,#f10 138px,#f02"></i><i style="--g:#06f,#0af 6px,#0df 18px,#0ff 42px,#0fd 58px,#0fb 63px,#0f8 67px,#0f2 73px,#0f0 74px,#7f0 77px,#8f0 78px,#df0 88px,#ff0 94px,#fe0 96px,#ff0 99px,#ef0 100px,#df0 101px,#6f0 104px,#2f0 107px,#6f0 110px,#ff0 114px,#ff0 116px,#fe0 125px,#fb0 129px,#f10 136px,#f00 137px,#f04"></i><i style="--g:#06f,#0af 6px,#0df 18px,#0ff 42px,#0fd 58px,#0fb 63px,#0f8 67px,#0f5 70px,#1f0 74px,#7f0 77px,#ff0 93px,#fe0 96px,#ff0 99px,#df0 101px,#8f0 104px,#5f0 107px,#8f0 110px,#ff0 114px,#ff0 115px,#fc0 120px,#f80 125px,#f00 130px,#f09 136px,#f0d"></i><i style="--g:#06f,#0af 6px,#0df 18px,#0ff 42px,#0fd 58px,#0fb 63px,#0f8 67px,#0f2 73px,#0f0 74px,#7f0 77px,#8f0 78px,#ff0 93px,#fe0 96px,#ff0 99px,#df0 101px,#9f0 104px,#8f0 107px,#9f0 110px,#ff0 114px,#ff0 116px,#fd0 125px,#fc0 127px,#fa0 129px,#f10 135px,#f01 136px,#f05"></i><i style="--g:#06f,#0af 6px,#0df 18px,#0ff 42px,#0fd 58px,#0fb 63px,#0f8 67px,#0f2 73px,#0f0 74px,#7f0 77px,#8f0 78px,#ff0 93px,#fe0 96px,#ff0 99px,#df0 101px,#af0 104px,#9f0 107px,#af0 110px,#ff0 114px,#ff0 115px,#fd0 120px,#f90 125px,#f10 131px,#f00 132px,#f06 136px,#f0b"></i><i style="--g:#06f,#0af 6px,#0df 18px,#0ff 42px,#0fd 58px,#0fb 63px,#0f8 67px,#0f4 71px,#0f0 74px,#7f0 77px,#8f0 78px,#ff0 93px,#fe0 96px,#ff0 99px,#df0 101px,#9f0 104px,#8f0 107px,#9f0 110px,#ff0 114px,#ff0 116px,#fc0 125px,#f80 129px,#f00 134px,#f07"></i><i style="--g:#06f,#0af 6px,#0df 18px,#0ff 42px,#0fd 58px,#0fb 63px,#0f8 67px,#0f5 71px,#0f0 74px,#6f0 77px,#8f0 78px,#ff0 93px,#fe0 96px,#ff0 99px,#df0 101px,#9f0 104px,#7f0 107px,#9f0 110px,#ff0 114px,#ff0 115px,#fd0 120px,#fa0 125px,#f10 132px,#f01 133px,#f05 136px,#f0a"></i><i style="--g:#06f,#0af 6px,#0df 18px,#0ff 42px,#0fd 58px,#0fb 63px,#0f8 67px,#0f4 71px,#0f0 74px,#7f0 77px,#8f0 78px,#ff0 93px,#fe0 96px,#ff0 99px,#df0 101px,#9f0 104px,#9f0 107px,#9f0 110px,#ff0 114px,#ff0 115px,#fe0 120px,#fc0 125px,#f70 129px,#f00 134px,#f08"></i><i style="--g:#06f,#0af 6px,#0df 18px,#0ff 42px,#0fd 58px,#0fb 63px,#0f8 67px,#0f1 73px,#1f0 74px,#8f0 77px,#ff0 92px,#fe0 96px,#ff0 99px,#df0 101px,#9f0 104px,#9f0 107px,#9f0 110px,#ff0 114px,#ff0 117px,#fd0 125px,#fa0 129px,#f10 135px,#f01 136px,#f05"></i><i style="--g:#06f,#0af 6px,#0df 18px,#0ff 42px,#0fd 58px,#0fb 63px,#0f8 67px,#0f1 73px,#1f0 74px,#8f0 77px,#ff0 92px,#fe0 96px,#ff0 99px,#df0 101px,#8f0 104px,#7f0 107px,#8f0 110px,#ff0 114px,#ff0 118px,#fe0 125px,#fc0 129px,#fa0 131px,#f30 136px,#f00 138px,#f02"></i><i style="--g:#06f,#0af 6px,#0df 18px,#0ff 42px,#0fd 58px,#0fb 63px,#0f8 67px,#0f1 73px,#1f0 74px,#8f0 77px,#ff0 92px,#fe0 96px,#ff0 99px,#df0 101px,#9f0 104px,#7f0 107px,#9f0 110px,#ff0 114px,#ff0 116px,#fd0 125px,#f90 129px,#f00 135px,#f06"></i><i style="--g:#06f,#0af 6px,#0df 18px,#0ff 42px,#0fd 58px,#0fb 63px,#0f8 67px,#0f1 73px,#1f0 74px,#8f0 77px,#ff0 92px,#fe0 96px,#ff0 99px,#af0 104px,#af0 107px,#af0 110px,#ff0 114px,#ff0 115px,#fe0 120px,#fb0 125px,#f60 129px,#f00 133px,#f09"></i><i style="--g:#06f,#0af 6px,#0df 18px,#0ff 42px,#0fd 58px,#0fb 63px,#0f8 67px,#0f5 71px,#0f0 74px,#2f0 75px,#6f0 77px,#8f0 78px,#ff0 93px,#fe0 96px,#ff0 99px,#df0 101px,#8f0 104px,#6f0 107px,#8f0 110px,#ff0 114px,#ff0 115px,#fb0 120px,#f60 125px,#f00 129px,#f0b 136px,#f0f"></i><i style="--g:#06f,#0af 6px,#0df 18px,#0ff 42px,#0fd 58px,#0fb 63px,#0f9 67px,#0f5 71px,#0f1 74px,#1f0 75px,#8f0 78px,#ff0 94px,#fe0 97px,#ef0 100px,#df0 101px,#7f0 104px,#4f0 107px,#7f0 110px,#ff0 114px,#ff0 115px,#fb0 120px,#f70 125px,#f00 129px,#f0a 136px,#f0f"></i><i style="--g:#06f,#0af 6px,#0df 18px,#0ff 42px,#0fd 58px,#0fb 63px,#0f9 67px,#0f5 71px,#0f1 74px,#1f0 75px,#8f0 78px,#ff0 94px,#fe0 97px,#ef0 100px,#df0 101px,#7f0 104px,#5f0 107px,#7f0 110px,#ff0 114px,#ff0 115px,#fc0 120px,#f80 125px,#f00 130px,#f09 136px,#f0d"></i><i style="--g:#06f,#0af 6px,#0df 18px,#0ff 42px,#0fd 58px,#0fb 63px,#0f8 67px,#0f5 71px,#0f0 74px,#6f0 77px,#8f0 78px,#ff0 93px,#fe0 96px,#ff0 99px,#df0 101px,#8f0 104px,#6f0 107px,#8f0 110px,#ff0 114px,#ff0 116px,#fc0 125px,#f80 129px,#f00 134px,#f07"></i><i style="--g:#06f,#0af 6px,#0df 18px,#0ff 42px,#0fd 58px,#0fb 63px,#0f8 67px,#0f5 71px,#0f0 74px,#6f0 77px,#8f0 78px,#ff0 93px,#fe0 96px,#ff0 99px,#df0 101px,#9f0 104px,#7f0 107px,#9f0 110px,#ff0 114px,#ff0 126px,#fe0 129px,#fb0 133px,#f70 136px,#f20"></i><i style="--g:#06f,#0af 6px,#0df 18px,#0ff 42px,#0fd 58px,#0fb 63px,#0f9 67px,#0f5 71px,#0f1 74px,#1f0 75px,#8f0 78px,#ff0 93px,#fe0 97px,#ff0 99px,#df0 101px,#9f0 104px,#7f0 107px,#9f0 110px,#ff0 114px,#ff0 130px,#ff0 131px,#f70 136px,#f30"></i><i style="--g:#06f,#0af 6px,#0df 18px,#0ff 42px,#0fd 58px,#0fb 63px,#0f8 67px,#0f4 71px,#0f0 74px,#7f0 77px,#8f0 78px,#ff0 93px,#fe0 96px,#ff0 99px,#df0 101px,#9f0 104px,#8f0 107px,#9f0 110px,#ff0 114px,#ff0 127px,#ff0 129px,#fd0 131px,#f60 136px,#f10"></i><i style="--g:#06f,#0af 6px,#0df 18px,#0ff 42px,#0fd 58px,#0fb 63px,#0f8 67px,#0f2 73px,#0f0 74px,#7f0 77px,#8f0 78px,#df0 88px,#ff0 94px,#fe0 96px,#ff0 99px,#df0 101px,#7f0 104px,#4f0 107px,#7f0 110px,#ff0 114px,#ff0 117px,#fe0 125px,#fc0 128px,#fc0 129px,#f00 137px,#f03"></i><i style="--g:#06f,#0af 6px,#0df 18px,#0ff 42px,#0fd 58px,#0fb 63px,#0f8 67px,#0f5 71px,#0f0 74px,#6f0 77px,#8f0 78px,#ff0 93px,#fe0 96px,#ff0 99px,#df0 101px,#7f0 104px,#4f0 107px,#7f0 110px,#ff0 114px,#ff0 126px,#fe0 129px,#f30 136px,#f00 139px,#f01"></i><i style="--g:#06f,#0af 6px,#0df 18px,#0ff 42px,#0fd 58px,#0fb 63px,#0f8 67px,#0f2 73px,#0f0 74px,#7f0 77px,#8f0 78px,#ff0 93px,#fe0 96px,#ff0 99px,#df0 101px,#8f0 104px,#6f0 107px,#8f0 110px,#ff0 114px,#ff0 115px,#fe0 120px,#fc0 125px,#f70 129px,#f00 134px,#f08"></i><i style="--g:#06f,#0af 6px,#0df 18px,#0ff 42px,#0fd 58px,#0fb 63px,#0f8 67px,#0f2 73px,#0f0 74px,#7f0 77px,#ff0 93px,#fe0 96px,#ff0 99px,#df0 101px,#9f0 104px,#7f0 107px,#9f0 110px,#ff0 114px,#ff0 125px,#fc0 129px,#f00 137px,#f03"></i><i style="--g:#06f,#0af 6px,#0df 18px,#0ff 42px,#0fd 58px,#0fb 63px,#0f8 67px,#0f1 73px,#1f0 74px,#7f0 77px,#ff0 93px,#fe0 96px,#ff0 99px,#df0 101px,#9f0 104px,#7f0 107px,#9f0 110px,#ff0 114px,#ff0 115px,#fb0 125px,#f70 129px,#f10 133px,#f01 134px,#f08"></i><i style="--g:#06f,#0af 6px,#0df 18px,#0ff 42px,#0fd 58px,#0fb 63px,#0f8 67px,#0f1 73px,#2f0 74px,#8f0 77px,#ff0 92px,#fe0 96px,#ff0 99px,#df0 101px,#9f0 104px,#8f0 107px,#9f0 110px,#ff0 114px,#ff0 115px,#fe0 120px,#fb0 125px,#f60 129px,#f00 133px,#f09"></i><i style="--g:#06f,#0af 6px,#0df 18px,#0ff 42px,#0fd 58px,#0fb 63px,#0f8 67px,#0f1 73px,#8f0 77px,#ff0 92px,#fe0 96px,#ff0 99px,#df0 101px,#9f0 104px,#8f0 107px,#9f0 110px,#ff0 114px,#ff0 115px,#fd0 120px,#f90 125px,#f10 131px,#f01 132px,#f07 136px,#f0b"></i><i style="--g:#06f,#0af 6px,#0df 18px,#0ff 42px,#0fd 58px,#0fb 63px,#0f8 67px,#0f1 73px,#1f0 74px,#8f0 77px,#ff0 92px,#fe0 96px,#ff0 99px,#df0 101px,#9f0 104px,#7f0 107px,#9f0 110px,#ff0 114px,#ff0 115px,#fc0 120px,#f80 125px,#f00 130px,#f09 136px,#f0d"></i><i style="--g:#06f,#0af 6px,#0df 18px,#0ff 42px,#0fd 58px,#0fb 63px,#0f8 67px,#0f1 73px,#8f0 77px,#ff0 92px,#fe0 96px,#ff0 99px,#df0 101px,#9f0 104px,#7f0 107px,#9f0 110px,#ff0 114px,#ff0 116px,#fc0 126px,#f90 129px,#f00 135px,#f06"></i><i style="--g:#06f,#0af 6px,#0df 18px,#0ff 42px,#0fd 58px,#0fb 63px,#0f9 66px,#0f5 70px,#0f1 73px,#2f0 74px,#8f0 77px,#df0 87px,#ff0 93px,#fe0 96px,#ff0 99px,#df0 101px,#7f0 104px,#4f0 107px,#7f0 110px,#ff0 114px,#ff0 115px,#fc0 120px,#f70 125px,#f10 129px,#f00 130px,#f09 136px,#f0e"></i><i style="--g:#06f,#0af 6px,#0df 18px,#0ff 42px,#0fd 58px,#0fb 63px,#0f8 67px,#0f1 73px,#1f0 74px,#8f0 77px,#ff0 92px,#fe0 96px,#ff0 99px,#df0 101px,#9f0 104px,#8f0 107px,#9f0 110px,#ff0 114px,#ff0 117px,#fe0 125px,#fc0 129px,#fa0 132px,#f40 136px,#f01"></i><i style="--g:#06f,#0af 6px,#0df 18px,#0ff 42px,#0fd 58px,#0fb 63px,#0f8 67px,#0f2 73px,#0f0 74px,#7f0 77px,#8f0 78px,#ff0 93px,#fe0 96px,#ff0 99px,#df0 101px,#9f0 104px,#7f0 107px,#9f0 110px,#ff0 114px,#ff0 115px,#fd0 120px,#fa0 125px,#f10 132px,#f0a"></i><i style="--g:#06f,#0af 6px,#0df 18px,#0ff 42px,#0fd 58px,#0fb 63px,#0f8 67px,#0f2 73px,#0f0 74px,#7f0 77px,#8f0 78px,#ff0 93px,#fe0 96px,#ff0 99px,#df0 101px,#8f0 104px,#6f0 107px,#8f0 110px,#ff0 114px,#ff0 129px,#fd0 131px,#f60 136px,#f10"></i><i style="--g:#06f,#0af 6px,#0df 18px,#0ff 42px,#0fd 58px,#0fb 63px,#0f8 67px,#0f2 73px,#0f0 74px,#7f0 77px,#8f0 78px,#ff0 93px,#fe0 96px,#ff0 99px,#df0 101px,#9f0 104px,#8f0 107px,#9f0 110px,#ff0 114px,#ff0 129px,#ff0 130px,#f60 136px,#f20"></i><i style="--g:#06f,#0af 6px,#0df 18px,#0ff 42px,#0fd 58px,#0fb 63px,#0f8 67px,#0f1 73px,#1f0 74px,#8f0 77px,#ff0 92px,#fe0 96px,#ff0 99px,#df0 101px,#8f0 104px,#6f0 107px,#8f0 110px,#ff0 114px,#ff0 116px,#fd0 125px,#fb0 129px,#fb0 130px,#f00 137px,#f03"></i><i style="--g:#06f,#0af 6px,#0df 18px,#0ff 42px,#0fd 58px,#0fb 63px,#0f8 67px,#0f1 73px,#1f0 74px,#8f0 77px,#ff0 92px,#fe0 96px,#ff0 99px,#df0 101px,#7f0 104px,#4f0 107px,#7f0 110px,#ff0 114px,#ff0 116px,#fd0 125px,#fa0 129px,#f10 135px,#f05"></i><i style="--g:#06f,#0af 6px,#0df 18px,#0ff 42px,#0fd 58px,#0fb 63px,#0f8 67px,#0f1 73px,#2f0 74px,#8f0 77px,#ff0 92px,#fe0 96px,#ff0 99px,#df0 101px,#9f0 104px,#8f0 107px,#9f0 110px,#ff0 114px,#ff0 116px,#fd0 125px,#f90 129px,#f00 135px,#f06"></i><i style="--g:#06f,#0af 6px,#0df 18px,#0ff 42px,#0fd 58px,#0fb 63px,#0f8 67px,#0f1 73px,#1f0 74px,#8f0 77px,#ff0 92px,#fe0 96px,#ff0 99px,#af0 104px,#af0 107px,#af0 110px,#ff0 114px,#ff0 127px,#ff0 129px,#fe0 130px,#f50 136px,#f00"></i><i style="--g:#06f,#0af 6px,#0df 18px,#0ff 42px,#0fd 58px,#0fb 63px,#0f8 67px,#0f5 70px,#0f0 73px,#8f0 77px,#ff0 92px,#fe0 96px,#ff0 99px,#df0 101px,#9f0 104px,#8f0 107px,#9f0 110px,#ff0 114px,#ff0 122px,#ff0 125px,#fd0 129px,#f30 136px,#f00 138px,#f02"></i><i style="--g:#06f,#0af 6px,#0df 18px,#0ff 42px,#0fd 58px,#0fb 63px,#0f9 66px,#0f5 70px,#0f0 73px,#7f0 76px,#8f0 77px,#ff0 92px,#fe0 95px,#ff0 99px,#df0 101px,#8f0 104px,#6f0 107px,#8f0 110px,#ff0 114px,#ff0 122px,#ff0 125px,#fd0 129px,#f30 136px,#f10 138px,#f02"></i><i style="--g:#06f,#0af 6px,#0df 18px,#0ff 42px,#0fd 58px,#0fb 63px,#0f9 66px,#0f2 72px,#0f0 73px,#7f0 76px,#8f0 77px,#ff0 92px,#fe0 95px,#ff0 99px,#df0 101px,#9f0 104px,#8f0 107px,#9f0 110px,#ff0 114px,#ff0 122px,#ff0 125px,#fd0 129px,#f30 136px,#f00 138px,#f02"></i><i style="--g:#06f,#0af 6px,#0df 18px,#0ff 42px,#0fd 58px,#0fb 63px,#0f9 66px,#0f2 72px,#0f0 73px,#7f0 76px,#8f0 77px,#ff0 92px,#fe0 95px,#ff0 99px,#df0 101px,#8f0 104px,#6f0 107px,#8f0 110px,#ff0 114px,#ff0 120px,#fe0 125px,#fd0 127px,#fc0 129px,#f00 137px,#f03"></i><i style="--g:#06f,#0af 6px,#0df 18px,#0ff 42px,#0fd 58px,#0fb 63px,#0f9 66px,#0f2 72px,#1f0 73px,#7f0 76px,#df0 87px,#ff0 93px,#fe0 95px,#ff0 98px,#ef0 100px,#bf0 102px,#6f0 104px,#3f0 107px,#6f0 110px,#ff0 114px,#ff0 119px,#fe0 125px,#fb0 129px,#f00 136px,#f04"></i><i style="--g:#06f,#0af 6px,#0df 18px,#0ff 42px,#0fd 58px,#0fb 63px,#0f9 66px,#0f6 69px,#1f0 73px,#7f0 76px,#ff0 92px,#fe0 95px,#ff0 99px,#df0 101px,#7f0 104px,#4f0 107px,#7f0 110px,#ff0 114px,#ff0 115px,#fb0 120px,#f70 125px,#f00 129px,#f0a 136px,#f0f"></i><i style="--g:#06f,#0af 6px,#0df 18px,#0ff 42px,#0fd 58px,#0fb 63px,#0f9 66px,#0f5 70px,#0f0 73px,#7f0 76px,#8f0 77px,#ff0 92px,#fe0 95px,#ff0 99px,#df0 101px,#8f0 104px,#6f0 107px,#8f0 110px,#ff0 114px,#ff0 116px,#fd0 125px,#fb0 128px,#f10 135px,#f00 136px,#f05"></i><i style="--g:#06f,#0af 6px,#0df 18px,#0ff 42px,#0fd 58px,#0fb 63px,#0f8 67px,#0f1 73px,#1f0 74px,#7f0 77px,#ff0 93px,#fe0 96px,#ff0 99px,#df0 101px,#9f0 104px,#9f0 107px,#9f0 110px,#ff0 114px,#ff0 115px,#fd0 120px,#fa0 125px,#f00 132px,#f06 136px,#f0b"></i><i style="--g:#06f,#0af 6px,#0df 18px,#0ff 42px,#0fd 58px,#0fb 63px,#0f8 67px,#0f5 71px,#0f0 74px,#6f0 77px,#8f0 78px,#ff0 93px,#fe0 96px,#ff0 99px,#df0 101px,#af0 104px,#9f0 107px,#af0 110px,#ff0 114px,#ff0 117px,#fe0 125px,#fc0 129px,#fa0 131px,#f20 136px,#f00 138px,#f02"></i><i style="--g:#06f,#0af 6px,#0df 18px,#0ff 42px,#0fd 58px,#0fb 63px,#0f8 67px,#0f5 71px,#0f0 74px,#6f0 77px,#8f0 78px,#ff0 93px,#fe0 96px,#ff0 99px,#df0 101px,#8f0 104px,#6f0 107px,#8f0 110px,#ff0 114px,#ff0 117px,#fe0 125px,#fc0 129px,#fa0 132px,#f40 136px,#f00 139px,#f01"></i><i style="--g:#06f,#0af 6px,#0df 18px,#0ff 42px,#0fd 58px,#0fb 63px,#0f8 67px,#0f2 73px,#0f0 74px,#7f0 77px,#8f0 78px,#df0 88px,#ff0 94px,#fe0 96px,#ff0 99px,#df0 101px,#7f0 104px,#4f0 107px,#7f0 110px,#ff0 114px,#ff0 120px,#fe0 125px,#fc0 130px,#f30 136px,#f00 139px,#f01"></i><i style="--g:#06f,#0af 6px,#0df 18px,#0ff 42px,#0fd 58px,#0fb 63px,#0f8 67px,#0f1 73px,#1f0 74px,#8f0 77px,#ff0 93px,#fe0 96px,#ff0 99px,#df0 101px,#6f0 104px,#2f0 107px,#6f0 110px,#ff0 114px,#ff0 125px,#fd0 129px,#f20 136px,#f00 138px,#f02"></i><i style="--g:#06f,#0af 6px,#0df 18px,#0ff 42px,#0fd 58px,#0fb 63px,#0f8 67px,#0f2 73px,#0f0 74px,#7f0 77px,#8f0 78px,#ff0 93px,#fe0 96px,#ff0 99px,#df0 101px,#8f0 104px,#5f0 107px,#8f0 110px,#ff0 114px,#ff0 127px,#fe0 130px,#f50 136px,#f00"></i><i style="--g:#06f,#0af 6px,#0df 18px,#0ff 42px,#0fd 58px,#0fb 63px,#0f8 67px,#0f5 71px,#0f0 74px,#8f0 78px,#ff0 93px,#fe0 96px,#ff0 99px,#df0 101px,#8f0 104px,#5f0 107px,#8f0 110px,#ff0 114px,#ff0 115px,#fe0 120px,#fb0 125px,#f70 129px,#f10 133px,#f08"></i><i style="--g:#06f,#0af 6px,#0df 18px,#0ff 42px,#0fd 58px,#0fb 63px,#0f8 67px,#0f4 71px,#0f0 74px,#7f0 77px,#8f0 78px,#ff0 93px,#fe0 96px,#ff0 99px,#df0 101px,#8f0 104px,#6f0 107px,#8f0 110px,#ff0 114px,#ff0 115px,#fd0 120px,#f90 125px,#f10 131px,#f07 136px,#f0b"></i><i style="--g:#06f,#0af 6px,#0df 18px,#0ff 42px,#0fd 58px,#0fb 63px,#0f8 67px,#0f5 71px,#0f0 74px,#2f0 75px,#6f0 77px,#8f0 78px,#ff0 93px,#fe0 96px,#ff0 99px,#df0 101px,#8f0 104px,#7f0 107px,#8f0 110px,#ff0 114px,#ff0 115px,#fa0 120px,#f50 125px,#f10 127px,#f01 128px,#f0d 136px,#f0f 138px,#f0f"></i><i style="--g:#06f,#0af 6px,#0df 18px,#0ff 42px,#0fd 58px,#0fb 63px,#0f8 67px,#0f5 71px,#0f0 74px,#6f0 77px,#8f0 78px,#ff0 93px,#fe0 96px,#ff0 99px,#df0 101px,#8f0 104px,#6f0 107px,#8f0 110px,#ff0 114px,#ff0 116px,#fd0 125px,#f90 129px,#f00 135px,#f06"></i><i style="--g:#06f,#0af 6px,#0df 18px,#0ff 42px,#0fd 58px,#0fb 63px,#0f8 67px,#0f5 71px,#0f0 74px,#6f0 77px,#8f0 78px,#ff0 93px,#fe0 96px,#ff0 99px,#df0 101px,#7f0 104px,#5f0 107px,#7f0 110px,#ff0 114px,#ff0 127px,#fe0 129px,#f30 136px,#f00 139px,#f01"></i></div>
<svg width="945" height="720" viewBox="0 0 945 720">
<defs>
<linearGradient id="cb" x1="0" y1="0" x2="0" y2="1"><stop offset="0.000" stop-color="#ff00ff"/><stop offset="0.040" stop-color="#ff00f5"/><stop offset="0.080" stop-color="#ff00d6"/><stop offset="0.120" stop-color="#ff00a3"/><stop offset="0.160" stop-color="#ff005c"/><stop offset="0.200" stop-color="#ff0000"/><stop offset="0.240" stop-color="#ff5c00"/><stop offset="0.280" stop-color="#ffa300"/><stop offset="0.320" stop-color="#ffd600"/><stop offset="0.360" stop-color="#fff500"/><stop offset="0.400" stop-color="#ffff00"/><stop offset="0.440" stop-color="#f5ff00"/><stop offset="0.480" stop-color="#d6ff00"/><stop offset="0.520" stop-color="#a3ff00"/><stop offset="0.560" stop-color="#5cff00"/><stop offset="0.600" stop-color="#00ff00"/><stop offset="0.640" stop-color="#00ff5c"/><stop offset="0.680" stop-color="#00ffa3"/><stop offset="0.720" stop-color="#00ffd6"/><stop offset="0.760" stop-color="#00fff5"/><stop offset="0.800" stop-color="#00ffff"/><stop offset="0.840" stop-color="#00f5ff"/><stop offset="0.880" stop-color="#00d6ff"/><stop offset="0.920" stop-color="#00a3ff"/><stop offset="0.960" stop-color="#005cff"/><stop offset="1.000" stop-color="#0000ff"/></linearGradient>
</defs>
<rect x="2" y="1" width="943" height="1" fill="#000"/>
<rect x="2" y="718" width="943" height="1" fill="#000"/>
<rect x="2" y="1" width="1" height="718" fill="#000"/>
<rect x="944" y="1" width="1" height="718" fill="#000"/>
<path d="M102,332h3v3h-3zM103,332h3v3h-3zM104,332h3v3h-3zM105,332h3v3h-3zM106,332h3v3h-3zM107,332h3v3h-3zM108,331h3v3h-3zM109,331h3v3h-3zM110,332h3v3h-3zM111,332h3v3h-3zM112,332h3v3h-3zM113,332h3v3h-3zM114,333h3v3h-3zM115,333h3v3h-3zM116,333h3v3h-3zM117,333h3v3h-3zM118,333h3v3h-3zM119,333h3v3h-3zM120,333h3v3h-3zM121,333h3v3h-3zM122,333h3v3h-3zM123,333h3v3h-3zM124,333h3v3h-3zM125,333h3v3h-3zM126,333h3v3h-3zM127,333h3v3h-3zM128,333h3v3h-3zM129,333h3v3h-3zM130,333h3v3h-3zM131,333h3v3h-3zM132,333h3v3h-3zM133,333h3v3h-3zM134,333h3v3h-3zM135,333h3v3h-3zM136,333h3v3h-3zM137,333h3v3h-3zM138,334h3v3h-3zM139,334h3v3h-3zM140,334h3v3h-3zM141,334h3v3h-3zM142,334h3v3h-3zM143,334h3v3h-3zM144,334h3v3h-3zM145,334h3v3h-3zM146,334h3v3h-3zM147,334h3v3h-3zM148,334h3v3h-3zM149,334h3v3h-3zM150,334h3v3h-3zM151,334h3v3h-3zM152,334h3v3h-3zM153,334h3v3h-3zM154,334h3v3h-3zM155,334h3v3h-3zM156,334h3v3h-3zM157,333h3v3h-3zM158,333h3v3h-3zM159,333h3v3h-3zM160,332h3v3h-3zM161,332h3v3h-3zM162,332h3v3h-3zM163,332h3v3h-3zM164,332h3v3h-3zM165,332h3v3h-3zM166,332h3v3h-3zM167,332h3v3h-3zM168,332h3v3h-3zM169,332h3v3h-3zM170,333h3v3h-3zM171,333h3v3h-3zM172,333h3v3h-3zM173,333h3v3h-3zM174,333h3v3h-3zM175,333h3v3h-3zM176,333h3v3h-3zM177,333h3v3h-3zM178,333h3v3h-3zM179,333h3v3h-3zM180,333h3v3h-3zM181,333h3v3h-3zM182,333h3v3h-3zM183,333h3v3h-3zM184,333h3v3h-3zM185,333h3v3h-3zM186,332h3v3h-3zM187,332h3v3h-3zM188,332h3v3h-3zM189,332h3v3h-3zM190,332h3v3h-3zM191,332h3v3h-3zM192,332h3v3h-3zM193,332h3v3h-3zM194,332h3v3h-3zM195,332h3v3h-3zM196,332h3v3h-3zM197,332h3v3h-3zM198,331h3v3h-3zM199,331h3v3h-3zM200,331h3v3h-3zM201,331h3v3h-3zM202,331h3v3h-3zM203,331h3v3h-3zM204,331h3v3h-3zM205,331h3v3h-3zM206,331h3v3h-3zM207,331h3v3h-3zM208,331h3v3h-3zM209,331h3v3h-3zM210,331h3v3h-3zM211,331h3v3h-3zM212,331h3v3h-3zM213,331h3v3h-3zM214,331h3v3h-3zM215,331h3v3h-3zM216,331h3v3h-3zM217,332h3v3h-3zM218,332h3v3h-3zM219,332h3v3h-3zM220,332h3v3h-3zM221,332h3v3h-3zM222,332h3v3h-3zM223,332h3v3h-3zM224,332h3v3h-3zM225,332h3v3h-3zM226,332h3v3h-3zM227,332h3v3h-3zM228,332h3v3h-3zM229,332h3v3h-3zM230,332h3v3h-3zM231,332h3v3h-3zM232,332h3v3h-3zM233,332h3v3h-3zM234,332h3v3h-3zM235,332h3v3h-3zM236,331h3v3h-3zM237,331h3v3h-3zM238,331h3v3h-3zM239,331h3v3h-3zM240,331h3v3h-3zM241,331h3v3h-3zM242,331h3v3h-3zM243,331h3v3h-3zM244,331h3v3h-3zM245,332h3v3h-3zM246,332h3v3h-3zM247,332h3v3h-3zM248,332h3v3h-3zM249,332h3v3h-3zM250,332h3v3h-3zM251,332h3v3h-3zM252,332h3v3h-3zM253,332h3v3h-3zM254,333h3v3h-3zM255,333h3v3h-3zM256,333h3v3h-3zM257,333h3v3h-3zM258,333h3v3h-3zM259,333h3v3h-3zM260,333h3v3h-3zM261,333h3v3h-3zM262,333h3v3h-3zM263,333h3v3h-3zM264,333h3v3h-3zM265,333h3v3h-3zM266,333h3v3h-3zM267,333h3v3h-3zM268,333h3v3h-3zM269,333h3v3h-3zM270,333h3v3h-3zM271,333h3v3h-3zM272,333h3v3h-3zM273,333h3v3h-3zM274,333h3v3h-3zM275,332h3v3h-3zM276,332h3v3h-3zM277,332h3v3h-3zM278,332h3v3h-3zM279,332h3v3h-3zM280,331h3v3h-3zM281,331h3v3h-3zM282,331h3v3h-3zM283,331h3v3h-3zM284,330h3v3h-3zM285,330h3v3h-3zM286,330h3v3h-3zM287,330h3v3h-3zM288,330h3v3h-3zM289,330h3v3h-3zM290,330h3v3h-3zM291,330h3v3h-3zM292,331h3v3h-3zM293,331h3v3h-3zM294,332h3v3h-3zM295,332h3v3h-3zM296,333h3v3h-3zM297,333h3v3h-3zM298,333h3v3h-3zM299,332h3v3h-3zM300,332h3v3h-3zM301,332h3v3h-3zM302,332h3v3h-3zM303,332h3v3h-3zM304,332h3v3h-3zM305,331h3v3h-3zM306,331h3v3h-3zM307,331h3v3h-3zM308,331h3v3h-3zM309,331h3v3h-3zM310,331h3v3h-3zM311,330h3v3h-3zM312,330h3v3h-3zM313,330h3v3h-3zM314,330h3v3h-3zM315,330h3v3h-3zM316,330h3v3h-3zM317,330h3v3h-3zM318,330h3v3h-3zM319,330h3v3h-3zM320,330h3v3h-3zM321,330h3v3h-3zM322,330h3v3h-3zM323,330h3v3h-3zM324,330h3v3h-3zM325,330h3v3h-3zM326,330h3v3h-3zM327,330h3v3h-3zM328,330h3v3h-3zM329,330h3v3h-3zM330,330h3v3h-3zM331,330h3v3h-3zM332,330h3v3h-3zM333,331h3v3h-3zM334,332h3v3h-3zM335,332h3v3h-3zM336,331h3v3h-3zM337,331h3v3h-3zM338,331h3v3h-3zM339,331h3v3h-3zM340,331h3v3h-3zM341,331h3v3h-3zM342,330h3v3h-3zM343,330h3v3h-3zM344,330h3v3h-3zM345,330h3v3h-3zM346,330h3v3h-3zM347,330h3v3h-3zM348,330h3v3h-3zM349,330h3v3h-3zM350,331h3v3h-3zM351,331h3v3h-3zM352,331h3v3h-3zM353,331h3v3h-3zM354,331h3v3h-3zM355,331h3v3h-3zM356,331h3v3h-3zM357,331h3v3h-3zM358,331h3v3h-3zM359,330h3v3h-3zM360,329h3v3h-3zM361,329h3v3h-3zM362,330h3v3h-3zM363,330h3v3h-3zM364,330h3v3h-3zM365,330h3v3h-3zM366,330h3v3h-3zM367,330h3v3h-3zM368,330h3v3h-3zM369,330h3v3h-3zM370,330h3v3h-3zM371,330h3v3h-3zM372,330h3v3h-3zM373,330h3v3h-3zM374,330h3v3h-3zM375,330h3v3h-3zM376,330h3v3h-3zM377,330h3v3h-3zM378,330h3v3h-3zM379,330h3v3h-3zM380,330h3v3h-3zM381,330h3v3h-3zM382,330h3v3h-3zM383,330h3v3h-3zM384,330h3v3h-3zM385,330h3v3h-3zM386,331h3v3h-3zM387,331h3v3h-3zM388,331h3v3h-3zM389,330h3v3h-3zM390,330h3v3h-3zM391,330h3v3h-3zM392,330h3v3h-3zM393,330h3v3h-3zM394,330h3v3h-3zM395,330h3v3h-3zM396,330h3v3h-3zM397,330h3v3h-3zM398,330h3v3h-3zM399,330h3v3h-3zM400,330h3v3h-3zM401,330h3v3h-3zM402,330h3v3h-3zM403,330h3v3h-3zM404,330h3v3h-3zM405,330h3v3h-3zM406,330h3v3h-3zM407,331h3v3h-3zM408,331h3v3h-3zM409,331h3v3h-3zM410,331h3v3h-3zM411,330h3v3h-3zM412,330h3v3h-3zM413,330h3v3h-3zM414,330h3v3h-3zM415,330h3v3h-3zM416,330h3v3h-3zM417,330h3v3h-3zM418,330h3v3h-3zM419,330h3v3h-3zM420,330h3v3h-3zM421,330h3v3h-3zM422,330h3v3h-3zM423,330h3v3h-3zM424,331h3v4h-3zM425,332h3v3h-3zM426,332h3v3h-3zM427,332h3v3h-3zM428,332h3v3h-3zM429,332h3v3h-3zM430,332h3v3h-3zM431,332h3v3h-3zM432,332h3v3h-3zM433,331h3v3h-3zM434,331h3v3h-3zM435,331h3v3h-3zM436,331h3v3h-3zM437,331h3v3h-3zM438,331h3v3h-3zM439,331h3v3h-3zM440,331h3v3h-3zM441,331h3v3h-3zM442,331h3v3h-3zM443,331h3v3h-3zM444,331h3v3h-3zM445,331h3v3h-3zM446,330h3v3h-3zM447,331h3v4h-3zM448,332h3v3h-3zM449,332h3v3h-3zM450,332h3v3h-3zM451,332h3v3h-3zM452,332h3v3h-3zM453,333h3v3h-3zM454,333h3v3h-3zM455,333h3v3h-3zM456,332h3v3h-3zM457,331h3v3h-3zM458,330h3v3h-3zM459,330h3v3h-3zM460,330h3v3h-3zM461,330h3v3h-3zM462,330h3v3h-3zM463,330h3v3h-3zM464,330h3v3h-3zM465,330h3v3h-3zM466,330h3v3h-3zM467,330h3v3h-3zM468,330h3v3h-3zM469,330h3v3h-3zM470,330h3v3h-3zM471,330h3v3h-3zM472,330h3v3h-3zM473,330h3v3h-3zM474,331h3v3h-3zM475,331h3v3h-3zM476,331h3v3h-3zM477,332h3v3h-3zM478,332h3v3h-3zM479,332h3v3h-3zM480,332h3v3h-3zM481,332h3v3h-3zM482,333h3v3h-3zM483,333h3v3h-3zM484,333h3v3h-3zM485,333h3v3h-3zM486,333h3v3h-3zM487,332h3v3h-3zM488,332h3v3h-3zM489,331h3v3h-3zM490,330h3v3h-3zM491,330h3v3h-3zM492,330h3v3h-3zM493,330h3v3h-3zM494,330h3v3h-3zM495,330h3v3h-3zM496,330h3v3h-3zM497,330h3v3h-3zM498,330h3v3h-3zM499,330h3v3h-3zM500,330h3v3h-3zM501,330h3v3h-3zM502,330h3v3h-3zM503,330h3v3h-3zM504,330h3v3h-3zM505,330h3v3h-3zM506,330h3v3h-3zM507,330h3v3h-3zM508,330h3v3h-3zM509,330h3v3h-3zM510,330h3v3h-3zM511,331h3v3h-3zM512,331h3v3h-3zM513,331h3v3h-3zM514,332h3v3h-3zM515,332h3v3h-3zM516,333h3v3h-3zM517,332h3v3h-3zM518,332h3v3h-3zM519,332h3v3h-3zM520,331h3v3h-3zM521,331h3v3h-3zM522,331h3v3h-3zM523,331h3v3h-3zM524,331h3v3h-3zM525,331h3v3h-3zM526,331h3v3h-3zM527,332h3v3h-3zM528,332h3v3h-3zM529,332h3v3h-3zM530,332h3v3h-3zM531,332h3v3h-3zM532,332h3v3h-3zM533,332h3v3h-3zM534,332h3v3h-3zM535,332h3v3h-3zM536,333h3v3h-3zM537,333h3v3h-3zM538,333h3v3h-3zM539,333h3v3h-3zM540,333h3v3h-3zM541,332h3v3h-3zM542,332h3v3h-3zM543,333h3v3h-3zM544,334h3v5h-3zM545,333h3v5h-3zM546,333h3v3h-3zM547,332h3v3h-3zM548,331h3v3h-3zM549,331h3v3h-3zM550,332h3v3h-3zM551,332h3v3h-3zM552,333h3v3h-3zM553,334h3v4h-3zM554,335h3v3h-3zM555,334h3v3h-3zM556,334h3v3h-3zM557,334h3v3h-3zM558,334h3v3h-3zM559,334h3v3h-3zM560,334h3v3h-3zM561,334h3v3h-3zM562,334h3v3h-3zM563,334h3v3h-3zM564,334h3v3h-3zM565,334h3v3h-3zM566,333h3v3h-3zM567,333h3v3h-3zM568,332h3v3h-3zM569,332h3v3h-3zM570,332h3v3h-3zM571,331h3v3h-3zM572,331h3v3h-3zM573,332h3v3h-3zM574,332h3v3h-3zM575,333h3v3h-3zM576,333h3v3h-3zM577,334h3v3h-3zM578,334h3v3h-3zM579,334h3v3h-3zM580,334h3v3h-3zM581,334h3v3h-3zM582,334h3v3h-3zM583,334h3v3h-3zM584,334h3v3h-3zM585,334h3v3h-3zM586,335h3v3h-3zM587,333h3v4h-3zM588,331h3v4h-3zM589,331h3v3h-3zM590,331h3v3h-3zM591,331h3v3h-3zM592,331h3v3h-3zM593,331h3v3h-3zM594,331h3v3h-3zM595,331h3v3h-3zM596,331h3v3h-3zM597,331h3v3h-3zM598,331h3v3h-3zM599,331h3v3h-3zM600,331h3v3h-3zM601,331h3v3h-3zM602,331h3v3h-3zM603,331h3v3h-3zM604,331h3v3h-3zM605,331h3v3h-3zM606,331h3v3h-3zM607,331h3v3h-3zM608,331h3v3h-3zM609,331h3v3h-3zM610,331h3v3h-3zM611,331h3v3h-3zM612,331h3v3h-3zM613,331h3v3h-3zM614,331h3v3h-3zM615,330h3v3h-3zM616,330h3v3h-3zM617,330h3v3h-3zM618,330h3v3h-3zM619,330h3v3h-3zM620,330h3v3h-3zM621,330h3v3h-3zM622,331h3v3h-3zM623,332h3v3h-3zM624,332h3v3h-3zM625,333h3v3h-3zM626,332h3v3h-3zM627,332h3v3h-3zM628,331h3v3h-3zM629,331h3v3h-3zM630,332h3v3h-3zM631,332h3v3h-3zM632,332h3v3h-3zM633,332h3v3h-3zM634,332h3v3h-3zM635,332h3v3h-3zM636,332h3v3h-3zM637,332h3v3h-3zM638,332h3v3h-3zM639,332h3v3h-3zM640,332h3v3h-3zM641,331h3v3h-3zM642,331h3v3h-3zM643,331h3v3h-3zM644,331h3v3h-3zM645,331h3v3h-3zM646,331h3v3h-3zM647,331h3v3h-3zM648,330h3v3h-3zM649,330h3v3h-3zM650,330h3v3h-3zM651,330h3v3h-3zM652,330h3v3h-3zM653,330h3v3h-3zM654,329h3v3h-3zM655,329h3v3h-3zM656,329h3v3h-3zM657,329h3v3h-3zM658,330h3v4h-3zM659,331h3v3h-3zM660,331h3v3h-3zM661,330h3v3h-3zM662,330h3v3h-3zM663,330h3v3h-3zM664,330h3v3h-3zM665,329h3v3h-3zM666,329h3v3h-3zM667,329h3v3h-3zM668,329h3v3h-3zM669,329h3v3h-3zM670,329h3v3h-3zM671,329h3v3h-3zM672,329h3v3h-3zM673,328h3v3h-3zM674,327h3v3h-3zM675,327h3v3h-3zM676,326h3v3h-3zM677,326h3v3h-3zM678,327h3v3h-3zM679,328h3v3h-3zM680,329h3v3h-3zM681,329h3v3h-3zM682,330h3v3h-3zM683,331h3v3h-3zM684,330h3v3h-3zM685,330h3v3h-3zM686,329h3v3h-3zM687,329h3v3h-3zM688,328h3v3h-3zM689,329h3v3h-3zM690,330h3v3h-3zM691,331h3v3h-3zM692,332h3v3h-3zM693,333h3v3h-3zM694,331h3v4h-3zM695,330h3v3h-3zM696,329h3v3h-3zM697,328h3v3h-3zM698,328h3v3h-3zM699,328h3v3h-3zM700,328h3v3h-3zM701,328h3v3h-3z" fill="#fff" shape-rendering="crispEdges"/><path d="M103,333h1v1h-1zM104,333h1v1h-1zM105,333h1v1h-1zM106,333h1v1h-1zM107,333h1v1h-1zM108,333h1v1h-1zM109,332h1v1h-1zM110,332h1v1h-1zM111,333h1v1h-1zM112,333h1v1h-1zM113,333h1v1h-1zM114,333h1v1h-1zM115,334h1v1h-1zM116,334h1v1h-1zM117,334h1v1h-1zM118,334h1v1h-1zM119,334h1v1h-1zM120,334h1v1h-1zM121,334h1v1h-1zM122,334h1v1h-1zM123,334h1v1h-1zM124,334h1v1h-1zM125,334h1v1h-1zM126,334h1v1h-1zM127,334h1v1h-1zM128,334h1v1h-1zM129,334h1v1h-1zM130,334h1v1h-1zM131,334h1v1h-1zM132,334h1v1h-1zM133,334h1v1h-1zM134,334h1v1h-1zM135,334h1v1h-1zM136,334h1v1h-1zM137,334h1v1h-1zM138,334h1v1h-1zM139,335h1v1h-1zM140,335h1v1h-1zM141,335h1v1h-1zM142,335h1v1h-1zM143,335h1v1h-1zM144,335h1v1h-1zM145,335h1v1h-1zM146,335h1v1h-1zM147,335h1v1h-1zM148,335h1v1h-1zM149,335h1v1h-1zM150,335h1v1h-1zM151,335h1v1h-1zM152,335h1v1h-1zM153,335h1v1h-1zM154,335h1v1h-1zM155,335h1v1h-1zM156,335h1v1h-1zM157,335h1v1h-1zM158,334h1v1h-1zM159,334h1v1h-1zM160,334h1v1h-1zM161,333h1v1h-1zM162,333h1v1h-1zM163,333h1v1h-1zM164,333h1v1h-1zM165,333h1v1h-1zM166,333h1v1h-1zM167,333h1v1h-1zM168,333h1v1h-1zM169,333h1v1h-1zM170,333h1v1h-1zM171,334h1v1h-1zM172,334h1v1h-1zM173,334h1v1h-1zM174,334h1v1h-1zM175,334h1v1h-1zM176,334h1v1h-1zM177,334h1v1h-1zM178,334h1v1h-1zM179,334h1v1h-1zM180,334h1v1h-1zM181,334h1v1h-1zM182,334h1v1h-1zM183,334h1v1h-1zM184,334h1v1h-1zM185,334h1v1h-1zM186,334h1v1h-1zM187,333h1v1h-1zM188,333h1v1h-1zM189,333h1v1h-1zM190,333h1v1h-1zM191,333h1v1h-1zM192,333h1v1h-1zM193,333h1v1h-1zM194,333h1v1h-1zM195,333h1v1h-1zM196,333h1v1h-1zM197,333h1v1h-1zM198,333h1v1h-1zM199,332h1v1h-1zM200,332h1v1h-1zM201,332h1v1h-1zM202,332h1v1h-1zM203,332h1v1h-1zM204,332h1v1h-1zM205,332h1v1h-1zM206,332h1v1h-1zM207,332h1v1h-1zM208,332h1v1h-1zM209,332h1v1h-1zM210,332h1v1h-1zM211,332h1v1h-1zM212,332h1v1h-1zM213,332h1v1h-1zM214,332h1v1h-1zM215,332h1v1h-1zM216,332h1v1h-1zM217,332h1v1h-1zM218,333h1v1h-1zM219,333h1v1h-1zM220,333h1v1h-1zM221,333h1v1h-1zM222,333h1v1h-1zM223,333h1v1h-1zM224,333h1v1h-1zM225,333h1v1h-1zM226,333h1v1h-1zM227,333h1v1h-1zM228,333h1v1h-1zM229,333h1v1h-1zM230,333h1v1h-1zM231,333h1v1h-1zM232,333h1v1h-1zM233,333h1v1h-1zM234,333h1v1h-1zM235,333h1v1h-1zM236,333h1v1h-1zM237,332h1v1h-1zM238,332h1v1h-1zM239,332h1v1h-1zM240,332h1v1h-1zM241,332h1v1h-1zM242,332h1v1h-1zM243,332h1v1h-1zM244,332h1v1h-1zM245,332h1v1h-1zM246,333h1v1h-1zM247,333h1v1h-1zM248,333h1v1h-1zM249,333h1v1h-1zM250,333h1v1h-1zM251,333h1v1h-1zM252,333h1v1h-1zM253,333h1v1h-1zM254,333h1v1h-1zM255,334h1v1h-1zM256,334h1v1h-1zM257,334h1v1h-1zM258,334h1v1h-1zM259,334h1v1h-1zM260,334h1v1h-1zM261,334h1v1h-1zM262,334h1v1h-1zM263,334h1v1h-1zM264,334h1v1h-1zM265,334h1v1h-1zM266,334h1v1h-1zM267,334h1v1h-1zM268,334h1v1h-1zM269,334h1v1h-1zM270,334h1v1h-1zM271,334h1v1h-1zM272,334h1v1h-1zM273,334h1v1h-1zM274,334h1v1h-1zM275,334h1v1h-1zM276,333h1v1h-1zM277,333h1v1h-1zM278,333h1v1h-1zM279,333h1v1h-1zM280,333h1v1h-1zM281,332h1v1h-1zM282,332h1v1h-1zM283,332h1v1h-1zM284,332h1v1h-1zM285,331h1v1h-1zM286,331h1v1h-1zM287,331h1v1h-1zM288,331h1v1h-1zM289,331h1v1h-1zM290,331h1v1h-1zM291,331h1v1h-1zM292,331h1v1h-1zM293,332h1v1h-1zM294,332h1v1h-1zM295,333h1v1h-1zM296,333h1v1h-1zM297,334h1v1h-1zM298,334h1v1h-1zM299,334h1v1h-1zM300,333h1v1h-1zM301,333h1v1h-1zM302,333h1v1h-1zM303,333h1v1h-1zM304,333h1v1h-1zM305,333h1v1h-1zM306,332h1v1h-1zM307,332h1v1h-1zM308,332h1v1h-1zM309,332h1v1h-1zM310,332h1v1h-1zM311,332h1v1h-1zM312,331h1v1h-1zM313,331h1v1h-1zM314,331h1v1h-1zM315,331h1v1h-1zM316,331h1v1h-1zM317,331h1v1h-1zM318,331h1v1h-1zM319,331h1v1h-1zM320,331h1v1h-1zM321,331h1v1h-1zM322,331h1v1h-1zM323,331h1v1h-1zM324,331h1v1h-1zM325,331h1v1h-1zM326,331h1v1h-1zM327,331h1v1h-1zM328,331h1v1h-1zM329,331h1v1h-1zM330,331h1v1h-1zM331,331h1v1h-1zM332,331h1v1h-1zM333,331h1v1h-1zM334,332h1v1h-1zM335,333h1v1h-1zM336,333h1v1h-1zM337,332h1v1h-1zM338,332h1v1h-1zM339,332h1v1h-1zM340,332h1v1h-1zM341,332h1v1h-1zM342,332h1v1h-1zM343,331h1v1h-1zM344,331h1v1h-1zM345,331h1v1h-1zM346,331h1v1h-1zM347,331h1v1h-1zM348,331h1v1h-1zM349,331h1v1h-1zM350,331h1v1h-1zM351,332h1v1h-1zM352,332h1v1h-1zM353,332h1v1h-1zM354,332h1v1h-1zM355,332h1v1h-1zM356,332h1v1h-1zM357,332h1v1h-1zM358,332h1v1h-1zM359,332h1v1h-1zM360,331h1v1h-1zM361,330h1v1h-1zM362,330h1v1h-1zM363,331h1v1h-1zM364,331h1v1h-1zM365,331h1v1h-1zM366,331h1v1h-1zM367,331h1v1h-1zM368,331h1v1h-1zM369,331h1v1h-1zM370,331h1v1h-1zM371,331h1v1h-1zM372,331h1v1h-1zM373,331h1v1h-1zM374,331h1v1h-1zM375,331h1v1h-1zM376,331h1v1h-1zM377,331h1v1h-1zM378,331h1v1h-1zM379,331h1v1h-1zM380,331h1v1h-1zM381,331h1v1h-1zM382,331h1v1h-1zM383,331h1v1h-1zM384,331h1v1h-1zM385,331h1v1h-1zM386,331h1v1h-1zM387,332h1v1h-1zM388,332h1v1h-1zM389,332h1v1h-1zM390,331h1v1h-1zM391,331h1v1h-1zM392,331h1v1h-1zM393,331h1v1h-1zM394,331h1v1h-1zM395,331h1v1h-1zM396,331h1v1h-1zM397,331h1v1h-1zM398,331h1v1h-1zM399,331h1v1h-1zM400,331h1v1h-1zM401,331h1v1h-1zM402,331h1v1h-1zM403,331h1v1h-1zM404,331h1v1h-1zM405,331h1v1h-1zM406,331h1v1h-1zM407,331h1v1h-1zM408,332h1v1h-1zM409,332h1v1h-1zM410,332h1v1h-1zM411,332h1v1h-1zM412,331h1v1h-1zM413,331h1v1h-1zM414,331h1v1h-1zM415,331h1v1h-1zM416,331h1v1h-1zM417,331h1v1h-1zM418,331h1v1h-1zM419,331h1v1h-1zM420,331h1v1h-1zM421,331h1v1h-1zM422,331h1v1h-1zM423,331h1v1h-1zM424,331h1v1h-1zM425,332h1v2h-1zM426,333h1v1h-1zM427,333h1v1h-1zM428,333h1v1h-1zM429,333h1v1h-1zM430,333h1v1h-1zM431,333h1v1h-1zM432,333h1v1h-1zM433,333h1v1h-1zM434,332h1v1h-1zM435,332h1v1h-1zM436,332h1v1h-1zM437,332h1v1h-1zM438,332h1v1h-1zM439,332h1v1h-1zM440,332h1v1h-1zM441,332h1v1h-1zM442,332h1v1h-1zM443,332h1v1h-1zM444,332h1v1h-1zM445,332h1v1h-1zM446,332h1v1h-1zM447,331h1v1h-1zM448,332h1v2h-1zM449,333h1v1h-1zM450,333h1v1h-1zM451,333h1v1h-1zM452,333h1v1h-1zM453,333h1v1h-1zM454,334h1v1h-1zM455,334h1v1h-1zM456,334h1v1h-1zM457,333h1v1h-1zM458,332h1v1h-1zM459,331h1v1h-1zM460,331h1v1h-1zM461,331h1v1h-1zM462,331h1v1h-1zM463,331h1v1h-1zM464,331h1v1h-1zM465,331h1v1h-1zM466,331h1v1h-1zM467,331h1v1h-1zM468,331h1v1h-1zM469,331h1v1h-1zM470,331h1v1h-1zM471,331h1v1h-1zM472,331h1v1h-1zM473,331h1v1h-1zM474,331h1v1h-1zM475,332h1v1h-1zM476,332h1v1h-1zM477,332h1v1h-1zM478,333h1v1h-1zM479,333h1v1h-1zM480,333h1v1h-1zM481,333h1v1h-1zM482,333h1v1h-1zM483,334h1v1h-1zM484,334h1v1h-1zM485,334h1v1h-1zM486,334h1v1h-1zM487,334h1v1h-1zM488,333h1v1h-1zM489,333h1v1h-1zM490,332h1v1h-1zM491,331h1v1h-1zM492,331h1v1h-1zM493,331h1v1h-1zM494,331h1v1h-1zM495,331h1v1h-1zM496,331h1v1h-1zM497,331h1v1h-1zM498,331h1v1h-1zM499,331h1v1h-1zM500,331h1v1h-1zM501,331h1v1h-1zM502,331h1v1h-1zM503,331h1v1h-1zM504,331h1v1h-1zM505,331h1v1h-1zM506,331h1v1h-1zM507,331h1v1h-1zM508,331h1v1h-1zM509,331h1v1h-1zM510,331h1v1h-1zM511,331h1v1h-1zM512,332h1v1h-1zM513,332h1v1h-1zM514,332h1v1h-1zM515,333h1v1h-1zM516,333h1v1h-1zM517,334h1v1h-1zM518,333h1v1h-1zM519,333h1v1h-1zM520,333h1v1h-1zM521,332h1v1h-1zM522,332h1v1h-1zM523,332h1v1h-1zM524,332h1v1h-1zM525,332h1v1h-1zM526,332h1v1h-1zM527,332h1v1h-1zM528,333h1v1h-1zM529,333h1v1h-1zM530,333h1v1h-1zM531,333h1v1h-1zM532,333h1v1h-1zM533,333h1v1h-1zM534,333h1v1h-1zM535,333h1v1h-1zM536,333h1v1h-1zM537,334h1v1h-1zM538,334h1v1h-1zM539,334h1v1h-1zM540,334h1v1h-1zM541,334h1v1h-1zM542,333h1v1h-1zM543,333h1v1h-1zM544,334h1v1h-1zM545,335h1v3h-1zM546,334h1v3h-1zM547,334h1v1h-1zM548,333h1v1h-1zM549,332h1v1h-1zM550,332h1v1h-1zM551,333h1v1h-1zM552,333h1v1h-1zM553,334h1v1h-1zM554,335h1v2h-1zM555,336h1v1h-1zM556,335h1v1h-1zM557,335h1v1h-1zM558,335h1v1h-1zM559,335h1v1h-1zM560,335h1v1h-1zM561,335h1v1h-1zM562,335h1v1h-1zM563,335h1v1h-1zM564,335h1v1h-1zM565,335h1v1h-1zM566,335h1v1h-1zM567,334h1v1h-1zM568,334h1v1h-1zM569,333h1v1h-1zM570,333h1v1h-1zM571,333h1v1h-1zM572,332h1v1h-1zM573,332h1v1h-1zM574,333h1v1h-1zM575,333h1v1h-1zM576,334h1v1h-1zM577,334h1v1h-1zM578,335h1v1h-1zM579,335h1v1h-1zM580,335h1v1h-1zM581,335h1v1h-1zM582,335h1v1h-1zM583,335h1v1h-1zM584,335h1v1h-1zM585,335h1v1h-1zM586,335h1v1h-1zM587,336h1v1h-1zM588,334h1v2h-1zM589,332h1v2h-1zM590,332h1v1h-1zM591,332h1v1h-1zM592,332h1v1h-1zM593,332h1v1h-1zM594,332h1v1h-1zM595,332h1v1h-1zM596,332h1v1h-1zM597,332h1v1h-1zM598,332h1v1h-1zM599,332h1v1h-1zM600,332h1v1h-1zM601,332h1v1h-1zM602,332h1v1h-1zM603,332h1v1h-1zM604,332h1v1h-1zM605,332h1v1h-1zM606,332h1v1h-1zM607,332h1v1h-1zM608,332h1v1h-1zM609,332h1v1h-1zM610,332h1v1h-1zM611,332h1v1h-1zM612,332h1v1h-1zM613,332h1v1h-1zM614,332h1v1h-1zM615,332h1v1h-1zM616,331h1v1h-1zM617,331h1v1h-1zM618,331h1v1h-1zM619,331h1v1h-1zM620,331h1v1h-1zM621,331h1v1h-1zM622,331h1v1h-1zM623,332h1v1h-1zM624,333h1v1h-1zM625,333h1v1h-1zM626,334h1v1h-1zM627,333h1v1h-1zM628,333h1v1h-1zM629,332h1v1h-1zM630,332h1v1h-1zM631,333h1v1h-1zM632,333h1v1h-1zM633,333h1v1h-1zM634,333h1v1h-1zM635,333h1v1h-1zM636,333h1v1h-1zM637,333h1v1h-1zM638,333h1v1h-1zM639,333h1v1h-1zM640,333h1v1h-1zM641,333h1v1h-1zM642,332h1v1h-1zM643,332h1v1h-1zM644,332h1v1h-1zM645,332h1v1h-1zM646,332h1v1h-1zM647,332h1v1h-1zM648,332h1v1h-1zM649,331h1v1h-1zM650,331h1v1h-1zM651,331h1v1h-1zM652,331h1v1h-1zM653,331h1v1h-1zM654,331h1v1h-1zM655,330h1v1h-1zM656,330h1v1h-1zM657,330h1v1h-1zM658,330h1v1h-1zM659,331h1v2h-1zM660,332h1v1h-1zM661,332h1v1h-1zM662,331h1v1h-1zM663,331h1v1h-1zM664,331h1v1h-1zM665,331h1v1h-1zM666,330h1v1h-1zM667,330h1v1h-1zM668,330h1v1h-1zM669,330h1v1h-1zM670,330h1v1h-1zM671,330h1v1h-1zM672,330h1v1h-1zM673,330h1v1h-1zM674,329h1v1h-1zM675,328h1v1h-1zM676,328h1v1h-1zM677,327h1v1h-1zM678,327h1v1h-1zM679,328h1v1h-1zM680,329h1v1h-1zM681,330h1v1h-1zM682,330h1v1h-1zM683,331h1v1h-1zM684,332h1v1h-1zM685,331h1v1h-1zM686,331h1v1h-1zM687,330h1v1h-1zM688,330h1v1h-1zM689,329h1v1h-1zM690,330h1v1h-1zM691,331h1v1h-1zM692,332h1v1h-1zM693,333h1v1h-1zM694,334h1v1h-1zM695,332h1v2h-1zM696,331h1v1h-1zM697,330h1v1h-1zM698,329h1v1h-1zM699,329h1v1h-1zM700,329h1v1h-1zM701,329h1v1h-1zM702,329h1v1h-1z" fill="#000" shape-rendering="crispEdges"/>
<path d="M102,552h3v3h-3zM103,552h3v3h-3zM104,552h3v3h-3zM105,552h3v3h-3zM106,552h3v3h-3zM107,552h3v3h-3zM108,551h3v3h-3zM109,551h3v3h-3zM110,552h3v3h-3zM111,552h3v3h-3zM112,552h3v3h-3zM113,552h3v3h-3zM114,553h3v3h-3zM115,553h3v3h-3zM116,553h3v3h-3zM117,553h3v3h-3zM118,553h3v3h-3zM119,553h3v3h-3zM120,553h3v3h-3zM121,553h3v3h-3zM122,553h3v3h-3zM123,553h3v3h-3zM124,553h3v3h-3zM125,553h3v3h-3zM126,553h3v3h-3zM127,553h3v3h-3zM128,553h3v3h-3zM129,553h3v3h-3zM130,553h3v3h-3zM131,553h3v3h-3zM132,553h3v3h-3zM133,553h3v3h-3zM134,553h3v3h-3zM135,553h3v3h-3zM136,553h3v3h-3zM137,553h3v3h-3zM138,554h3v3h-3zM139,554h3v3h-3zM140,554h3v3h-3zM141,554h3v3h-3zM142,554h3v3h-3zM143,554h3v3h-3zM144,554h3v3h-3zM145,554h3v3h-3zM146,554h3v3h-3zM147,554h3v3h-3zM148,554h3v3h-3zM149,554h3v3h-3zM150,554h3v3h-3zM151,554h3v3h-3zM152,554h3v3h-3zM153,554h3v3h-3zM154,554h3v3h-3zM155,554h3v3h-3zM156,554h3v3h-3zM157,553h3v3h-3zM158,553h3v3h-3zM159,553h3v3h-3zM160,552h3v3h-3zM161,552h3v3h-3zM162,552h3v3h-3zM163,552h3v3h-3zM164,552h3v3h-3zM165,552h3v3h-3zM166,552h3v3h-3zM167,552h3v3h-3zM168,552h3v3h-3zM169,552h3v3h-3zM170,553h3v3h-3zM171,553h3v3h-3zM172,553h3v3h-3zM173,553h3v3h-3zM174,553h3v3h-3zM175,553h3v3h-3zM176,553h3v3h-3zM177,553h3v3h-3zM178,553h3v3h-3zM179,553h3v3h-3zM180,553h3v3h-3zM181,553h3v3h-3zM182,553h3v3h-3zM183,553h3v3h-3zM184,553h3v3h-3zM185,553h3v3h-3zM186,552h3v3h-3zM187,552h3v3h-3zM188,552h3v3h-3zM189,552h3v3h-3zM190,552h3v3h-3zM191,552h3v3h-3zM192,552h3v3h-3zM193,552h3v3h-3zM194,552h3v3h-3zM195,552h3v3h-3zM196,552h3v3h-3zM197,552h3v3h-3zM198,551h3v3h-3zM199,551h3v3h-3zM200,551h3v3h-3zM201,551h3v3h-3zM202,551h3v3h-3zM203,551h3v3h-3zM204,551h3v3h-3zM205,551h3v3h-3zM206,551h3v3h-3zM207,551h3v3h-3zM208,551h3v3h-3zM209,551h3v3h-3zM210,551h3v3h-3zM211,551h3v3h-3zM212,551h3v3h-3zM213,551h3v3h-3zM214,551h3v3h-3zM215,551h3v3h-3zM216,551h3v3h-3zM217,552h3v3h-3zM218,552h3v3h-3zM219,552h3v3h-3zM220,552h3v3h-3zM221,552h3v3h-3zM222,552h3v3h-3zM223,552h3v3h-3zM224,552h3v3h-3zM225,552h3v3h-3zM226,552h3v3h-3zM227,552h3v3h-3zM228,552h3v3h-3zM229,552h3v3h-3zM230,552h3v3h-3zM231,552h3v3h-3zM232,552h3v3h-3zM233,552h3v3h-3zM234,552h3v3h-3zM235,552h3v3h-3zM236,551h3v3h-3zM237,551h3v3h-3zM238,551h3v3h-3zM239,551h3v3h-3zM240,551h3v3h-3zM241,551h3v3h-3zM242,551h3v3h-3zM243,551h3v3h-3zM244,551h3v3h-3zM245,552h3v3h-3zM246,552h3v3h-3zM247,552h3v3h-3zM248,552h3v3h-3zM249,552h3v3h-3zM250,552h3v3h-3zM251,552h3v3h-3zM252,552h3v3h-3zM253,552h3v3h-3zM254,553h3v3h-3zM255,553h3v3h-3zM256,553h3v3h-3zM257,553h3v3h-3zM258,553h3v3h-3zM259,553h3v3h-3zM260,553h3v3h-3zM261,553h3v3h-3zM262,553h3v3h-3zM263,553h3v3h-3zM264,553h3v3h-3zM265,553h3v3h-3zM266,553h3v3h-3zM267,553h3v3h-3zM268,553h3v3h-3zM269,553h3v3h-3zM270,553h3v3h-3zM271,553h3v3h-3zM272,553h3v3h-3zM273,553h3v3h-3zM274,553h3v3h-3zM275,552h3v3h-3zM276,552h3v3h-3zM277,552h3v3h-3zM278,552h3v3h-3zM279,552h3v3h-3zM280,551h3v3h-3zM281,551h3v3h-3zM282,551h3v3h-3zM283,551h3v3h-3zM284,550h3v3h-3zM285,550h3v3h-3zM286,550h3v3h-3zM287,550h3v3h-3zM288,550h3v3h-3zM289,550h3v3h-3zM290,550h3v3h-3zM291,550h3v3h-3zM292,551h3v3h-3zM293,551h3v3h-3zM294,552h3v3h-3zM295,552h3v3h-3zM296,553h3v3h-3zM297,553h3v3h-3zM298,553h3v3h-3zM299,552h3v3h-3zM300,552h3v3h-3zM301,552h3v3h-3zM302,552h3v3h-3zM303,552h3v3h-3zM304,552h3v3h-3zM305,551h3v3h-3zM306,551h3v3h-3zM307,551h3v3h-3zM308,551h3v3h-3zM309,551h3v3h-3zM310,551h3v3h-3zM311,550h3v3h-3zM312,550h3v3h-3zM313,550h3v3h-3zM314,550h3v3h-3zM315,550h3v3h-3zM316,550h3v3h-3zM317,550h3v3h-3zM318,550h3v3h-3zM319,550h3v3h-3zM320,550h3v3h-3zM321,550h3v3h-3zM322,550h3v3h-3zM323,550h3v3h-3zM324,550h3v3h-3zM325,550h3v3h-3zM326,550h3v3h-3zM327,550h3v3h-3zM328,550h3v3h-3zM329,550h3v3h-3zM330,550h3v3h-3zM331,550h3v3h-3zM332,550h3v3h-3zM333,551h3v3h-3zM334,552h3v3h-3zM335,552h3v3h-3zM336,551h3v3h-3zM337,551h3v3h-3zM338,551h3v3h-3zM339,551h3v3h-3zM340,551h3v3h-3zM341,551h3v3h-3zM342,550h3v3h-3zM343,550h3v3h-3zM344,550h3v3h-3zM345,550h3v3h-3zM346,550h3v3h-3zM347,550h3v3h-3zM348,550h3v3h-3zM349,550h3v3h-3zM350,551h3v3h-3zM351,551h3v3h-3zM352,551h3v3h-3zM353,551h3v3h-3zM354,551h3v3h-3zM355,551h3v3h-3zM356,551h3v3h-3zM357,551h3v3h-3zM358,551h3v3h-3zM359,550h3v3h-3zM360,549h3v3h-3zM361,549h3v3h-3zM362,550h3v3h-3zM363,550h3v3h-3zM364,550h3v3h-3zM365,550h3v3h-3zM366,550h3v3h-3zM367,550h3v3h-3zM368,550h3v3h-3zM369,550h3v3h-3zM370,550h3v3h-3zM371,550h3v3h-3zM372,550h3v3h-3zM373,550h3v3h-3zM374,550h3v3h-3zM375,550h3v3h-3zM376,550h3v3h-3zM377,550h3v3h-3zM378,550h3v3h-3zM379,550h3v3h-3zM380,550h3v3h-3zM381,550h3v3h-3zM382,550h3v3h-3zM383,550h3v3h-3zM384,550h3v3h-3zM385,550h3v3h-3zM386,551h3v3h-3zM387,551h3v3h-3zM388,551h3v3h-3zM389,550h3v3h-3zM390,550h3v3h-3zM391,550h3v3h-3zM392,550h3v3h-3zM393,550h3v3h-3zM394,550h3v3h-3zM395,550h3v3h-3zM396,550h3v3h-3zM397,550h3v3h-3zM398,550h3v3h-3zM399,550h3v3h-3zM400,550h3v3h-3zM401,550h3v3h-3zM402,550h3v3h-3zM403,550h3v3h-3zM404,550h3v3h-3zM405,550h3v3h-3zM406,550h3v3h-3zM407,551h3v3h-3zM408,551h3v3h-3zM409,551h3v3h-3zM410,551h3v3h-3zM411,550h3v3h-3zM412,550h3v3h-3zM413,550h3v3h-3zM414,550h3v3h-3zM415,550h3v3h-3zM416,550h3v3h-3zM417,550h3v3h-3zM418,550h3v3h-3zM419,550h3v3h-3zM420,550h3v3h-3zM421,550h3v3h-3zM422,550h3v3h-3zM423,550h3v3h-3zM424,551h3v4h-3zM425,552h3v3h-3zM426,552h3v3h-3zM427,552h3v3h-3zM428,552h3v3h-3zM429,552h3v3h-3zM430,552h3v3h-3zM431,552h3v3h-3zM432,552h3v3h-3zM433,551h3v3h-3zM434,551h3v3h-3zM435,551h3v3h-3zM436,551h3v3h-3zM437,551h3v3h-3zM438,551h3v3h-3zM439,551h3v3h-3zM440,551h3v3h-3zM441,551h3v3h-3zM442,551h3v3h-3zM443,551h3v3h-3zM444,551h3v3h-3zM445,551h3v3h-3zM446,550h3v3h-3zM447,551h3v4h-3zM448,552h3v3h-3zM449,552h3v3h-3zM450,552h3v3h-3zM451,552h3v3h-3zM452,552h3v3h-3zM453,553h3v3h-3zM454,553h3v3h-3zM455,553h3v3h-3zM456,552h3v3h-3zM457,551h3v3h-3zM458,550h3v3h-3zM459,550h3v3h-3zM460,550h3v3h-3zM461,550h3v3h-3zM462,550h3v3h-3zM463,550h3v3h-3zM464,550h3v3h-3zM465,550h3v3h-3zM466,550h3v3h-3zM467,550h3v3h-3zM468,550h3v3h-3zM469,550h3v3h-3zM470,550h3v3h-3zM471,550h3v3h-3zM472,550h3v3h-3zM473,550h3v3h-3zM474,551h3v3h-3zM475,551h3v3h-3zM476,551h3v3h-3zM477,552h3v3h-3zM478,552h3v3h-3zM479,552h3v3h-3zM480,552h3v3h-3zM481,552h3v3h-3zM482,553h3v3h-3zM483,553h3v3h-3zM484,553h3v3h-3zM485,553h3v3h-3zM486,553h3v3h-3zM487,552h3v3h-3zM488,552h3v3h-3zM489,551h3v3h-3zM490,550h3v3h-3zM491,550h3v3h-3zM492,550h3v3h-3zM493,550h3v3h-3zM494,550h3v3h-3zM495,550h3v3h-3zM496,550h3v3h-3zM497,550h3v3h-3zM498,550h3v3h-3zM499,550h3v3h-3zM500,550h3v3h-3zM501,550h3v3h-3zM502,550h3v3h-3zM503,550h3v3h-3zM504,550h3v3h-3zM505,550h3v3h-3zM506,550h3v3h-3zM507,550h3v3h-3zM508,550h3v3h-3zM509,550h3v3h-3zM510,550h3v3h-3zM511,551h3v3h-3zM512,551h3v3h-3zM513,551h3v3h-3zM514,552h3v3h-3zM515,552h3v3h-3zM516,553h3v3h-3zM517,552h3v3h-3zM518,552h3v3h-3zM519,552h3v3h-3zM520,551h3v3h-3zM521,551h3v3h-3zM522,551h3v3h-3zM523,551h3v3h-3zM524,551h3v3h-3zM525,551h3v3h-3zM526,551h3v3h-3zM527,552h3v3h-3zM528,552h3v3h-3zM529,552h3v3h-3zM530,552h3v3h-3zM531,552h3v3h-3zM532,552h3v3h-3zM533,552h3v3h-3zM534,552h3v3h-3zM535,552h3v3h-3zM536,553h3v3h-3zM537,553h3v3h-3zM538,553h3v3h-3zM539,553h3v3h-3zM540,553h3v3h-3zM541,552h3v3h-3zM542,552h3v3h-3zM543,553h3v3h-3zM544,554h3v5h-3zM545,553h3v5h-3zM546,553h3v3h-3zM547,552h3v3h-3zM548,551h3v3h-3zM549,551h3v3h-3zM550,552h3v3h-3zM551,552h3v3h-3zM552,553h3v3h-3zM553,554h3v4h-3zM554,555h3v3h-3zM555,554h3v3h-3zM556,554h3v3h-3zM557,554h3v3h-3zM558,554h3v3h-3zM559,554h3v3h-3zM560,554h3v3h-3zM561,554h3v3h-3zM562,554h3v3h-3zM563,554h3v3h-3zM564,554h3v3h-3zM565,554h3v3h-3zM566,553h3v3h-3zM567,553h3v3h-3zM568,552h3v3h-3zM569,552h3v3h-3zM570,552h3v3h-3zM571,551h3v3h-3zM572,551h3v3h-3zM573,552h3v3h-3zM574,552h3v3h-3zM575,553h3v3h-3zM576,553h3v3h-3zM577,554h3v3h-3zM578,554h3v3h-3zM579,554h3v3h-3zM580,554h3v3h-3zM581,554h3v3h-3zM582,554h3v3h-3zM583,554h3v3h-3zM584,554h3v3h-3zM585,554h3v3h-3zM586,555h3v3h-3zM587,553h3v4h-3zM588,551h3v4h-3zM589,551h3v3h-3zM590,551h3v3h-3zM591,551h3v3h-3zM592,551h3v3h-3zM593,551h3v3h-3zM594,551h3v3h-3zM595,551h3v3h-3zM596,551h3v3h-3zM597,551h3v3h-3zM598,551h3v3h-3zM599,551h3v3h-3zM600,551h3v3h-3zM601,551h3v3h-3zM602,551h3v3h-3zM603,551h3v3h-3zM604,551h3v3h-3zM605,551h3v3h-3zM606,551h3v3h-3zM607,551h3v3h-3zM608,551h3v3h-3zM609,551h3v3h-3zM610,551h3v3h-3zM611,551h3v3h-3zM612,551h3v3h-3zM613,551h3v3h-3zM614,551h3v3h-3zM615,550h3v3h-3zM616,550h3v3h-3zM617,550h3v3h-3zM618,550h3v3h-3zM619,550h3v3h-3zM620,550h3v3h-3zM621,550h3v3h-3zM622,551h3v3h-3zM623,552h3v3h-3zM624,552h3v3h-3zM625,553h3v3h-3zM626,552h3v3h-3zM627,552h3v3h-3zM628,551h3v3h-3zM629,551h3v3h-3zM630,552h3v3h-3zM631,552h3v3h-3zM632,552h3v3h-3zM633,552h3v3h-3zM634,552h3v3h-3zM635,552h3v3h-3zM636,552h3v3h-3zM637,552h3v3h-3zM638,552h3v3h-3zM639,552h3v3h-3zM640,552h3v3h-3zM641,551h3v3h-3zM642,551h3v3h-3zM643,551h3v3h-3zM644,551h3v3h-3zM645,551h3v3h-3zM646,551h3v3h-3zM647,551h3v3h-3zM648,550h3v3h-3zM649,550h3v3h-3zM650,550h3v3h-3zM651,550h3v3h-3zM652,550h3v3h-3zM653,550h3v3h-3zM654,549h3v3h-3zM655,549h3v3h-3zM656,549h3v3h-3zM657,549h3v3h-3zM658,550h3v4h-3zM659,551h3v3h-3zM660,551h3v3h-3zM661,550h3v3h-3zM662,550h3v3h-3zM663,550h3v3h-3zM664,550h3v3h-3zM665,549h3v3h-3zM666,549h3v3h-3zM667,549h3v3h-3zM668,549h3v3h-3zM669,549h3v3h-3zM670,549h3v3h-3zM671,549h3v3h-3zM672,549h3v3h-3zM673,548h3v3h-3zM674,547h3v3h-3zM675,547h3v3h-3zM676,546h3v3h-3zM677,546h3v3h-3zM678,547h3v3h-3zM679,548h3v3h-3zM680,549h3v3h-3zM681,549h3v3h-3zM682,550h3v3h-3zM683,551h3v3h-3zM684,550h3v3h-3zM685,550h3v3h-3zM686,549h3v3h-3zM687,549h3v3h-3zM688,548h3v3h-3zM689,549h3v3h-3zM690,550h3v3h-3zM691,551h3v3h-3zM692,552h3v3h-3zM693,553h3v3h-3zM694,551h3v4h-3zM695,550h3v3h-3zM696,549h3v3h-3zM697,548h3v3h-3zM698,548h3v3h-3zM699,548h3v3h-3zM700,548h3v3h-3zM701,548h3v3h-3z" fill="#fff" shape-rendering="crispEdges"/><path d="M103,553h1v1h-1zM104,553h1v1h-1zM105,553h1v1h-1zM106,553h1v1h-1zM107,553h1v1h-1zM108,553h1v1h-1zM109,552h1v1h-1zM110,552h1v1h-1zM111,553h1v1h-1zM112,553h1v1h-1zM113,553h1v1h-1zM114,553h1v1h-1zM115,554h1v1h-1zM116,554h1v1h-1zM117,554h1v1h-1zM118,554h1v1h-1zM119,554h1v1h-1zM120,554h1v1h-1zM121,554h1v1h-1zM122,554h1v1h-1zM123,554h1v1h-1zM124,554h1v1h-1zM125,554h1v1h-1zM126,554h1v1h-1zM127,554h1v1h-1zM128,554h1v1h-1zM129,554h1v1h-1zM130,554h1v1h-1zM131,554h1v1h-1zM132,554h1v1h-1zM133,554h1v1h-1zM134,554h1v1h-1zM135,554h1v1h-1zM136,554h1v1h-1zM137,554h1v1h-1zM138,554h1v1h-1zM139,555h1v1h-1zM140,555h1v1h-1zM141,555h1v1h-1zM142,555h1v1h-1zM143,555h1v1h-1zM144,555h1v1h-1zM145,555h1v1h-1zM146,555h1v1h-1zM147,555h1v1h-1zM148,555h1v1h-1zM149,555h1v1h-1zM150,555h1v1h-1zM151,555h1v1h-1zM152,555h1v1h-1zM153,555h1v1h-1zM154,555h1v1h-1zM155,555h1v1h-1zM156,555h1v1h-1zM157,555h1v1h-1zM158,554h1v1h-1zM159,554h1v1h-1zM160,554h1v1h-1zM161,553h1v1h-1zM162,553h1v1h-1zM163,553h1v1h-1zM164,553h1v1h-1zM165,553h1v1h-1zM166,553h1v1h-1zM167,553h1v1h-1zM168,553h1v1h-1zM169,553h1v1h-1zM170,553h1v1h-1zM171,554h1v1h-1zM172,554h1v1h-1zM173,554h1v1h-1zM174,554h1v1h-1zM175,554h1v1h-1zM176,554h1v1h-1zM177,554h1v1h-1zM178,554h1v1h-1zM179,554h1v1h-1zM180,554h1v1h-1zM181,554h1v1h-1zM182,554h1v1h-1zM183,554h1v1h-1zM184,554h1v1h-1zM185,554h1v1h-1zM186,554h1v1h-1zM187,553h1v1h-1zM188,553h1v1h-1zM189,553h1v1h-1zM190,553h1v1h-1zM191,553h1v1h-1zM192,553h1v1h-1zM193,553h1v1h-1zM194,553h1v1h-1zM195,553h1v1h-1zM196,553h1v1h-1zM197,553h1v1h-1zM198,553h1v1h-1zM199,552h1v1h-1zM200,552h1v1h-1zM201,552h1v1h-1zM202,552h1v1h-1zM203,552h1v1h-1zM204,552h1v1h-1zM205,552h1v1h-1zM206,552h1v1h-1zM207,552h1v1h-1zM208,552h1v1h-1zM209,552h1v1h-1zM210,552h1v1h-1zM211,552h1v1h-1zM212,552h1v1h-1zM213,552h1v1h-1zM214,552h1v1h-1zM215,552h1v1h-1zM216,552h1v1h-1zM217,552h1v1h-1zM218,553h1v1h-1zM219,553h1v1h-1zM220,553h1v1h-1zM221,553h1v1h-1zM222,553h1v1h-1zM223,553h1v1h-1zM224,553h1v1h-1zM225,553h1v1h-1zM226,553h1v1h-1zM227,553h1v1h-1zM228,553h1v1h-1zM229,553h1v1h-1zM230,553h1v1h-1zM231,553h1v1h-1zM232,553h1v1h-1zM233,553h1v1h-1zM234,553h1v1h-1zM235,553h1v1h-1zM236,553h1v1h-1zM237,552h1v1h-1zM238,552h1v1h-1zM239,552h1v1h-1zM240,552h1v1h-1zM241,552h1v1h-1zM242,552h1v1h-1zM243,552h1v1h-1zM244,552h1v1h-1zM245,552h1v1h-1zM246,553h1v1h-1zM247,553h1v1h-1zM248,553h1v1h-1zM249,553h1v1h-1zM250,553h1v1h-1zM251,553h1v1h-1zM252,553h1v1h-1zM253,553h1v1h-1zM254,553h1v1h-1zM255,554h1v1h-1zM256,554h1v1h-1zM257,554h1v1h-1zM258,554h1v1h-1zM259,554h1v1h-1zM260,554h1v1h-1zM261,554h1v1h-1zM262,554h1v1h-1zM263,554h1v1h-1zM264,554h1v1h-1zM265,554h1v1h-1zM266,554h1v1h-1zM267,554h1v1h-1zM268,554h1v1h-1zM269,554h1v1h-1zM270,554h1v1h-1zM271,554h1v1h-1zM272,554h1v1h-1zM273,554h1v1h-1zM274,554h1v1h-1zM275,554h1v1h-1zM276,553h1v1h-1zM277,553h1v1h-1zM278,553h1v1h-1zM279,553h1v1h-1zM280,553h1v1h-1zM281,552h1v1h-1zM282,552h1v1h-1zM283,552h1v1h-1zM284,552h1v1h-1zM285,551h1v1h-1zM286,551h1v1h-1zM287,551h1v1h-1zM288,551h1v1h-1zM289,551h1v1h-1zM290,551h1v1h-1zM291,551h1v1h-1zM292,551h1v1h-1zM293,552h1v1h-1zM294,552h1v1h-1zM295,553h1v1h-1zM296,553h1v1h-1zM297,554h1v1h-1zM298,554h1v1h-1zM299,554h1v1h-1zM300,553h1v1h-1zM301,553h1v1h-1zM302,553h1v1h-1zM303,553h1v1h-1zM304,553h1v1h-1zM305,553h1v1h-1zM306,552h1v1h-1zM307,552h1v1h-1zM308,552h1v1h-1zM309,552h1v1h-1zM310,552h1v1h-1zM311,552h1v1h-1zM312,551h1v1h-1zM313,551h1v1h-1zM314,551h1v1h-1zM315,551h1v1h-1zM316,551h1v1h-1zM317,551h1v1h-1zM318,551h1v1h-1zM319,551h1v1h-1zM320,551h1v1h-1zM321,551h1v1h-1zM322,551h1v1h-1zM323,551h1v1h-1zM324,551h1v1h-1zM325,551h1v1h-1zM326,551h1v1h-1zM327,551h1v1h-1zM328,551h1v1h-1zM329,551h1v1h-1zM330,551h1v1h-1zM331,551h1v1h-1zM332,551h1v1h-1zM333,551h1v1h-1zM334,552h1v1h-1zM335,553h1v1h-1zM336,553h1v1h-1zM337,552h1v1h-1zM338,552h1v1h-1zM339,552h1v1h-1zM340,552h1v1h-1zM341,552h1v1h-1zM342,552h1v1h-1zM343,551h1v1h-1zM344,551h1v1h-1zM345,551h1v1h-1zM346,551h1v1h-1zM347,551h1v1h-1zM348,551h1v1h-1zM349,551h1v1h-1zM350,551h1v1h-1zM351,552h1v1h-1zM352,552h1v1h-1zM353,552h1v1h-1zM354,552h1v1h-1zM355,552h1v1h-1zM356,552h1v1h-1zM357,552h1v1h-1zM358,552h1v1h-1zM359,552h1v1h-1zM360,551h1v1h-1zM361,550h1v1h-1zM362,550h1v1h-1zM363,551h1v1h-1zM364,551h1v1h-1zM365,551h1v1h-1zM366,551h1v1h-1zM367,551h1v1h-1zM368,551h1v1h-1zM369,551h1v1h-1zM370,551h1v1h-1zM371,551h1v1h-1zM372,551h1v1h-1zM373,551h1v1h-1zM374,551h1v1h-1zM375,551h1v1h-1zM376,551h1v1h-1zM377,551h1v1h-1zM378,551h1v1h-1zM379,551h1v1h-1zM380,551h1v1h-1zM381,551h1v1h-1zM382,551h1v1h-1zM383,551h1v1h-1zM384,551h1v1h-1zM385,551h1v1h-1zM386,551h1v1h-1zM387,552h1v1h-1zM388,552h1v1h-1zM389,552h1v1h-1zM390,551h1v1h-1zM391,551h1v1h-1zM392,551h1v1h-1zM393,551h1v1h-1zM394,551h1v1h-1zM395,551h1v1h-1zM396,551h1v1h-1zM397,551h1v1h-1zM398,551h1v1h-1zM399,551h1v1h-1zM400,551h1v1h-1zM401,551h1v1h-1zM402,551h1v1h-1zM403,551h1v1h-1zM404,551h1v1h-1zM405,551h1v1h-1zM406,551h1v1h-1zM407,551h1v1h-1zM408,552h1v1h-1zM409,552h1v1h-1zM410,552h1v1h-1zM411,552h1v1h-1zM412,551h1v1h-1zM413,551h1v1h-1zM414,551h1v1h-1zM415,551h1v1h-1zM416,551h1v1h-1zM417,551h1v1h-1zM418,551h1v1h-1zM419,551h1v1h-1zM420,551h1v1h-1zM421,551h1v1h-1zM422,551h1v1h-1zM423,551h1v1h-1zM424,551h1v1h-1zM425,552h1v2h-1zM426,553h1v1h-1zM427,553h1v1h-1zM428,553h1v1h-1zM429,553h1v1h-1zM430,553h1v1h-1zM431,553h1v1h-1zM432,553h1v1h-1zM433,553h1v1h-1zM434,552h1v1h-1zM435,552h1v1h-1zM436,552h1v1h-1zM437,552h1v1h-1zM438,552h1v1h-1zM439,552h1v1h-1zM440,552h1v1h-1zM441,552h1v1h-1zM442,552h1v1h-1zM443,552h1v1h-1zM444,552h1v1h-1zM445,552h1v1h-1zM446,552h1v1h-1zM447,551h1v1h-1zM448,552h1v2h-1zM449,553h1v1h-1zM450,553h1v1h-1zM451,553h1v1h-1zM452,553h1v1h-1zM453,553h1v1h-1zM454,554h1v1h-1zM455,554h1v1h-1zM456,554h1v1h-1zM457,553h1v1h-1zM458,552h1v1h-1zM459,551h1v1h-1zM460,551h1v1h-1zM461,551h1v1h-1zM462,551h1v1h-1zM463,551h1v1h-1zM464,551h1v1h-1zM465,551h1v1h-1zM466,551h1v1h-1zM467,551h1v1h-1zM468,551h1v1h-1zM469,551h1v1h-1zM470,551h1v1h-1zM471,551h1v1h-1zM472,551h1v1h-1zM473,551h1v1h-1zM474,551h1v1h-1zM475,552h1v1h-1zM476,552h1v1h-1zM477,552h1v1h-1zM478,553h1v1h-1zM479,553h1v1h-1zM480,553h1v1h-1zM481,553h1v1h-1zM482,553h1v1h-1zM483,554h1v1h-1zM484,554h1v1h-1zM485,554h1v1h-1zM486,554h1v1h-1zM487,554h1v1h-1zM488,553h1v1h-1zM489,553h1v1h-1zM490,552h1v1h-1zM491,551h1v1h-1zM492,551h1v1h-1zM493,551h1v1h-1zM494,551h1v1h-1zM495,551h1v1h-1zM496,551h1v1h-1zM497,551h1v1h-1zM498,551h1v1h-1zM499,551h1v1h-1zM500,551h1v1h-1zM501,551h1v1h-1zM502,551h1v1h-1zM503,551h1v1h-1zM504,551h1v1h-1zM505,551h1v1h-1zM506,551h1v1h-1zM507,551h1v1h-1zM508,551h1v1h-1zM509,551h1v1h-1zM510,551h1v1h-1zM511,551h1v1h-1zM512,552h1v1h-1zM513,552h1v1h-1zM514,552h1v1h-1zM515,553h1v1h-1zM516,553h1v1h-1zM517,554h1v1h-1zM518,553h1v1h-1zM519,553h1v1h-1zM520,553h1v1h-1zM521,552h1v1h-1zM522,552h1v1h-1zM523,552h1v1h-1zM524,552h1v1h-1zM525,552h1v1h-1zM526,552h1v1h-1zM527,552h1v1h-1zM528,553h1v1h-1zM529,553h1v1h-1zM530,553h1v1h-1zM531,553h1v1h-1zM532,553h1v1h-1zM533,553h1v1h-1zM534,553h1v1h-1zM535,553h1v1h-1zM536,553h1v1h-1zM537,554h1v1h-1zM538,554h1v1h-1zM539,554h1v1h-1zM540,554h1v1h-1zM541,554h1v1h-1zM542,553h1v1h-1zM543,553h1v1h-1zM544,554h1v1h-1zM545,555h1v3h-1zM546,554h1v3h-1zM547,554h1v1h-1zM548,553h1v1h-1zM549,552h1v1h-1zM550,552h1v1h-1zM551,553h1v1h-1zM552,553h1v1h-1zM553,554h1v1h-1zM554,555h1v2h-1zM555,556h1v1h-1zM556,555h1v1h-1zM557,555h1v1h-1zM558,555h1v1h-1zM559,555h1v1h-1zM560,555h1v1h-1zM561,555h1v1h-1zM562,555h1v1h-1zM563,555h1v1h-1zM564,555h1v1h-1zM565,555h1v1h-1zM566,555h1v1h-1zM567,554h1v1h-1zM568,554h1v1h-1zM569,553h1v1h-1zM570,553h1v1h-1zM571,553h1v1h-1zM572,552h1v1h-1zM573,552h1v1h-1zM574,553h1v1h-1zM575,553h1v1h-1zM576,554h1v1h-1zM577,554h1v1h-1zM578,555h1v1h-1zM579,555h1v1h-1zM580,555h1v1h-1zM581,555h1v1h-1zM582,555h1v1h-1zM583,555h1v1h-1zM584,555h1v1h-1zM585,555h1v1h-1zM586,555h1v1h-1zM587,556h1v1h-1zM588,554h1v2h-1zM589,552h1v2h-1zM590,552h1v1h-1zM591,552h1v1h-1zM592,552h1v1h-1zM593,552h1v1h-1zM594,552h1v1h-1zM595,552h1v1h-1zM596,552h1v1h-1zM597,552h1v1h-1zM598,552h1v1h-1zM599,552h1v1h-1zM600,552h1v1h-1zM601,552h1v1h-1zM602,552h1v1h-1zM603,552h1v1h-1zM604,552h1v1h-1zM605,552h1v1h-1zM606,552h1v1h-1zM607,552h1v1h-1zM608,552h1v1h-1zM609,552h1v1h-1zM610,552h1v1h-1zM611,552h1v1h-1zM612,552h1v1h-1zM613,552h1v1h-1zM614,552h1v1h-1zM615,552h1v1h-1zM616,551h1v1h-1zM617,551h1v1h-1zM618,551h1v1h-1zM619,551h1v1h-1zM620,551h1v1h-1zM621,551h1v1h-1zM622,551h1v1h-1zM623,552h1v1h-1zM624,553h1v1h-1zM625,553h1v1h-1zM626,554h1v1h-1zM627,553h1v1h-1zM628,553h1v1h-1zM629,552h1v1h-1zM630,552h1v1h-1zM631,553h1v1h-1zM632,553h1v1h-1zM633,553h1v1h-1zM634,553h1v1h-1zM635,553h1v1h-1zM636,553h1v1h-1zM637,553h1v1h-1zM638,553h1v1h-1zM639,553h1v1h-1zM640,553h1v1h-1zM641,553h1v1h-1zM642,552h1v1h-1zM643,552h1v1h-1zM644,552h1v1h-1zM645,552h1v1h-1zM646,552h1v1h-1zM647,552h1v1h-1zM648,552h1v1h-1zM649,551h1v1h-1zM650,551h1v1h-1zM651,551h1v1h-1zM652,551h1v1h-1zM653,551h1v1h-1zM654,551h1v1h-1zM655,550h1v1h-1zM656,550h1v1h-1zM657,550h1v1h-1zM658,550h1v1h-1zM659,551h1v2h-1zM660,552h1v1h-1zM661,552h1v1h-1zM662,551h1v1h-1zM663,551h1v1h-1zM664,551h1v1h-1zM665,551h1v1h-1zM666,550h1v1h-1zM667,550h1v1h-1zM668,550h1v1h-1zM669,550h1v1h-1zM670,550h1v1h-1zM671,550h1v1h-1zM672,550h1v1h-1zM673,550h1v1h-1zM674,549h1v1h-1zM675,548h1v1h-1zM676,548h1v1h-1zM677,547h1v1h-1zM678,547h1v1h-1zM679,548h1v1h-1zM680,549h1v1h-1zM681,550h1v1h-1zM682,550h1v1h-1zM683,551h1v1h-1zM684,552h1v1h-1zM685,551h1v1h-1zM686,551h1v1h-1zM687,550h1v1h-1zM688,550h1v1h-1zM689,549h1v1h-1zM690,550h1v1h-1zM691,551h1v1h-1zM692,552h1v1h-1zM693,553h1v1h-1zM694,554h1v1h-1zM695,552h1v2h-1zM696,551h1v1h-1zM697,550h1v1h-1zM698,549h1v1h-1zM699,549h1v1h-1zM700,549h1v1h-1zM701,549h1v1h-1zM702,549h1v1h-1z" fill="#000" shape-rendering="crispEdges"/>
<rect x="100" y="196" width="604" height="1" fill="#000"/>
<rect x="100" y="399" width="604" height="1" fill="#000"/>
<rect x="100" y="196" width="1" height="204" fill="#000"/>
<rect x="703" y="196" width="1" height="204" fill="#000"/>
<rect x="100" y="476" width="604" height="1" fill="#000"/>
<rect x="100" y="619" width="604" height="1" fill="#000"/>
<rect x="100" y="476" width="1" height="144" fill="#000"/>
<rect x="703" y="476" width="1" height="144" fill="#000"/>
<rect x="102" y="186" width="1" height="10" fill="#000"/>
<rect x="127" y="191" width="1" height="5" fill="#000"/>
<rect x="152" y="191" width="1" height="5" fill="#000"/>
<rect x="177" y="191" width="1" height="5" fill="#000"/>
<rect x="202" y="186" width="1" height="10" fill="#000"/>
<rect x="227" y="191" width="1" height="5" fill="#000"/>
<rect x="252" y="191" width="1" height="5" fill="#000"/>
<rect x="277" y="191" width="1" height="5" fill="#000"/>
<rect x="302" y="186" width="1" height="10" fill="#000"/>
<rect x="327" y="191" width="1" height="5" fill="#000"/>
<rect x="352" y="191" width="1" height="5" fill="#000"/>
<rect x="377" y="191" width="1" height="5" fill="#000"/>
<rect x="402" y="186" width="1" height="10" fill="#000"/>
<rect x="427" y="191" width="1" height="5" fill="#000"/>
<rect x="452" y="191" width="1" height="5" fill="#000"/>
<rect x="477" y="191" width="1" height="5" fill="#000"/>
<rect x="502" y="186" width="1" height="10" fill="#000"/>
<rect x="527" y="191" width="1" height="5" fill="#000"/>
<rect x="552" y="191" width="1" height="5" fill="#000"/>
<rect x="577" y="191" width="1" height="5" fill="#000"/>
<rect x="602" y="186" width="1" height="10" fill="#000"/>
<rect x="627" y="191" width="1" height="5" fill="#000"/>
<rect x="652" y="191" width="1" height="5" fill="#000"/>
<rect x="677" y="191" width="1" height="5" fill="#000"/>
<rect x="702" y="186" width="1" height="10" fill="#000"/>
<rect x="102" y="400" width="1" height="10" fill="#000"/>
<rect x="127" y="400" width="1" height="5" fill="#000"/>
<rect x="152" y="400" width="1" height="5" fill="#000"/>
<rect x="177" y="400" width="1" height="5" fill="#000"/>
<rect x="202" y="400" width="1" height="10" fill="#000"/>
<rect x="227" y="400" width="1" height="5" fill="#000"/>
<rect x="252" y="400" width="1" height="5" fill="#000"/>
<rect x="277" y="400" width="1" height="5" fill="#000"/>
<rect x="302" y="400" width="1" height="10" fill="#000"/>
<rect x="327" y="400" width="1" height="5" fill="#000"/>
<rect x="352" y="400" width="1" height="5" fill="#000"/>
<rect x="377" y="400" width="1" height="5" fill="#000"/>
<rect x="402" y="400" width="1" height="10" fill="#000"/>
<rect x="427" y="400" width="1" height="5" fill="#000"/>
<rect x="452" y="400" width="1" height="5" fill="#000"/>
<rect x="477" y="400" width="1" height="5" fill="#000"/>
<rect x="502" y="400" width="1" height="10" fill="#000"/>
<rect x="527" y="400" width="1" height="5" fill="#000"/>
<rect x="552" y="400" width="1" height="5" fill="#000"/>
<rect x="577" y="400" width="1" height="5" fill="#000"/>
<rect x="602" y="400" width="1" height="10" fill="#000"/>
<rect x="627" y="400" width="1" height="5" fill="#000"/>
<rect x="652" y="400" width="1" height="5" fill="#000"/>
<rect x="677" y="400" width="1" height="5" fill="#000"/>
<rect x="702" y="400" width="1" height="10" fill="#000"/>
<rect x="102" y="466" width="1" height="10" fill="#000"/>
<rect x="127" y="471" width="1" height="5" fill="#000"/>
<rect x="152" y="471" width="1" height="5" fill="#000"/>
<rect x="177" y="471" width="1" height="5" fill="#000"/>
<rect x="202" y="466" width="1" height="10" fill="#000"/>
<rect x="227" y="471" width="1" height="5" fill="#000"/>
<rect x="252" y="471" width="1" height="5" fill="#000"/>
<rect x="277" y="471" width="1" height="5" fill="#000"/>
<rect x="302" y="466" width="1" height="10" fill="#000"/>
<rect x="327" y="471" width="1" height="5" fill="#000"/>
<rect x="352" y="471" width="1" height="5" fill="#000"/>
<rect x="377" y="471" width="1" height="5" fill="#000"/>
<rect x="402" y="466" width="1" height="10" fill="#000"/>
<rect x="427" y="471" width="1" height="5" fill="#000"/>
<rect x="452" y="471" width="1" height="5" fill="#000"/>
<rect x="477" y="471" width="1" height="5" fill="#000"/>
<rect x="502" y="466" width="1" height="10" fill="#000"/>
<rect x="527" y="471" width="1" height="5" fill="#000"/>
<rect x="552" y="471" width="1" height="5" fill="#000"/>
<rect x="577" y="471" width="1" height="5" fill="#000"/>
<rect x="602" y="466" width="1" height="10" fill="#000"/>
<rect x="627" y="471" width="1" height="5" fill="#000"/>
<rect x="652" y="471" width="1" height="5" fill="#000"/>
<rect x="677" y="471" width="1" height="5" fill="#000"/>
<rect x="702" y="466" width="1" height="10" fill="#000"/>
<rect x="102" y="620" width="1" height="10" fill="#000"/>
<rect x="127" y="620" width="1" height="5" fill="#000"/>
<rect x="152" y="620" width="1" height="5" fill="#000"/>
<rect x="177" y="620" width="1" height="5" fill="#000"/>
<rect x="202" y="620" width="1" height="10" fill="#000"/>
<rect x="227" y="620" width="1" height="5" fill="#000"/>
<rect x="252" y="620" width="1" height="5" fill="#000"/>
<rect x="277" y="620" width="1" height="5" fill="#000"/>
<rect x="302" y="620" width="1" height="10" fill="#000"/>
<rect x="327" y="620" width="1" height="5" fill="#000"/>
<rect x="352" y="620" width="1" height="5" fill="#000"/>
<rect x="377" y="620" width="1" height="5" fill="#000"/>
<rect x="402" y="620" width="1" height="10" fill="#000"/>
<rect x="427" y="620" width="1" height="5" fill="#000"/>
<rect x="452" y="620" width="1" height="5" fill="#000"/>
<rect x="477" y="620" width="1" height="5" fill="#000"/>
<rect x="502" y="620" width="1" height="10" fill="#000"/>
<rect x="527" y="620" width="1" height="5" fill="#000"/>
<rect x="552" y="620" width="1" height="5" fill="#000"/>
<rect x="577" y="620" width="1" height="5" fill="#000"/>
<rect x="602" y="620" width="1" height="10" fill="#000"/>
<rect x="627" y="620" width="1" height="5" fill="#000"/>
<rect x="652" y="620" width="1" height="5" fill="#000"/>
<rect x="677" y="620" width="1" height="5" fill="#000"/>
<rect x="702" y="620" width="1" height="10" fill="#000"/>
<rect x="95" y="394" width="5" height="1" fill="#000"/>
<rect x="704" y="394" width="5" height="1" fill="#000"/>
<rect x="95" y="391" width="5" height="1" fill="#000"/>
<rect x="704" y="391" width="5" height="1" fill="#000"/>
<rect x="95" y="388" width="5" height="1" fill="#000"/>
<rect x="704" y="388" width="5" height="1" fill="#000"/>
<rect x="95" y="386" width="5" height="1" fill="#000"/>
<rect x="704" y="386" width="5" height="1" fill="#000"/>
<rect x="95" y="384" width="5" height="1" fill="#000"/>
<rect x="704" y="384" width="5" height="1" fill="#000"/>
<rect x="90" y="382" width="10" height="1" fill="#000"/>
<rect x="704" y="382" width="10" height="1" fill="#000"/>
<rect x="95" y="370" width="5" height="1" fill="#000"/>
<rect x="704" y="370" width="5" height="1" fill="#000"/>
<rect x="95" y="363" width="5" height="1" fill="#000"/>
<rect x="704" y="363" width="5" height="1" fill="#000"/>
<rect x="95" y="358" width="5" height="1" fill="#000"/>
<rect x="704" y="358" width="5" height="1" fill="#000"/>
<rect x="95" y="354" width="5" height="1" fill="#000"/>
<rect x="704" y="354" width="5" height="1" fill="#000"/>
<rect x="95" y="351" width="5" height="1" fill="#000"/>
<rect x="704" y="351" width="5" height="1" fill="#000"/>
<rect x="95" y="348" width="5" height="1" fill="#000"/>
<rect x="704" y="348" width="5" height="1" fill="#000"/>
<rect x="95" y="346" width="5" height="1" fill="#000"/>
<rect x="704" y="346" width="5" height="1" fill="#000"/>
<rect x="95" y="344" width="5" height="1" fill="#000"/>
<rect x="704" y="344" width="5" height="1" fill="#000"/>
<rect x="90" y="342" width="10" height="1" fill="#000"/>
<rect x="704" y="342" width="10" height="1" fill="#000"/>
<rect x="95" y="330" width="5" height="1" fill="#000"/>
<rect x="704" y="330" width="5" height="1" fill="#000"/>
<rect x="95" y="323" width="5" height="1" fill="#000"/>
<rect x="704" y="323" width="5" height="1" fill="#000"/>
<rect x="95" y="318" width="5" height="1" fill="#000"/>
<rect x="704" y="318" width="5" height="1" fill="#000"/>
<rect x="95" y="314" width="5" height="1" fill="#000"/>
<rect x="704" y="314" width="5" height="1" fill="#000"/>
<rect x="95" y="311" width="5" height="1" fill="#000"/>
<rect x="704" y="311" width="5" height="1" fill="#000"/>
<rect x="95" y="308" width="5" height="1" fill="#000"/>
<rect x="704" y="308" width="5" height="1" fill="#000"/>
<rect x="95" y="306" width="5" height="1" fill="#000"/>
<rect x="704" y="306" width="5" height="1" fill="#000"/>
<rect x="95" y="304" width="5" height="1" fill="#000"/>
<rect x="704" y="304" width="5" height="1" fill="#000"/>
<rect x="90" y="302" width="10" height="1" fill="#000"/>
<rect x="704" y="302" width="10" height="1" fill="#000"/>
<rect x="95" y="290" width="5" height="1" fill="#000"/>
<rect x="704" y="290" width="5" height="1" fill="#000"/>
<rect x="95" y="283" width="5" height="1" fill="#000"/>
<rect x="704" y="283" width="5" height="1" fill="#000"/>
<rect x="95" y="278" width="5" height="1" fill="#000"/>
<rect x="704" y="278" width="5" height="1" fill="#000"/>
<rect x="95" y="274" width="5" height="1" fill="#000"/>
<rect x="704" y="274" width="5" height="1" fill="#000"/>
<rect x="95" y="271" width="5" height="1" fill="#000"/>
<rect x="704" y="271" width="5" height="1" fill="#000"/>
<rect x="95" y="268" width="5" height="1" fill="#000"/>
<rect x="704" y="268" width="5" height="1" fill="#000"/>
<rect x="95" y="266" width="5" height="1" fill="#000"/>
<rect x="704" y="266" width="5" height="1" fill="#000"/>
<rect x="95" y="264" width="5" height="1" fill="#000"/>
<rect x="704" y="264" width="5" height="1" fill="#000"/>
<rect x="90" y="262" width="10" height="1" fill="#000"/>
<rect x="704" y="262" width="10" height="1" fill="#000"/>
<rect x="95" y="250" width="5" height="1" fill="#000"/>
<rect x="704" y="250" width="5" height="1" fill="#000"/>
<rect x="95" y="243" width="5" height="1" fill="#000"/>
<rect x="704" y="243" width="5" height="1" fill="#000"/>
<rect x="95" y="238" width="5" height="1" fill="#000"/>
<rect x="704" y="238" width="5" height="1" fill="#000"/>
<rect x="95" y="234" width="5" height="1" fill="#000"/>
<rect x="704" y="234" width="5" height="1" fill="#000"/>
<rect x="95" y="231" width="5" height="1" fill="#000"/>
<rect x="704" y="231" width="5" height="1" fill="#000"/>
<rect x="95" y="228" width="5" height="1" fill="#000"/>
<rect x="704" y="228" width="5" height="1" fill="#000"/>
<rect x="95" y="226" width="5" height="1" fill="#000"/>
<rect x="704" y="226" width="5" height="1" fill="#000"/>
<rect x="95" y="224" width="5" height="1" fill="#000"/>
<rect x="704" y="224" width="5" height="1" fill="#000"/>
<rect x="90" y="222" width="10" height="1" fill="#000"/>
<rect x="704" y="222" width="10" height="1" fill="#000"/>
<rect x="95" y="210" width="5" height="1" fill="#000"/>
<rect x="704" y="210" width="5" height="1" fill="#000"/>
<rect x="95" y="203" width="5" height="1" fill="#000"/>
<rect x="704" y="203" width="5" height="1" fill="#000"/>
<rect x="95" y="198" width="5" height="1" fill="#000"/>
<rect x="704" y="198" width="5" height="1" fill="#000"/>
<rect x="95" y="614" width="5" height="1" fill="#000"/>
<rect x="704" y="614" width="5" height="1" fill="#000"/>
<rect x="95" y="611" width="5" height="1" fill="#000"/>
<rect x="704" y="611" width="5" height="1" fill="#000"/>
<rect x="95" y="608" width="5" height="1" fill="#000"/>
<rect x="704" y="608" width="5" height="1" fill="#000"/>
<rect x="95" y="606" width="5" height="1" fill="#000"/>
<rect x="704" y="606" width="5" height="1" fill="#000"/>
<rect x="95" y="604" width="5" height="1" fill="#000"/>
<rect x="704" y="604" width="5" height="1" fill="#000"/>
<rect x="90" y="602" width="10" height="1" fill="#000"/>
<rect x="704" y="602" width="10" height="1" fill="#000"/>
<rect x="95" y="590" width="5" height="1" fill="#000"/>
<rect x="704" y="590" width="5" height="1" fill="#000"/>
<rect x="95" y="583" width="5" height="1" fill="#000"/>
<rect x="704" y="583" width="5" height="1" fill="#000"/>
<rect x="95" y="578" width="5" height="1" fill="#000"/>
<rect x="704" y="578" width="5" height="1" fill="#000"/>
<rect x="95" y="574" width="5" height="1" fill="#000"/>
<rect x="704" y="574" width="5" height="1" fill="#000"/>
<rect x="95" y="571" width="5" height="1" fill="#000"/>
<rect x="704" y="571" width="5" height="1" fill="#000"/>
<rect x="95" y="568" width="5" height="1" fill="#000"/>
<rect x="704" y="568" width="5" height="1" fill="#000"/>
<rect x="95" y="566" width="5" height="1" fill="#000"/>
<rect x="704" y="566" width="5" height="1" fill="#000"/>
<rect x="95" y="564" width="5" height="1" fill="#000"/>
<rect x="704" y="564" width="5" height="1" fill="#000"/>
<rect x="90" y="562" width="10" height="1" fill="#000"/>
<rect x="704" y="562" width="10" height="1" fill="#000"/>
<rect x="95" y="550" width="5" height="1" fill="#000"/>
<rect x="704" y="550" width="5" height="1" fill="#000"/>
<rect x="95" y="543" width="5" height="1" fill="#000"/>
<rect x="704" y="543" width="5" height="1" fill="#000"/>
<rect x="95" y="538" width="5" height="1" fill="#000"/>
<rect x="704" y="538" width="5" height="1" fill="#000"/>
<rect x="95" y="534" width="5" height="1" fill="#000"/>
<rect x="704" y="534" width="5" height="1" fill="#000"/>
<rect x="95" y="531" width="5" height="1" fill="#000"/>
<rect x="704" y="531" width="5" height="1" fill="#000"/>
<rect x="95" y="528" width="5" height="1" fill="#000"/>
<rect x="704" y="528" width="5" height="1" fill="#000"/>
<rect x="95" y="526" width="5" height="1" fill="#000"/>
<rect x="704" y="526" width="5" height="1" fill="#000"/>
<rect x="95" y="524" width="5" height="1" fill="#000"/>
<rect x="704" y="524" width="5" height="1" fill="#000"/>
<rect x="90" y="522" width="10" height="1" fill="#000"/>
<rect x="704" y="522" width="10" height="1" fill="#000"/>
<rect x="95" y="510" width="5" height="1" fill="#000"/>
<rect x="704" y="510" width="5" height="1" fill="#000"/>
<rect x="95" y="503" width="5" height="1" fill="#000"/>
<rect x="704" y="503" width="5" height="1" fill="#000"/>
<rect x="95" y="498" width="5" height="1" fill="#000"/>
<rect x="704" y="498" width="5" height="1" fill="#000"/>
<rect x="95" y="494" width="5" height="1" fill="#000"/>
<rect x="704" y="494" width="5" height="1" fill="#000"/>
<rect x="95" y="491" width="5" height="1" fill="#000"/>
<rect x="704" y="491" width="5" height="1" fill="#000"/>
<rect x="95" y="488" width="5" height="1" fill="#000"/>
<rect x="704" y="488" width="5" height="1" fill="#000"/>
<rect x="95" y="486" width="5" height="1" fill="#000"/>
<rect x="704" y="486" width="5" height="1" fill="#000"/>
<rect x="95" y="484" width="5" height="1" fill="#000"/>
<rect x="704" y="484" width="5" height="1" fill="#000"/>
<rect x="90" y="482" width="10" height="1" fill="#000"/>
<rect x="704" y="482" width="10" height="1" fill="#000"/>
<rect x="103" y="420" width="600" height="9" fill="#000"/>
<rect x="103" y="435" width="600" height="9" fill="#000"/>
<rect x="103" y="458" width="600" height="1" fill="#000"/>
<rect x="164" y="450" width="1" height="8" fill="#000"/>
<rect x="166" y="450" width="1" height="8" fill="#000"/>
<rect x="235" y="450" width="1" height="8" fill="#000"/>
<rect x="237" y="450" width="1" height="8" fill="#000"/>
<rect x="306" y="450" width="1" height="8" fill="#000"/>
<rect x="308" y="450" width="1" height="8" fill="#000"/>
<rect x="377" y="450" width="1" height="8" fill="#000"/>
<rect x="379" y="450" width="1" height="8" fill="#000"/>
<rect x="448" y="450" width="1" height="8" fill="#000"/>
<rect x="450" y="450" width="1" height="8" fill="#000"/>
<rect x="519" y="450" width="1" height="8" fill="#000"/>
<rect x="521" y="450" width="1" height="8" fill="#000"/>
<rect x="590" y="450" width="1" height="8" fill="#000"/>
<rect x="592" y="450" width="1" height="8" fill="#000"/>
<rect x="661" y="450" width="1" height="8" fill="#000"/>
<rect x="663" y="450" width="1" height="8" fill="#000"/>
<rect x="103" y="673" width="600" height="1" fill="#000"/>
<rect x="800" y="246" width="24" height="1" fill="#000"/>
<rect x="800" y="375" width="24" height="1" fill="#000"/>
<rect x="800" y="246" width="1" height="130" fill="#000"/>
<rect x="823" y="246" width="1" height="130" fill="#000"/>
<rect x="802" y="248" width="20" height="126" fill="url(#cb)"/>
<rect x="824" y="248" width="10" height="1" fill="#000"/>
<rect x="824" y="266" width="5" height="1" fill="#000"/>
<rect x="824" y="284" width="5" height="1" fill="#000"/>
<rect x="824" y="302" width="5" height="1" fill="#000"/>
<rect x="824" y="319" width="5" height="1" fill="#000"/>
<rect x="824" y="337" width="5" height="1" fill="#000"/>
<rect x="824" y="355" width="5" height="1" fill="#000"/>
<rect x="824" y="373" width="10" height="1" fill="#000"/>
<rect x="800" y="486" width="24" height="1" fill="#000"/>
<rect x="800" y="615" width="24" height="1" fill="#000"/>
<rect x="800" y="486" width="1" height="130" fill="#000"/>
<rect x="823" y="486" width="1" height="130" fill="#000"/>
<rect x="802" y="488" width="20" height="126" fill="url(#cb)"/>
<rect x="824" y="488" width="10" height="1" fill="#000"/>
<rect x="824" y="513" width="5" height="1" fill="#000"/>
<rect x="824" y="538" width="5" height="1" fill="#000"/>
<rect x="824" y="563" width="5" height="1" fill="#000"/>
<rect x="824" y="588" width="5" height="1" fill="#000"/>
<rect x="824" y="613" width="10" height="1" fill="#000"/>
<text x="102.92 113.48 124.14 139.6 148.46 162.51 174.18 178.43 188.05 199.17 207.02 217.39 222.71 228.83 243.7 253.01 265.77 275.4 283.04 288.55 299.63 313.8" y="58.5" font-size="21.22" font-family="'Liberation Sans','DejaVu Sans',sans-serif" stroke="#000" stroke-width="0.6" xml:space="preserve">The University of Iowa</text>
<text x="350.88 377.75 401.31 428.57 448.7 472.33 481.48 509.62 525.45 548.49 581.39 597.97 614.01 644.19 669.01" y="58.6" font-size="37.31" font-family="'DejaVu Sans Light','DejaVu Sans','Liberation Sans',sans-serif" stroke="#000" stroke-width="0.35" xml:space="preserve">GEOTAIL PWI MCA</text>
<text x="92.14 105.76 119.35 136.51 149.44 162.94 179 188.08 195.71 210.31 223.54 240.1 248.71 262.29 275.83 286.6 296.14 309.2 322.07 328.78 341.84 354.72 361.43 374.49 390.6 399.67 411.54" y="88.2" font-size="20.85" font-family="'DejaVu Sans Light','DejaVu Sans','Liberation Sans',sans-serif" stroke="#000" stroke-width="0.3" transform="scale(1.1 1)" xml:space="preserve">03<tspan textLength="16.2" lengthAdjust="spacingAndGlyphs">-</tspan>290 (OCT 17) 00:00:00 UT</text>
<text x="567.83 581.31 597.69 606.73 618.29 628" y="88.2" font-size="20.85" font-family="'DejaVu Sans Light','DejaVu Sans','Liberation Sans',sans-serif" stroke="#000" stroke-width="0.3" transform="scale(1.1 1)" xml:space="preserve">24 hrs</text>
<text x="78.75 93.41 111.98 122.44 137.33" y="182.4" font-size="20.3" font-family="'DejaVu Sans Light','DejaVu Sans','Liberation Sans',sans-serif" stroke="#000" stroke-width="0.45" transform="scale(0.88 1)" xml:space="preserve">00:00</text>
<text x="78.75 93.41 111.98 122.44 137.33" y="654.7" font-size="20.3" font-family="'DejaVu Sans Light','DejaVu Sans','Liberation Sans',sans-serif" stroke="#000" stroke-width="0.45" transform="scale(0.88 1)" xml:space="preserve">00:00</text>
<text x="192.38 207.32 225.61 236.08 250.96" y="182.4" font-size="20.3" font-family="'DejaVu Sans Light','DejaVu Sans','Liberation Sans',sans-serif" stroke="#000" stroke-width="0.45" transform="scale(0.88 1)" xml:space="preserve">04:00</text>
<text x="192.38 207.32 225.61 236.08 250.96" y="654.7" font-size="20.3" font-family="'DejaVu Sans Light','DejaVu Sans','Liberation Sans',sans-serif" stroke="#000" stroke-width="0.45" transform="scale(0.88 1)" xml:space="preserve">04:00</text>
<text x="306.02 320.65 339.25 349.71 364.6" y="182.4" font-size="20.3" font-family="'DejaVu Sans Light','DejaVu Sans','Liberation Sans',sans-serif" stroke="#000" stroke-width="0.45" transform="scale(0.88 1)" xml:space="preserve">08:00</text>
<text x="306.02 320.65 339.25 349.71 364.6" y="654.7" font-size="20.3" font-family="'DejaVu Sans Light','DejaVu Sans','Liberation Sans',sans-serif" stroke="#000" stroke-width="0.45" transform="scale(0.88 1)" xml:space="preserve">08:00</text>
<text x="419.69 434.59 452.89 463.35 478.24" y="182.4" font-size="20.3" font-family="'DejaVu Sans Light','DejaVu Sans','Liberation Sans',sans-serif" stroke="#000" stroke-width="0.45" transform="scale(0.88 1)" xml:space="preserve">12:00</text>
<text x="419.69 434.59 452.89 463.35 478.24" y="654.7" font-size="20.3" font-family="'DejaVu Sans Light','DejaVu Sans','Liberation Sans',sans-serif" stroke="#000" stroke-width="0.45" transform="scale(0.88 1)" xml:space="preserve">12:00</text>
<text x="533.33 547.81 566.52 576.99 591.87" y="182.4" font-size="20.3" font-family="'DejaVu Sans Light','DejaVu Sans','Liberation Sans',sans-serif" stroke="#000" stroke-width="0.45" transform="scale(0.88 1)" xml:space="preserve">16:00</text>
<text x="533.33 547.81 566.52 576.99 591.87" y="654.7" font-size="20.3" font-family="'DejaVu Sans Light','DejaVu Sans','Liberation Sans',sans-serif" stroke="#000" stroke-width="0.45" transform="scale(0.88 1)" xml:space="preserve">16:00</text>
<text x="647.21 661.59 680.16 690.62 705.51" y="182.4" font-size="20.3" font-family="'DejaVu Sans Light','DejaVu Sans','Liberation Sans',sans-serif" stroke="#000" stroke-width="0.45" transform="scale(0.88 1)" xml:space="preserve">20:00</text>
<text x="647.21 661.59 680.16 690.62 705.51" y="654.7" font-size="20.3" font-family="'DejaVu Sans Light','DejaVu Sans','Liberation Sans',sans-serif" stroke="#000" stroke-width="0.45" transform="scale(0.88 1)" xml:space="preserve">20:00</text>
<text x="760.57 775.22 793.8 804.26 819.14" y="654.7" font-size="20.3" font-family="'DejaVu Sans Light','DejaVu Sans','Liberation Sans',sans-serif" stroke="#000" stroke-width="0.45" transform="scale(0.88 1)" xml:space="preserve">00:00</text>
<text x="730.04 740.83" y="182.7" font-size="14.95" font-family="'DejaVu Sans Light','DejaVu Sans','Liberation Sans',sans-serif" stroke="#000" stroke-width="0.35" transform="scale(0.88 1)" xml:space="preserve">UT</text>
<text x="730.04 740.83" y="655" font-size="14.95" font-family="'DejaVu Sans Light','DejaVu Sans','Liberation Sans',sans-serif" stroke="#000" stroke-width="0.35" transform="scale(0.88 1)" xml:space="preserve">UT</text>
<text x="45.38 58.79 72.24 83.88" y="229.9" font-size="19.62" font-family="'DejaVu Sans Light','DejaVu Sans','Liberation Sans',sans-serif" stroke="#000" stroke-width="0.45" transform="scale(0.9 1)" xml:space="preserve">100K</text>
<text x="58.83 72.24 83.88" y="269.9" font-size="19.62" font-family="'DejaVu Sans Light','DejaVu Sans','Liberation Sans',sans-serif" stroke="#000" stroke-width="0.45" transform="scale(0.9 1)" xml:space="preserve">10K</text>
<text x="72.27 83.88" y="309.9" font-size="19.62" font-family="'DejaVu Sans Light','DejaVu Sans','Liberation Sans',sans-serif" stroke="#000" stroke-width="0.45" transform="scale(0.9 1)" xml:space="preserve">1K</text>
<text x="45.38 58.79 72.24" y="349.9" font-size="19.62" font-family="'DejaVu Sans Light','DejaVu Sans','Liberation Sans',sans-serif" stroke="#000" stroke-width="0.45" transform="scale(0.9 1)" xml:space="preserve">100</text>
<text x="58.83 72.24" y="389.9" font-size="19.62" font-family="'DejaVu Sans Light','DejaVu Sans','Liberation Sans',sans-serif" stroke="#000" stroke-width="0.45" transform="scale(0.9 1)" xml:space="preserve">10</text>
<text x="58.83 72.24 83.88" y="489.9" font-size="19.62" font-family="'DejaVu Sans Light','DejaVu Sans','Liberation Sans',sans-serif" stroke="#000" stroke-width="0.45" transform="scale(0.9 1)" xml:space="preserve">10K</text>
<text x="72.27 83.88" y="529.9" font-size="19.62" font-family="'DejaVu Sans Light','DejaVu Sans','Liberation Sans',sans-serif" stroke="#000" stroke-width="0.45" transform="scale(0.9 1)" xml:space="preserve">1K</text>
<text x="45.38 58.79 72.24" y="569.9" font-size="19.62" font-family="'DejaVu Sans Light','DejaVu Sans','Liberation Sans',sans-serif" stroke="#000" stroke-width="0.45" transform="scale(0.9 1)" xml:space="preserve">100</text>
<text x="58.83 72.24" y="609.9" font-size="19.62" font-family="'DejaVu Sans Light','DejaVu Sans','Liberation Sans',sans-serif" stroke="#000" stroke-width="0.45" transform="scale(0.9 1)" xml:space="preserve">10</text>
<text x="0.35 14.23 28.32 40.73 54.48 68.32 81.26 94.51 108.73 123.4 135.92 145.62 161.27 175.92 190.06 203.4 211.12 225.85 239.66 253.14 266.5" y="0" font-size="20.58" font-family="'DejaVu Sans Light','DejaVu Sans','Liberation Sans',sans-serif" stroke="#000" stroke-width="0.4" transform="translate(28.3 494) rotate(-90) scale(0.9 1)" xml:space="preserve">F<tspan font-size="15.09">REQUENCY</tspan> (Hz)  MCA<tspan textLength="13.71" lengthAdjust="spacingAndGlyphs">-</tspan>E</text>
<text x="-2.21 12.52 26.33 39.81 52.7" y="0" font-size="20.58" font-family="'DejaVu Sans Light','DejaVu Sans','Liberation Sans',sans-serif" stroke="#000" stroke-width="0.4" transform="translate(28.3 578) rotate(-90) scale(0.9 1)" xml:space="preserve">MCA<tspan textLength="13.71" lengthAdjust="spacingAndGlyphs">-</tspan>B</text>
<text x="-0.01 8.72 18 27.87 37.76 47.36 56.81 66.1 74.51 87.45 94.68 104.1 113.1 122.39 131.33 141.53 150.88 160.76 170.21 181.9 191.34 198.54 208.01 219.54 226.94 236.32" y="0" font-size="14.27" font-family="'DejaVu Sans Light','DejaVu Sans','Liberation Sans',sans-serif" stroke="#000" stroke-width="0.25" transform="translate(943 419.5) rotate(-90) scale(0.9 1)" xml:space="preserve">PROCESSED 10<tspan textLength="9.9" lengthAdjust="spacingAndGlyphs">-</tspan>NOV<tspan textLength="9.9" lengthAdjust="spacingAndGlyphs">-</tspan>00  01:50</text>
<text x="-0.64 9.81 18.99 28.48 37.77 46.76 59.12 68.57 75.42 85.23 96.9 104" y="0" font-size="14.27" font-family="'DejaVu Sans Light','DejaVu Sans','Liberation Sans',sans-serif" stroke="#000" stroke-width="0.25" transform="translate(943 619) rotate(-90) scale(0.9 1)" xml:space="preserve">GTLSPC  V1.9</text>
<text x="0.47 6.52 14 21.11 29.07 35.51 44.43 49.79 56.9" y="0" font-size="9.6" font-family="'DejaVu Sans Light','DejaVu Sans','Liberation Sans',sans-serif" stroke="#000" stroke-width="0.25" transform="translate(943 714) rotate(-90) scale(0.9 1)" xml:space="preserve">SMOOTH<tspan font-size="11.25"> 11</tspan></text>
<text x="889.03 896.87 905.49 915.14 921.28 929.18 936.4 945.14 953.3 963.26 971.28 979.44 985.58 993.91 1000.7 1009.44 1017.61 1027.56 1034.7" y="428.6" font-size="10.97" font-family="'DejaVu Sans Light','DejaVu Sans','Liberation Sans',sans-serif" stroke="#000" stroke-width="0.25" transform="scale(0.8 1)" xml:space="preserve">ANT EX+BX:| EY+BZ:_</text>
<text x="887.48 897.44 904.85 915.14 920.18 929.31 939.15 947.17 955.32 963.36 971.4 979.44 984.78 995.65 1003.45 1010.59" y="443.6" font-size="10.97" font-family="'DejaVu Sans Light','DejaVu Sans','Liberation Sans',sans-serif" stroke="#000" stroke-width="0.25" transform="scale(0.8 1)" xml:space="preserve">WFC ME:|    DI:_</text>
<text x="888.03 897.16 904.11 915.14 919.63 928.76 939.15 947.17 955.32 963.36 971.4 979.44 985.03 992.82 1003.45 1010.59" y="458.8" font-size="10.97" font-family="'DejaVu Sans Light','DejaVu Sans','Liberation Sans',sans-serif" stroke="#000" stroke-width="0.25" transform="scale(0.8 1)" xml:space="preserve">MEM WR:|    RD:_</text>
<text x="889.25 896.82 907.1 912.15 920.79 929.59 939.15 947.17 955.32 963.36 971.4 977.54 983.93 995.65 1003.45 1010.59" y="674" font-size="10.97" font-family="'DejaVu Sans Light','DejaVu Sans','Liberation Sans',sans-serif" stroke="#000" stroke-width="0.25" transform="scale(0.8 1)" xml:space="preserve">SC MGF:|   PWI:_</text>
<text x="120.04 129.22 142.16 150.35 159.34 169.47 181.56 188.76" y="709" font-size="11.39" font-family="'DejaVu Sans Light','DejaVu Sans','Liberation Sans',sans-serif" stroke="#000" stroke-width="0.25" transform="scale(0.85 1)" xml:space="preserve">EDITOR<tspan font-size="14.27"> B</tspan></text>
<text x="236.76 246.81 257.47 267.52 277.59 287.6 298 306.85 316.85 327.88 338.35 348.34 358.4 370.57 380.23 387.32 398.29 408.85 418.41 431.06 438.02 448.7 461.24 468.98 477.85 490.87 498.37 509.06 520.29 529.33 538.21 550.46 558.98 568.93 579.58 590.7 600 609.87 619.93 630.17 640.07 650.1 660.19 670.4 681.23 689.99 700.4 710.48 722.77 730.51 740.63 750.72 763 770.83" y="709" font-size="14.27" font-family="'DejaVu Sans Light','DejaVu Sans','Liberation Sans',sans-serif" stroke="#000" stroke-width="0.25" transform="scale(0.85 1)" xml:space="preserve">RRAVAX$DKA500:[DATA.GE.SD]GE_SD_NUL_20031017_V01.S01;1</text>
<text x="942.8 953.07 965.01 970.65 982.58 990.89" y="709" font-size="14.27" font-family="'DejaVu Sans Light','DejaVu Sans','Liberation Sans',sans-serif" stroke="#000" stroke-width="0.25" transform="scale(0.85 1)" xml:space="preserve">F<tspan font-size="11.25">G</tspan>:WBW</text>
<text x="715.27 723.13 731.63 736.21 741.07 747.26 758.67 766.42 772.36" y="192.8" font-size="11.8" font-family="'DejaVu Sans Light','DejaVu Sans','Liberation Sans',sans-serif" stroke="#000" stroke-width="0.25" xml:space="preserve">Ne (cm<tspan textLength="6.17" lengthAdjust="spacingAndGlyphs" font-size="7.68" dy="-4">-</tspan><tspan font-size="7.68">3</tspan><tspan dy="4">)</tspan></text>
<rect x="716" y="204" width="8" height="1" fill="#000"/>
<text x="730.78 738.59 747.02" y="209.6" font-size="12.89" font-family="'DejaVu Sans Light','DejaVu Sans','Liberation Sans',sans-serif" stroke="#000" stroke-width="0.25" xml:space="preserve">10<tspan font-size="8.5" dy="-4.6">3</tspan></text>
<rect x="716" y="224" width="8" height="1" fill="#000"/>
<text x="730.78 738.59 747.03" y="229.6" font-size="12.89" font-family="'DejaVu Sans Light','DejaVu Sans','Liberation Sans',sans-serif" stroke="#000" stroke-width="0.25" xml:space="preserve">10<tspan font-size="8.5" dy="-4.6">2</tspan></text>
<rect x="716" y="244" width="8" height="1" fill="#000"/>
<text x="730.78 738.59 746.92" y="249.6" font-size="12.89" font-family="'DejaVu Sans Light','DejaVu Sans','Liberation Sans',sans-serif" stroke="#000" stroke-width="0.25" xml:space="preserve">10<tspan font-size="8.5" dy="-4.6">1</tspan></text>
<rect x="716" y="264" width="8" height="1" fill="#000"/>
<text x="730.78 738.59 746.91" y="269.6" font-size="12.89" font-family="'DejaVu Sans Light','DejaVu Sans','Liberation Sans',sans-serif" stroke="#000" stroke-width="0.25" xml:space="preserve">10<tspan font-size="8.5" dy="-4.6">0</tspan></text>
<rect x="716" y="284" width="8" height="1" fill="#000"/>
<text x="730.78 738.59 746.27 754.08" y="289.6" font-size="8.5" font-family="'DejaVu Sans Light','DejaVu Sans','Liberation Sans',sans-serif" stroke="#000" stroke-width="0.25" xml:space="preserve"><tspan font-size="12.89">10</tspan><tspan textLength="6.86" lengthAdjust="spacingAndGlyphs" dy="-4.6">-</tspan>1</text>
<rect x="716" y="304" width="8" height="1" fill="#000"/>
<text x="730.78 738.59 746.27 753.94" y="309.6" font-size="8.5" font-family="'DejaVu Sans Light','DejaVu Sans','Liberation Sans',sans-serif" stroke="#000" stroke-width="0.25" xml:space="preserve"><tspan font-size="12.89">10</tspan><tspan textLength="6.86" lengthAdjust="spacingAndGlyphs" dy="-4.6">-</tspan>2</text>
<rect x="716" y="324" width="8" height="1" fill="#000"/>
<text x="730.78 738.59 746.27 753.98" y="329.6" font-size="8.5" font-family="'DejaVu Sans Light','DejaVu Sans','Liberation Sans',sans-serif" stroke="#000" stroke-width="0.25" xml:space="preserve"><tspan font-size="12.89">10</tspan><tspan textLength="6.86" lengthAdjust="spacingAndGlyphs" dy="-4.6">-</tspan>3</text>
<rect x="716" y="344" width="8" height="1" fill="#000"/>
<text x="730.78 738.59 746.27 753.77" y="349.6" font-size="8.5" font-family="'DejaVu Sans Light','DejaVu Sans','Liberation Sans',sans-serif" stroke="#000" stroke-width="0.25" xml:space="preserve"><tspan font-size="12.89">10</tspan><tspan textLength="6.86" lengthAdjust="spacingAndGlyphs" dy="-4.6">-</tspan>4</text>
<rect x="716" y="364" width="8" height="1" fill="#000"/>
<text x="730.78 738.59 746.27 754.04" y="369.6" font-size="8.5" font-family="'DejaVu Sans Light','DejaVu Sans','Liberation Sans',sans-serif" stroke="#000" stroke-width="0.25" xml:space="preserve"><tspan font-size="12.89">10</tspan><tspan textLength="6.86" lengthAdjust="spacingAndGlyphs" dy="-4.6">-</tspan>5</text>
<rect x="716" y="384" width="8" height="1" fill="#000"/>
<text x="730.78 738.59 746.27 753.83" y="389.6" font-size="8.5" font-family="'DejaVu Sans Light','DejaVu Sans','Liberation Sans',sans-serif" stroke="#000" stroke-width="0.25" xml:space="preserve"><tspan font-size="12.89">10</tspan><tspan textLength="6.86" lengthAdjust="spacingAndGlyphs" dy="-4.6">-</tspan>6</text>
<text x="715.51 724.88 729.71 735.08 742.46 749.91" y="472.6" font-size="11.8" font-family="'DejaVu Sans Light','DejaVu Sans','Liberation Sans',sans-serif" stroke="#000" stroke-width="0.25" xml:space="preserve">B (nT)</text>
<rect x="716" y="485" width="8" height="1" fill="#000"/>
<text x="728.92 737.97 747.19" y="490.6" font-size="12.89" font-family="'DejaVu Sans Light','DejaVu Sans','Liberation Sans',sans-serif" stroke="#000" stroke-width="0.25" xml:space="preserve">300</text>
<rect x="716" y="504" width="8" height="1" fill="#000"/>
<text x="729.98 738.58 747.19" y="509.4" font-size="12.89" font-family="'DejaVu Sans Light','DejaVu Sans','Liberation Sans',sans-serif" stroke="#000" stroke-width="0.25" xml:space="preserve">100</text>
<rect x="716" y="525" width="8" height="1" fill="#000"/>
<text x="737.92 747.19" y="530.2" font-size="12.89" font-family="'DejaVu Sans Light','DejaVu Sans','Liberation Sans',sans-serif" stroke="#000" stroke-width="0.25" xml:space="preserve">30</text>
<rect x="716" y="544" width="8" height="1" fill="#000"/>
<text x="738.98 747.19" y="549.1" font-size="12.89" font-family="'DejaVu Sans Light','DejaVu Sans','Liberation Sans',sans-serif" stroke="#000" stroke-width="0.25" xml:space="preserve">10</text>
<rect x="716" y="564" width="8" height="1" fill="#000"/>
<text x="747.13" y="569.9" font-size="12.89" font-family="'DejaVu Sans Light','DejaVu Sans','Liberation Sans',sans-serif" stroke="#000" stroke-width="0.25" xml:space="preserve">3</text>
<rect x="716" y="583" width="8" height="1" fill="#000"/>
<text x="747.74" y="588.7" font-size="12.89" font-family="'DejaVu Sans Light','DejaVu Sans','Liberation Sans',sans-serif" stroke="#000" stroke-width="0.25" xml:space="preserve">1</text>
<rect x="716" y="604" width="8" height="1" fill="#000"/>
<text x="740.17 747.35" y="609.5" font-size="12.89" font-family="'DejaVu Sans Light','DejaVu Sans','Liberation Sans',sans-serif" stroke="#000" stroke-width="0.25" xml:space="preserve">.3</text>
<text x="844.99 856.37 865.83 871.04" y="259" font-size="13.17" font-family="'DejaVu Sans Light','DejaVu Sans','Liberation Sans',sans-serif" stroke="#000" stroke-width="0.25" xml:space="preserve"><tspan textLength="8.91" lengthAdjust="spacingAndGlyphs">-</tspan>9.0</text>
<text x="836.09 847.33 856.71 866 871.04" y="374" font-size="13.17" font-family="'DejaVu Sans Light','DejaVu Sans','Liberation Sans',sans-serif" stroke="#000" stroke-width="0.25" xml:space="preserve"><tspan textLength="8.91" lengthAdjust="spacingAndGlyphs">-</tspan>16.0</text>
<text x="844.99 856.52 865.83 871.04" y="498.5" font-size="13.17" font-family="'DejaVu Sans Light','DejaVu Sans','Liberation Sans',sans-serif" stroke="#000" stroke-width="0.25" xml:space="preserve"><tspan textLength="8.91" lengthAdjust="spacingAndGlyphs">-</tspan>5.0</text>
<text x="836.09 847.33 856.8 866 871.04" y="613.8" font-size="13.17" font-family="'DejaVu Sans Light','DejaVu Sans','Liberation Sans',sans-serif" stroke="#000" stroke-width="0.25" xml:space="preserve"><tspan textLength="8.91" lengthAdjust="spacingAndGlyphs">-</tspan>10.0</text>
<text x="-1.79 3.61 16.16 28.76 38.64 51.73 61.92 69.44 82.65 94.3 106.61 126.55 138.35 149.69 165.3 176.37" y="0" font-size="20.58" font-family="'DejaVu Sans Light','DejaVu Sans','Liberation Sans',sans-serif" stroke="#000" stroke-width="0.3" transform="translate(793.1 393.5) rotate(-90)" xml:space="preserve">log<tspan font-size="14.27" dy="4.7">10</tspan><tspan dy="-4.7"> (V</tspan><tspan font-size="14.54" dy="-7">2</tspan><tspan textLength="9.7" lengthAdjust="spacingAndGlyphs" dy="7">/</tspan>m<tspan font-size="14.54" dy="-7">2</tspan><tspan textLength="9.7" lengthAdjust="spacingAndGlyphs" dy="7">/</tspan>Hz)</text>
<text x="-1.74 3.66 16.26 29.06 38.79 51.73 62.27 70.02 82.32 94 105.65 117.54 133 144.22" y="0" font-size="20.58" font-family="'DejaVu Sans Light','DejaVu Sans','Liberation Sans',sans-serif" stroke="#000" stroke-width="0.3" transform="translate(793.1 625.8) rotate(-90)" xml:space="preserve">log<tspan font-size="14.27" dy="4.7">10</tspan><tspan dy="-4.7"> (nT</tspan><tspan font-size="14.54" dy="-7">2</tspan><tspan textLength="9.7" lengthAdjust="spacingAndGlyphs" dy="7">/</tspan>Hz)</text>
</svg></div></body></html>
